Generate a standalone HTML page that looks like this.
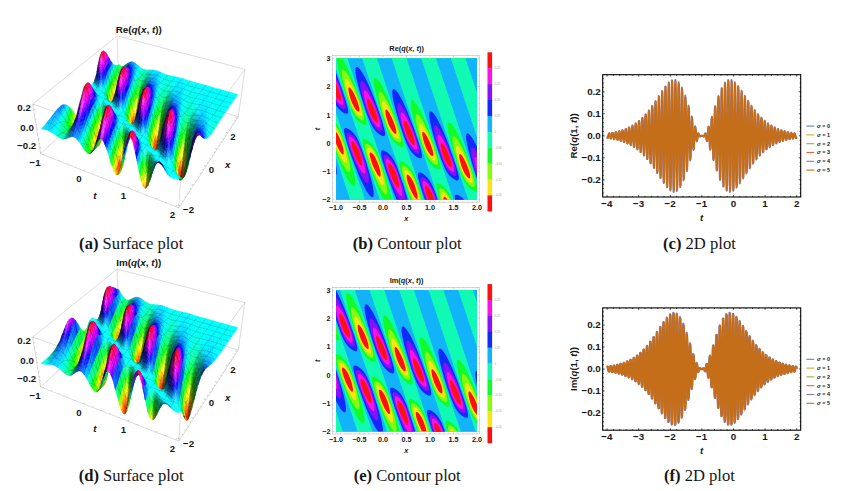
<!DOCTYPE html>
<html lang="en"><head><meta charset="utf-8"><title>Figure</title>
<style>
html,body{margin:0;padding:0;background:#fff;}
body{width:860px;height:491px;overflow:hidden;position:relative;font-family:"Liberation Sans",sans-serif;}
svg{position:absolute;left:0;top:0;display:block;}
svg text{font-family:"Liberation Sans",sans-serif;fill:#161616;}
.s path{fill:currentColor;stroke:currentColor;stroke-width:.45;stroke-linejoin:round}
</style></head><body>
<svg width="860" height="491" viewBox="0 0 860 491">
<rect width="860" height="491" fill="#fff"/>
<g>
<rect x="336" y="58.3" width="141" height="141.4" fill="#fa1111"/>
<path fill="#fae311" fill-rule="evenodd" d="M336.4 199.7L443.5 199.7L443.5 198.5L443.6 197.4L444 196.9L444.4 196.8L445.2 197.1L446 197.7L447.7 199.7L477 199.7L477 58.3L336 58.3L336 131.8L337.6 134L338.7 136L341.1 141.4L343.1 147.8L343.8 152.4L343.5 154L343.1 154.5L342.3 154.2L341.5 153.5L340.3 151.9L338.7 149.3L336 143.5L336 199.7ZM416 198.5L414.2 196.4L411.8 192.2L409.4 187L407.5 181.4L406.6 177.6L406.7 175.3L407.1 174.7L407.5 174.6L408.3 174.9L409.1 175.5L411 177.8L413 181.2L414.6 184.8L416.1 189.4L417.3 194.2L417.6 196.9L417.3 198.6L416.9 198.9L416.1 198.7ZM468.5 178L466.8 176.5L464.8 173.7L462.9 169.7L461.3 165.7L459.8 160.3L459.2 156.8L459.3 154.5L459.7 154L460.5 154.2L462.1 155.8L464 158.9L466.4 163.8L468.4 168.8L469.5 172.5L470.2 176.1L470.2 177.2L469.9 177.9L469.5 178.3L468.8 178.2ZM379.2 176.5L377.6 174.7L375.3 170.8L372.9 165.7L371 160.4L369.9 156.4L369.6 154L369.8 153L370.2 152.5L370.6 152.4L371.3 152.7L372.9 154L374.9 156.8L376.8 160.7L378.4 164.7L380 170.1L380.6 173.7L380.5 176.1L380 176.7L379.6 176.6ZM431.9 156L430.3 154.7L428.3 152.1L426.3 148.4L424.8 144.5L423.2 139.5L422.4 135.5L422.3 132.7L422.7 132L423.2 131.8L424 132.3L424.8 133.1L426.7 136L429.1 140.7L431 145.5L432.6 150.1L433.2 153.2L433.3 154.8L433.1 155.6L432.6 156.1L432.2 156.1ZM394.5 133.5L392.6 131.6L390.6 128.5L388.6 124.4L387.1 120L385.8 115.4L385.3 111.5L385.5 110.2L385.9 109.6L386.3 109.6L387.1 110L389 112.5L391 116L393.3 121.2L395 125.7L396.1 129.7L396.4 132.3L396.1 133.5L395.7 133.8L395.3 133.9L394.5 133.5ZM357.9 111.5L356 109.9L354.1 107L352.1 103.1L350.5 99L349 93.7L348.5 90.2L348.4 88.6L348.6 87.8L349 87.4L349.7 87.5L351.3 89.2L353.3 92.3L355.6 97.1L357.6 102.1L358.8 106L359.5 109.5L359.4 110.7L359.2 111.3L358.8 111.6L358 111.5Z"/>
<path fill="#86fa11" fill-rule="evenodd" d="M336.4 199.7L413.8 199.7L411.4 194.9L409.1 189.4L406.7 183.1L405.1 178.1L404.3 174.5L404.1 171.7L404.4 170.6L404.7 170.1L405.5 170L406.3 170.2L407.5 170.9L409.4 172.8L411.4 175.5L413.4 179L415.3 183.4L417.3 188.8L418.9 194.2L420.2 199.7L441.9 199.7L441.1 196.2L441 193.8L441.4 192.6L442 192.2L442.4 192.2L444 192.8L446 194.6L447.9 197.1L449.5 199.7L477 199.7L477 58.3L336 58.3L336 128.8L338 131.7L339.5 134.6L341.5 139L343.1 143.2L344.6 148.1L345.9 152.8L346.6 156.8L347 160.3L346.6 162.3L346.2 162.7L345.8 162.8L344.6 162.1L343.5 160.9L341.9 158.7L339.9 155.3L336 146.9L336 199.7ZM382.1 184.7L380.8 183.6L379.6 182.1L376.5 176.7L372.9 169.1L369.7 160.7L367.8 154.3L367.2 150.1L367.4 148.5L367.8 147.9L368.6 147.7L369.8 148.1L372.1 150.1L374.9 153.9L377.6 159.3L380 165.4L382.3 173.2L383.7 180L383.9 182.4L383.7 183.9L383.1 184.9L382.3 184.9ZM470.5 182.8L469.1 181.9L468 180.9L465.2 177.2L462.5 172L460.1 166.1L457.7 158.3L456.2 151.2L456 148.5L456.1 146.9L456.6 145.9L457.4 145.8L458.5 146.6L459.7 147.9L462.9 153L466.4 160.4L469.5 168.4L471.7 175.3L472.6 180L472.6 181.6L472.3 182.5L471.5 183L470.7 182.9ZM434.1 160.7L433 160.3L431.4 159L428.7 155.6L425.9 150.6L423.6 144.9L420.8 136.3L419.3 128.9L419.1 126.4L419.2 124.5L419.7 123.7L420.4 123.6L421.6 124.4L422.8 125.7L425.5 130.1L429.1 137.3L432.2 145.1L434.6 152.2L435.7 157.2L435.7 158.7L435.5 159.9L435 160.6L434.2 160.7ZM396.5 138.3L395.3 137.5L393.7 136L391 132.2L388.2 126.7L385.9 120.5L383.5 112.5L382.3 106L382.1 103.6L382.3 102.1L382.7 101.5L383.1 101.3L383.9 101.5L385.1 102.6L386.3 104L389.4 109.3L392.9 116.9L396.1 125L398.1 131.4L398.8 135.9L398.7 137.5L398.3 138.3L397.7 138.5L396.5 138.3ZM359.9 116.2L358.8 115.6L357.2 114.2L354.5 110.6L351.7 105.3L349.4 99.4L347 91.8L345.4 84.4L345.2 81.9L345.4 80L345.8 79.3L346.6 79.1L347.8 79.9L349 81.3L352.1 86.3L355.6 93.7L358.8 101.7L361.1 109.1L361.9 113.4L361.8 115L361.5 115.9L360.7 116.3L360 116.2Z"/>
<path fill="#11fa29" fill-rule="evenodd" d="M336.4 199.7L412.1 199.7L409.4 193.4L406.7 186.2L404.3 179.3L402.7 173.7L402 170.2L401.9 167.8L402 167L402.4 166.3L402.8 166L403.6 165.8L404.7 166.2L405.9 166.8L408.3 168.8L410.6 171.7L413 175.5L415.1 180L417.3 185.7L419.7 192.7L421.7 199.7L440.7 199.7L439.3 194.4L438.8 190.6L438.9 189.5L439.2 188.7L439.7 188.2L440.5 188.1L441.7 188.4L442.8 189L444.4 190.3L446 191.9L448.5 195.4L450.9 199.7L477 199.7L477 58.3L336 58.3L336 126.2L338.4 129.7L340.3 133.5L342.3 138.1L344.6 144.6L347 152.2L348.9 159.5L350 165L350.4 169L350.1 171.2L349.7 171.9L349.4 172.1L348.6 172L347.8 171.5L345.8 169.4L343.5 165.8L341.1 161.4L338.7 156.4L336 150L336 199.7ZM385.4 194.2L383.9 193L382 190.5L380 187.3L377.6 182.8L372.9 172.2L368.2 159.4L365.7 150.9L365.1 147.7L364.9 145.7L365.2 144.6L365.8 143.8L367 143.7L368.6 144.4L370.2 145.5L372.1 147.4L373.7 149.4L375.3 151.9L378.4 158.4L381.6 166.8L385.1 178.7L386.3 183.7L387 187.9L387.3 191L387.1 193.4L386.7 194.1L386.3 194.3L385.5 194.2ZM471.9 186.7L470.3 185.7L468.4 184L466.4 181.6L464.8 179.3L461.7 173L458.5 164.7L455 153L453.8 148.1L452.8 143L452.5 139.8L452.7 137.5L453 136.8L453.4 136.4L453.8 136.3L454.6 136.6L456.2 138L457.8 140L459.7 143.2L462.1 147.6L466.8 158.2L471.1 169.7L473.9 178.6L474.6 182L474.9 184.3L474.7 185.9L474.3 186.8L473.5 187.1L471.9 186.7ZM435.3 164.6L433.8 163.8L431.8 162.2L430.3 160.4L428.7 158.3L427.1 155.7L425.5 152.5L422.4 144.7L418.5 132.3L416.9 126.1L416.1 122.1L415.7 118.6L415.7 115.8L416.1 114.6L416.5 114.2L417.3 114.2L418.9 115.3L420.4 117.3L422.4 120.3L424.4 123.9L428.7 133.2L433.4 145.3L436.5 154.9L437.4 158.3L437.9 161.1L437.9 163.1L437.6 164.3L437.2 164.6L436.5 164.9L435.4 164.7ZM399 142.6L397.3 141.8L395.7 140.7L393.7 138.7L392.2 136.7L390.6 134.2L389 131.1L385.9 123.6L382 111.4L380.4 105.5L379.2 100.1L378.7 96.1L378.8 93.5L379.4 92.2L380 91.9L380.4 92L381.6 92.8L383.1 94.5L385.1 97.4L387.1 100.9L391 109.1L395.3 119.8L398.8 130.1L400.8 137.6L401.1 139.8L400.9 141.4L400.4 142.3L400 142.6L399.2 142.6ZM361.3 120.1L359.6 119.1L358 117.7L356 115.5L354.5 113.3L351.6 107.9L348.6 100.2L344.6 87.8L343.1 81.6L342.3 77.6L341.8 74.1L341.9 71.3L342.3 70.1L342.7 69.8L343.5 69.8L345 70.9L346.6 72.8L348.6 75.9L350.5 79.4L354.9 88.7L359.6 100.8L362.7 110.5L363.7 114.2L364.1 117L364.1 119L363.5 120.1L362.7 120.4L361.5 120.2Z"/>
<path fill="#11fab4" fill-rule="evenodd" d="M336.4 199.7L383.6 199.7L379.6 191.7L374.9 180.5L370.2 168L365.5 154.1L363.4 146.9L362.5 142.2L362.5 140.6L362.8 139.8L363.5 139.2L364.3 139.1L365.8 139.6L367.4 140.4L369.4 141.8L371.3 143.6L372.9 145.4L374.5 147.6L377.2 152.8L381.2 162.8L385.9 177.2L389.4 189.6L391.7 199.7L410.6 199.7L404.3 182.3L400.3 169.4L399.6 165.8L399.4 163.5L399.8 161.9L400.2 161.5L400.8 161.3L402 161.5L403.6 162.1L406.7 164.3L409.7 167.4L412.2 171.1L414.3 175.3L416.7 181.2L419.7 189.6L422.9 199.7L439.7 199.7L437.3 191.8L436.3 187.1L436.3 185.5L436.5 184.3L436.9 183.8L437.7 183.5L439.3 183.8L441.7 185.1L444 186.9L446 188.9L447.5 190.9L449.1 193.3L452.2 199.7L477 199.7L477 191L476.6 191.4L475.8 191.6L473.9 191.1L471.1 189.4L468.4 187L466.4 184.7L464.4 181.6L462.6 178L460.9 173.9L455.8 159.3L451.1 143.6L448.4 132.3L447.9 128.8L447.6 125.7L447.9 123.4L448.5 122.5L449.5 122.4L451.1 123.5L452.6 125.3L454.6 128.2L458.9 136.3L463.6 147L469.1 161.3L474.3 176.5L475.9 181.6L477 186.1L477 58.3L341.6 58.3L343.5 60.9L345.4 64.3L349.7 73L354.5 84.2L359.6 97.9L363.9 110.8L366.2 119.4L366.6 122.1L366.5 123.7L366.2 124.4L365.8 124.7L365.1 125L363.5 124.6L361.5 123.6L359.6 122.2L357.4 120.1L355.6 118L354.2 115.8L351.4 110.3L347.4 99.7L342.3 83.8L339.6 74.1L338 67.4L337.1 62.2L336.9 58.3L336 58.3L336 123.2L338.5 126.8L340.9 132L343.7 139L347 148.8L350.6 160.3L353.3 170.5L354.8 178L355.3 182.8L355.2 184.3L354.9 185.4L354.5 186L353.7 186.1L352.9 185.8L351.7 184.9L349 181.3L346.2 176.6L343.1 170.3L339.5 162.2L336 153.2L336 199.7ZM438.8 169.4L436.9 168.9L434.6 167.5L432.2 165.6L430.3 163.4L428.5 161.1L426.9 158.3L423.6 150.7L420.4 141.9L416.9 130.9L414.2 121.4L412.2 113.6L411.1 107.5L410.7 103.6L411 101.2L411.4 100.4L412.2 100.1L413 100.4L413.8 100.9L415.3 102.6L417.3 105.4L419.3 108.7L424 118.3L429.1 130.7L435.4 148.1L438.1 156.4L439.6 161.9L440.3 165L440.5 167.4L440.1 168.8L439.7 169.2L438.9 169.4ZM400.7 146.9L398.4 145.8L396.1 144.1L394.1 142.1L392.2 139.7L390.6 137.2L389 134.1L385.5 125.3L382.3 116.1L379.2 106L376.5 96.2L374.9 89.5L374 84.3L373.9 80.4L374.1 79L374.5 78.2L374.9 78L375.7 78L377.2 79.1L379.2 81.4L381.6 85.1L383.9 89.4L389 100.6L394.9 115.8L400.4 131.8L402 137.1L403.2 141.8L403.6 145L403.2 146.5L402.4 147.1L400.8 147Z"/>
<path fill="#11b4fa" fill-rule="evenodd" d="M336.4 199.7L350.1 199.7L336 157.2L336 199.7ZM365.1 199.7L379.7 199.7L356.9 131.2L355.6 126.8L355 126L354.5 124.1L336 68.4L336 112.8L336.5 115L337.1 115.8L364.9 199.7ZM394.5 199.7L409.2 199.7L392.6 149.7L392.6 148.9L391.9 148.1L362.2 58.3L347.4 58.3L373.5 137.1L374.1 137.9L374.5 139.8L394.4 199.7ZM424 199.7L438.7 199.7L429.4 171.3L428.8 170.6L428.7 169.8L427.8 167L391.7 58.3L376.9 58.3L409.8 157.2L410.4 159.1L410.2 159.5L410.9 159.9L423.9 199.7ZM453.4 199.6L453.5 199.7L468.3 199.7L466.4 194.2L466.4 193.4L465.8 192.6L421.2 58.3L406.5 58.3L446.4 178.4L447.3 181.6L447.9 182.4L453.3 199.3ZM477 181.6L477 137.2L450.8 58.3L436 58.3L477 181.6ZM477 92.8L477 58.3L465.5 58.3L476.9 92.6Z"/>
<path fill="#1129fa" fill-rule="evenodd" d="M396.9 199.7L407.6 199.7L406.3 195L403.2 184.6L399.6 173.9L396.7 166.2L394.3 161.1L391.8 157L389 153.9L387.5 152.6L385.5 151.3L383.9 150.5L382.7 150.2L382 150.3L381.3 150.9L380.9 152.4L381.2 155.2L382.3 159.9L385.1 168.8L389 180.2L392.9 190.6L396.7 199.7ZM425.2 199.7L437.8 199.7L435.4 192.9L433.2 187.5L431.4 183.7L429.5 180.3L427.1 177.3L424.4 174.8L421.6 173.1L420.4 172.6L419.3 172.4L418.5 172.7L417.9 173.7L417.8 175.3L418.2 178L420.4 186.1L425 199.7ZM455 199.5L455 199.7L464.2 199.7L462.1 197.6L460.1 196.2L458.1 195.1L456.6 194.7L455.4 194.9L454.9 195.8L454.7 197.3L455 199.3ZM371.3 196.9L372.5 197.2L373 196.9L373.4 196.2L373.7 193.4L373.3 189.5L372.5 185L371 178.4L366.2 162.3L361.5 148.4L358 140L356.2 136.7L354.5 134.3L352.5 132.1L350.1 130.1L348.2 128.8L346.2 128.1L345 128.1L344.5 128.4L344.1 129.2L344 130.8L344.4 133.5L347 143L350.1 152.4L354.1 163.3L357.6 172.3L360.7 179.7L363.9 186.2L366.6 191.2L369.4 195.1L371.3 196.9ZM457 180.5L458.1 180.3L458.7 179.6L458.9 178.8L458.8 176.9L458.2 173.3L456.6 167.8L454.2 160.4L448.3 143.8L442.8 130.3L438.1 120.5L435.8 116.5L433.8 113.7L432.2 112L431.4 111.5L430.7 111.2L429.9 111.6L429.5 112.3L429.2 114.6L429.5 118.6L430.7 124.7L432.6 132.5L435.4 142L438.5 151.8L441.7 160.8L445 168.6L446.5 171.3L448.1 173.7L449.9 175.9L452.3 178L454.6 179.6L456.6 180.4ZM477 178.6L477 146.6L474.6 142L472.7 138.7L470.7 135.9L469.1 134.2L468 133.5L467.2 133.5L466.8 133.8L466.3 134.7L466.1 136.7L466.3 139.4L466.8 143L468.8 151.8L472.3 164.3L476.9 178.4ZM336.3 174.5L336.7 172.9L336.8 170.9L336 164.7L336 174.9ZM419.3 158.1L420.8 158.2L421.7 157.6L422 156L421.7 153.2L420.8 149.3L418.9 143L413.4 126.9L407.5 111.7L402.4 100.6L400 96.2L397.7 92.5L395.7 90.2L394.1 89.1L393.3 89.1L392.9 89.4L392.5 90.2L392.3 91.8L392.5 95.7L393.3 100.6L394.9 107.3L397.3 115.8L400.8 127.2L403.9 136.4L407.5 145.2L409.1 148.3L410.6 150.8L412.6 153.3L414.6 155.2L416.9 156.9L418.9 157.9ZM382.7 136L383.5 136.1L384.2 135.9L384.9 135.1L385.1 133.1L384.7 130.4L383.5 125.9L381.6 119.5L375.7 102.5L370.2 88.6L365.1 77.6L362.7 73.3L360.7 70.3L358.8 68L357.2 66.9L356.4 66.9L356 67.1L355.6 67.9L355.4 69.3L355.6 73.3L356.4 78.4L358 85.1L360.7 94.9L364.3 106.2L367.3 115L370.7 123.3L372.4 126.4L373.9 128.8L375.7 131L378 133.3L380.4 134.9L382.5 135.9ZM346.6 113.8L347.4 113.6L347.8 113.3L348.2 111.9L348 109.5L347.1 105.6L345.4 99.7L342.7 91.4L336 73.1L336 105.2L338.4 108.4L341.1 111.1L343.9 113L345.4 113.6L346.4 113.8Z"/>
<path fill="#8611fa" fill-rule="evenodd" d="M399.2 199.7L405.6 199.7L405 196.2L404 191.4L401.2 181.6L397.3 170.4L395.3 166L393.3 162.3L391.4 159.5L389 156.9L387.1 155.5L385.1 154.7L384.3 154.9L383.7 155.6L383.4 156.4L383.4 157.9L384.2 162.3L385.9 168.2L389 177.2L392.6 186.1L396.1 193.9L399.2 199.7ZM425.9 199.4L426 199.7L436.8 199.7L435.4 195.7L432.1 187.9L430.4 184.7L428.7 182.2L426.7 179.9L424.4 177.9L422.4 177L421.2 177.1L420.7 177.6L420.3 178.8L420.4 180.8L420.8 183.2L422.8 190.4L425.9 199.3ZM457.8 199.7L460.6 199.7L458.9 199.2L458.1 199.3L457.7 199.7ZM367.4 183.3L367.8 183.2L368.4 182.8L368.8 181.2L368.8 178.4L368.2 174.5L365.8 164.6L361.9 152.3L358.8 144.6L357.2 141.5L355.6 138.9L354.1 136.8L352.1 134.7L350.5 133.5L349 132.7L347.8 132.5L346.9 133.1L346.5 134.3L346.6 136.3L347 139L348.2 143.4L351.3 152.8L356 164.8L360.4 174L362.3 177.5L364.3 180.5L365.8 182.3L367.1 183.2ZM453.8 175.8L455 176L455.8 175.7L456.3 174.5L456.4 172.5L455.9 169.8L455.1 166.2L451.9 156.4L447.2 144.3L442.8 135L440.9 131.4L438.9 128.4L437.3 126.5L435.8 125.3L435 125.3L434.6 125.7L434.2 126.8L434.1 129.6L434.6 133.1L435.4 137.2L436.9 143.4L440.9 155.8L443.9 163.5L446.8 168.8L448.3 171.1L450.3 173.3L451.9 174.6L453.6 175.7ZM477 175.8L477 152.3L474.6 149.1L473.5 148L472.7 147.5L471.9 147.5L471.5 147.9L471.1 148.9L471 150.5L471.5 155.2L472.7 161.1L474.6 168.4L477 175.7ZM417.3 153.7L418.5 153.7L419.3 152.9L419.5 151.6L419.4 149.7L418.9 146.8L417.7 142.6L414.6 133.1L409.8 121.1L405.5 112L403.6 108.5L401.6 105.6L400 103.9L398.8 103.1L397.9 103.2L397.6 103.6L397.3 104.6L397.2 107.1L397.7 111L398.5 115L400 121.1L403.9 133.6L407.1 141.4L408.7 144.6L410.2 147.2L411.8 149.3L413.8 151.4L415.7 153L417.1 153.6ZM379.6 131.2L381.2 131.5L382 131.2L382.5 130.4L382.6 128.8L382.3 126.4L381.6 123L378.8 114.2L374.5 102.7L369.8 92.1L367.4 87.6L365.5 84.5L363.9 82.4L362.3 81.1L361.5 80.8L361.1 80.9L360.7 81.3L360.5 81.9L360.3 84.3L360.5 87.4L361.5 92.6L362.7 97.5L366.2 109.1L369.4 117.4L372.5 123.7L374.1 126.1L376.1 128.5L378 130.2L379.6 131.2ZM343.1 109.1L343.9 109.3L344.6 109.3L345 109L345.5 108.3L345.7 106.4L345.1 102.8L343.9 98L341.5 90.8L338.7 83.4L336 76.7L336 102.1L337.6 104.4L339.5 106.6L341.5 108.3L343 109.1Z"/>
<path fill="#fa11e3" fill-rule="evenodd" d="M427.1 199.5L427.2 199.7L435.7 199.7L434.2 195.5L431.4 189.3L428.7 184.9L427.1 183L425.5 181.7L424.4 181.1L423.6 181.1L423.2 181.3L422.7 182L422.5 183.2L423 186.7L424.4 191.8L427 199.3ZM400.4 195.8L401.2 196.1L401.6 196L402 195.6L402.3 194.2L402.3 192.6L401.5 187.5L399.6 180.2L397.3 173.3L394.5 167.1L392.2 163.2L390.6 161.2L389.4 160.1L388.2 159.3L387.1 158.8L386.3 159L385.8 159.9L385.6 161.5L385.9 163.5L387.4 169.4L390.6 178.3L394.1 186.3L397.7 192.6L399.2 194.7L400.4 195.8ZM363.9 173.8L364.7 173.8L365.2 172.9L365.4 171.3L365.3 169L363.9 162.1L361.5 154.3L359.2 148.2L356.4 142.8L353.7 139L351.3 137L350.1 136.6L349.4 136.8L348.9 137.5L348.7 139L349.4 143.2L351.3 149.8L354.5 158L358 165.6L361.1 171L362.7 172.9L363.8 173.7ZM477 172.4L477 157.7L475.8 156.9L475 157L474.6 157.9L474.4 159.5L475 164.6L476.9 172.1ZM452.3 171.7L453 171.9L453.8 171.4L454.1 170.6L454.2 169L453.4 164.6L451.1 157.2L447.9 149.3L444.4 141.9L441.3 136.8L440.1 135.5L438.9 134.7L438.1 134.8L437.6 135.9L437.5 137.5L437.7 140L439.3 147.3L441.7 155L444 160.9L446.8 166.1L449.5 169.8L451.1 171.1L452.2 171.7ZM414.9 149.4L416.1 149.6L416.8 149.3L417.2 148.5L417.3 147.3L417.1 145.3L416.5 142.6L414.6 136.1L411.4 128L407.9 120.4L404.7 115.1L403.6 113.7L402.4 112.6L401.6 112.4L401.2 112.6L400.8 113.2L400.6 114.6L400.7 117L402 123.6L404.3 131.6L406.7 137.8L409.4 143.3L412.2 147.1L413.4 148.3L414.8 149.3ZM378.4 127.3L379.2 127.4L380 127L380.3 126L380.4 124.5L379.5 120.1L377.2 112.8L374.1 104.8L370.6 97.4L367.4 92.4L366.2 91L365.1 90.2L364.3 90.4L363.8 91.4L363.7 93L363.9 95.5L365.4 102.8L367.8 110.5L370.2 116.4L372.9 121.7L375.7 125.3L376.8 126.4L378.2 127.2ZM341.9 105.2L342.7 105.1L343.1 104.8L343.4 103.6L343.4 101.6L342.9 98.9L340.3 90.6L338.4 85.4L336 80L336 99.5L337.6 101.7L339.1 103.5L340.7 104.7L341.8 105.2Z"/>
<path fill="#fa1111" fill-rule="evenodd" d="M428.7 199.7L434.3 199.7L432.6 194.9L430.3 190.2L427.9 186.9L426.7 186L425.9 185.7L425.4 185.9L425.1 186.7L425.2 189.5L426.3 193.8L428.6 199.7ZM397.7 187.5L398.4 187.8L398.8 187.5L399.1 185.9L398.8 183.1L397.7 178.2L396.1 173.7L394.5 170.1L392.6 166.7L390.6 164.3L389.8 163.8L389 163.5L388.6 163.6L388.2 164.3L388.2 166.6L389 170.3L391 175.9L393.3 181.1L395.7 185.3L397.6 187.5ZM450.3 167.1L451.1 167.2L451.5 166.8L451.7 165L451.1 161.5L449.9 157.7L447.9 152.7L445.6 147.8L443.6 144.7L442 143.1L441.3 142.9L440.9 143.4L440.7 145.7L441.3 149.3L442.8 154.5L444.4 158.6L446.4 162.6L448.3 165.4L450.2 167ZM361.1 165.5L361.5 165.6L362 165L362.2 162.7L361.5 158.9L360 153.6L358.4 149.6L356.4 145.7L354.5 142.9L352.9 141.5L352.1 141.3L351.7 141.4L351.3 141.9L351.2 143L351.7 146.5L352.9 150.5L354.9 155.5L357.2 160.4L359.2 163.6L360.4 165L360.9 165.4ZM413.8 145L414.2 145L414.6 144.6L414.8 143.8L414.8 142.2L414.1 139L412.6 134.3L410.6 129.6L408.3 124.9L406.3 122L405.5 121.2L404.7 120.7L404.3 120.7L403.9 121.3L403.8 122.5L403.9 124.5L404.7 128.4L406.3 133.4L407.9 137.3L409.8 141L411.8 143.6L413 144.7L413.7 145ZM376.5 122.6L377.2 122.7L377.6 122.4L377.9 120.9L377.4 117.8L376.1 113.2L374.1 108.2L371.7 103.4L369.8 100.3L368.2 98.7L367.4 98.5L367 99.1L366.9 101.2L367.5 104.8L369 110.1L370.6 114.2L372.5 118.1L374.5 121L376.2 122.5ZM339.9 100.6L340.3 100.5L340.7 100.2L340.9 99.7L341 98.1L340.7 96.1L338.7 89.9L336 83.5L336 96.6L338 99.2L339.6 100.4Z"/>
<rect x="332.7" y="55.5" width="146.7" height="146.7" fill="none" stroke="#b0b0b0" stroke-width="0.5"/>
<path d="M336.0 202.2v-1.6M336.0 55.5v1.6M340.7 202.2v-0.9M340.7 55.5v0.9M345.4 202.2v-0.9M345.4 55.5v0.9M350.1 202.2v-0.9M350.1 55.5v0.9M354.8 202.2v-0.9M354.8 55.5v0.9M359.5 202.2v-1.6M359.5 55.5v1.6M364.2 202.2v-0.9M364.2 55.5v0.9M368.9 202.2v-0.9M368.9 55.5v0.9M373.6 202.2v-0.9M373.6 55.5v0.9M378.3 202.2v-0.9M378.3 55.5v0.9M383.0 202.2v-1.6M383.0 55.5v1.6M387.7 202.2v-0.9M387.7 55.5v0.9M392.4 202.2v-0.9M392.4 55.5v0.9M397.1 202.2v-0.9M397.1 55.5v0.9M401.8 202.2v-0.9M401.8 55.5v0.9M406.5 202.2v-1.6M406.5 55.5v1.6M411.2 202.2v-0.9M411.2 55.5v0.9M415.9 202.2v-0.9M415.9 55.5v0.9M420.6 202.2v-0.9M420.6 55.5v0.9M425.3 202.2v-0.9M425.3 55.5v0.9M430.0 202.2v-1.6M430.0 55.5v1.6M434.7 202.2v-0.9M434.7 55.5v0.9M439.4 202.2v-0.9M439.4 55.5v0.9M444.1 202.2v-0.9M444.1 55.5v0.9M448.8 202.2v-0.9M448.8 55.5v0.9M453.5 202.2v-1.6M453.5 55.5v1.6M458.2 202.2v-0.9M458.2 55.5v0.9M462.9 202.2v-0.9M462.9 55.5v0.9M467.6 202.2v-0.9M467.6 55.5v0.9M472.3 202.2v-0.9M472.3 55.5v0.9M477.0 202.2v-1.6M477.0 55.5v1.6M332.7 199.7h1.6M479.4 199.7h-1.6M332.7 194.0h0.9M479.4 194.0h-0.9M332.7 188.4h0.9M479.4 188.4h-0.9M332.7 182.7h0.9M479.4 182.7h-0.9M332.7 177.1h0.9M479.4 177.1h-0.9M332.7 171.4h1.6M479.4 171.4h-1.6M332.7 165.8h0.9M479.4 165.8h-0.9M332.7 160.1h0.9M479.4 160.1h-0.9M332.7 154.5h0.9M479.4 154.5h-0.9M332.7 148.8h0.9M479.4 148.8h-0.9M332.7 143.1h1.6M479.4 143.1h-1.6M332.7 137.5h0.9M479.4 137.5h-0.9M332.7 131.8h0.9M479.4 131.8h-0.9M332.7 126.2h0.9M479.4 126.2h-0.9M332.7 120.5h0.9M479.4 120.5h-0.9M332.7 114.9h1.6M479.4 114.9h-1.6M332.7 109.2h0.9M479.4 109.2h-0.9M332.7 103.5h0.9M479.4 103.5h-0.9M332.7 97.9h0.9M479.4 97.9h-0.9M332.7 92.2h0.9M479.4 92.2h-0.9M332.7 86.6h1.6M479.4 86.6h-1.6M332.7 80.9h0.9M479.4 80.9h-0.9M332.7 75.3h0.9M479.4 75.3h-0.9M332.7 69.6h0.9M479.4 69.6h-0.9M332.7 64.0h0.9M479.4 64.0h-0.9M332.7 58.3h1.6M479.4 58.3h-1.6" stroke="#8c8c8c" stroke-width="0.4" fill="none"/>
<text x="336" y="210.2" font-size="7.2" text-anchor="middle" font-weight="bold" >−1.0</text>
<text x="359.5" y="210.2" font-size="7.2" text-anchor="middle" font-weight="bold" >−0.5</text>
<text x="383" y="210.2" font-size="7.2" text-anchor="middle" font-weight="bold" >0.0</text>
<text x="406.5" y="210.2" font-size="7.2" text-anchor="middle" font-weight="bold" >0.5</text>
<text x="430" y="210.2" font-size="7.2" text-anchor="middle" font-weight="bold" >1.0</text>
<text x="453.5" y="210.2" font-size="7.2" text-anchor="middle" font-weight="bold" >1.5</text>
<text x="477" y="210.2" font-size="7.2" text-anchor="middle" font-weight="bold" >2.0</text>
<text x="330.4" y="202.3" font-size="7.2" text-anchor="end" font-weight="bold" >−2</text>
<text x="330.4" y="174" font-size="7.2" text-anchor="end" font-weight="bold" >−1</text>
<text x="330.4" y="145.7" font-size="7.2" text-anchor="end" font-weight="bold" >0</text>
<text x="330.4" y="117.5" font-size="7.2" text-anchor="end" font-weight="bold" >1</text>
<text x="330.4" y="89.2" font-size="7.2" text-anchor="end" font-weight="bold" >2</text>
<text x="330.4" y="60.9" font-size="7.2" text-anchor="end" font-weight="bold" >3</text>
<text x="406.3" y="221.2" font-size="7.2" text-anchor="middle" font-weight="bold" font-style="italic">x</text>
<text transform="translate(320.3,129) rotate(-90)" font-size="7.2" text-anchor="middle" font-weight="bold" font-style="italic">t</text>
<text x="406.6" y="51" font-size="7.4" text-anchor="middle" font-weight="bold" >Re(<tspan font-style="italic">q</tspan>(<tspan font-style="italic">x</tspan>, <tspan font-style="italic">t</tspan>))</text>
<rect x="487.5" y="52.30" width="4.6" height="16.10" fill="#fa1111"/>
<rect x="487.5" y="68.20" width="4.6" height="16.10" fill="#fa11e3"/>
<rect x="487.5" y="84.10" width="4.6" height="16.10" fill="#8611fa"/>
<rect x="487.5" y="100.00" width="4.6" height="16.10" fill="#1129fa"/>
<rect x="487.5" y="115.90" width="4.6" height="16.10" fill="#11b4fa"/>
<rect x="487.5" y="131.80" width="4.6" height="16.10" fill="#11fab4"/>
<rect x="487.5" y="147.70" width="4.6" height="16.10" fill="#11fa29"/>
<rect x="487.5" y="163.60" width="4.6" height="16.10" fill="#86fa11"/>
<rect x="487.5" y="179.50" width="4.6" height="16.10" fill="#fae311"/>
<rect x="487.5" y="195.40" width="4.6" height="16.10" fill="#fa1111"/>
<path d="M492.1 68.2h1.4" stroke="#999" stroke-width="0.3"/>
<text x="494.6" y="69.2" font-size="2.8" text-anchor="start" font-weight="normal" style="fill:#999">0.20</text>
<path d="M492.1 84.1h1.4" stroke="#999" stroke-width="0.3"/>
<text x="494.6" y="85.1" font-size="2.8" text-anchor="start" font-weight="normal" style="fill:#999">0.15</text>
<path d="M492.1 100.0h1.4" stroke="#999" stroke-width="0.3"/>
<text x="494.6" y="101" font-size="2.8" text-anchor="start" font-weight="normal" style="fill:#999">0.10</text>
<path d="M492.1 115.9h1.4" stroke="#999" stroke-width="0.3"/>
<text x="494.6" y="116.9" font-size="2.8" text-anchor="start" font-weight="normal" style="fill:#999">0.05</text>
<path d="M492.1 131.8h1.4" stroke="#999" stroke-width="0.3"/>
<text x="494.6" y="132.8" font-size="2.8" text-anchor="start" font-weight="normal" style="fill:#999">0</text>
<path d="M492.1 147.7h1.4" stroke="#999" stroke-width="0.3"/>
<text x="494.6" y="148.7" font-size="2.8" text-anchor="start" font-weight="normal" style="fill:#999">−0.05</text>
<path d="M492.1 163.6h1.4" stroke="#999" stroke-width="0.3"/>
<text x="494.6" y="164.6" font-size="2.8" text-anchor="start" font-weight="normal" style="fill:#999">−0.10</text>
<path d="M492.1 179.5h1.4" stroke="#999" stroke-width="0.3"/>
<text x="494.6" y="180.5" font-size="2.8" text-anchor="start" font-weight="normal" style="fill:#999">−0.15</text>
<path d="M492.1 195.4h1.4" stroke="#999" stroke-width="0.3"/>
<text x="494.6" y="196.4" font-size="2.8" text-anchor="start" font-weight="normal" style="fill:#999">−0.20</text>
</g>
<g>
<rect x="336" y="290.1" width="141" height="141.4" fill="#fa1111"/>
<path fill="#fae311" fill-rule="evenodd" d="M336.4 431.5L422 431.5L418.9 424.8L416.5 418.1L416 415.7L415.8 413.8L415.9 412.6L416.1 412.2L416.5 412L417.7 412.3L418.9 413.4L420.4 415.5L422 418.2L423.6 421.7L424.8 424.9L425.9 428.7L426.5 431.5L477 431.5L477 414.9L475.8 413.6L474.3 411.4L472.7 408.4L471.5 405.7L470.3 402.4L469.2 398.4L468.6 395.7L468.4 393.3L468.7 391.7L469.1 391.3L469.9 391.7L471.1 392.9L473.9 397.4L477 404.5L477 290.1L336 290.1L336 431.5ZM388.4 413.8L386.7 411.8L384.7 408.5L382.3 403.5L380.4 398.4L379.2 394.2L378.8 391.3L379.1 390.1L379.6 389.8L380.8 390.1L382.3 391.6L384.3 394.5L386.3 398.5L387.8 402.6L389.2 407.5L389.9 411.4L389.8 413.4L389.4 414L388.6 413.9ZM441 393.3L439.3 391.9L437.3 389.1L435.4 385.3L433.8 381.4L432.2 376.1L431.5 372L431.5 370.4L431.7 369.7L431.9 369.3L432.6 369.2L434.2 370.7L436.2 373.7L438.5 378.5L440.5 383.3L441.8 387.4L442.5 390.9L442.3 392.9L442 393.3L441.3 393.4ZM351.8 391.7L350.1 390.1L348.2 387L345.8 382.2L343.9 377.3L342.6 373.2L341.9 369.7L342 368.5L342.3 367.8L342.7 367.6L343.5 367.7L345 369L347 371.6L349 375.4L350.5 379.3L352.1 384.4L352.9 388.4L352.9 391.1L352.5 391.8L352.1 391.8ZM404.7 371.2L403.9 371L403.2 370.5L401.2 368.1L399.2 364.8L397.7 361.2L396.1 356.7L394.8 351.5L394.6 348.4L394.9 347.2L395.3 346.9L396.1 347.2L396.9 348L398.8 350.8L401.2 355.4L403.2 360.1L404.7 364.7L405.5 368.1L405.5 370.4L405.1 371.1L404.7 371.2ZM367 348.8L365.1 347L363.1 344L361.1 340L359.6 335.7L358.3 331.5L357.7 327.1L357.7 325.9L358 324.9L358.4 324.7L359.2 325L360.7 326.8L363.1 330.7L365.1 334.9L367.1 340.1L368.2 344.1L368.7 347.2L368.6 348.2L368.2 348.9L367.8 349L367 348.8Z"/>
<path fill="#86fa11" fill-rule="evenodd" d="M336.4 431.5L420.3 431.5L416.5 422.1L413.9 413.8L413.4 411L413.3 409L413.8 407.7L414.6 407.3L416.1 407.8L418.1 409.5L420.1 412L421.6 414.5L423.6 418.4L425.2 422.3L428.1 431.5L450.2 431.5L450.7 429.9L451.5 429.5L453 430L454.8 431.5L477 431.5L477 418L475 415.5L473.1 412.2L471.1 408L469.5 404L467.9 399.2L466.4 393.5L465.5 389.4L465.2 385.8L465.4 383.8L466 383.1L466.4 383.1L467.2 383.4L468.8 385L470.7 387.9L472.7 391.5L475 396.4L477 401.1L477 290.1L336 290.1L336 431.5ZM391.3 422L390.2 421.2L388.6 419.1L385.1 412.9L381.6 405L378.4 396.5L376.8 390.5L376.4 388.2L376.4 386.6L376.8 385.5L377.6 385.1L378.4 385.2L379.6 385.9L380.8 386.9L382.3 388.7L384.7 392.3L387.5 398.1L389.8 404.5L391.8 411.4L393 418.1L393.1 420.1L392.8 421.7L392.6 422.1L392.2 422.3L391.4 422.1ZM354.6 400L353.7 399.3L352.5 398L349.4 393L345.8 385.6L342.7 377.7L340.5 370.8L339.5 366.1L339.5 364.5L339.9 363.4L340.7 362.9L341.5 363L342.7 363.7L343.9 364.7L346.6 368.1L349.4 373.1L351.7 378.9L354.5 387.6L355.9 394.5L356.2 396.8L356.1 398.8L355.6 399.9L354.9 400.1ZM443.1 398L442 397.5L440.5 396.2L437.7 392.7L435 387.6L432.6 381.8L429.9 372.9L428.5 366.1L428.3 363.4L428.5 361.8L428.7 361.3L429.1 360.9L429.9 361L431 361.9L432.2 363.3L435.4 368.5L438.5 375.1L441.7 382.9L444 390.1L444.9 394.9L444.8 397.2L444.1 398L443.2 398.1ZM405.6 375.6L404.3 374.7L403.2 373.6L400.4 369.8L397.7 364.5L395.3 358.4L392.9 350.6L392.1 346.8L391.5 343.3L391.4 340.9L391.6 339.3L392.2 338.7L392.9 338.8L394.1 339.7L395.3 341.1L398.4 346.3L402 353.8L405.1 361.8L407.1 368.1L407.8 371.2L408.1 373.2L407.9 374.8L407.5 375.6L406.7 375.9L405.9 375.7ZM369 353.5L367.8 352.8L366.2 351.4L363.5 347.6L360.7 342.3L358.4 336.2L356 328.3L354.6 321.2L354.4 318.9L354.7 317.3L355.2 316.5L356 316.6L357.2 317.5L358.4 318.9L361.5 324.1L364.7 330.6L367.8 338.5L370.1 345.6L371.1 350.4L371.1 351.9L370.8 353.1L370.2 353.6L369.4 353.6Z"/>
<path fill="#11fa29" fill-rule="evenodd" d="M336.4 431.5L394.5 431.5L393.3 430.6L391.8 428.7L388.2 422.9L384.3 414.7L380 404L376.5 393.8L374.5 386.4L374.2 383.8L374.3 382.3L374.9 381.2L375.7 381L377.2 381.4L378.8 382.4L380.8 384.1L382.3 386L383.9 388.3L385.4 390.9L388.2 397.2L392.2 408.5L395.3 420.1L396.1 424.4L396.5 428L396.4 430.3L395.8 431.5L419 431.5L414.6 419.6L412.9 414.6L411.7 409.8L411.1 406.7L411.2 404.7L411.7 403.5L412.6 403.2L413.4 403.3L414.6 403.8L416.9 405.6L419.3 408.2L421.2 411.1L423.2 414.9L425.2 419.4L427.1 424.7L429.3 431.5L448.5 431.5L448 428.7L448.1 426.8L448.3 426.1L448.7 425.6L449.5 425.4L451.1 425.8L453 427.1L455 429L457 431.5L477 431.5L477 420.7L474.6 417.6L472.5 413.8L470.3 408.9L468 402.6L465.2 393.9L463.3 386.6L462.1 380.7L461.8 376.8L462.1 374.4L462.5 373.9L463.3 373.7L464 374.1L464.8 374.7L466.8 377.1L469.1 380.9L471.5 385.4L474.3 391.4L477 398L477 290.1L336 290.1L336 329.5L336.5 333L336.4 334.2L336 335.1L336 431.5ZM358 409.4L356.4 408.4L354.9 406.5L352.9 403.4L350.9 399.9L346.2 389.7L341.5 377.4L338.4 367.7L337.6 364.1L337.3 361.8L337.3 360.2L337.6 359.5L338 359L339.1 358.8L340.3 359.2L341.9 360.2L343.9 361.9L345.4 363.8L347 366L348.6 368.8L350.1 372.1L353.3 380.2L356.8 391.7L358.3 397.6L359.2 402L359.6 405.5L359.5 407.9L359.1 409L358.8 409.4L358 409.5ZM444.5 402L442.8 401L441.3 399.7L439.3 397.6L437.7 395.4L436.2 392.7L434.6 389.5L431.4 381.5L427.5 368.9L426 362.6L425.2 358.6L424.9 355.1L425 352.7L425.5 351.7L425.9 351.5L426.7 351.6L428.3 352.9L429.9 354.9L431.8 358L433.8 361.6L438.1 371L442.4 382.1L445.6 391.7L446.6 395.7L447.1 398.4L447.2 400.4L446.8 401.7L446 402.2L444.8 402.1ZM408 379.9L406.3 379.1L404.7 377.9L402.8 375.8L401.2 373.7L398.2 368.5L395.3 361.4L391.4 349.5L389.8 343.7L388.6 338.2L388 334.2L388 331.5L388.3 329.9L388.6 329.5L389.4 329.3L390.6 329.9L392.2 331.6L394.1 334.5L396.1 337.9L400.4 346.9L404.7 357.7L408.3 368.1L409.5 372.4L410.1 375.6L410.3 377.5L410 379.1L409.4 379.8L408.3 380ZM370.5 357.5L369 356.6L367 354.9L365.5 353.1L363.8 350.8L360.7 345L357.6 337L353.7 324.4L352.1 318.1L351.4 314.1L351 310.6L351.2 308.2L351.7 307.3L352.1 307.1L352.9 307.2L354.5 308.5L356 310.5L358 313.6L360 317.2L364.3 326.5L369 338.7L372.1 348.4L372.9 351.7L373.3 354.3L373.3 356.3L372.9 357.3L372.1 357.8L370.6 357.5Z"/>
<path fill="#11fab4" fill-rule="evenodd" d="M336.4 431.5L390 431.5L386.3 423.2L382.3 413.3L378 401.4L374 389.4L372.4 383.4L371.7 379.5L371.7 377.9L372 377.1L372.5 376.6L373.3 376.5L374.9 376.8L376.5 377.6L378.4 379L380.4 380.7L383.3 384.2L385.9 388.9L389 396.4L392.9 407.7L396.9 420.5L399.8 431.5L417.8 431.5L412.2 415.5L409.2 405.1L408.6 402L408.7 400.1L409.1 399.2L409.4 398.8L410.2 398.7L411.4 398.9L412.6 399.4L415.7 401.5L418.5 404.2L421.1 407.9L423 411.4L425.2 416.6L430.4 431.5L447.2 431.5L446 426.8L445.5 423.2L445.6 422L446 421.4L446.4 421.1L447.2 420.9L448.3 421.1L449.9 421.8L451.9 423.1L453.4 424.4L456.3 427.6L458.8 431.5L477 431.5L477 423.7L474.3 420L471.9 415.5L469.3 409L466 399.7L462.1 387.2L459.3 377.1L457.4 368.5L456.9 363L457 361.4L457.4 360.3L458.1 359.7L458.9 359.8L459.7 360.3L460.9 361.5L463.6 365.3L466.8 370.9L469.9 377.4L473.5 385.8L477 394.9L477 290.1L336 290.1L336 325.3L338.3 333.4L338.8 335.8L339 337.8L338.8 338.9L338.4 339.7L337.6 340.1L336 339.8L336 354.3L337.6 354.5L339.5 355.4L341.9 357.1L343.9 358.9L345.4 360.8L347 363L350 368.9L352.2 374.4L354.9 382L360.4 399.6L363.5 412.2L364.3 416.9L364.5 420.1L364.3 422.2L363.8 423.2L363.1 423.5L362.7 423.5L361.5 422.8L360 421.1L358 418.4L354.1 411.3L349.7 401.9L345 390.1L339.5 374.6L336 363.2L336 431.5ZM447.6 406.7L445.6 406L443.2 404.4L440.9 402.3L438.9 400.1L437.3 397.7L435.8 394.9L432.4 387L429.5 378.6L425.9 367.6L423.2 358L421.2 350L420.2 344.5L420 340.5L420.1 339.3L420.4 338.1L420.8 337.6L421.6 337.5L423.2 338.5L424.8 340.2L426.7 343L429.1 347.1L433.8 357L438.9 369.6L445.2 387.2L447.5 394.5L448.9 399.6L449.6 402.7L449.6 405.1L449.1 406.4L448.7 406.6L447.9 406.7ZM409.8 384.2L407.5 383L405.1 381.2L403.2 379.3L401.2 376.7L399.6 374.2L398.1 371L394.5 362.1L391 351.6L387.8 341.4L385.5 332.8L383.9 325.9L383.2 320.8L383.1 317.3L383.4 316.1L383.9 315.4L384.3 315.3L385.1 315.4L386.7 316.6L389 319.6L391.4 323.5L393.7 328L398.8 339.4L404.7 354.8L410.2 370.8L411.8 376.4L412.6 379.9L412.8 382.3L412.4 383.8L412.1 384.2L411.4 384.5L409.8 384.3ZM373.4 362.2L371.3 361.3L369 359.7L367 357.9L365 355.5L363.4 353.1L361.7 350L358.4 342L355.2 333L351.7 321.8L349 312.2L347.4 305.6L346.4 299.9L346.1 296L346.2 294.8L346.6 293.7L347 293.2L347.8 293.1L349.4 294L351.3 296.3L353.3 299.2L355.6 303.4L360.4 313.4L365.8 327.2L371.7 343.9L374 351.2L375.3 355.9L375.8 359L375.8 361L375.4 361.8L374.9 362.2L373.7 362.3Z"/>
<path fill="#11b4fa" fill-rule="evenodd" d="M342.7 431.3L342.7 431.5L357.5 431.5L336.2 367.3L336 366.8L336 411.2L342.6 431.1ZM372.5 431.5L387 431.5L364.9 364.5L364.4 363.8L340 290.1L336 290.1L336 322.4L372.3 431.5ZM402 431.5L416.6 431.5L401.7 386.6L401.2 385.8L400.1 381.9L369.6 290.1L354.8 290.1L381.9 371.6L382.8 374.4L382.7 374.8L383.3 375.6L401.8 431.5ZM431.4 431.5L446.1 431.5L399.1 290.1L384.3 290.1L431.3 431.5ZM460.9 431.5L475.7 431.5L475.4 430.7L475 430.3L475.1 429.9L473.9 426.4L428.6 290.1L413.9 290.1L456.7 419.3L457.1 420.1L460.9 431.5ZM477 391.2L476.9 346.4L458.2 290.1L443.4 290.1L476.9 390.9ZM477 302.4L477 290.1L472.9 290.1L477 302.3Z"/>
<path fill="#1129fa" fill-rule="evenodd" d="M377.6 431.2L377.9 431.5L382.9 431.5L382.7 427.6L381.6 421.5L380 415L377.6 406.7L372.1 389.6L368.2 379.4L366.5 376L364.7 372.9L362.3 370L360 367.9L357.2 366.1L355.2 365.4L354.1 365.5L353.7 365.9L353.4 366.5L353.2 368.5L353.7 371.2L355.3 377.1L358.4 386.9L362.2 397.6L365.8 407.3L369 414.8L372.1 421.6L374.9 426.9L377.6 431.1ZM403.6 431.4L415.3 431.5L410.6 416.5L406.3 404.5L404.3 400L402.4 396.4L400.4 393.6L398.1 391.1L395.3 389L392.6 387.7L391.8 387.6L390.9 387.8L390.3 388.6L390.2 389.4L390.2 391.3L390.7 394.1L393.3 403.1L398.4 418.1L403.4 431.1ZM432.2 431.3L432.3 431.5L445.1 431.5L441.4 422.4L439.7 419.2L437.9 416.5L435.8 414.1L433.4 412L430.7 410.3L428.7 409.8L427.9 410L427.6 410.2L427.2 411L427 412.2L427.2 414.2L428.7 420.2L432.2 431.1ZM466 417.8L467.2 417.7L467.7 417.3L468 416.5L468.1 414.6L467.6 411.4L466.4 407L464 399.5L458.1 382.8L452.6 369L447.9 359L445.6 354.8L443.6 351.8L441.7 349.6L440.1 348.6L439.3 348.7L438.9 349.2L438.5 350.4L438.4 351.5L438.7 355.5L439.7 361.2L441.3 367.7L444 377.4L447.5 388.6L450.7 397.6L454 405.5L455.7 408.7L457.3 411L459.3 413.4L461.3 415.2L463.6 416.8L465.7 417.7ZM344.2 412.4L345 412.3L345.4 412L345.8 411.1L346 409.8L345.8 405.9L345 401.2L343.5 394.5L341.5 387.2L336 369.7L336 401L338.4 405.3L340.3 408.4L342.3 410.9L343.9 412.2ZM428.3 395.4L429.9 395.6L430.7 395.3L430.9 394.9L431.2 393.3L431 390.9L430.2 387.4L428.7 382.2L423.2 365.9L417.3 350.5L412.2 339.1L409.8 334.6L407.5 330.7L405.1 327.7L403.6 326.5L402.8 326.4L402.4 326.5L401.9 327.1L401.6 328.3L401.6 331.9L402.4 337L403.9 343.9L406.3 352.5L409.4 362.7L412.8 372.8L416.4 381.9L418.1 385.3L419.7 387.9L421.6 390.4L423.6 392.4L425.9 394.2L428 395.3ZM477 385.2L477 370.8L476.2 370.9L475.8 371.4L475.4 372.6L475.3 374.4L475.8 379.1L477 385ZM391.8 373.3L392.6 373.4L393.3 373.3L393.7 373.1L394.1 372.4L394.3 370.8L394 368.1L392.9 363.8L391 357.5L385.1 340.4L379.2 325.5L374.1 314.5L371.7 310.3L369.8 307.4L367.8 305.1L366.2 304.2L365.5 304.3L365.1 304.8L364.7 305.9L364.6 307L364.8 311L365.8 316.7L367.8 324.7L370.2 332.9L373.3 342.9L376.5 352.3L380 360.8L381.6 363.8L383.1 366.2L385.1 368.6L387.1 370.5L389.4 372.2L391.6 373.2ZM355.2 351.2L356.2 351.2L356.9 350.8L357.3 350L357.4 348.4L356.6 344.1L354.5 336.5L349.7 322.5L344.6 309L339.9 297.9L336 290.1L336 319.5L341.1 334L343.1 338.5L345 342.2L347.2 345.2L349.7 347.9L352.9 350.2L355.2 351.2Z"/>
<path fill="#8611fa" fill-rule="evenodd" d="M405.5 431.5L413.8 431.5L411.4 422.2L409.4 415.9L407.1 409.3L405.1 404.6L403.2 400.7L400.8 397.1L398.4 394.5L396.1 392.7L394.9 392.2L394.1 392.1L393.3 392.3L392.9 392.8L392.6 394.5L393 397.6L394.1 402.3L396.5 409.6L399.2 417.2L402.4 424.9L405.4 431.5ZM433.4 431.5L444 431.5L440.9 424.4L439.3 421.6L437.7 419.3L436.2 417.5L434.2 415.7L432.6 414.7L431 414.3L430.3 414.5L429.7 415.4L429.5 416.5L429.7 418.5L430.9 424L433.3 431.5ZM376.5 420.6L377.3 420.5L377.6 420.1L378 418.9L378 416.5L377.6 413L376.8 409L375.3 402.7L371.7 391.3L368.6 383.2L367 379.9L365.5 377.2L363.9 374.9L362.3 373L360.4 371.3L358.8 370.3L357.6 369.9L356.4 370.1L355.8 371.2L355.7 372.8L356 375.2L356.8 378.6L359.6 387.4L364.3 399.9L369 410.2L371 413.9L372.9 417L374.9 419.5L376.2 420.5ZM462.9 413L464.4 413.3L465.2 412.8L465.6 411.7L465.6 409.8L465.2 407.3L464.4 403.9L461.3 394.3L456.6 382.1L452.3 372.7L450.3 369.1L448.3 366L446.8 364L445.2 362.7L444.4 362.6L444 362.8L443.5 363.8L443.3 366.1L443.7 369.7L444.4 373.6L446 380L449.9 392.5L453 400.6L456.1 406.3L457.8 408.7L459.3 410.4L461.3 412.1L462.8 413ZM339.1 398.2L339.9 398.4L340.3 398.3L340.7 397.9L341 397.2L341.2 395.3L341 392.5L340.3 388.6L339.1 383.5L336 372.6L336 394.8L337.6 396.8L338.9 398ZM426.3 391L427.5 391.1L428.3 390.5L428.7 389.4L428.7 387.4L428.2 384.6L427.2 380.7L424 371L419.7 359.9L415.3 350.5L413.4 346.9L411.4 343.8L409.8 341.8L408.3 340.5L407.5 340.4L407.1 340.6L406.6 341.7L406.4 344.1L406.8 347.6L407.5 351.5L409.1 357.8L413 370.4L416.1 378.3L417.7 381.6L419.3 384.2L420.8 386.4L422.8 388.6L424.8 390.2L426.2 390.9ZM390.2 368.9L391 368.7L391.4 368.4L391.7 367.7L391.8 365.7L391.5 363.4L389.4 355.7L385.5 344.5L381.2 334L377.2 326.1L375.3 322.7L373.7 320.5L372.1 318.8L371 318.2L370.2 318.4L369.8 318.9L369.5 320.4L369.6 323.2L370.2 327.1L371.3 332.5L372.9 338.3L376.8 350.3L380 357.8L381.6 360.7L383.1 363.2L384.7 365.2L386.7 367.1L388.6 368.4L390 368.9ZM352.5 346.5L353.7 346.7L354.5 346.2L354.8 345.2L354.9 343.7L354.1 338.9L351.7 331L347.8 320.3L343.5 310.1L339.5 302.4L337.6 299.3L336 297.4L336 316.1L338 322.5L341.5 332.1L344.6 338.5L346.2 341L348.2 343.4L350.1 345.2L352.2 346.4Z"/>
<path fill="#fa11e3" fill-rule="evenodd" d="M407.9 431.3L408 431.5L411.5 431.5L411.4 428.6L410.6 424.2L408.7 416.9L406.3 410.1L403.9 404.9L401.2 400.3L399.6 398.4L398.1 397L396.9 396.3L395.7 396.3L395.2 396.8L394.9 398L394.9 399.6L395.3 401.9L397.3 408.8L400.8 418L404.3 425.6L406.3 429L407.7 431.1ZM434.6 431.5L442.9 431.5L440.5 426.3L437.7 422L436.2 420.2L435 419.2L433.8 418.5L433 418.4L432.2 418.8L432 419.3L431.8 420.1L431.8 421.7L432.6 425.8L434.4 431.5ZM372.9 411L373.7 411.2L374.3 410.6L374.6 409.4L374.6 407.1L374.1 403.9L373.3 400.4L371.3 393.4L369 386.9L366.2 381.2L363.9 377.5L362.3 375.8L361.1 374.8L360 374.1L358.8 374.1L358.4 374.4L358 375.6L358 377.1L358.3 379.5L360 385.4L363.1 393.9L367 402.6L370.2 408L371.7 410L372.9 411ZM461.7 409.2L462.5 409.2L463.1 408.7L463.4 407.5L463.4 405.9L462.4 401.2L460.1 394.1L457 386.2L453.8 379.6L450.7 374.4L449.5 373L448.3 372.1L447.5 372L447 372.8L446.7 374.4L446.9 376.8L448.3 383.8L450.7 391.8L453 397.8L455.8 403.2L458.5 406.9L460.1 408.3L461.4 409ZM336.4 389L337.2 388.8L337.5 388.2L337.7 385.8L337.2 381.6L336 376.5L336 388.8L336.4 389ZM425.2 387L425.9 386.7L426.3 386.1L426.5 384.6L426.3 382.7L424.8 376.8L422.4 369.7L419.3 362.2L416.1 355.9L413.4 351.7L412.2 350.4L411 349.8L410.6 349.8L410.2 350.2L409.8 351.5L409.9 353.5L410.2 356.3L411.8 363.2L414.6 371.7L416.9 377.3L419.7 382.2L422.4 385.5L424 386.6L425.1 387ZM387.5 364.6L388.2 364.8L389 364.5L389.5 363.4L389.6 361.8L388.7 357.1L386.7 350.7L383.5 342.6L380 335.2L376.8 330L375.7 328.6L374.5 327.7L373.7 327.6L373.2 328.3L372.9 329.9L373 332.2L374.4 339.3L376.8 347.3L379.2 353.4L382 358.7L384.7 362.5L386.3 363.9L387.3 364.5ZM350.9 342.5L351.8 342.5L352.5 341.7L352.6 339.3L351.7 334.6L349.4 327.4L346.2 319.5L343.1 312.9L339.9 307.8L338.7 306.4L337.6 305.5L336.8 305.4L336.4 305.7L336.2 306.2L336 308.6L336.2 310.6L337.6 317.3L340.3 326.2L342.7 332L345.4 337.1L348.2 340.7L349.7 342L350.8 342.5Z"/>
<path fill="#fa1111" fill-rule="evenodd" d="M435.8 431.5L441.5 431.5L439.7 427.9L438.1 425.4L436.5 423.7L435.8 423.2L435 423.1L434.6 423.3L434.3 424L434.3 425.6L434.7 428L435.7 431.5ZM407.1 425L407.5 425.2L407.9 425.1L408.1 424.8L408.3 424L408.3 422.4L407.7 418.5L406.3 413.7L404.7 409.6L402.8 405.6L400.8 402.7L399.2 401.2L398.1 400.9L397.6 401.2L397.3 402L397.5 404.7L398.4 408.3L400.4 413.7L402.8 418.9L405.1 422.9L406.8 424.8ZM459.3 404.3L460.1 404.5L460.5 404.4L460.9 403.7L461 402.7L460.5 399.6L459.4 395.7L457.4 390.5L455.4 386.3L453.4 382.9L451.5 380.6L450.7 380.2L450.3 380.4L450 381.5L449.9 382.7L450.6 387L451.9 391.3L453.4 395.5L455.4 399.6L457.4 402.5L459.3 404.3ZM370.2 402.8L370.6 402.9L371.1 402.7L371.3 402.1L371.4 400.8L371 397.2L369.8 392.7L368.2 388.3L366.2 384.1L364.3 381L362.7 379.3L361.9 378.8L361.1 378.7L360.6 379.1L360.4 379.9L360.7 382.7L361.5 386L363.5 391.5L365.8 396.7L368.2 400.7L369.4 402.2L370.1 402.7ZM422.8 382.3L423.4 382.3L423.8 381.9L424 381.1L424 379.9L423.4 376.8L422 372.2L420.1 367.4L417.7 362.6L415.7 359.6L414.2 358.1L413.8 358L413.4 358.2L413.2 358.6L413.1 361L413.8 365L415.3 370.2L416.9 374.2L418.9 378L420.8 380.8L422 381.9L422.7 382.3ZM385.5 359.9L386.3 360.1L386.7 360L387.1 359.3L387.1 358.2L386.7 355.1L385.5 351.2L383.5 346L381.6 341.9L379.6 338.5L377.6 336.1L376.8 335.8L376.5 336L376.1 337L376.1 338.2L376.7 342.1L378 346.9L379.6 351.1L381.6 355.1L383.5 358.1L385.3 359.8ZM349 337.9L349.7 337.8L350 337.4L350.2 335.4L349.6 332.2L348.2 327.8L346.2 322.9L343.9 318.2L341.9 315.1L340.3 313.7L339.9 313.6L339.4 314.1L339.2 314.9L339.2 316.5L339.9 320.5L341.5 325.8L343.1 329.8L345 333.6L347 336.3L348.7 337.8Z"/>
<rect x="332.7" y="287.3" width="146.7" height="146.7" fill="none" stroke="#b0b0b0" stroke-width="0.5"/>
<path d="M336.0 434.0v-1.6M336.0 287.3v1.6M340.7 434.0v-0.9M340.7 287.3v0.9M345.4 434.0v-0.9M345.4 287.3v0.9M350.1 434.0v-0.9M350.1 287.3v0.9M354.8 434.0v-0.9M354.8 287.3v0.9M359.5 434.0v-1.6M359.5 287.3v1.6M364.2 434.0v-0.9M364.2 287.3v0.9M368.9 434.0v-0.9M368.9 287.3v0.9M373.6 434.0v-0.9M373.6 287.3v0.9M378.3 434.0v-0.9M378.3 287.3v0.9M383.0 434.0v-1.6M383.0 287.3v1.6M387.7 434.0v-0.9M387.7 287.3v0.9M392.4 434.0v-0.9M392.4 287.3v0.9M397.1 434.0v-0.9M397.1 287.3v0.9M401.8 434.0v-0.9M401.8 287.3v0.9M406.5 434.0v-1.6M406.5 287.3v1.6M411.2 434.0v-0.9M411.2 287.3v0.9M415.9 434.0v-0.9M415.9 287.3v0.9M420.6 434.0v-0.9M420.6 287.3v0.9M425.3 434.0v-0.9M425.3 287.3v0.9M430.0 434.0v-1.6M430.0 287.3v1.6M434.7 434.0v-0.9M434.7 287.3v0.9M439.4 434.0v-0.9M439.4 287.3v0.9M444.1 434.0v-0.9M444.1 287.3v0.9M448.8 434.0v-0.9M448.8 287.3v0.9M453.5 434.0v-1.6M453.5 287.3v1.6M458.2 434.0v-0.9M458.2 287.3v0.9M462.9 434.0v-0.9M462.9 287.3v0.9M467.6 434.0v-0.9M467.6 287.3v0.9M472.3 434.0v-0.9M472.3 287.3v0.9M477.0 434.0v-1.6M477.0 287.3v1.6M332.7 431.5h1.6M479.4 431.5h-1.6M332.7 425.8h0.9M479.4 425.8h-0.9M332.7 420.2h0.9M479.4 420.2h-0.9M332.7 414.5h0.9M479.4 414.5h-0.9M332.7 408.9h0.9M479.4 408.9h-0.9M332.7 403.2h1.6M479.4 403.2h-1.6M332.7 397.6h0.9M479.4 397.6h-0.9M332.7 391.9h0.9M479.4 391.9h-0.9M332.7 386.3h0.9M479.4 386.3h-0.9M332.7 380.6h0.9M479.4 380.6h-0.9M332.7 374.9h1.6M479.4 374.9h-1.6M332.7 369.3h0.9M479.4 369.3h-0.9M332.7 363.6h0.9M479.4 363.6h-0.9M332.7 358.0h0.9M479.4 358.0h-0.9M332.7 352.3h0.9M479.4 352.3h-0.9M332.7 346.7h1.6M479.4 346.7h-1.6M332.7 341.0h0.9M479.4 341.0h-0.9M332.7 335.3h0.9M479.4 335.3h-0.9M332.7 329.7h0.9M479.4 329.7h-0.9M332.7 324.0h0.9M479.4 324.0h-0.9M332.7 318.4h1.6M479.4 318.4h-1.6M332.7 312.7h0.9M479.4 312.7h-0.9M332.7 307.1h0.9M479.4 307.1h-0.9M332.7 301.4h0.9M479.4 301.4h-0.9M332.7 295.8h0.9M479.4 295.8h-0.9M332.7 290.1h1.6M479.4 290.1h-1.6" stroke="#8c8c8c" stroke-width="0.4" fill="none"/>
<text x="336" y="442" font-size="7.2" text-anchor="middle" font-weight="bold" >−1.0</text>
<text x="359.5" y="442" font-size="7.2" text-anchor="middle" font-weight="bold" >−0.5</text>
<text x="383" y="442" font-size="7.2" text-anchor="middle" font-weight="bold" >0.0</text>
<text x="406.5" y="442" font-size="7.2" text-anchor="middle" font-weight="bold" >0.5</text>
<text x="430" y="442" font-size="7.2" text-anchor="middle" font-weight="bold" >1.0</text>
<text x="453.5" y="442" font-size="7.2" text-anchor="middle" font-weight="bold" >1.5</text>
<text x="477" y="442" font-size="7.2" text-anchor="middle" font-weight="bold" >2.0</text>
<text x="330.4" y="434.1" font-size="7.2" text-anchor="end" font-weight="bold" >−2</text>
<text x="330.4" y="405.8" font-size="7.2" text-anchor="end" font-weight="bold" >−1</text>
<text x="330.4" y="377.5" font-size="7.2" text-anchor="end" font-weight="bold" >0</text>
<text x="330.4" y="349.3" font-size="7.2" text-anchor="end" font-weight="bold" >1</text>
<text x="330.4" y="321" font-size="7.2" text-anchor="end" font-weight="bold" >2</text>
<text x="330.4" y="292.7" font-size="7.2" text-anchor="end" font-weight="bold" >3</text>
<text x="406.3" y="453" font-size="7.2" text-anchor="middle" font-weight="bold" font-style="italic">x</text>
<text transform="translate(320.3,360.8) rotate(-90)" font-size="7.2" text-anchor="middle" font-weight="bold" font-style="italic">t</text>
<text x="406.6" y="282.8" font-size="7.4" text-anchor="middle" font-weight="bold" >Im(<tspan font-style="italic">q</tspan>(<tspan font-style="italic">x</tspan>, <tspan font-style="italic">t</tspan>))</text>
<rect x="487.5" y="284.10" width="4.6" height="16.10" fill="#fa1111"/>
<rect x="487.5" y="300.00" width="4.6" height="16.10" fill="#fa11e3"/>
<rect x="487.5" y="315.90" width="4.6" height="16.10" fill="#8611fa"/>
<rect x="487.5" y="331.80" width="4.6" height="16.10" fill="#1129fa"/>
<rect x="487.5" y="347.70" width="4.6" height="16.10" fill="#11b4fa"/>
<rect x="487.5" y="363.60" width="4.6" height="16.10" fill="#11fab4"/>
<rect x="487.5" y="379.50" width="4.6" height="16.10" fill="#11fa29"/>
<rect x="487.5" y="395.40" width="4.6" height="16.10" fill="#86fa11"/>
<rect x="487.5" y="411.30" width="4.6" height="16.10" fill="#fae311"/>
<rect x="487.5" y="427.20" width="4.6" height="16.10" fill="#fa1111"/>
<path d="M492.1 300.0h1.4" stroke="#999" stroke-width="0.3"/>
<text x="494.6" y="301" font-size="2.8" text-anchor="start" font-weight="normal" style="fill:#999">0.20</text>
<path d="M492.1 315.9h1.4" stroke="#999" stroke-width="0.3"/>
<text x="494.6" y="316.9" font-size="2.8" text-anchor="start" font-weight="normal" style="fill:#999">0.15</text>
<path d="M492.1 331.8h1.4" stroke="#999" stroke-width="0.3"/>
<text x="494.6" y="332.8" font-size="2.8" text-anchor="start" font-weight="normal" style="fill:#999">0.10</text>
<path d="M492.1 347.7h1.4" stroke="#999" stroke-width="0.3"/>
<text x="494.6" y="348.7" font-size="2.8" text-anchor="start" font-weight="normal" style="fill:#999">0.05</text>
<path d="M492.1 363.6h1.4" stroke="#999" stroke-width="0.3"/>
<text x="494.6" y="364.6" font-size="2.8" text-anchor="start" font-weight="normal" style="fill:#999">0</text>
<path d="M492.1 379.5h1.4" stroke="#999" stroke-width="0.3"/>
<text x="494.6" y="380.5" font-size="2.8" text-anchor="start" font-weight="normal" style="fill:#999">−0.05</text>
<path d="M492.1 395.4h1.4" stroke="#999" stroke-width="0.3"/>
<text x="494.6" y="396.4" font-size="2.8" text-anchor="start" font-weight="normal" style="fill:#999">−0.10</text>
<path d="M492.1 411.3h1.4" stroke="#999" stroke-width="0.3"/>
<text x="494.6" y="412.3" font-size="2.8" text-anchor="start" font-weight="normal" style="fill:#999">−0.15</text>
<path d="M492.1 427.2h1.4" stroke="#999" stroke-width="0.3"/>
<text x="494.6" y="428.2" font-size="2.8" text-anchor="start" font-weight="normal" style="fill:#999">−0.20</text>
</g>
<g fill="none" stroke-linejoin="round">
<polyline points="607.1,137.6 607.2,137.7 607.4,138 607.7,137.8 608,137 608.3,135.8 608.5,134.6 608.8,133.7 609.1,133.3 609.4,133.6 609.6,134.5 609.9,135.8 610.2,137.1 610.5,138.1 610.7,138.6 611,138.2 611.3,137.2 611.6,135.8 611.8,134.3 612.1,133.2 612.4,132.8 612.7,133.1 613,134.2 613.2,135.8 613.5,137.4 613.8,138.7 614.1,139.2 614.3,138.8 614.6,137.5 614.9,135.8 615.2,134 615.4,132.6 615.7,132.1 616,132.5 616.3,133.9 616.5,135.8 616.8,137.8 617.1,139.3 617.4,139.9 617.6,139.4 617.9,137.9 618.2,135.8 618.5,133.6 618.7,131.9 619,131.2 619.3,131.8 619.6,133.4 619.8,135.8 620.1,138.3 620.4,140.1 620.7,140.9 620.9,140.3 621.2,138.4 621.5,135.8 621.8,133.1 622.1,131 622.3,130.2 622.6,130.9 622.9,132.9 623.2,135.8 623.4,138.8 623.7,141.1 624,142 624.3,141.3 624.5,139 624.8,135.8 625.1,132.5 625.4,130 625.6,128.9 625.9,129.8 626.2,132.3 626.5,135.8 626.7,139.5 627,142.2 627.3,143.4 627.6,142.5 627.8,139.7 628.1,135.8 628.4,131.8 628.7,128.7 628.9,127.4 629.2,128.4 629.5,131.5 629.8,135.8 630,140.3 630.3,143.7 630.6,145 630.9,143.9 631.2,140.6 631.4,135.8 631.7,130.9 632,127.1 632.3,125.6 632.5,126.9 632.8,130.6 633.1,135.8 633.4,141.2 633.6,145.3 633.9,147 634.2,145.7 634.5,141.6 634.7,135.8 635,129.8 635.3,125.3 635.6,123.5 635.8,125 636.1,129.4 636.4,135.8 636.7,142.4 636.9,147.3 637.2,149.3 637.5,147.7 637.8,142.8 638,135.8 638.3,128.6 638.6,123.1 638.9,120.9 639.1,122.7 639.4,128.1 639.7,135.8 640,143.7 640.3,149.7 640.5,152.1 640.8,150.2 641.1,144.2 641.4,135.8 641.6,127.1 641.9,120.5 642.2,117.9 642.5,120.1 642.7,126.6 643,135.8 643.3,145.3 643.6,152.5 643.8,155.4 644.1,153 644.4,145.9 644.7,135.8 644.9,125.4 645.2,117.6 645.5,114.4 645.8,117 646,124.8 646.3,135.8 646.6,147.1 646.9,155.7 647.1,159.1 647.4,156.3 647.7,147.8 648,135.8 648.2,123.5 648.5,114.2 648.8,110.5 649.1,113.6 649.4,122.8 649.6,135.8 649.9,149.2 650.2,159.3 650.5,163.3 650.7,159.9 651,149.9 651.3,135.8 651.6,121.3 651.8,110.4 652.1,106 652.4,109.7 652.7,120.5 652.9,135.8 653.2,151.5 653.5,163.3 653.8,167.9 654,164 654.3,152.3 654.6,135.8 654.9,118.9 655.1,106.2 655.4,101.2 655.7,105.5 656,118.1 656.2,135.8 656.5,153.9 656.8,167.6 657.1,172.9 657.3,168.3 657.6,154.8 657.9,135.8 658.2,116.4 658.5,101.8 658.7,96.1 659,101.1 659.3,115.5 659.6,135.8 659.8,156.5 660.1,172 660.4,178 660.7,172.7 660.9,157.3 661.2,135.8 661.5,113.8 661.8,97.4 662,91.1 662.3,96.7 662.6,113 662.9,135.8 663.1,159 663.4,176.3 663.7,183 664,177 664.2,159.8 664.5,135.8 664.8,111.5 665.1,93.3 665.3,86.4 665.6,92.7 665.9,110.7 666.2,135.8 666.4,161.2 666.7,180.1 667,187.3 667.3,180.7 667.6,161.9 667.8,135.8 668.1,109.4 668.4,89.9 668.7,82.5 668.9,89.4 669.2,108.9 669.5,135.8 669.8,162.9 670,183 670.3,190.5 670.6,183.3 670.9,163.3 671.1,135.8 671.4,108.1 671.7,87.7 672,80.2 672.2,87.5 672.5,107.9 672.8,135.8 673.1,163.8 673.3,184.3 673.6,191.9 673.9,184.4 674.2,163.8 674.4,135.8 674.7,107.8 675,87.3 675.3,79.9 675.5,87.4 675.8,107.9 676.1,135.8 676.4,163.5 676.7,183.7 676.9,190.9 677.2,183.4 677.5,163.1 677.8,135.8 678,108.7 678.3,89.1 678.6,82.2 678.9,89.7 679.1,109.3 679.4,135.8 679.7,161.9 680,180.6 680.2,187.1 680.5,179.9 680.8,161 681.1,135.8 681.3,111.1 681.6,93.5 681.9,87.5 682.2,94.4 682.4,112.2 682.7,135.8 683,158.8 683.3,175 683.5,180.4 683.8,173.8 684.1,157.4 684.4,135.8 684.6,114.9 684.9,100.3 685.2,95.5 685.5,101.6 685.8,116.4 686,135.8 686.3,154.3 686.6,167.2 686.9,171.2 687.1,165.7 687.4,152.6 687.7,135.8 688,119.8 688.2,108.9 688.5,105.6 688.8,110.5 689.1,121.6 689.3,135.8 689.6,149.1 689.9,158 690.2,160.5 690.4,156.4 690.7,147.3 691,135.8 691.3,125.2 691.5,118.3 691.8,116.5 692.1,119.8 692.4,127 692.6,135.8 692.9,143.7 693.2,148.8 693.5,150 693.8,147.4 694,142.1 694.3,135.8 694.6,130.3 694.9,126.9 695.1,126.2 695.4,128.1 695.7,131.7 696,135.8 696.2,139.2 696.5,141.2 696.8,141.4 697.1,140.2 697.3,138.1 697.6,135.8 697.9,134 698.2,133.1 698.4,133.2 698.7,133.9 699,134.9 699.3,135.8 699.5,136.4 699.8,136.6 700.1,136.5 700.4,136.3 700.6,136 700.9,135.8 701.2,135.7 701.5,135.8 701.7,135.8 702,135.8 702.3,135.8 702.6,135.8 702.9,135.9 703.1,136.1 703.4,136.3 703.7,136.4 704,136.3 704.2,135.8 704.5,135 704.8,134.2 705.1,133.6 705.3,133.6 705.6,134.3 705.9,135.8 706.2,137.8 706.4,139.7 706.7,140.8 707,140.6 707.3,138.9 707.5,135.8 707.8,132.1 708.1,128.8 708.4,127 708.6,127.6 708.9,130.7 709.2,135.8 709.5,141.7 709.7,146.6 710,149.1 710.3,148 710.6,143.3 710.8,135.8 711.1,127.5 711.4,120.7 711.7,117.4 712,119.1 712.2,125.7 712.5,135.8 712.8,146.8 713.1,155.6 713.3,159.5 713.6,157.1 713.9,148.6 714.2,135.8 714.4,122.1 714.7,111.3 715,106.6 715.3,109.8 715.5,120.3 715.8,135.8 716.1,152.2 716.4,164.9 716.6,170.3 716.9,166.4 717.2,153.9 717.5,135.8 717.7,116.9 718,102.4 718.3,96.4 718.6,101 718.8,115.3 719.1,135.8 719.4,157 719.7,173.2 719.9,179.7 720.2,174.4 720.5,158.4 720.8,135.8 721.1,112.6 721.3,95 721.6,88.1 721.9,94 722.2,111.4 722.4,135.8 722.7,160.7 723,179.4 723.3,186.6 723.5,180.2 723.8,161.7 724.1,135.8 724.4,109.5 724.6,90 724.9,82.6 725.2,89.4 725.5,108.9 725.7,135.8 726,163 726.3,183.1 726.6,190.7 726.8,183.5 727.1,163.4 727.4,135.8 727.7,108 727.9,87.5 728.2,80 728.5,87.4 728.8,107.8 729,135.8 729.3,163.8 729.6,184.4 729.9,191.9 730.2,184.4 730.4,163.8 730.7,135.8 731,107.8 731.3,87.4 731.5,80 731.8,87.6 732.1,108 732.4,135.8 732.6,163.4 732.9,183.5 733.2,190.7 733.5,183.2 733.7,163 734,135.8 734.3,108.8 734.6,89.2 734.8,82.2 735.1,89.6 735.4,109.3 735.7,135.8 735.9,162 736.2,181 736.5,187.6 736.8,180.4 737,161.4 737.3,135.8 737.6,110.5 737.9,92.3 738.1,86 738.4,93 738.7,111.2 739,135.8 739.3,160 739.5,177.4 739.8,183.4 740.1,176.7 740.4,159.2 740.6,135.8 740.9,112.8 741.2,96.3 741.5,90.6 741.7,97 742,113.6 742.3,135.8 742.6,157.6 742.8,173.1 743.1,178.5 743.4,172.4 743.7,156.7 743.9,135.8 744.2,115.3 744.5,100.7 744.8,95.7 745,101.4 745.3,116.2 745.6,135.8 745.9,155 746.1,168.7 746.4,173.4 746.7,168 747,154.2 747.2,135.8 747.5,117.9 747.8,105.1 748.1,100.7 748.4,105.8 748.6,118.7 748.9,135.8 749.2,152.5 749.5,164.4 749.7,168.4 750,163.7 750.3,151.7 750.6,135.8 750.8,120.3 751.1,109.3 751.4,105.6 751.7,110 751.9,121.1 752.2,135.8 752.5,150.1 752.8,160.3 753,163.7 753.3,159.6 753.6,149.4 753.9,135.8 754.1,122.6 754.4,113.2 754.7,110.1 755,113.8 755.2,123.3 755.5,135.8 755.8,148 756.1,156.6 756.3,159.5 756.6,156 756.9,147.3 757.2,135.8 757.5,124.6 757.7,116.7 758,114.1 758.3,117.3 758.6,125.3 758.8,135.8 759.1,146 759.4,153.3 759.7,155.7 759.9,152.8 760.2,145.5 760.5,135.8 760.8,126.4 761,119.8 761.3,117.6 761.6,120.3 761.9,127 762.1,135.8 762.4,144.4 762.7,150.4 763,152.4 763.2,150 763.5,143.8 763.8,135.8 764.1,128 764.3,122.5 764.6,120.7 764.9,122.9 765.2,128.5 765.4,135.8 765.7,142.9 766,147.9 766.3,149.6 766.6,147.6 766.8,142.5 767.1,135.8 767.4,129.3 767.7,124.8 767.9,123.3 768.2,125.1 768.5,129.7 768.8,135.8 769,141.7 769.3,145.8 769.6,147.2 769.9,145.5 770.1,141.3 770.4,135.8 770.7,130.5 771,126.7 771.2,125.5 771.5,127 771.8,130.8 772.1,135.8 772.3,140.6 772.6,144.1 772.9,145.2 773.2,143.8 773.4,140.3 773.7,135.8 774,131.4 774.3,128.3 774.5,127.3 774.8,128.5 775.1,131.7 775.4,135.8 775.7,139.8 775.9,142.6 776.2,143.5 776.5,142.4 776.8,139.5 777,135.8 777.3,132.2 777.6,129.7 777.9,128.8 778.1,129.9 778.4,132.4 778.7,135.8 779,139.1 779.2,141.4 779.5,142.1 779.8,141.2 780.1,138.9 780.3,135.8 780.6,132.8 780.9,130.8 781.2,130.1 781.4,130.9 781.7,133 782,135.8 782.3,138.5 782.5,140.4 782.8,141 783.1,140.2 783.4,138.3 783.6,135.8 783.9,133.4 784.2,131.7 784.5,131.1 784.8,131.8 785,133.5 785.3,135.8 785.6,138 785.9,139.5 786.1,140 786.4,139.4 786.7,137.8 787,135.8 787.2,133.8 787.5,132.4 787.8,132 788.1,132.6 788.3,134 788.6,135.8 788.9,137.6 789.2,138.8 789.4,139.2 789.7,138.7 790,137.5 790.3,135.8 790.5,134.2 790.8,133.1 791.1,132.7 791.4,133.2 791.6,134.3 791.9,135.8 792.2,137.3 792.5,138.3 792.7,138.6 793,138.2 793.3,137.2 793.6,135.8 793.9,134.5 794.1,133.6 794.4,133.3 794.7,133.6 795,134.6 795.2,135.8 795.5,137 795.8,137.8 796.1,138.1 796.3,137.7 796.6,136.9 796.7,136.6" stroke="#8778b3" stroke-width="1.95"/>
<polyline points="607.1,136.5 607.2,136.9 607.5,137.7 607.8,138 608,137.8 608.3,137 608.6,135.8 608.9,134.6 609.1,133.7 609.4,133.3 609.7,133.6 610,134.5 610.2,135.8 610.5,137.1 610.8,138.1 611.1,138.5 611.3,138.2 611.6,137.2 611.9,135.8 612.2,134.3 612.4,133.2 612.7,132.8 613,133.1 613.3,134.2 613.5,135.8 613.8,137.4 614.1,138.7 614.4,139.2 614.6,138.8 614.9,137.5 615.2,135.8 615.5,134 615.7,132.6 616,132.1 616.3,132.5 616.6,133.9 616.9,135.8 617.1,137.8 617.4,139.3 617.7,139.9 618,139.4 618.2,137.9 618.5,135.8 618.8,133.6 619.1,131.9 619.3,131.2 619.6,131.8 619.9,133.4 620.2,135.8 620.4,138.3 620.7,140.1 621,140.9 621.3,140.3 621.5,138.4 621.8,135.8 622.1,133.1 622.4,131 622.6,130.2 622.9,130.9 623.2,132.9 623.5,135.8 623.7,138.8 624,141.1 624.3,142 624.6,141.3 624.8,139 625.1,135.8 625.4,132.5 625.7,130 626,129 626.2,129.8 626.5,132.3 626.8,135.8 627.1,139.5 627.3,142.2 627.6,143.4 627.9,142.5 628.2,139.7 628.4,135.8 628.7,131.8 629,128.7 629.3,127.5 629.5,128.4 629.8,131.5 630.1,135.8 630.4,140.3 630.6,143.6 630.9,145 631.2,143.9 631.5,140.6 631.7,135.8 632,130.9 632.3,127.1 632.6,125.6 632.8,126.9 633.1,130.6 633.4,135.8 633.7,141.2 633.9,145.3 634.2,147 634.5,145.6 634.8,141.6 635.1,135.8 635.3,129.8 635.6,125.3 635.9,123.5 636.2,125 636.4,129.5 636.7,135.8 637,142.4 637.3,147.3 637.5,149.3 637.8,147.7 638.1,142.8 638.4,135.8 638.6,128.6 638.9,123.1 639.2,121 639.5,122.7 639.7,128.1 640,135.8 640.3,143.7 640.6,149.7 640.8,152.1 641.1,150.1 641.4,144.2 641.7,135.8 641.9,127.1 642.2,120.6 642.5,118 642.8,120.1 643.1,126.6 643.3,135.8 643.6,145.3 643.9,152.4 644.2,155.3 644.4,152.9 644.7,145.8 645,135.8 645.3,125.5 645.5,117.6 645.8,114.5 646.1,117.1 646.4,124.8 646.6,135.8 646.9,147.1 647.2,155.6 647.5,159 647.7,156.2 648,147.7 648.3,135.8 648.6,123.5 648.8,114.3 649.1,110.6 649.4,113.7 649.7,122.8 649.9,135.8 650.2,149.1 650.5,159.2 650.8,163.2 651,159.8 651.3,149.9 651.6,135.8 651.9,121.4 652.2,110.5 652.4,106.2 652.7,109.8 653,120.6 653.3,135.8 653.5,151.4 653.8,163.1 654.1,167.8 654.4,163.8 654.6,152.2 654.9,135.8 655.2,119 655.5,106.4 655.7,101.4 656,105.7 656.3,118.2 656.6,135.8 656.8,153.8 657.1,167.4 657.4,172.7 657.7,168.1 657.9,154.7 658.2,135.8 658.5,116.5 658.8,102.1 659,96.4 659.3,101.3 659.6,115.7 659.9,135.8 660.1,156.3 660.4,171.7 660.7,177.7 661,172.4 661.3,157.1 661.5,135.8 661.8,114 662.1,97.8 662.4,91.5 662.6,97.1 662.9,113.2 663.2,135.8 663.5,158.8 663.7,175.9 664,182.5 664.3,176.5 664.6,159.5 664.8,135.8 665.1,111.7 665.4,93.8 665.7,86.9 665.9,93.2 666.2,111 666.5,135.8 666.8,160.9 667,179.6 667.3,186.6 667.6,180.1 667.9,161.5 668.1,135.8 668.4,109.8 668.7,90.5 669,83.3 669.2,90.1 669.5,109.3 669.8,135.8 670.1,162.5 670.4,182.2 670.6,189.6 670.9,182.6 671.2,162.9 671.5,135.8 671.7,108.6 672,88.5 672.3,81.1 672.6,88.4 672.8,108.4 673.1,135.8 673.4,163.3 673.7,183.4 673.9,190.8 674.2,183.4 674.5,163.3 674.8,135.8 675,108.4 675.3,88.3 675.6,81.1 675.9,88.5 676.1,108.6 676.4,135.8 676.7,162.9 677,182.6 677.2,189.6 677.5,182.2 677.8,162.5 678.1,135.8 678.3,109.4 678.6,90.3 678.9,83.6 679.2,90.9 679.5,110.1 679.7,135.8 680,161.1 680.3,179.3 680.6,185.6 680.8,178.5 681.1,160.2 681.4,135.8 681.7,111.9 681.9,94.8 682.2,89.1 682.5,95.8 682.8,113 683,135.8 683.3,157.9 683.6,173.6 683.9,178.8 684.1,172.4 684.4,156.6 684.7,135.8 685,115.7 685.2,101.7 685.5,97.2 685.8,103 686.1,117.3 686.3,135.8 686.6,153.5 686.9,165.8 687.2,169.6 687.4,164.3 687.7,151.8 688,135.8 688.3,120.6 688.6,110.3 688.8,107.2 689.1,111.8 689.4,122.4 689.7,135.8 689.9,148.3 690.2,156.7 690.5,159 690.8,155.1 691,146.5 691.3,135.8 691.6,126 691.9,119.5 692.1,117.8 692.4,121 692.7,127.7 693,135.8 693.2,143.1 693.5,147.7 693.8,148.8 694.1,146.4 694.3,141.5 694.6,135.8 694.9,130.8 695.2,127.8 695.4,127.2 695.7,129 696,132.2 696.3,135.8 696.5,138.8 696.8,140.5 697.1,140.7 697.4,139.6 697.7,137.7 697.9,135.8 698.2,134.3 698.5,133.6 698.8,133.7 699,134.2 699.3,135.1 699.6,135.8 699.9,136.3 700.1,136.4 700.4,136.3 700.7,136.1 701,135.9 701.2,135.8 701.5,135.8 701.8,135.8 702.1,135.8 702.3,135.8 702.6,135.7 702.9,135.8 703.2,136 703.4,136.3 703.7,136.5 704,136.6 704.3,136.4 704.5,135.8 704.8,134.9 705.1,133.9 705.4,133.2 705.6,133.2 705.9,134.1 706.2,135.8 706.5,138 706.8,140.1 707,141.3 707.3,141.1 707.6,139.2 707.9,135.8 708.1,131.8 708.4,128.3 708.7,126.4 709,127 709.2,130.4 709.5,135.8 709.8,142 710.1,147.2 710.3,149.7 710.6,148.6 710.9,143.6 711.2,135.8 711.4,127.2 711.7,120.1 712,116.8 712.3,118.6 712.5,125.4 712.8,135.8 713.1,147.1 713.4,156.1 713.6,160.1 713.9,157.6 714.2,148.8 714.5,135.8 714.7,121.9 715,110.9 715.3,106.2 715.6,109.4 715.9,120.1 716.1,135.8 716.4,152.3 716.7,165.2 717,170.5 717.2,166.6 717.5,154 717.8,135.8 718.1,116.8 718.3,102.2 718.6,96.3 718.9,100.9 719.2,115.3 719.4,135.8 719.7,157 720,173.1 720.3,179.6 720.5,174.3 720.8,158.3 721.1,135.8 721.4,112.7 721.6,95.2 721.9,88.4 722.2,94.3 722.5,111.6 722.7,135.8 723,160.5 723.3,179 723.6,186.1 723.8,179.8 724.1,161.4 724.4,135.8 724.7,109.9 725,90.6 725.2,83.3 725.5,90 725.8,109.2 726.1,135.8 726.3,162.6 726.6,182.4 726.9,189.8 727.2,182.8 727.4,163 727.7,135.8 728,108.5 728.3,88.4 728.5,81 728.8,88.3 729.1,108.3 729.4,135.8 729.6,163.3 729.9,183.4 730.2,190.8 730.5,183.4 730.7,163.2 731,135.8 731.3,108.4 731.6,88.5 731.8,81.3 732.1,88.7 732.4,108.7 732.7,135.8 732.9,162.8 733.2,182.4 733.5,189.4 733.8,182 734.1,162.4 734.3,135.8 734.6,109.4 734.9,90.4 735.2,83.6 735.4,90.8 735.7,110 736,135.8 736.3,161.3 736.5,179.8 736.8,186.3 737.1,179.2 737.4,160.7 737.6,135.8 737.9,111.2 738.2,93.5 738.5,87.3 738.7,94.2 739,111.9 739.3,135.8 739.6,159.3 739.8,176.2 740.1,182 740.4,175.5 740.7,158.5 740.9,135.8 741.2,113.5 741.5,97.5 741.8,92 742,98.2 742.3,114.3 742.6,135.8 742.9,156.9 743.2,172 743.4,177.2 743.7,171.3 744,156.1 744.3,135.8 744.5,115.9 744.8,101.8 745.1,96.9 745.4,102.5 745.6,116.8 745.9,135.8 746.2,154.4 746.5,167.7 746.7,172.2 747,166.9 747.3,153.6 747.6,135.8 747.8,118.4 748.1,106.1 748.4,101.9 748.7,106.8 748.9,119.3 749.2,135.8 749.5,151.9 749.8,163.4 750,167.3 750.3,162.7 750.6,151.2 750.9,135.8 751.1,120.8 751.4,110.2 751.7,106.6 752,110.9 752.3,121.6 752.5,135.8 752.8,149.6 753.1,159.4 753.4,162.7 753.6,158.8 753.9,148.9 754.2,135.8 754.5,123 754.7,114 755,111 755.3,114.6 755.6,123.7 755.8,135.8 756.1,147.5 756.4,155.8 756.7,158.6 756.9,155.3 757.2,146.9 757.5,135.8 757.8,125 758,117.4 758.3,114.9 758.6,117.9 758.9,125.6 759.1,135.8 759.4,145.7 759.7,152.6 760,155 760.2,152.2 760.5,145.1 760.8,135.8 761.1,126.8 761.4,120.4 761.6,118.3 761.9,120.9 762.2,127.3 762.5,135.8 762.7,144 763,149.9 763.3,151.8 763.6,149.4 763.8,143.6 764.1,135.8 764.4,128.3 764.7,123 764.9,121.2 765.2,123.4 765.5,128.7 765.8,135.8 766,142.6 766.3,147.5 766.6,149.1 766.9,147.1 767.1,142.2 767.4,135.8 767.7,129.6 768,125.2 768.2,123.7 768.5,125.5 768.8,130 769.1,135.8 769.3,141.5 769.6,145.5 769.9,146.8 770.2,145.1 770.5,141.1 770.7,135.8 771,130.7 771.3,127 771.6,125.8 771.8,127.3 772.1,131 772.4,135.8 772.7,140.5 772.9,143.8 773.2,144.8 773.5,143.5 773.8,140.2 774,135.8 774.3,131.6 774.6,128.6 774.9,127.6 775.1,128.8 775.4,131.8 775.7,135.8 776,139.6 776.2,142.3 776.5,143.2 776.8,142.1 777.1,139.4 777.3,135.8 777.6,132.3 777.9,129.9 778.2,129.1 778.4,130.1 778.7,132.6 779,135.8 779.3,138.9 779.6,141.2 779.8,141.9 780.1,141 780.4,138.7 780.7,135.8 780.9,133 781.2,131 781.5,130.3 781.8,131.1 782,133.1 782.3,135.8 782.6,138.4 782.9,140.2 783.1,140.8 783.4,140 783.7,138.2 784,135.8 784.2,133.5 784.5,131.8 784.8,131.3 785.1,132 785.3,133.6 785.6,135.8 785.9,137.9 786.2,139.4 786.4,139.9 786.7,139.3 787,137.8 787.3,135.8 787.5,133.9 787.8,132.6 788.1,132.1 788.4,132.7 788.7,134 788.9,135.8 789.2,137.5 789.5,138.7 789.8,139.1 790,138.6 790.3,137.4 790.6,135.8 790.9,134.3 791.1,133.2 791.4,132.8 791.7,133.3 792,134.4 792.2,135.8 792.5,137.2 792.8,138.2 793.1,138.5 793.3,138.1 793.6,137.1 793.9,135.8 794.2,134.5 794.4,133.7 794.7,133.4 795,133.7 795.3,134.6 795.5,135.8 795.8,136.9 796.1,137.7 796.4,138 796.6,137.7 796.7,137.5" stroke="#c56e1a" stroke-width="1.95"/>
</g>
<rect x="602.7" y="74.7" width="198" height="122.3" fill="none" stroke="#000" stroke-width="1.1"/>
<path d="M607.1 197.0v-1.9M607.1 74.7v1.9M613.4 197.0v-1.1M613.4 74.7v1.1M619.7 197.0v-1.1M619.7 74.7v1.1M626.1 197.0v-1.1M626.1 74.7v1.1M632.4 197.0v-1.1M632.4 74.7v1.1M638.7 197.0v-1.9M638.7 74.7v1.9M645.0 197.0v-1.1M645.0 74.7v1.1M651.3 197.0v-1.1M651.3 74.7v1.1M657.7 197.0v-1.1M657.7 74.7v1.1M664.0 197.0v-1.1M664.0 74.7v1.1M670.3 197.0v-1.9M670.3 74.7v1.9M676.6 197.0v-1.1M676.6 74.7v1.1M682.9 197.0v-1.1M682.9 74.7v1.1M689.3 197.0v-1.1M689.3 74.7v1.1M695.6 197.0v-1.1M695.6 74.7v1.1M701.9 197.0v-1.9M701.9 74.7v1.9M708.2 197.0v-1.1M708.2 74.7v1.1M714.5 197.0v-1.1M714.5 74.7v1.1M720.9 197.0v-1.1M720.9 74.7v1.1M727.2 197.0v-1.1M727.2 74.7v1.1M733.5 197.0v-1.9M733.5 74.7v1.9M739.8 197.0v-1.1M739.8 74.7v1.1M746.1 197.0v-1.1M746.1 74.7v1.1M752.5 197.0v-1.1M752.5 74.7v1.1M758.8 197.0v-1.1M758.8 74.7v1.1M765.1 197.0v-1.9M765.1 74.7v1.9M771.4 197.0v-1.1M771.4 74.7v1.1M777.7 197.0v-1.1M777.7 74.7v1.1M784.1 197.0v-1.1M784.1 74.7v1.1M790.4 197.0v-1.1M790.4 74.7v1.1M796.7 197.0v-1.9M796.7 74.7v1.9M602.7 193.0h1.1M800.7 193.0h-1.1M602.7 188.6h1.1M800.7 188.6h-1.1M602.7 184.2h1.1M800.7 184.2h-1.1M602.7 179.8h1.9M800.7 179.8h-1.9M602.7 175.4h1.1M800.7 175.4h-1.1M602.7 171.0h1.1M800.7 171.0h-1.1M602.7 166.6h1.1M800.7 166.6h-1.1M602.7 162.2h1.1M800.7 162.2h-1.1M602.7 157.8h1.9M800.7 157.8h-1.9M602.7 153.4h1.1M800.7 153.4h-1.1M602.7 149.0h1.1M800.7 149.0h-1.1M602.7 144.6h1.1M800.7 144.6h-1.1M602.7 140.2h1.1M800.7 140.2h-1.1M602.7 135.8h1.9M800.7 135.8h-1.9M602.7 131.4h1.1M800.7 131.4h-1.1M602.7 127.0h1.1M800.7 127.0h-1.1M602.7 122.6h1.1M800.7 122.6h-1.1M602.7 118.2h1.1M800.7 118.2h-1.1M602.7 113.8h1.9M800.7 113.8h-1.9M602.7 109.4h1.1M800.7 109.4h-1.1M602.7 105.0h1.1M800.7 105.0h-1.1M602.7 100.6h1.1M800.7 100.6h-1.1M602.7 96.2h1.1M800.7 96.2h-1.1M602.7 91.8h1.9M800.7 91.8h-1.9M602.7 87.4h1.1M800.7 87.4h-1.1M602.7 83.0h1.1M800.7 83.0h-1.1M602.7 78.6h1.1M800.7 78.6h-1.1" stroke="#000" stroke-width="0.7" fill="none"/>
<text x="606.9" y="206.9" font-size="9.8" text-anchor="middle" font-weight="bold" >−4</text>
<text x="638.5" y="206.9" font-size="9.8" text-anchor="middle" font-weight="bold" >−3</text>
<text x="670.1" y="206.9" font-size="9.8" text-anchor="middle" font-weight="bold" >−2</text>
<text x="701.7" y="206.9" font-size="9.8" text-anchor="middle" font-weight="bold" >−1</text>
<text x="733.5" y="206.9" font-size="9.8" text-anchor="middle" font-weight="bold" >0</text>
<text x="765.1" y="206.9" font-size="9.8" text-anchor="middle" font-weight="bold" >1</text>
<text x="796.7" y="206.9" font-size="9.8" text-anchor="middle" font-weight="bold" >2</text>
<text x="600.8" y="95.2" font-size="9.8" text-anchor="end" font-weight="bold" >0.2</text>
<text x="600.8" y="117.2" font-size="9.8" text-anchor="end" font-weight="bold" >0.1</text>
<text x="600.8" y="139.2" font-size="9.8" text-anchor="end" font-weight="bold" >0.0</text>
<text x="600.8" y="161.2" font-size="9.8" text-anchor="end" font-weight="bold" >−0.1</text>
<text x="600.8" y="183.2" font-size="9.8" text-anchor="end" font-weight="bold" >−0.2</text>
<text x="701.5" y="220.5" font-size="9.7" text-anchor="middle" font-weight="bold" font-style="italic">t</text>
<text transform="translate(577.4,135.8) rotate(-90)" font-size="9.7" text-anchor="middle" font-weight="bold">Re(<tspan font-style="italic">q</tspan>(1, <tspan font-style="italic">t</tspan>))</text>
<path d="M806.4 126.1H814.2" stroke="#5e81b5" stroke-width="1.1"/>
<text x="817.1" y="128" font-size="5.5" text-anchor="start" font-weight="bold" ><tspan font-style="italic">σ</tspan> = 0</text>
<path d="M806.4 134.9H814.2" stroke="#e19c24" stroke-width="1.1"/>
<text x="817.1" y="136.8" font-size="5.5" text-anchor="start" font-weight="bold" ><tspan font-style="italic">σ</tspan> = 1</text>
<path d="M806.4 143.7H814.2" stroke="#8fb032" stroke-width="1.1"/>
<text x="817.1" y="145.6" font-size="5.5" text-anchor="start" font-weight="bold" ><tspan font-style="italic">σ</tspan> = 2</text>
<path d="M806.4 152.5H814.2" stroke="#eb6235" stroke-width="1.1"/>
<text x="817.1" y="154.4" font-size="5.5" text-anchor="start" font-weight="bold" ><tspan font-style="italic">σ</tspan> = 3</text>
<path d="M806.4 161.3H814.2" stroke="#8778b3" stroke-width="1.1"/>
<text x="817.1" y="163.2" font-size="5.5" text-anchor="start" font-weight="bold" ><tspan font-style="italic">σ</tspan> = 4</text>
<path d="M806.4 170.1H814.2" stroke="#c56e1a" stroke-width="1.1"/>
<text x="817.1" y="172" font-size="5.5" text-anchor="start" font-weight="bold" ><tspan font-style="italic">σ</tspan> = 5</text>
<g fill="none" stroke-linejoin="round">
<polyline points="607.1,366.9 607.2,366.8 607.5,367.1 607.8,367.9 608,369 608.3,370.2 608.6,371.1 608.9,371.4 609.1,371.2 609.4,370.3 609.7,369 610,367.7 610.2,366.7 610.5,366.3 610.8,366.6 611.1,367.6 611.3,369 611.6,370.5 611.9,371.6 612.2,372 612.4,371.6 612.7,370.6 613,369 613.3,367.4 613.6,366.2 613.8,365.7 614.1,366.1 614.4,367.3 614.7,369 614.9,370.8 615.2,372.1 615.5,372.7 615.8,372.2 616,370.9 616.3,369 616.6,367 616.9,365.5 617.1,364.9 617.4,365.4 617.7,366.9 618,369 618.2,371.2 618.5,372.8 618.8,373.5 619.1,373 619.3,371.3 619.6,369 619.9,366.6 620.2,364.7 620.4,364 620.7,364.6 621,366.4 621.3,369 621.6,371.7 621.8,373.7 622.1,374.5 622.4,373.9 622.7,371.9 622.9,369 623.2,366 623.5,363.8 623.8,362.9 624,363.6 624.3,365.8 624.6,369 624.9,372.3 625.1,374.8 625.4,375.8 625.7,375 626,372.5 626.2,369 626.5,365.4 626.8,362.6 627.1,361.5 627.3,362.4 627.6,365.1 627.9,369 628.2,373 628.4,376 628.7,377.2 629,376.3 629.3,373.3 629.5,369 629.8,364.6 630.1,361.2 630.4,359.9 630.7,361 630.9,364.3 631.2,369 631.5,373.9 631.8,377.5 632,379 632.3,377.8 632.6,374.2 632.9,369 633.1,363.7 633.4,359.6 633.7,358 634,359.3 634.2,363.3 634.5,369 634.8,374.9 635.1,379.4 635.3,381.2 635.6,379.7 635.9,375.3 636.2,369 636.4,362.5 636.7,357.6 637,355.6 637.3,357.2 637.5,362.1 637.8,369 638.1,376.1 638.4,381.5 638.6,383.7 638.9,381.9 639.2,376.6 639.5,369 639.8,361.2 640,355.3 640.3,352.9 640.6,354.8 640.9,360.7 641.1,369 641.4,377.6 641.7,384.1 642,386.7 642.2,384.5 642.5,378.1 642.8,369 643.1,359.6 643.3,352.5 643.6,349.7 643.9,352 644.2,359 644.4,369 644.7,379.2 645,387 645.3,390.1 645.5,387.5 645.8,379.9 646.1,369 646.4,357.8 646.6,349.4 646.9,346 647.2,348.8 647.5,357.2 647.7,369 648,381.2 648.3,390.4 648.6,394 648.9,391 649.1,381.9 649.4,369 649.7,355.8 650,345.8 650.2,341.8 650.5,345.1 650.8,355 651.1,369 651.3,383.3 651.6,394.2 651.9,398.4 652.2,394.8 652.4,384.1 652.7,369 653,353.5 653.3,341.8 653.5,337.2 653.8,341.1 654.1,352.7 654.4,369 654.6,385.7 654.9,398.3 655.2,403.3 655.5,399 655.7,386.5 656,369 656.3,351 656.6,337.5 656.8,332.2 657.1,336.8 657.4,350.2 657.7,369 658,388.2 658.2,402.7 658.5,408.3 658.8,403.4 659.1,389.1 659.3,369 659.6,348.5 659.9,333.1 660.2,327.1 660.4,332.4 660.7,347.6 661,369 661.3,390.8 661.5,407.1 661.8,413.4 662.1,407.8 662.4,391.6 662.6,369 662.9,346 663.2,328.8 663.5,322.2 663.7,328.1 664,345.2 664.3,369 664.6,393.2 664.8,411.2 665.1,418.1 665.4,411.9 665.7,393.9 665.9,369 666.2,343.7 666.5,324.9 666.8,317.8 667.1,324.4 667.3,343.1 667.6,369 667.9,395.2 668.2,414.7 668.4,422 668.7,415.2 669,395.8 669.3,369 669.5,342 669.8,322 670.1,314.5 670.4,321.6 670.6,341.6 670.9,369 671.2,396.6 671.5,417 671.7,424.5 672,417.2 672.3,396.9 672.6,369 672.8,341 673.1,320.5 673.4,312.9 673.7,320.4 673.9,341 674.2,369 674.5,397 674.8,417.5 675,425 675.3,417.4 675.6,396.9 675.9,369 676.2,341.2 676.4,321 676.7,313.7 677,321.3 677.3,341.6 677.5,369 677.8,396.2 678.1,415.9 678.4,422.8 678.6,415.4 678.9,395.6 679.2,369 679.5,342.8 679.7,323.9 680,317.3 680.3,324.6 680.6,343.6 680.8,369 681.1,393.9 681.4,411.7 681.7,417.8 681.9,410.8 682.2,392.8 682.5,369 682.8,345.8 683,329.3 683.3,323.8 683.6,330.5 683.9,347.1 684.1,369 684.4,390.2 684.7,405.1 685,409.9 685.3,403.8 685.5,388.7 685.8,369 686.1,350.1 686.4,337 686.6,332.9 686.9,338.5 687.2,351.8 687.5,369 687.7,385.3 688,396.5 688.3,399.9 688.6,395 688.8,383.6 689.1,369 689.4,355.4 689.7,346.1 689.9,343.5 690.2,347.7 690.5,357.2 690.8,369 691,379.9 691.3,387.1 691.6,389.1 691.9,385.6 692.1,378.1 692.4,369 692.7,360.7 693,355.4 693.2,354.1 693.5,356.8 693.8,362.4 694.1,369 694.4,374.8 694.6,378.4 694.9,379.1 695.2,377.2 695.5,373.4 695.7,369 696,365.3 696.3,363.2 696.6,362.9 696.8,364.2 697.1,366.5 697.4,369 697.7,371 697.9,372 698.2,372 698.5,371.2 698.8,370.1 699,369 699.3,368.3 699.6,368 699.9,368.1 700.1,368.4 700.4,368.8 700.7,369 701,369.1 701.2,369.1 701.5,369 701.8,369 702.1,369 702.3,369 702.6,368.9 702.9,368.8 703.2,368.6 703.5,368.5 703.7,368.6 704,369 704.3,369.6 704.6,370.4 704.8,370.9 705.1,371 705.4,370.3 705.7,369 705.9,367.2 706.2,365.5 706.5,364.4 706.8,364.6 707,366.2 707.3,369 707.6,372.4 707.9,375.5 708.1,377.2 708.4,376.7 708.7,373.8 709,369 709.2,363.5 709.5,358.7 709.8,356.4 710.1,357.4 710.3,361.9 710.6,369 710.9,377 711.2,383.5 711.4,386.6 711.7,385 712,378.7 712.3,369 712.6,358.4 712.8,349.9 713.1,346 713.4,348.3 713.7,356.6 713.9,369 714.2,382.3 714.5,392.8 714.8,397.4 715,394.4 715.3,384.1 715.6,369 715.9,353 716.1,340.5 716.4,335.2 716.7,339 717,351.3 717.2,369 717.5,387.6 717.8,401.9 718.1,407.8 718.3,403.3 718.6,389.2 718.9,369 719.2,348.1 719.4,332.1 719.7,325.7 720,330.9 720.3,346.7 720.5,369 720.8,392 721.1,409.4 721.4,416.2 721.7,410.4 721.9,393.2 722.2,369 722.5,344.3 722.8,325.7 723,318.6 723.3,324.9 723.6,343.3 723.9,369 724.1,395.1 724.4,414.5 724.7,421.9 725,415.1 725.2,395.8 725.5,369 725.8,341.9 726.1,321.8 726.3,314.3 726.6,321.4 726.9,341.4 727.2,369 727.4,396.7 727.7,417.2 728,424.7 728.3,417.4 728.5,397 728.8,369 729.1,341 729.4,320.4 729.6,312.9 729.9,320.4 730.2,341 730.5,369 730.8,397 731,417.4 731.3,424.8 731.6,417.3 731.9,396.8 732.1,369 732.4,341.3 732.7,321.2 733,314 733.2,321.5 733.5,341.7 733.8,369 734.1,396.1 734.3,415.8 734.6,422.8 734.9,415.3 735.2,395.6 735.4,369 735.7,342.7 736,323.6 736.3,316.9 736.5,324.2 736.8,343.3 737.1,369 737.4,394.4 737.6,412.7 737.9,419.1 738.2,412.1 738.5,393.7 738.7,369 739,344.7 739.3,327.2 739.6,321.1 739.9,327.8 740.1,345.4 740.4,369 740.7,392.2 741,408.8 741.2,414.5 741.5,408.1 741.8,391.4 742.1,369 742.3,347.1 742.6,331.4 742.9,326 743.2,332.1 743.4,347.9 743.7,369 744,389.7 744.3,404.4 744.5,409.5 744.8,403.7 745.1,388.8 745.4,369 745.6,349.6 745.9,335.8 746.2,331.1 746.5,336.5 746.7,350.5 747,369 747.3,387.1 747.6,400 747.8,404.4 748.1,399.3 748.4,386.3 748.7,369 749,352.1 749.2,340.1 749.5,336.1 749.8,340.8 750.1,352.9 750.3,369 750.6,384.7 750.9,395.8 751.2,399.5 751.4,395.1 751.7,383.9 752,369 752.3,354.5 752.5,344.2 752.8,340.8 753.1,344.9 753.4,355.3 753.6,369 753.9,382.4 754.2,391.8 754.5,395 754.7,391.2 755,381.7 755.3,369 755.6,356.7 755.8,348 756.1,345.1 756.4,348.6 756.7,357.4 756.9,369 757.2,380.3 757.5,388.3 757.8,391 758.1,387.7 758.3,379.7 758.6,369 758.9,358.6 759.2,351.3 759.4,348.9 759.7,351.8 760,359.2 760.3,369 760.5,378.5 760.8,385.2 761.1,387.4 761.4,384.7 761.6,377.9 761.9,369 762.2,360.3 762.5,354.2 762.7,352.2 763,354.7 763.3,360.8 763.6,369 763.8,376.9 764.1,382.5 764.4,384.3 764.7,382.1 764.9,376.4 765.2,369 765.5,361.8 765.8,356.7 766,355 766.3,357.1 766.6,362.2 766.9,369 767.2,375.6 767.4,380.2 767.7,381.7 768,379.8 768.3,375.2 768.5,369 768.8,363 769.1,358.8 769.4,357.5 769.6,359.2 769.9,363.4 770.2,369 770.5,374.4 770.7,378.2 771,379.5 771.3,377.9 771.6,374.1 771.8,369 772.1,364.1 772.4,360.6 772.7,359.5 772.9,360.9 773.2,364.4 773.5,369 773.8,373.5 774,376.6 774.3,377.6 774.6,376.3 774.9,373.2 775.1,369 775.4,365 775.7,362.1 776,361.2 776.3,362.3 776.5,365.2 776.8,369 777.1,372.7 777.4,375.2 777.6,376.1 777.9,375 778.2,372.4 778.5,369 778.7,365.7 779,363.4 779.3,362.6 779.6,363.5 779.8,365.9 780.1,369 780.4,372 780.7,374.1 780.9,374.8 781.2,373.9 781.5,371.8 781.8,369 782,366.3 782.3,364.4 782.6,363.8 782.9,364.5 783.1,366.5 783.4,369 783.7,371.4 784,373.2 784.2,373.7 784.5,373 784.8,371.3 785.1,369 785.4,366.8 785.6,365.2 785.9,364.7 786.2,365.4 786.5,366.9 786.7,369 787,371 787.3,372.4 787.6,372.9 787.8,372.3 788.1,370.9 788.4,369 788.7,367.2 788.9,365.9 789.2,365.5 789.5,366 789.8,367.3 790,369 790.3,370.6 790.6,371.8 790.9,372.1 791.1,371.7 791.4,370.5 791.7,369 792,367.5 792.2,366.5 792.5,366.2 792.8,366.6 793.1,367.6 793.3,369 793.6,370.3 793.9,371.3 794.2,371.6 794.5,371.2 794.7,370.2 795,369 795.3,367.8 795.6,367 795.8,366.7 796.1,367 796.4,367.9 796.7,369 796.7,369.2" stroke="#8778b3" stroke-width="2.35"/>
<polyline points="607.1,367.5 607.3,367.1 607.5,366.8 607.8,367.1 608.1,367.9 608.4,369 608.6,370.2 608.9,371.1 609.2,371.4 609.5,371.2 609.7,370.3 610,369 610.3,367.7 610.6,366.7 610.8,366.3 611.1,366.6 611.4,367.6 611.7,369 611.9,370.5 612.2,371.6 612.5,372 612.8,371.6 613,370.6 613.3,369 613.6,367.4 613.9,366.2 614.1,365.7 614.4,366.1 614.7,367.3 615,369 615.2,370.8 615.5,372.1 615.8,372.7 616.1,372.2 616.4,370.9 616.6,369 616.9,367 617.2,365.5 617.5,364.9 617.7,365.4 618,366.9 618.3,369 618.6,371.2 618.8,372.8 619.1,373.5 619.4,373 619.7,371.3 619.9,369 620.2,366.6 620.5,364.7 620.8,364 621,364.6 621.3,366.4 621.6,369 621.9,371.7 622.1,373.7 622.4,374.5 622.7,373.9 623,371.9 623.2,369 623.5,366 623.8,363.8 624.1,362.9 624.3,363.6 624.6,365.8 624.9,369 625.2,372.3 625.5,374.8 625.7,375.8 626,374.9 626.3,372.5 626.6,369 626.8,365.4 627.1,362.6 627.4,361.5 627.7,362.4 627.9,365.1 628.2,369 628.5,373 628.8,376 629,377.2 629.3,376.3 629.6,373.3 629.9,369 630.1,364.6 630.4,361.3 630.7,359.9 631,361 631.2,364.3 631.5,369 631.8,373.8 632.1,377.5 632.3,379 632.6,377.8 632.9,374.2 633.2,369 633.4,363.7 633.7,359.6 634,358 634.3,359.3 634.6,363.3 634.8,369 635.1,374.9 635.4,379.4 635.7,381.1 635.9,379.7 636.2,375.3 636.5,369 636.8,362.5 637,357.6 637.3,355.7 637.6,357.3 637.9,362.1 638.1,369 638.4,376.1 638.7,381.5 639,383.7 639.2,381.9 639.5,376.6 639.8,369 640.1,361.2 640.3,355.3 640.6,352.9 640.9,354.9 641.2,360.7 641.4,369 641.7,377.5 642,384 642.3,386.6 642.5,384.5 642.8,378.1 643.1,369 643.4,359.6 643.7,352.6 643.9,349.7 644.2,352.1 644.5,359.1 644.8,369 645,379.2 645.3,387 645.6,390 645.9,387.5 646.1,379.8 646.4,369 646.7,357.9 647,349.4 647.2,346.1 647.5,348.9 647.8,357.2 648.1,369 648.3,381.1 648.6,390.3 648.9,393.9 649.2,390.9 649.4,381.8 649.7,369 650,355.8 650.3,345.9 650.5,341.9 650.8,345.2 651.1,355.1 651.4,369 651.6,383.3 651.9,394.1 652.2,398.3 652.5,394.7 652.8,384 653,369 653.3,353.6 653.6,341.9 653.9,337.4 654.1,341.3 654.4,352.8 654.7,369 655,385.6 655.2,398.1 655.5,403.1 655.8,398.8 656.1,386.4 656.3,369 656.6,351.2 656.9,337.7 657.2,332.5 657.4,337 657.7,350.3 658,369 658.3,388.1 658.5,402.4 658.8,408 659.1,403.2 659.4,388.9 659.6,369 659.9,348.6 660.2,333.4 660.5,327.5 660.7,332.7 661,347.8 661.3,369 661.6,390.6 661.9,406.7 662.1,413 662.4,407.4 662.7,391.4 663,369 663.2,346.2 663.5,329.2 663.8,322.6 664.1,328.5 664.3,345.4 664.6,369 664.9,392.9 665.2,410.8 665.4,417.6 665.7,411.4 666,393.6 666.3,369 666.5,344 666.8,325.5 667.1,318.4 667.4,324.9 667.6,343.4 667.9,369 668.2,394.9 668.5,414.1 668.7,421.3 669,414.5 669.3,395.4 669.6,369 669.8,342.4 670.1,322.7 670.4,315.3 670.7,322.4 671,342 671.2,369 671.5,396.2 671.8,416.2 672.1,423.6 672.3,416.4 672.6,396.4 672.9,369 673.2,341.5 673.4,321.4 673.7,314 674,321.4 674.3,341.5 674.5,369 674.8,396.5 675.1,416.5 675.4,423.8 675.6,416.4 675.9,396.3 676.2,369 676.5,341.8 676.7,322.1 677,315 677.3,322.4 677.6,342.2 677.8,369 678.1,395.5 678.4,414.7 678.7,421.4 678.9,414.1 679.2,394.9 679.5,369 679.8,343.5 680.1,325.2 680.3,318.8 680.6,325.9 680.9,344.4 681.2,369 681.4,393.1 681.7,410.3 682,416.2 682.3,409.4 682.5,392 682.8,369 683.1,346.6 683.4,330.7 683.6,325.5 683.9,331.9 684.2,347.9 684.5,369 684.7,389.4 685,403.6 685.3,408.2 685.6,402.3 685.8,387.8 686.1,369 686.4,351 686.7,338.5 686.9,334.6 687.2,339.9 687.5,352.6 687.8,369 688,384.5 688.3,395.1 688.6,398.3 688.9,393.6 689.2,382.8 689.4,369 689.7,356.1 690,347.5 690.3,345 690.5,349 690.8,357.9 691.1,369 691.4,379.2 691.6,385.9 691.9,387.7 692.2,384.4 692.5,377.5 692.7,369 693,361.4 693.3,356.5 693.6,355.3 693.8,357.9 694.1,363 694.4,369 694.7,374.3 694.9,377.5 695.2,378.1 695.5,376.3 695.8,372.9 696,369 696.3,365.7 696.6,363.9 696.9,363.7 697.1,364.9 697.4,366.9 697.7,369 698,370.7 698.3,371.5 698.5,371.5 698.8,370.8 699.1,369.9 699.4,369 699.6,368.4 699.9,368.2 700.2,368.4 700.5,368.6 700.7,368.9 701,369 701.3,369 701.6,369 701.8,369 702.1,369 702.4,369 702.7,369 702.9,368.9 703.2,368.7 703.5,368.4 703.8,368.3 704,368.5 704.3,369 704.6,369.8 704.9,370.7 705.1,371.3 705.4,371.3 705.7,370.6 706,369 706.2,367 706.5,365.1 706.8,363.9 707.1,364.1 707.4,365.9 707.6,369 707.9,372.7 708.2,376 708.5,377.8 708.7,377.2 709,374.1 709.3,369 709.6,363.1 709.8,358.2 710.1,355.7 710.4,356.8 710.7,361.5 710.9,369 711.2,377.3 711.5,384.1 711.8,387.3 712,385.6 712.3,379 712.6,369 712.9,358.1 713.1,349.4 713.4,345.4 713.7,347.8 714,356.3 714.2,369 714.5,382.6 714.8,393.3 715.1,397.9 715.3,394.8 715.6,384.3 715.9,369 716.2,352.8 716.5,340.2 716.7,334.9 717,338.8 717.3,351.1 717.6,369 717.8,387.7 718.1,402 718.4,407.9 718.7,403.3 718.9,389.2 719.2,369 719.5,348.1 719.8,332.2 720,325.8 720.3,331 720.6,346.7 720.9,369 721.1,391.9 721.4,409.2 721.7,415.9 722,410.1 722.2,393 722.5,369 722.8,344.5 723.1,326.1 723.3,319 723.6,325.3 723.9,343.6 724.2,369 724.4,394.8 724.7,414 725,421.3 725.3,414.6 725.6,395.4 725.8,369 726.1,342.3 726.4,322.5 726.7,315.1 726.9,322.2 727.2,341.9 727.5,369 727.8,396.3 728,416.3 728.3,423.8 728.6,416.5 728.9,396.5 729.1,369 729.4,341.5 729.7,321.4 730,314 730.2,321.4 730.5,341.5 730.8,369 731.1,396.4 731.3,416.4 731.6,423.6 731.9,416.2 732.2,396.2 732.4,369 732.7,342 733,322.3 733.3,315.3 733.5,322.6 733.8,342.3 734.1,369 734.4,395.5 734.7,414.6 734.9,421.4 735.2,414.2 735.5,394.9 735.8,369 736,343.3 736.3,324.8 736.6,318.3 736.9,325.3 737.1,344 737.4,369 737.7,393.7 738,411.5 738.2,417.7 738.5,410.9 738.8,393 739.1,369 739.3,345.4 739.6,328.4 739.9,322.5 740.2,329 740.4,346.1 740.7,369 741,391.5 741.3,407.6 741.5,413.2 741.8,406.9 742.1,390.7 742.4,369 742.6,347.7 742.9,332.5 743.2,327.3 743.5,333.2 743.8,348.6 744,369 744.3,389 744.6,403.3 744.9,408.2 745.1,402.6 745.4,388.2 745.7,369 746,350.2 746.2,336.8 746.5,332.3 746.8,337.6 747.1,351.1 747.3,369 747.6,386.5 747.9,399 748.2,403.2 748.4,398.3 748.7,385.7 749,369 749.3,352.7 749.5,341.1 749.8,337.2 750.1,341.8 750.4,353.5 750.6,369 750.9,384.1 751.2,394.9 751.5,398.5 751.8,394.2 752,383.4 752.3,369 752.6,355 752.9,345.1 753.1,341.8 753.4,345.7 753.7,355.7 754,369 754.2,381.9 754.5,391 754.8,394.1 755.1,390.4 755.3,381.2 755.6,369 755.9,357.1 756.2,348.7 756.4,345.9 756.7,349.3 757,357.8 757.3,369 757.5,379.9 757.8,387.6 758.1,390.2 758.4,387.1 758.6,379.3 758.9,369 759.2,359 759.5,352 759.7,349.6 760,352.4 760.3,359.6 760.6,369 760.9,378.1 761.1,384.6 761.4,386.7 761.7,384.1 762,377.6 762.2,369 762.5,360.7 762.8,354.8 763.1,352.8 763.3,355.2 763.6,361.1 763.9,369 764.2,376.6 764.4,382 764.7,383.8 765,381.6 765.3,376.2 765.5,369 765.8,362.1 766.1,357.2 766.4,355.6 766.6,357.5 766.9,362.5 767.2,369 767.5,375.3 767.7,379.8 768,381.2 768.3,379.4 768.6,374.9 768.8,369 769.1,363.3 769.4,359.2 769.7,357.9 770,359.5 770.2,363.6 770.5,369 770.8,374.2 771.1,377.9 771.3,379.1 771.6,377.6 771.9,373.9 772.2,369 772.4,364.3 772.7,360.9 773,359.8 773.3,361.2 773.5,364.6 773.8,369 774.1,373.3 774.4,376.3 774.6,377.3 774.9,376.1 775.2,373 775.5,369 775.7,365.1 776,362.4 776.3,361.5 776.6,362.6 776.8,365.4 777.1,369 777.4,372.5 777.7,375 777.9,375.8 778.2,374.8 778.5,372.3 778.8,369 779.1,365.8 779.3,363.6 779.6,362.8 779.9,363.8 780.2,366 780.4,369 780.7,371.9 781,373.9 781.3,374.6 781.5,373.7 781.8,371.7 782.1,369 782.4,366.4 782.6,364.6 782.9,364 783.2,364.7 783.5,366.6 783.7,369 784,371.4 784.3,373 784.6,373.6 784.8,372.9 785.1,371.2 785.4,369 785.7,366.9 785.9,365.4 786.2,364.9 786.5,365.5 786.8,367 787,369 787.3,370.9 787.6,372.3 787.9,372.7 788.2,372.2 788.4,370.8 788.7,369 789,367.3 789.3,366 789.5,365.6 789.8,366.1 790.1,367.4 790.4,369 790.6,370.6 790.9,371.7 791.2,372 791.5,371.6 791.7,370.5 792,369 792.3,367.6 792.6,366.6 792.8,366.3 793.1,366.7 793.4,367.7 793.7,369 793.9,370.3 794.2,371.2 794.5,371.5 794.8,371.1 795,370.2 795.3,369 795.6,367.8 795.9,367 796.1,366.8 796.4,367.1 796.7,367.9 796.7,367.9" stroke="#c56e1a" stroke-width="2.35"/>
</g>
<rect x="602.7" y="307.9" width="198" height="122.3" fill="none" stroke="#000" stroke-width="1.1"/>
<path d="M607.1 430.2v-1.9M607.1 307.9v1.9M613.4 430.2v-1.1M613.4 307.9v1.1M619.7 430.2v-1.1M619.7 307.9v1.1M626.1 430.2v-1.1M626.1 307.9v1.1M632.4 430.2v-1.1M632.4 307.9v1.1M638.7 430.2v-1.9M638.7 307.9v1.9M645.0 430.2v-1.1M645.0 307.9v1.1M651.3 430.2v-1.1M651.3 307.9v1.1M657.7 430.2v-1.1M657.7 307.9v1.1M664.0 430.2v-1.1M664.0 307.9v1.1M670.3 430.2v-1.9M670.3 307.9v1.9M676.6 430.2v-1.1M676.6 307.9v1.1M682.9 430.2v-1.1M682.9 307.9v1.1M689.3 430.2v-1.1M689.3 307.9v1.1M695.6 430.2v-1.1M695.6 307.9v1.1M701.9 430.2v-1.9M701.9 307.9v1.9M708.2 430.2v-1.1M708.2 307.9v1.1M714.5 430.2v-1.1M714.5 307.9v1.1M720.9 430.2v-1.1M720.9 307.9v1.1M727.2 430.2v-1.1M727.2 307.9v1.1M733.5 430.2v-1.9M733.5 307.9v1.9M739.8 430.2v-1.1M739.8 307.9v1.1M746.1 430.2v-1.1M746.1 307.9v1.1M752.5 430.2v-1.1M752.5 307.9v1.1M758.8 430.2v-1.1M758.8 307.9v1.1M765.1 430.2v-1.9M765.1 307.9v1.9M771.4 430.2v-1.1M771.4 307.9v1.1M777.7 430.2v-1.1M777.7 307.9v1.1M784.1 430.2v-1.1M784.1 307.9v1.1M790.4 430.2v-1.1M790.4 307.9v1.1M796.7 430.2v-1.9M796.7 307.9v1.9M602.7 426.2h1.1M800.7 426.2h-1.1M602.7 421.8h1.1M800.7 421.8h-1.1M602.7 417.4h1.1M800.7 417.4h-1.1M602.7 413.0h1.9M800.7 413.0h-1.9M602.7 408.6h1.1M800.7 408.6h-1.1M602.7 404.2h1.1M800.7 404.2h-1.1M602.7 399.8h1.1M800.7 399.8h-1.1M602.7 395.4h1.1M800.7 395.4h-1.1M602.7 391.0h1.9M800.7 391.0h-1.9M602.7 386.6h1.1M800.7 386.6h-1.1M602.7 382.2h1.1M800.7 382.2h-1.1M602.7 377.8h1.1M800.7 377.8h-1.1M602.7 373.4h1.1M800.7 373.4h-1.1M602.7 369.0h1.9M800.7 369.0h-1.9M602.7 364.6h1.1M800.7 364.6h-1.1M602.7 360.2h1.1M800.7 360.2h-1.1M602.7 355.8h1.1M800.7 355.8h-1.1M602.7 351.4h1.1M800.7 351.4h-1.1M602.7 347.0h1.9M800.7 347.0h-1.9M602.7 342.6h1.1M800.7 342.6h-1.1M602.7 338.2h1.1M800.7 338.2h-1.1M602.7 333.8h1.1M800.7 333.8h-1.1M602.7 329.4h1.1M800.7 329.4h-1.1M602.7 325.0h1.9M800.7 325.0h-1.9M602.7 320.6h1.1M800.7 320.6h-1.1M602.7 316.2h1.1M800.7 316.2h-1.1M602.7 311.8h1.1M800.7 311.8h-1.1" stroke="#000" stroke-width="0.7" fill="none"/>
<text x="606.9" y="440.1" font-size="9.8" text-anchor="middle" font-weight="bold" >−4</text>
<text x="638.5" y="440.1" font-size="9.8" text-anchor="middle" font-weight="bold" >−3</text>
<text x="670.1" y="440.1" font-size="9.8" text-anchor="middle" font-weight="bold" >−2</text>
<text x="701.7" y="440.1" font-size="9.8" text-anchor="middle" font-weight="bold" >−1</text>
<text x="733.5" y="440.1" font-size="9.8" text-anchor="middle" font-weight="bold" >0</text>
<text x="765.1" y="440.1" font-size="9.8" text-anchor="middle" font-weight="bold" >1</text>
<text x="796.7" y="440.1" font-size="9.8" text-anchor="middle" font-weight="bold" >2</text>
<text x="600.8" y="328.4" font-size="9.8" text-anchor="end" font-weight="bold" >0.2</text>
<text x="600.8" y="350.4" font-size="9.8" text-anchor="end" font-weight="bold" >0.1</text>
<text x="600.8" y="372.4" font-size="9.8" text-anchor="end" font-weight="bold" >0.0</text>
<text x="600.8" y="394.4" font-size="9.8" text-anchor="end" font-weight="bold" >−0.1</text>
<text x="600.8" y="416.4" font-size="9.8" text-anchor="end" font-weight="bold" >−0.2</text>
<text x="701.5" y="453.7" font-size="9.7" text-anchor="middle" font-weight="bold" font-style="italic">t</text>
<text transform="translate(577.4,369) rotate(-90)" font-size="9.7" text-anchor="middle" font-weight="bold">Im(<tspan font-style="italic">q</tspan>(1, <tspan font-style="italic">t</tspan>))</text>
<path d="M806.4 359.3H814.2" stroke="#5e81b5" stroke-width="1.1"/>
<text x="817.1" y="361.2" font-size="5.5" text-anchor="start" font-weight="bold" ><tspan font-style="italic">σ</tspan> = 0</text>
<path d="M806.4 368.1H814.2" stroke="#e19c24" stroke-width="1.1"/>
<text x="817.1" y="370" font-size="5.5" text-anchor="start" font-weight="bold" ><tspan font-style="italic">σ</tspan> = 1</text>
<path d="M806.4 376.9H814.2" stroke="#8fb032" stroke-width="1.1"/>
<text x="817.1" y="378.8" font-size="5.5" text-anchor="start" font-weight="bold" ><tspan font-style="italic">σ</tspan> = 2</text>
<path d="M806.4 385.7H814.2" stroke="#eb6235" stroke-width="1.1"/>
<text x="817.1" y="387.6" font-size="5.5" text-anchor="start" font-weight="bold" ><tspan font-style="italic">σ</tspan> = 3</text>
<path d="M806.4 394.5H814.2" stroke="#8778b3" stroke-width="1.1"/>
<text x="817.1" y="396.4" font-size="5.5" text-anchor="start" font-weight="bold" ><tspan font-style="italic">σ</tspan> = 4</text>
<path d="M806.4 403.3H814.2" stroke="#c56e1a" stroke-width="1.1"/>
<text x="817.1" y="405.2" font-size="5.5" text-anchor="start" font-weight="bold" ><tspan font-style="italic">σ</tspan> = 5</text>
<path d="M40.6 153.8L32.7 104.0M32.7 104.0L117.1 35.9M117.1 35.9L244.8 69.3M244.8 69.3L238.3 116.8M40.6 153.8L178.8 207.9M178.8 207.9L238.3 116.8M178.8 207.9L181.8 155.8M32.7 104.0L181.8 155.8M181.8 155.8L244.8 69.3M40.6 153.8L118.7 80.9M118.7 80.9L238.3 116.8M118.7 80.9L117.1 35.9" stroke="#b0b0b0" stroke-width="0.45" fill="none"/>
<path d="M42.9 154.7L44.2 153.5M50.9 157.8L51.6 157.1M58.9 160.9L59.6 160.2M67.1 164.1L67.8 163.4M75.4 167.4L76.1 166.7M83.8 170.7L85.0 169.4M92.4 174.0L93.0 173.3M101.1 177.4L101.7 176.7M109.9 180.9L110.5 180.1M118.9 184.4L119.5 183.6M128.0 188.0L129.1 186.6M137.2 191.6L137.8 190.8M146.6 195.3L147.2 194.5M156.2 199.0L156.8 198.2M165.9 202.8L166.5 202.0M175.8 206.7L176.8 205.2M180.2 205.7L177.9 204.8M183.0 201.4L181.7 201.0M185.7 197.3L184.5 196.8M188.4 193.1L187.2 192.7M191.0 189.1L189.8 188.7M193.6 185.1L191.4 184.3M196.2 181.2L195.0 180.8M198.7 177.4L197.5 177.0M201.1 173.6L199.9 173.2M203.5 169.9L202.4 169.5M205.9 166.3L203.8 165.6M208.3 162.7L207.1 162.3M210.6 159.2L209.4 158.8M212.8 155.8L211.7 155.4M215.1 152.3L213.9 152.0M217.2 149.0L215.2 148.3M219.4 145.7L218.3 145.3M221.5 142.5L220.4 142.1M223.6 139.3L222.5 138.9M225.7 136.1L224.6 135.8M227.7 133.0L225.7 132.4M229.7 130.0L228.6 129.6M231.6 127.0L230.6 126.7M233.6 124.0L232.5 123.7M235.5 121.1L234.4 120.8M237.3 118.3L235.4 117.7M40.4 152.9L41.2 152.2M39.7 148.4L41.0 147.2M39.0 143.8L39.8 143.2M38.3 139.2L39.6 138.1M37.5 134.6L38.3 133.9M36.8 129.8L38.1 128.7M36.0 125.0L36.8 124.3M35.3 120.1L36.6 119.0M34.5 115.2L35.3 114.5M33.7 110.2L35.1 109.0M32.9 105.1L33.7 104.4" stroke="#777" stroke-width="0.4" fill="none"/>
<text x="35" y="166" font-size="9.7" font-weight="bold" text-anchor="middle">−1</text>
<text x="78.9" y="182.4" font-size="9.7" font-weight="bold" text-anchor="middle">0</text>
<text x="123.4" y="199.3" font-size="9.7" font-weight="bold" text-anchor="middle">1</text>
<text x="172.4" y="218.3" font-size="9.7" font-weight="bold" text-anchor="middle">2</text>
<text x="94.9" y="198.8" font-size="9.7" font-weight="bold" text-anchor="middle" font-style="italic">t</text>
<text x="188.6" y="213.4" font-size="9.7" font-weight="bold" text-anchor="middle">−2</text>
<text x="211.5" y="172.6" font-size="9.7" font-weight="bold" text-anchor="middle">0</text>
<text x="233" y="139.5" font-size="9.7" font-weight="bold" text-anchor="middle">2</text>
<text x="227.8" y="167.8" font-size="9.7" font-weight="bold" text-anchor="middle" font-style="italic">x</text>
<text x="24.1" y="111" font-size="9.7" font-weight="bold" text-anchor="middle">0.2</text>
<text x="27.1" y="130.7" font-size="9.7" font-weight="bold" text-anchor="middle">0.0</text>
<text x="26.7" y="149.2" font-size="9.7" font-weight="bold" text-anchor="middle">−0.2</text>
<filter id="b0" x="-5%" y="-5%" width="110%" height="110%"><feGaussianBlur stdDeviation="0.7"/></filter>
<g filter="url(#b0)"><g class="s">
<path color="#01ffff" d="M229 95.5l5.3 4.1 3.4-4.9 0-.3-8.4-2.4z"/>
<path color="#01ffff" d="M224 91.6l5 3.9.3-3.5-5.2-1.4z"/>
<path color="#01ffff" d="M221.9 90l2.1 1.6.1-1z"/>
<path color="#00feff" d="M206.6 85.6l3.9 3.1.2-1.9z"/>
<path color="#01ffff" d="M210.5 88.7l4.8 3.9.5-4.3-5.1-1.5z"/>
<path color="#01ffff" d="M228.5 103.1l2.1 1.7 3.7-5.2-5.3-4.1z"/>
<path color="#01ffff" d="M223.3 99l5.2 4.1.5-7.6-5-3.9z"/>
<path color="#01fffe" d="M215.3 92.6l8 6.4.7-7.4-2.1-1.6-6.1-1.7z"/>
<path color="#00fffc" d="M191.8 81.6l5.4 4.4.5-2.8z"/>
<path color="#0ff" d="M197.2 86l4.7 3.6.8-5.1-5-1.3z"/>
<path color="#00fdff" d="M201.9 89.6l7.7 6.2.9-7.1-3.9-3.1-3.9-1.1z"/>
<path color="#01ffff" d="M209.6 95.8l4.9 4.2.8-7.4-4.8-3.9z"/>
<path color="#01feff" d="M230.6 104.8l-2.1-1.7-.4 5.4z"/>
<path color="#01ffff" d="M222.6 106.7l4.4 3.4 1.1-1.6.4-5.4-5.2-4.1z"/>
<path color="#01fffd" d="M214.5 100l8.1 6.7.7-7.7-8-6.4z"/>
<path color="#00f7ff" d="M178.2 77.6l3 2.4.4-1.7-3.3-.9z"/>
<path color="#00f8ff" d="M181.2 80l3 2.6.7-3.2-3.3-1.1z"/>
<path color="#00fcff" d="M184.2 82.6l1.9 1.7.9-4.3-2.1-.6z"/>
<path color="#01ffff" d="M186.1 84.3l1.7 1.6 1-5.3-1.8-.6z"/>
<path color="#01fffc" d="M187.8 85.9l1.9 1.7 1.2-6.3-2.1-.7z"/>
<path color="#01fffa" d="M189.7 87.6l3.2 2.7 1.2-6.9-2.3-1.8-.9-.3z"/>
<path color="#01fffa" d="M192.9 90.3l3.2 2.6 1.1-6.9-3.1-2.6z"/>
<path color="#00fffc" d="M196.1 92.9l2 1.5 1.1-6.9-2-1.5z"/>
<path color="#0ff" d="M198.1 94.4l1.8 1.4 1.1-6.9-1.8-1.4z"/>
<path color="#00fcff" d="M199.9 95.8l2 1.5 1-6.9-1.9-1.5z"/>
<path color="#00f9ff" d="M201.9 97.3l3.4 2.7.9-6.9-3.3-2.7z"/>
<path color="#01faff" d="M205.3 100l3.4 3 .9-7.2-3.4-2.7z"/>
<path color="#01fdff" d="M208.7 103l2 1.9.9-7.3-2-1.8z"/>
<path color="#01ffff" d="M210.7 104.9l1.9 1.7.9-7.4-1.9-1.6z"/>
<path color="#01fffd" d="M212.6 106.6l2.2 1.9.8-7.5-2.1-1.8z"/>
<path color="#01fffa" d="M214.8 108.5l3.5 3.1.8-7.8-3.5-2.8z"/>
<path color="#01ffff" d="M226.8 110.3l0-.3-2-1.6-.4 5.5z"/>
<path color="#01fffd" d="M221.9 114.5l1.4 1 1.1-1.6.4-5.5-2.2-1.7z"/>
<path color="#01fffa" d="M218.3 111.6l3.6 2.9.7-7.8-3.5-2.9z"/>
<path color="#01fff1" d="M165.8 74.9l2.8 2.6.5-2-3.2-1z"/>
<path color="#00fff2" d="M168.6 77.5l2.9 2.3.9-3.6-3.3-.7z"/>
<path color="#00fff8" d="M171.5 79.8l1.8 1.3 1.1-4.5-2-.4z"/>
<path color="#0ff" d="M173.3 81.1l1.7 1.2 1.2-5.3-1.8-.4z"/>
<path color="#00f9ff" d="M175 82.3l1.8 1.3 1.4-6-.3-.3-1.7-.3z"/>
<path color="#00f3ff" d="M176.8 83.6l3.1 2.4 1.3-6-3-2.4z"/>
<path color="#00f4ff" d="M179.9 86l3 2.8 1.3-6.2-3-2.6z"/>
<path color="#01f9ff" d="M182.9 88.8l1.9 1.8 1.3-6.3-1.9-1.7z"/>
<path color="#01ffff" d="M184.8 90.6l1.7 1.8 1.3-6.5-1.7-1.6z"/>
<path color="#01fffa" d="M186.5 92.4l2 1.9 1.2-6.7-1.9-1.7z"/>
<path color="#01fff4" d="M188.5 94.3l3.2 2.9 1.2-6.9-3.2-2.7z"/>
<path color="#01fff4" d="M191.7 97.2l3.2 2.6 1.2-6.9-3.2-2.6z"/>
<path color="#00fff9" d="M194.9 99.8l2.1 1.5 1.1-6.9-2-1.5z"/>
<path color="#0ff" d="M197 101.3l1.8 1.3 1.1-6.8-1.8-1.4z"/>
<path color="#00f9ff" d="M198.8 102.6l2.1 1.5 1-6.8-2-1.5z"/>
<path color="#00f4ff" d="M200.9 104.1l3.4 2.7 1-6.8-3.4-2.7z"/>
<path color="#01f4ff" d="M204.3 106.8l3.5 3.1.9-6.9-3.4-3z"/>
<path color="#01faff" d="M207.8 109.9l2.1 2.1.8-7.1-2-1.9z"/>
<path color="#01ffff" d="M209.9 112l1.9 1.9.8-7.3-1.9-1.7z"/>
<path color="#01fffa" d="M211.8 113.9l2.1 2.1.9-7.5-2.2-1.9z"/>
<path color="#02fff5" d="M213.9 116l3.6 3.3.8-7.7-3.5-3.1z"/>
<path color="#01fffa" d="M223.3 115.5l-1.4-1-.3 3.5z"/>
<path color="#01fff4" d="M217.5 119.3l2.1 1.7 2-3 .3-3.5-3.6-2.9z"/>
<path color="#00e4ff" d="M153.7 70.2l2.8 2.1.5-1.5-3.2-.8z"/>
<path color="#00e6ff" d="M156.5 72.3l2.8 2.7.9-3-3.2-1.2z"/>
<path color="#00f3ff" d="M159.3 75l1.7 1.9 1.1-4-1.9-.9z"/>
<path color="#01ffff" d="M161 76.9l1.5 1.9 1.4-5.1-1.8-.8z"/>
<path color="#01fff5" d="M162.5 78.8l1.8 1.9 1.5-5.8-.9-.8-1-.4z"/>
<path color="#01ffea" d="M164.3 80.7l2.9 2.9 1.4-6.1-2.8-2.6z"/>
<path color="#00ffea" d="M167.2 83.6l2.9 2.2 1.4-6-2.9-2.3z"/>
<path color="#00fff4" d="M170.1 85.8l1.9 1.2 1.3-5.9-1.8-1.3z"/>
<path color="#0ff" d="M172 87l1.6 1 1.4-5.7-1.7-1.2z"/>
<path color="#00f4ff" d="M173.6 88l1.9 1.1 1.3-5.5-1.8-1.3z"/>
<path color="#00e9ff" d="M175.5 89.1l3.1 2.4 1.3-5.5-3.1-2.4z"/>
<path color="#00eaff" d="M178.6 91.5l3.1 3 1.2-5.7-3-2.8z"/>
<path color="#01f4ff" d="M181.7 94.5l1.9 2.1 1.2-6-1.9-1.8z"/>
<path color="#01ffff" d="M183.6 96.6l1.8 2 1.1-6.2-1.7-1.8z"/>
<path color="#02fff5" d="M185.4 98.6l1.9 2.2 1.2-6.5-2-1.9z"/>
<path color="#02ffeb" d="M187.3 100.8l3.2 3.2 1.2-6.8-3.2-2.9z"/>
<path color="#01ffea" d="M190.5 104l3.3 2.5 1.1-6.7-3.2-2.6z"/>
<path color="#00fff4" d="M193.8 106.5l2.1 1.3 1.1-6.5-2.1-1.5z"/>
<path color="#0ff" d="M195.9 107.8l1.9 1.2 1-6.4-1.8-1.3z"/>
<path color="#00f4ff" d="M197.8 109l2.1 1.3 1-6.2-2.1-1.5z"/>
<path color="#00eaff" d="M199.9 110.3l3.5 2.7.9-6.2-3.4-2.7z"/>
<path color="#01eaff" d="M203.4 113l3.5 3.4.9-6.5-3.5-3.1z"/>
<path color="#01f5ff" d="M206.9 116.4l2.1 2.3.9-6.7-2.1-2.1z"/>
<path color="#02ffff" d="M209 118.7l2 2.2.8-7-1.9-1.9z"/>
<path color="#02fff6" d="M211 120.9l2.1 2.4.8-7.3-2.1-2.1z"/>
<path color="#03ffea" d="M213.1 123.3l3.1 3.1.7-1.1.6-6-3.6-3.3z"/>
<path color="#02ffec" d="M219.6 121l-2.1-1.7-.6 6z"/>
<path color="#02ffcd" d="M143.3 69.2l1.5 1.4.2-.9z"/>
<path color="#01ffcf" d="M144.8 70.6l1.6 1.3.5-2-1.9-.2z"/>
<path color="#00f8d3" d="M146.4 71.9l1 .5.8-2.5-1.3 0z"/>
<path color="#00ead1" d="M147.4 72.4l.9.4.9-2.9-1 0z"/>
<path color="#00e4d6" d="M148.3 72.8l.8.4 1-3.3-.9 0z"/>
<path color="#00e4e0" d="M149.1 73.2l.7.3 1.2-3.6-.9 0z"/>
<path color="#00e4e9" d="M149.8 73.5l.8.3 1.2-3.9-.8 0z"/>
<path color="#00e4f2" d="M150.6 73.8l.8.3 1.4-4.2-1 0z"/>
<path color="#00e8ff" d="M151.4 74.1l.9.4 1.4-4.3-.3-.2-.6-.1z"/>
<path color="#00deff" d="M152.3 74.5l1 .6 1.5-4.2-1.1-.7z"/>
<path color="#00d6ff" d="M153.3 75.1l1.8 1.3 1.4-4.1-1.7-1.4z"/>
<path color="#00d6ff" d="M155.1 76.4l1.7 1.8 1.4-4.3-1.7-1.6z"/>
<path color="#00deff" d="M156.8 78.2l1.1 1.2 1.4-4.4-1.1-1.1z"/>
<path color="#00e7ff" d="M157.9 79.4l.9 1.2 1.4-4.6-.9-1z"/>
<path color="#01f1ff" d="M158.8 80.6l.8 1.1 1.4-4.8-.8-.9z"/>
<path color="#01fbff" d="M159.6 81.7l.8 1.1 1.4-4.9-.8-1z"/>
<path color="#01fffb" d="M160.4 82.8l.8 1.1 1.3-5.1-.7-.9z"/>
<path color="#02fff2" d="M161.2 83.9l.8 1.1 1.4-5.3-.9-.9z"/>
<path color="#02ffe9" d="M162 85l.9 1.2 1.4-5.5-.9-1z"/>
<path color="#02ffe0" d="M162.9 86.2l1.1 1.3 1.4-5.6-1.1-1.2z"/>
<path color="#02ffd8" d="M164 87.5l1.8 1.9 1.4-5.8-1.8-1.7z"/>
<path color="#01ffd7" d="M165.8 89.4l1.9 1.4 1.3-5.8-1.8-1.4z"/>
<path color="#00ffde" d="M167.7 90.8l1.1.7 1.3-5.7-1.1-.8z"/>
<path color="#00f4dd" d="M168.8 91.5l1 .5 1.3-5.6-1-.6z"/>
<path color="#00eddf" d="M169.8 92l.9.3 1.3-5.3-.9-.6z"/>
<path color="#00ebe6" d="M170.7 92.3l.9.4 1.2-5.2-.8-.5z"/>
<path color="#00e9ed" d="M171.6 92.7l.8.4 1.2-5.1-.8-.5z"/>
<path color="#00e6f4" d="M172.4 93.1l.9.4 1.2-5-.9-.5z"/>
<path color="#00e7ff" d="M173.3 93.5l1 .5 1.2-4.9-1-.6z"/>
<path color="#00deff" d="M174.3 94l1.2.7 1.2-4.8-1.2-.8z"/>
<path color="#00d6ff" d="M175.5 94.7l2 1.4 1.1-4.6-1.9-1.6z"/>
<path color="#00d6ff" d="M177.5 96.1l1.9 2 1.1-4.8-1.9-1.8z"/>
<path color="#00deff" d="M179.4 98.1l1.2 1.4 1.1-5-1.2-1.2z"/>
<path color="#01e7ff" d="M180.6 99.5l1 1.3 1.1-5.2-1-1.1z"/>
<path color="#01f1ff" d="M181.6 100.8l.9 1.2 1.1-5.4-.9-1z"/>
<path color="#01fbff" d="M182.5 102l.9 1.2 1.1-5.6-.9-1z"/>
<path color="#02fffc" d="M183.4 103.2l.9 1.2 1.1-5.8-.9-1z"/>
<path color="#02fff3" d="M184.3 104.4l.9 1.2 1.1-5.9-.9-1.1z"/>
<path color="#03ffea" d="M185.2 105.6l1 1.3 1.1-6.1-1-1.1z"/>
<path color="#03ffe1" d="M186.2 106.9l1.2 1.4 1.1-6.2-1.2-1.3z"/>
<path color="#03ffd9" d="M187.4 108.3l2.1 2.1 1-6.4-2-1.9z"/>
<path color="#01ffd7" d="M189.5 110.4l2 1.6 1.1-6.4-2.1-1.6z"/>
<path color="#01ffde" d="M191.5 112l1.3.8 1-6.3-1.2-.9z"/>
<path color="#00f4dd" d="M192.8 112.8l1.1.6 1-6.2-1.1-.7z"/>
<path color="#00eddf" d="M193.9 113.4l1.1.4.9-6-1-.6z"/>
<path color="#00ebe6" d="M195 113.8l.9.5 1-5.9-1-.6z"/>
<path color="#00e9ed" d="M195.9 114.3l1 .4.9-5.7-.9-.6z"/>
<path color="#00e6f4" d="M196.9 114.7l1 .5.9-5.6-1-.6z"/>
<path color="#00e7ff" d="M197.9 115.2l1.2.6.8-5.5-1.1-.7z"/>
<path color="#00deff" d="M199.1 115.8l1.3.8.9-5.4-1.4-.9z"/>
<path color="#00d6ff" d="M200.4 116.6l2.2 1.7.8-5.3-2.1-1.8z"/>
<path color="#00d6ff" d="M202.6 118.3l2.2 2.2.8-5.5-2.2-2z"/>
<path color="#01deff" d="M204.8 120.5l1.4 1.6.7-5.7-1.3-1.4z"/>
<path color="#01e7ff" d="M206.2 122.1l1.1 1.4.7-5.9-1.1-1.2z"/>
<path color="#01f1ff" d="M207.3 123.5l1 1.3.7-6.1-1-1.1z"/>
<path color="#02fcff" d="M208.3 124.8l1 1.3.7-6.3-1-1.1z"/>
<path color="#02fffc" d="M209.3 126.1l.9 1.3.8-6.5-1-1.1z"/>
<path color="#03fff3" d="M210.2 127.4l1.1 1.3.7-6.6-1-1.2z"/>
<path color="#04ffea" d="M211.3 128.7l1.1 1.5.7-6.9-1.1-1.2z"/>
<path color="#05ffe1" d="M212.4 130.2l.8.9.8-1.2.5-5.2-1.4-1.4z"/>
<path color="#04ffe1" d="M216.2 126.4l-1.7-1.7-.5 5.2z"/>
<path color="#00beff" d="M135.1 63.4l1 1.4.3-.6-1.2-.9z"/>
<path color="#00d1ff" d="M136.1 64.8l.8 1.3.5-1.1-1-.8z"/>
<path color="#00e4ff" d="M136.9 66.1l.8 1.2.6-1.5-.9-.8z"/>
<path color="#01f7ff" d="M137.7 67.3l.7 1.2.7-2-.8-.7z"/>
<path color="#01fff8" d="M138.4 68.5l.8 1.3.8-2.6-.9-.7z"/>
<path color="#02ffe8" d="M139.2 69.8l.7 1.2 1-3.1-.9-.7z"/>
<path color="#03ffd9" d="M139.9 71l.9 1.3 1.1-3.8-1-.6z"/>
<path color="#04ffcd" d="M140.8 72.3l1 1.4 1.3-4.6-1.2-.6z"/>
<path color="#03ffc4" d="M141.8 73.7l1.6 1.9 1.4-5-1.5-1.4-.2-.1z"/>
<path color="#01ffbe" d="M143.4 75.6l1.7 1.1 1.3-4.8-1.6-1.3z"/>
<path color="#00dcae" d="M145.1 76.7l1 .5 1.3-4.8-1-.5z"/>
<path color="#00ceae" d="M146.1 77.2l.9.2 1.3-4.6-.9-.4z"/>
<path color="#00c9b6" d="M147 77.4l.8.1 1.3-4.3-.8-.4z"/>
<path color="#00c8c2" d="M147.8 77.5l.7.1 1.3-4.1-.7-.3z"/>
<path color="#00c5cb" d="M148.5 77.6l.8.1 1.3-3.9-.8-.3z"/>
<path color="#00bed2" d="M149.3 77.7l.8.1 1.3-3.7-.8-.3z"/>
<path color="#0bd" d="M150.1 77.8l.9.3 1.3-3.6-.9-.4z"/>
<path color="#00c2f6" d="M151 78.1l1.1.4 1.2-3.4-1-.6z"/>
<path color="#00bdff" d="M152.1 78.5l1.7 1.2 1.3-3.3-1.8-1.3z"/>
<path color="#00bdff" d="M153.8 79.7l1.8 1.9 1.2-3.4-1.7-1.8z"/>
<path color="#00c9ff" d="M155.6 81.6l1.1 1.5 1.2-3.7-1.1-1.2z"/>
<path color="#00d8ff" d="M156.7 83.1l.9 1.4 1.2-3.9-.9-1.2z"/>
<path color="#00e8ff" d="M157.6 84.5l.8 1.4 1.2-4.2-.8-1.1z"/>
<path color="#01f8ff" d="M158.4 85.9l.8 1.3 1.2-4.4-.8-1.1z"/>
<path color="#01fff8" d="M159.2 87.2l.8 1.3 1.2-4.6-.8-1.1z"/>
<path color="#02ffea" d="M160 88.5l.8 1.4 1.2-4.9-.8-1.1z"/>
<path color="#04ffdc" d="M160.8 89.9l.9 1.4 1.2-5.1-.9-1.2z"/>
<path color="#05ffce" d="M161.7 91.3l1.1 1.5 1.2-5.3-1.1-1.3z"/>
<path color="#04ffc2" d="M162.8 92.8l1.9 2 1.1-5.4-1.8-1.9z"/>
<path color="#01ffbe" d="M164.7 94.8l1.8 1.4 1.2-5.4-1.9-1.4z"/>
<path color="#00ddae" d="M166.5 96.2l1.2.5 1.1-5.2-1.1-.7z"/>
<path color="#00ceae" d="M167.7 96.7l1 .3 1.1-5-1-.5z"/>
<path color="#00c9b6" d="M168.7 97l.9.2 1.1-4.9-.9-.3z"/>
<path color="#00c8c2" d="M169.6 97.2l.9.1 1.1-4.6-.9-.4z"/>
<path color="#00c5cb" d="M170.5 97.3l.8.2 1.1-4.4-.8-.4z"/>
<path color="#00bed2" d="M171.3 97.5l1 .2 1-4.2-.9-.4z"/>
<path color="#0bd" d="M172.3 97.7l1 .3 1-4-1-.5z"/>
<path color="#00c2f6" d="M173.3 98l1.2.6 1-3.9-1.2-.7z"/>
<path color="#00bdff" d="M174.5 98.6l2 1.4 1-3.9-2-1.4z"/>
<path color="#00bdff" d="M176.5 100l1.9 2.1 1-4-1.9-2z"/>
<path color="#00c9ff" d="M178.4 102.1l1.2 1.6 1-4.2-1.2-1.4z"/>
<path color="#00d8ff" d="M179.6 103.7l1 1.5 1-4.4-1-1.3z"/>
<path color="#00e8ff" d="M180.6 105.2l.9 1.5 1-4.7-.9-1.2z"/>
<path color="#01f8ff" d="M181.5 106.7l.9 1.4 1-4.9-.9-1.2z"/>
<path color="#01fff9" d="M182.4 108.1l.9 1.4 1-5.1-.9-1.2z"/>
<path color="#03ffea" d="M183.3 109.5l.9 1.5 1-5.4-.9-1.2z"/>
<path color="#04ffdc" d="M184.2 111l1 1.5 1-5.6-1-1.3z"/>
<path color="#06ffd0" d="M185.2 112.5l1.2 1.7 1-5.9-1.2-1.4z"/>
<path color="#06ffc3" d="M186.4 114.2l2.1 2.2 1-6-2.1-2.1z"/>
<path color="#02ffbf" d="M188.5 116.4l2.1 1.6.9-6-2-1.6z"/>
<path color="#00ddae" d="M190.6 118l1.3.6.9-5.8-1.3-.8z"/>
<path color="#00ceae" d="M191.9 118.6l1.2.4.8-5.6-1.1-.6z"/>
<path color="#00c9b6" d="M193.1 119l1 .3.9-5.5-1.1-.4z"/>
<path color="#00c8c2" d="M194.1 119.3l1 .2.8-5.2-.9-.5z"/>
<path color="#00c5cb" d="M195.1 119.5l1 .3.8-5.1-1-.4z"/>
<path color="#00bed2" d="M196.1 119.8l1.1.2.7-4.8-1-.5z"/>
<path color="#0bd" d="M197.2 120l1.1.4.8-4.6-1.2-.6z"/>
<path color="#00c2f6" d="M198.3 120.4l1.4.7.7-4.5-1.3-.8z"/>
<path color="#00bdff" d="M199.7 121.1l2.3 1.6.6-4.4-2.2-1.7z"/>
<path color="#00bdff" d="M202 122.7l2.2 2.4.6-4.6-2.2-2.2z"/>
<path color="#00caff" d="M204.2 125.1l1.3 1.8.7-4.8-1.4-1.6z"/>
<path color="#00d8ff" d="M205.5 126.9l1.1 1.6.7-5-1.1-1.4z"/>
<path color="#01e8ff" d="M206.6 128.5l1 1.6.7-5.3-1-1.3z"/>
<path color="#01f8ff" d="M207.6 130.1l1 1.6.7-5.6-1-1.3z"/>
<path color="#02fff9" d="M208.6 131.7l1 1.5.6-5.8-.9-1.3z"/>
<path color="#03ffe8" d="M209.6 133.2l.9 1.5.1 0 .7-6-1.1-1.3z"/>
<path color="#05ffe0" d="M212.1 132.6l.3-2.4-1.1-1.5-.7 6z"/>
<path color="#06ffdb" d="M213.2 131.1l-.8-.9-.3 2.4z"/>
<path color="#0089b8" d="M129 62.8l.8-.1.4-.8-1 .3z"/>
<path color="#008cd5" d="M129.8 62.7l.9.2.7-1.2-1.2.2z"/>
<path color="#0097ff" d="M130.7 62.9l1.6.9 1-1.7-1.9-.4z"/>
<path color="#00a0ff" d="M132.3 63.8l1.6 1.9 1.2-2.3-.3-.4-1.5-.9z"/>
<path color="#00afff" d="M133.9 65.7l1 1.7 1.2-2.6-1-1.4z"/>
<path color="#00c5ff" d="M134.9 67.4l.8 1.5 1.2-2.8-.8-1.3z"/>
<path color="#00dcff" d="M135.7 68.9l.8 1.5 1.2-3.1-.8-1.2z"/>
<path color="#00f3ff" d="M136.5 70.4l.7 1.6 1.2-3.5-.7-1.2z"/>
<path color="#01fff4" d="M137.2 72l.8 1.5 1.2-3.7-.8-1.3z"/>
<path color="#02ffdd" d="M138 73.5l.7 1.5 1.2-4-.7-1.2z"/>
<path color="#04ffc9" d="M138.7 75l.9 1.6 1.2-4.3-.9-1.3z"/>
<path color="#08ffb7" d="M139.6 76.6l1 1.6 1.2-4.5-1-1.4z"/>
<path color="#07ffa4" d="M140.6 78.2l1.6 2 1.2-4.6-1.6-1.9z"/>
<path color="#01f094" d="M142.2 80.2l1.7 1.1 1.2-4.6-1.7-1.1z"/>
<path color="#00bd82" d="M143.9 81.3l1 .2 1.2-4.3-1-.5z"/>
<path color="#00ae86" d="M144.9 81.5l.9 0 1.2-4.1-.9-.2z"/>
<path color="#00a790" d="M145.8 81.5l.8-.1 1.2-3.9-.8-.1z"/>
<path color="#00a69e" d="M146.6 81.4l.8-.2 1.1-3.6-.7-.1z"/>
<path color="#00a2aa" d="M147.4 81.2l.8-.1 1.1-3.4-.8-.1z"/>
<path color="#009ab3" d="M148.2 81.1l.8-.1 1.1-3.2-.8-.1z"/>
<path color="#0096c3" d="M149 81l.9-.1 1.1-2.8-.9-.3z"/>
<path color="#0096db" d="M149.9 80.9l1.1.3 1.1-2.7-1.1-.4z"/>
<path color="#009dff" d="M151 81.2l1.7 1.1 1.1-2.6-1.7-1.2z"/>
<path color="#009dff" d="M152.7 82.3l1.8 2.1 1.1-2.8-1.8-1.9z"/>
<path color="#00afff" d="M154.5 84.4l1.1 1.7 1.1-3-1.1-1.5z"/>
<path color="#00c5ff" d="M155.6 86.1l.9 1.7 1.1-3.3-.9-1.4z"/>
<path color="#00dcff" d="M156.5 87.8l.8 1.6 1.1-3.5-.8-1.4z"/>
<path color="#00f3ff" d="M157.3 89.4l.8 1.6 1.1-3.8-.8-1.3z"/>
<path color="#01fff4" d="M158.1 91l.8 1.6 1.1-4.1-.8-1.3z"/>
<path color="#02ffdd" d="M158.9 92.6l.9 1.7 1-4.4-.8-1.4z"/>
<path color="#04ffc9" d="M159.8 94.3l.9 1.7 1-4.7-.9-1.4z"/>
<path color="#09ffb8" d="M160.7 96l1.1 1.7 1-4.9-1.1-1.5z"/>
<path color="#09ffa6" d="M161.8 97.7l1.8 2.2 1.1-5.1-1.9-2z"/>
<path color="#01f094" d="M163.6 99.9l1.9 1.3 1-5-1.8-1.4z"/>
<path color="#00bd82" d="M165.5 101.2l1.2.3 1-4.8-1.2-.5z"/>
<path color="#00ae86" d="M166.7 101.5l1 0 1-4.5-1-.3z"/>
<path color="#00a790" d="M167.7 101.5l.9 0 1-4.3-.9-.2z"/>
<path color="#00a69e" d="M168.6 101.5l.9-.1 1-4.1-.9-.1z"/>
<path color="#00a2aa" d="M169.5 101.4l.9-.1.9-3.8-.8-.2z"/>
<path color="#009ab3" d="M170.4 101.3l.9-.1 1-3.5-1-.2z"/>
<path color="#0096c3" d="M171.3 101.2l1.1.1.9-3.3-1-.3z"/>
<path color="#0096db" d="M172.4 101.3l1.2.3.9-3-1.2-.6z"/>
<path color="#009dff" d="M173.6 101.6l2 1.3.9-2.9-2-1.4z"/>
<path color="#009dff" d="M175.6 102.9l2 2.3.8-3.1-1.9-2.1z"/>
<path color="#00afff" d="M177.6 105.2l1.2 1.9.8-3.4-1.2-1.6z"/>
<path color="#00c5ff" d="M178.8 107.1l1 1.8.8-3.7-1-1.5z"/>
<path color="#00dcff" d="M179.8 108.9l.9 1.8.8-4-.9-1.5z"/>
<path color="#00f3ff" d="M180.7 110.7l.9 1.7.8-4.3-.9-1.4z"/>
<path color="#01fff4" d="M181.6 112.4l.8 1.7.9-4.6-.9-1.4z"/>
<path color="#02ffdd" d="M182.4 114.1l.9 1.8.9-4.9-.9-1.5z"/>
<path color="#05ffc9" d="M183.3 115.9l1 1.8.9-5.2-1-1.5z"/>
<path color="#0affb9" d="M184.3 117.7l1.3 1.9.8-5.4-1.2-1.7z"/>
<path color="#0bffa8" d="M185.6 119.6l2 2.5.9-5.7-2.1-2.2z"/>
<path color="#02f195" d="M187.6 122.1l2.2 1.4.8-5.5-2.1-1.6z"/>
<path color="#00bd82" d="M189.8 123.5l1.3.4.8-5.3-1.3-.6z"/>
<path color="#00ae86" d="M191.1 123.9l1.2.2.8-5.1-1.2-.4z"/>
<path color="#00a790" d="M192.3 124.1l1 0 .8-4.8-1-.3z"/>
<path color="#00a69e" d="M193.3 124.1l1.1 0 .7-4.6-1-.2z"/>
<path color="#00a2aa" d="M194.4 124.1l1 0 .7-4.3-1-.3z"/>
<path color="#009ab3" d="M195.4 124.1l1.1 0 .7-4.1-1.1-.2z"/>
<path color="#0096c3" d="M196.5 124.1l1.2.1.6-3.8-1.1-.4z"/>
<path color="#0096db" d="M197.7 124.2l1.5.5.5-3.6-1.4-.7z"/>
<path color="#009dff" d="M199.2 124.7l2.2 1.5.6-3.5-2.3-1.6z"/>
<path color="#009dff" d="M201.4 126.2l2.2 2.6.6-3.7-2.2-2.4z"/>
<path color="#00afff" d="M203.6 128.8l1.4 2 .5-3.9-1.3-1.8z"/>
<path color="#00c5ff" d="M205 130.8l1.1 2 .5-4.3-1.1-1.6z"/>
<path color="#00dcff" d="M206.1 132.8l1 1.9.5-4.6-1-1.6z"/>
<path color="#00f3ff" d="M207.1 134.7l.9 1.8.6-4.8-1-1.6z"/>
<path color="#00fff5" d="M208 136.5l.3.6.9-.8.4-3.1-1-1.5z"/>
<path color="#02ffe5" d="M210.5 134.7l-.9-1.5-.4 3.1z"/>
<path color="#00c44d" d="M122 66.6l1.4.8.4-1.4-1.8.5z"/>
<path color="#00974f" d="M123.4 67.4l1-.1.5-2-1.1.7z"/>
<path color="#00885a" d="M124.4 67.3l.7-.3.8-2.4-1 .7z"/>
<path color="#008368" d="M125.1 67l.7-.5.9-2.6-.8.7z"/>
<path color="#00837a" d="M125.8 66.5l.7-.5 1.1-2.7-.9.6z"/>
<path color="#00838b" d="M126.5 66l.6-.5 1.2-2.5-.6.1-.1.2z"/>
<path color="#007693" d="M127.1 65.5l.7-.4 1.2-2.3-.7.2z"/>
<path color="#0070a5" d="M127.8 65.1l.8-.4 1.2-2-.8.1z"/>
<path color="#006fc5" d="M128.6 64.7l1-.1 1.1-1.7-.9-.2z"/>
<path color="#0076ff" d="M129.6 64.6l1.6.8 1.1-1.6-1.6-.9z"/>
<path color="#0076ff" d="M131.2 65.4l1.6 2.1 1.1-1.8-1.6-1.9z"/>
<path color="#008fff" d="M132.8 67.5l1 1.9 1.1-2-1-1.7z"/>
<path color="#00adff" d="M133.8 69.4l.8 1.9 1.1-2.4-.8-1.5z"/>
<path color="#00cdff" d="M134.6 71.3l.8 1.8 1.1-2.7-.8-1.5z"/>
<path color="#0ef" d="M135.4 73.1l.8 1.8 1-2.9-.7-1.6z"/>
<path color="#00ffef" d="M136.2 74.9l.7 1.9 1.1-3.3-.8-1.5z"/>
<path color="#01ffce" d="M136.9 76.8l.8 1.8 1-3.6-.7-1.5z"/>
<path color="#04ffb1" d="M137.7 78.6l.8 1.9 1.1-3.9-.9-1.6z"/>
<path color="#0bff9a" d="M138.5 80.5l1.1 1.9 1-4.2-1-1.6z"/>
<path color="#0eff84" d="M139.6 82.4l1.6 2.3 1-4.5-1.6-2z"/>
<path color="#00d161" d="M141.2 84.7l1.7.9 1-4.3-1.7-1.1z"/>
<path color="#009f59" d="M142.9 85.6l1-.1 1-4-1-.2z"/>
<path color="#008e60" d="M143.9 85.5l.9-.2 1-3.8-.9 0z"/>
<path color="#00866c" d="M144.8 85.3l.8-.4 1-3.5-.8.1z"/>
<path color="#00857c" d="M145.6 84.9l.8-.5 1-3.2-.8.2z"/>
<path color="#008089" d="M146.4 84.4l.8-.5 1-2.8-.8.1z"/>
<path color="#007693" d="M147.2 83.9l.8-.4 1-2.5-.8.1z"/>
<path color="#0070a5" d="M148 83.5l.9-.3 1-2.3-.9.1z"/>
<path color="#006fc5" d="M148.9 83.2l1.1 0 1-2-1.1-.3z"/>
<path color="#0076ff" d="M150 83.2l1.8.9.9-1.8-1.7-1.1z"/>
<path color="#0076ff" d="M151.8 84.1l1.8 2.3.9-2-1.8-2.1z"/>
<path color="#008fff" d="M153.6 86.4l1.1 2.1.9-2.4-1.1-1.7z"/>
<path color="#00adff" d="M154.7 88.5l.9 2 .9-2.7-.9-1.7z"/>
<path color="#00cdff" d="M155.6 90.5l.8 1.9.9-3-.8-1.6z"/>
<path color="#0ef" d="M156.4 92.4l.8 2 .9-3.4-.8-1.6z"/>
<path color="#00ffef" d="M157.2 94.4l.8 1.9.9-3.7-.8-1.6z"/>
<path color="#01ffce" d="M158 96.3l.8 2 1-4-.9-1.7z"/>
<path color="#03ffb1" d="M158.8 98.3l1 2 .9-4.3-.9-1.7z"/>
<path color="#0cff9b" d="M159.8 100.3l1.1 2.1.9-4.7-1.1-1.7z"/>
<path color="#10ff86" d="M160.9 102.4l1.8 2.4.9-4.9-1.8-2.2z"/>
<path color="#00d161" d="M162.7 104.8l1.9 1.1.9-4.7-1.9-1.3z"/>
<path color="#009f59" d="M164.6 105.9l1.2 0 .9-4.4-1.2-.3z"/>
<path color="#008e60" d="M165.8 105.9l1-.2.9-4.2-1 0z"/>
<path color="#00866c" d="M166.8 105.7l1-.3.8-3.9-.9 0z"/>
<path color="#00857c" d="M167.8 105.4l.9-.5.8-3.5-.9.1z"/>
<path color="#008089" d="M168.7 104.9l.9-.4.8-3.2-.9.1z"/>
<path color="#007693" d="M169.6 104.5l.9-.3.8-3-.9.1z"/>
<path color="#0070a5" d="M170.5 104.2l1.1-.2.8-2.7-1.1-.1z"/>
<path color="#006fc5" d="M171.6 104l1.3 0 .7-2.4-1.2-.3z"/>
<path color="#0076ff" d="M172.9 104l2 1.1.7-2.2-2-1.3z"/>
<path color="#0076ff" d="M174.9 105.1l2 2.6.7-2.5-2-2.3z"/>
<path color="#008fff" d="M176.9 107.7l1.2 2.2.7-2.8-1.2-1.9z"/>
<path color="#00adff" d="M178.1 109.9l1 2.1.7-3.1-1-1.8z"/>
<path color="#00cdff" d="M179.1 112l.9 2.1.7-3.4-.9-1.8z"/>
<path color="#0ef" d="M180 114.1l.8 2.1.8-3.8-.9-1.7z"/>
<path color="#00ffef" d="M180.8 116.2l.9 2 .7-4.1-.8-1.7z"/>
<path color="#01ffce" d="M181.7 118.2l.9 2.1.7-4.4-.9-1.8z"/>
<path color="#03ffb0" d="M182.6 120.3l1 2.2.7-4.8-1-1.8z"/>
<path color="#0cff9b" d="M183.6 122.5l1.2 2.2.8-5.1-1.3-1.9z"/>
<path color="#14ff8a" d="M184.8 124.7l2.1 2.7.7-5.3-2-2.5z"/>
<path color="#01d161" d="M186.9 127.4l2.1 1.3.8-5.2-2.2-1.4z"/>
<path color="#009f59" d="M189 128.7l1.4.1.7-4.9-1.3-.4z"/>
<path color="#008e60" d="M190.4 128.8l1.2-.1.7-4.6-1.2-.2z"/>
<path color="#00866c" d="M191.6 128.7l1.1-.3.6-4.3-1 0z"/>
<path color="#00857c" d="M192.7 128.4l1-.3.7-4-1.1 0z"/>
<path color="#008089" d="M193.7 128.1l1.1-.3.6-3.7-1 0z"/>
<path color="#007693" d="M194.8 127.8l1.1-.3.6-3.4-1.1 0z"/>
<path color="#0070a5" d="M195.9 127.5l1.3-.2.5-3.1-1.2-.1z"/>
<path color="#006fc5" d="M197.2 127.3l1.5.2.5-2.8-1.5-.5z"/>
<path color="#0076ff" d="M198.7 127.5l2.3 1.3.4-2.6-2.2-1.5z"/>
<path color="#0076ff" d="M201 128.8l2.2 2.8.4-2.8-2.2-2.6z"/>
<path color="#008fff" d="M203.2 131.6l1.3 2.4.5-3.2-1.4-2z"/>
<path color="#00adff" d="M204.5 134l1.1 2.3.5-3.5-1.1-2z"/>
<path color="#00cfff" d="M205.6 136.3l.9 2 .1-.1.5-3.5-1-1.9z"/>
<path color="#00efff" d="M207.9 137.5l.1-1-.9-1.8-.5 3.5z"/>
<path color="#00fffc" d="M208.3 137.1l-.3-.6-.1 1z"/>
<path color="#04ff80" d="M118.1 65l.4 1.2.5-1.6-.1-.1z"/>
<path color="#0cff6f" d="M118.5 66.2l1 2.1.6-2.6-1.1-1.1z"/>
<path color="#11ff5a" d="M119.5 68.3l1.5 2.2 1-3.9-.2-.1-1.7-.8z"/>
<path color="#00b835" d="M121 70.5l1.5.7.9-3.8-1.4-.8z"/>
<path color="#007254" d="M124.1 70.1l.7-.7 1-2.9-.7.5z"/>
<path color="#007167" d="M124.8 69.4l.7-.9 1-2.5-.7.5z"/>
<path color="#006771" d="M125.5 68.5l.6-.8 1-2.2-.6.5z"/>
<path color="#005876" d="M126.1 67.7l.7-.8 1-1.8-.7.4z"/>
<path color="#004f89" d="M126.8 66.9l.8-.7 1-1.5-.8.4z"/>
<path color="#0048ad" d="M127.6 66.2l1-.4 1-1.2-1 .1z"/>
<path color="#0047f8" d="M128.6 65.8l1.6.6 1-1-1.6-.8z"/>
<path color="#0049ff" d="M130.2 66.4l1.6 2.4 1-1.3-1.6-2.1z"/>
<path color="#006bff" d="M131.8 68.8l1 2.2 1-1.6-1-1.9z"/>
<path color="#0093ff" d="M132.8 71l.9 2.2.9-1.9-.8-1.9z"/>
<path color="#00bdff" d="M133.7 73.2l.8 2.2.9-2.3-.8-1.8z"/>
<path color="#00e9ff" d="M134.5 75.4l.7 2.2 1-2.7-.8-1.8z"/>
<path color="#00ffe9" d="M135.2 77.6l.8 2.2.9-3-.7-1.9z"/>
<path color="#00ffbe" d="M136 79.8l.8 2.2.9-3.4-.8-1.8z"/>
<path color="#02ff95" d="M136.8 82l.8 2.2.9-3.7-.8-1.9z"/>
<path color="#0cff77" d="M137.6 84.2l1.1 2.3.9-4.1-1.1-1.9z"/>
<path color="#17ff60" d="M138.7 86.5l1.6 2.4.9-4.2-1.6-2.3z"/>
<path color="#00b835" d="M140.3 88.9l1.7.7.9-4-1.7-.9z"/>
<path color="#008538" d="M142 89.6l1-.3.9-3.8-1 .1z"/>
<path color="#007443" d="M143 89.3l.9-.6.9-3.4-.9.2z"/>
<path color="#007254" d="M143.9 88.7l.8-.7.9-3.1-.8.4z"/>
<path color="#007167" d="M144.7 88l.8-.8.9-2.8-.8.5z"/>
<path color="#006771" d="M145.5 87.2l.8-.8.9-2.5-.8.5z"/>
<path color="#005876" d="M146.3 86.4l.8-.8.9-2.1-.8.4z"/>
<path color="#004f89" d="M147.1 85.6l.9-.6.9-1.8-.9.3z"/>
<path color="#0048ad" d="M148 85l1.1-.3.9-1.5-1.1 0z"/>
<path color="#0047f8" d="M149.1 84.7l1.8.7.9-1.3-1.8-.9z"/>
<path color="#0049ff" d="M150.9 85.4l1.8 2.6.9-1.6-1.8-2.3z"/>
<path color="#006bff" d="M152.7 88l1.1 2.4.9-1.9-1.1-2.1z"/>
<path color="#0093ff" d="M153.8 90.4l1 2.3.8-2.2-.9-2z"/>
<path color="#00bdff" d="M154.8 92.7l.8 2.3.8-2.6-.8-1.9z"/>
<path color="#00e9ff" d="M155.6 95l.8 2.3.8-2.9-.8-2z"/>
<path color="#00ffe9" d="M156.4 97.3l.8 2.4.8-3.4-.8-1.9z"/>
<path color="#00ffbe" d="M157.2 99.7l.8 2.3.8-3.7-.8-2z"/>
<path color="#02ff94" d="M158 102l.9 2.3.9-4-1-2z"/>
<path color="#0cff77" d="M158.9 104.3l1.2 2.4.8-4.3-1.1-2.1z"/>
<path color="#1aff64" d="M160.1 106.7l1.8 2.7.8-4.6-1.8-2.4z"/>
<path color="#00b835" d="M161.9 109.4l1.9.9.8-4.4-1.9-1.1z"/>
<path color="#008538" d="M163.8 110.3l1.2-.2.8-4.2-1.2 0z"/>
<path color="#007443" d="M165 110.1l1-.6.8-3.8-1 .2z"/>
<path color="#007254" d="M166 109.5l1-.6.8-3.5-1 .3z"/>
<path color="#007167" d="M167 108.9l.9-.8.8-3.2-.9.5z"/>
<path color="#006771" d="M167.9 108.1l.9-.8.8-2.8-.9.4z"/>
<path color="#005876" d="M168.8 107.3l1-.7.7-2.4-.9.3z"/>
<path color="#004f89" d="M169.8 106.6l1.1-.5.7-2.1-1.1.2z"/>
<path color="#0048ad" d="M170.9 106.1l1.3-.3.7-1.8-1.3 0z"/>
<path color="#0047f8" d="M172.2 105.8l2.1 1 .6-1.7-2-1.1z"/>
<path color="#0049ff" d="M174.3 106.8l1.9 2.7.7-1.8-2-2.6z"/>
<path color="#006bff" d="M176.2 109.5l1.2 2.6.7-2.2-1.2-2.2z"/>
<path color="#0093ff" d="M177.4 112.1l1 2.5.7-2.6-1-2.1z"/>
<path color="#00bdff" d="M178.4 114.6l.9 2.5.7-3-.9-2.1z"/>
<path color="#00e9ff" d="M179.3 117.1l.9 2.4.6-3.3-.8-2.1z"/>
<path color="#00ffe9" d="M180.2 119.5l.8 2.5.7-3.8-.9-2z"/>
<path color="#00ffbe" d="M181 122l.9 2.4.7-4.1-.9-2.1z"/>
<path color="#01ff94" d="M181.9 124.4l1 2.5.7-4.4-1-2.2z"/>
<path color="#0bff76" d="M182.9 126.9l1.2 2.6.7-4.8-1.2-2.2z"/>
<path color="#1eff67" d="M184.1 129.5l2 2.9.8-5-2.1-2.7z"/>
<path color="#00b835" d="M186.1 132.4l2.2 1.1.7-4.8-2.1-1.3z"/>
<path color="#008538" d="M188.3 133.5l1.4-.1.7-4.6-1.4-.1z"/>
<path color="#007443" d="M189.7 133.4l1.3-.4.6-4.3-1.2.1z"/>
<path color="#007254" d="M191 133l1.1-.7.6-3.9-1.1.3z"/>
<path color="#007167" d="M192.1 132.3l1.1-.6.5-3.6-1 .3z"/>
<path color="#006771" d="M193.2 131.7l1.1-.7.5-3.2-1.1.3z"/>
<path color="#005876" d="M194.3 131l1.2-.7.4-2.8-1.1.3z"/>
<path color="#004f89" d="M195.5 130.3l1.2-.5.5-2.5-1.3.2z"/>
<path color="#0048ad" d="M196.7 129.8l1.5-.1.5-2.2-1.5-.2z"/>
<path color="#0047f8" d="M198.2 129.7l2.4 1.2.4-2.1-2.3-1.3z"/>
<path color="#0049ff" d="M200.6 130.9l2.2 3 .4-2.3-2.2-2.8z"/>
<path color="#006bff" d="M202.8 133.9l1.4 2.8.3-2.7-1.3-2.4z"/>
<path color="#0093ff" d="M204.2 136.7l.7 1.8.4.1.3-2.3-1.1-2.3z"/>
<path color="#00b9ff" d="M206.5 138.3l-.9-2-.3 2.3z"/>
<path color="#00ff95" d="M116.3 65.5l.5 1.5.5-1.7z"/>
<path color="#01ff78" d="M116.8 67l.8 2.4.9-3.2-.4-1.2-.8.3z"/>
<path color="#0bff4d" d="M117.6 69.4l1 2.5.9-3.6-1-2.1z"/>
<path color="#1eff36" d="M118.6 71.9l1.6 2.5.8-3.9-1.5-2.2z"/>
<path color="#002795" d="M126.7 67.4l1-.7.9-.9-1 .4z"/>
<path color="#0016e5" d="M127.7 66.7l1.5.4 1-.7-1.6-.6z"/>
<path color="#0018ff" d="M129.2 67.1l1.7 2.6.9-.9-1.6-2.4z"/>
<path color="#0042ff" d="M130.9 69.7l1 2.6.9-1.3-1-2.2z"/>
<path color="#0075ff" d="M131.9 72.3l.9 2.5.9-1.6-.9-2.2z"/>
<path color="#00acff" d="M132.8 74.8l.8 2.6.9-2-.8-2.2z"/>
<path color="#00e3ff" d="M133.6 77.4l.8 2.6.8-2.4-.7-2.2z"/>
<path color="#00ffe3" d="M134.4 80l.7 2.6.9-2.8-.8-2.2z"/>
<path color="#00ffac" d="M135.1 82.6l.8 2.6.9-3.2-.8-2.2z"/>
<path color="#01ff76" d="M135.9 85.2l.9 2.5.8-3.5-.8-2.2z"/>
<path color="#0aff4d" d="M136.8 87.7l1 2.6.9-3.8-1.1-2.3z"/>
<path color="#22ff39" d="M137.8 90.3l1.7 2.7.8-4.1-1.6-2.4z"/>
<path color="#00a40f" d="M139.5 93l1.7.6.8-4-1.7-.7z"/>
<path color="#00741e" d="M141.2 93.6l1-.6.8-3.7-1 .3z"/>
<path color="#006e33" d="M142.2 93l.9-1 .8-3.3-.9.6z"/>
<path color="#006a5f" d="M143.9 90.9l.8-1.2.8-2.5-.8.8z"/>
<path color="#005f6b" d="M144.7 89.7l.8-1.1.8-2.2-.8.8z"/>
<path color="#00496c" d="M145.5 88.6l.8-1.2.8-1.8-.8.8z"/>
<path color="#003470" d="M146.3 87.4l.9-1 .8-1.4-.9.6z"/>
<path color="#002795" d="M147.2 86.4l1.2-.6.7-1.1-1.1.3z"/>
<path color="#0016e5" d="M148.4 85.8l1.8.5.7-.9-1.8-.7z"/>
<path color="#0018ff" d="M150.2 86.3l1.8 2.8.7-1.1-1.8-2.6z"/>
<path color="#0042ff" d="M152 89.1l1.1 2.7.7-1.4-1.1-2.4z"/>
<path color="#0075ff" d="M153.1 91.8l.9 2.8.8-1.9-1-2.3z"/>
<path color="#00acff" d="M154 94.6l.8 2.7.8-2.3-.8-2.3z"/>
<path color="#00e3ff" d="M154.8 97.3l.8 2.7.8-2.7-.8-2.3z"/>
<path color="#00ffe3" d="M155.6 100l.8 2.7.8-3-.8-2.4z"/>
<path color="#00ffac" d="M156.4 102.7l.9 2.8.7-3.5-.8-2.3z"/>
<path color="#00ff76" d="M157.3 105.5l.9 2.7.7-3.9-.9-2.3z"/>
<path color="#09ff4c" d="M158.2 108.2l1.1 2.8.8-4.3-1.2-2.4z"/>
<path color="#25ff3d" d="M159.3 111l1.9 2.8.7-4.4-1.8-2.7z"/>
<path color="#00a40f" d="M161.2 113.8l1.9.8.7-4.3-1.9-.9z"/>
<path color="#00741e" d="M163.1 114.6l1.2-.6.7-3.9-1.2.2z"/>
<path color="#006e33" d="M164.3 114l1-.9.7-3.6-1 .6z"/>
<path color="#006b48" d="M165.3 113.1l1-1 .7-3.2-1 .6z"/>
<path color="#006a5f" d="M166.3 112.1l.9-1.1.7-2.9-.9.8z"/>
<path color="#005f6b" d="M167.2 111l1-1.2.6-2.5-.9.8z"/>
<path color="#00496c" d="M168.2 109.8l1-1.1.6-2.1-1 .7z"/>
<path color="#003470" d="M169.2 108.7l1.1-.9.6-1.7-1.1.5z"/>
<path color="#002795" d="M170.3 107.8l1.3-.6.6-1.4-1.3.3z"/>
<path color="#0016e5" d="M171.6 107.2l2.1.7.6-1.1-2.1-1z"/>
<path color="#0018ff" d="M173.7 107.9l2 3 .5-1.4-1.9-2.7z"/>
<path color="#0042ff" d="M175.7 110.9l1.2 3 .5-1.8-1.2-2.6z"/>
<path color="#0075ff" d="M176.9 113.9l1 2.9.5-2.2-1-2.5z"/>
<path color="#00acff" d="M177.9 116.8l.8 2.9.6-2.6-.9-2.5z"/>
<path color="#00e3ff" d="M178.7 119.7l.9 2.8.6-3-.9-2.4z"/>
<path color="#00ffe3" d="M179.6 122.5l.8 2.9.6-3.4-.8-2.5z"/>
<path color="#00ffac" d="M180.4 125.4l.9 2.9.6-3.9-.9-2.4z"/>
<path color="#00ff76" d="M181.3 128.3l.9 2.9.7-4.3-1-2.5z"/>
<path color="#08ff4b" d="M182.2 131.2l1.2 2.9.7-4.6-1.2-2.6z"/>
<path color="#29ff41" d="M183.4 134.1l2.1 3.2.6-4.9-2-2.9z"/>
<path color="#00a40f" d="M185.5 137.3l2.2.9.6-4.7-2.2-1.1z"/>
<path color="#00741e" d="M187.7 138.2l1.4-.4.6-4.4-1.4.1z"/>
<path color="#006e33" d="M189.1 137.8l1.3-.8.6-4-1.3.4z"/>
<path color="#006b48" d="M190.4 137l1.1-1 .6-3.7-1.1.7z"/>
<path color="#006a5f" d="M191.5 136l1.2-1.1.5-3.2-1.1.6z"/>
<path color="#005f6b" d="M192.7 134.9l1.1-1.1.5-2.8-1.1.7z"/>
<path color="#00496c" d="M193.8 133.8l1.2-1 .5-2.5-1.2.7z"/>
<path color="#003470" d="M195 132.8l1.3-.9.4-2.1-1.2.5z"/>
<path color="#002795" d="M196.3 131.9l1.6-.5.3-1.7-1.5.1z"/>
<path color="#0016e5" d="M197.9 131.4l2.4 1 .3-1.5-2.4-1.2z"/>
<path color="#0018ff" d="M200.3 132.4l2.2 3.3.3-1.8-2.2-3z"/>
<path color="#0043ff" d="M202.5 135.7l1 2.4.4.2.3-1.6-1.4-2.8z"/>
<path color="#0070ff" d="M204.9 138.5l-.7-1.8-.3 1.6z"/>
<path color="#00ffc6" d="M114.7 65.2l.5 1.7.5-1.4z"/>
<path color="#00ff9b" d="M115.2 66.9l.8 2.9.8-2.8-.5-1.5-.6 0z"/>
<path color="#00ff56" d="M116 69.8l.8 2.8.8-3.2-.8-2.4z"/>
<path color="#08ff1f" d="M116.8 72.6l1 2.8.8-3.5-1-2.5z"/>
<path color="#46ff29" d="M117.8 75.4l1.6 2.7.8-3.7-1.6-2.5z"/>
<path color="#1900d9" d="M126.8 67.2l1.6.2.8-.3-1.5-.4z"/>
<path color="#1d00ff" d="M128.4 67.4l1.7 2.9.8-.6-1.7-2.6z"/>
<path color="#0017ff" d="M130.1 70.3l1 2.9.8-.9-1-2.6z"/>
<path color="#0056ff" d="M131.1 73.2l.9 3 .8-1.4-.9-2.5z"/>
<path color="#0098ff" d="M132 76.2l.8 3 .8-1.8-.8-2.6z"/>
<path color="#00dcff" d="M132.8 79.2l.8 3 .8-2.2-.8-2.6z"/>
<path color="#0fd" d="M133.6 82.2l.8 3 .7-2.6-.7-2.6z"/>
<path color="#0f9" d="M134.4 85.2l.8 3 .7-3-.8-2.6z"/>
<path color="#00ff56" d="M135.2 88.2l.8 3 .8-3.5-.9-2.5z"/>
<path color="#07ff1e" d="M136 91.2l1.1 2.9.7-3.8-1-2.6z"/>
<path color="#49ff2c" d="M137.1 94.1l1.7 2.9.7-4-1.7-2.7z"/>
<path color="#119300" d="M138.8 97l1.7.4.7-3.8-1.7-.6z"/>
<path color="#006e0a" d="M140.5 97.4l1-.9.7-3.5-1 .6z"/>
<path color="#000b7e" d="M146.5 87.6l1.1-1.1.8-.7-1.2.6z"/>
<path color="#1900d9" d="M147.6 86.5l1.9.3.7-.5-1.8-.5z"/>
<path color="#1d00ff" d="M149.5 86.8l1.8 3.1.7-.8-1.8-2.8z"/>
<path color="#0017ff" d="M151.3 89.9l1.1 3.1.7-1.2-1.1-2.7z"/>
<path color="#0056ff" d="M152.4 93l.9 3.2.7-1.6-.9-2.8z"/>
<path color="#0098ff" d="M153.3 96.2l.9 3.2.6-2.1-.8-2.7z"/>
<path color="#00dcff" d="M154.2 99.4l.8 3.1.6-2.5-.8-2.7z"/>
<path color="#0fd" d="M155 102.5l.8 3.2.6-3-.8-2.7z"/>
<path color="#0f9" d="M155.8 105.7l.8 3.1.7-3.3-.9-2.8z"/>
<path color="#00ff56" d="M156.6 108.8l.9 3.1.7-3.7-.9-2.7z"/>
<path color="#06ff1d" d="M157.5 111.9l1.1 3.2.7-4.1-1.1-2.8z"/>
<path color="#4cff2f" d="M158.6 115.1l1.9 3.1.7-4.4-1.9-2.8z"/>
<path color="#119300" d="M160.5 118.2l1.9.5.7-4.1-1.9-.8z"/>
<path color="#006e0a" d="M162.4 118.7l1.2-.8.7-3.9-1.2.6z"/>
<path color="#006923" d="M163.6 117.9l1.1-1.3.6-3.5-1 .9z"/>
<path color="#00663d" d="M164.7 116.6l1-1.5.6-3-1 1z"/>
<path color="#006558" d="M165.7 115.1l.9-1.5.6-2.6-.9 1.1z"/>
<path color="#005865" d="M166.6 113.6l1-1.6.6-2.2-1 1.2z"/>
<path color="#003e67" d="M167.6 112l1-1.5.6-1.8-1 1.1z"/>
<path color="#00246a" d="M168.6 110.5l1.1-1.3.6-1.4-1.1.9z"/>
<path color="#000b7e" d="M169.7 109.2l1.4-1 .5-1-1.3.6z"/>
<path color="#1900d9" d="M171.1 108.2l2.1.5.5-.8-2.1-.7z"/>
<path color="#1d00ff" d="M173.2 108.7l2 3.3.5-1.1-2-3z"/>
<path color="#0017ff" d="M175.2 112l1.2 3.4.5-1.5-1.2-3z"/>
<path color="#0056ff" d="M176.4 115.4l.9 3.3.6-1.9-1-2.9z"/>
<path color="#0098ff" d="M177.3 118.7l.9 3.3.5-2.3-.8-2.9z"/>
<path color="#00dcff" d="M178.2 122l.8 3.3.6-2.8-.9-2.8z"/>
<path color="#0fd" d="M179 125.3l.8 3.4.6-3.3-.8-2.9z"/>
<path color="#0f9" d="M179.8 128.7l.9 3.3.6-3.7-.9-2.9z"/>
<path color="#00ff56" d="M180.7 132l.9 3.3.6-4.1-.9-2.9z"/>
<path color="#05ff1c" d="M181.6 135.3l1.2 3.3.6-4.5-1.2-2.9z"/>
<path color="#50ff33" d="M182.8 138.6l2.1 3.4.6-4.7-2.1-3.2z"/>
<path color="#119300" d="M184.9 142l2.2.8.6-4.6-2.2-.9z"/>
<path color="#006e0a" d="M187.1 142.8l1.5-.8.5-4.2-1.4.4z"/>
<path color="#006923" d="M188.6 142l1.2-1.2.6-3.8-1.3.8z"/>
<path color="#00663d" d="M189.8 140.8l1.2-1.4.5-3.4-1.1 1z"/>
<path color="#006558" d="M191 139.4l1.2-1.5.5-3-1.2 1.1z"/>
<path color="#005865" d="M192.2 137.9l1.2-1.5.4-2.6-1.1 1.1z"/>
<path color="#003e67" d="M193.4 136.4l1.2-1.5.4-2.1-1.2 1z"/>
<path color="#00246a" d="M194.6 134.9l1.4-1.3.3-1.7-1.3.9z"/>
<path color="#000b7e" d="M196 133.6l1.6-.9.3-1.3-1.6.5z"/>
<path color="#1900d9" d="M197.6 132.7l2.4.8.3-1.1-2.4-1z"/>
<path color="#1d00ff" d="M200 133.5l2.3 3.6.2-1.4-2.2-3.3z"/>
<path color="#0005ff" d="M202.3 137.1l0 .1 1.2.9-1-2.4z"/>
<path color="#0ef" d="M113.2 64.1l.4 1.9.5-1.2z"/>
<path color="#00ffd8" d="M113.6 66l.8 3.2.8-2.3-.5-1.7-.6-.4z"/>
<path color="#00ff84" d="M114.4 69.2l.8 3.3.8-2.7-.8-2.9z"/>
<path color="#00ff35" d="M115.2 72.5l.9 3.2.7-3.1-.8-2.8z"/>
<path color="#1bff04" d="M116.1 75.7l1 3.2.7-3.5-1-2.8z"/>
<path color="#87ff32" d="M117.1 78.9l1.6 2.9.7-3.7-1.6-2.7z"/>
<path color="#4500ce" d="M126 67.6l1.6-.1.8-.1-1.6-.2z"/>
<path color="#5600ff" d="M127.6 67.5l1.7 3.1.8-.3-1.7-2.9z"/>
<path color="#1700ff" d="M129.3 70.6l1 3.4.8-.8-1-2.9z"/>
<path color="#0034ff" d="M130.3 74l.9 3.4.8-1.2-.9-3z"/>
<path color="#0084ff" d="M131.2 77.4l.8 3.5.8-1.7-.8-3z"/>
<path color="#00d6ff" d="M132 80.9l.8 3.4.8-2.1-.8-3z"/>
<path color="#00ffd6" d="M132.8 84.3l.8 3.5.8-2.6-.8-3z"/>
<path color="#00ff84" d="M133.6 87.8l.8 3.4.8-3-.8-3z"/>
<path color="#00ff34" d="M134.4 91.2l.9 3.4.7-3.4-.8-3z"/>
<path color="#1aff04" d="M135.3 94.6l1.1 3.3.7-3.8-1.1-2.9z"/>
<path color="#8aff34" d="M136.4 97.9l1.7 3.2.7-4.1-1.7-2.9z"/>
<path color="#2c8400" d="M138.1 101.1l1.7.1.7-3.8-1.7-.4z"/>
<path color="#0a6a00" d="M139.8 101.2l1-1.3.7-3.4-1 .9z"/>
<path color="#4500ce" d="M146.9 87.1l1.9 0 .7-.3-1.9-.3z"/>
<path color="#5600ff" d="M148.8 87.1l1.8 3.4.7-.6-1.8-3.1z"/>
<path color="#1700ff" d="M150.6 90.5l1.2 3.5.6-1-1.1-3.1z"/>
<path color="#0034ff" d="M151.8 94l.9 3.6.6-1.4-.9-3.2z"/>
<path color="#0084ff" d="M152.7 97.6l.8 3.7.7-1.9-.9-3.2z"/>
<path color="#00d6ff" d="M153.5 101.3l.8 3.6.7-2.4-.8-3.1z"/>
<path color="#00ffd6" d="M154.3 104.9l.8 3.6.7-2.8-.8-3.2z"/>
<path color="#00ff84" d="M155.1 108.5l.8 3.6.7-3.3-.8-3.1z"/>
<path color="#00ff34" d="M155.9 112.1l.9 3.5.7-3.7-.9-3.1z"/>
<path color="#1aff03" d="M156.8 115.6l1.2 3.5.6-4-1.1-3.2z"/>
<path color="#8dff37" d="M158 119.1l1.8 3.4.7-4.3-1.9-3.1z"/>
<path color="#2c8400" d="M159.8 122.5l1.9.4.7-4.2-1.9-.5z"/>
<path color="#0a6a00" d="M161.7 122.9l1.3-1.3.6-3.7-1.2.8z"/>
<path color="#006515" d="M163 121.6l1.1-1.6.6-3.4-1.1 1.3z"/>
<path color="#006233" d="M164.1 120l1-1.9.6-3-1 1.5z"/>
<path color="#006151" d="M165.1 118.1l.9-2 .6-2.5-.9 1.5z"/>
<path color="#005261" d="M166 116.1l1-2 .6-2.1-1 1.6z"/>
<path color="#003362" d="M167 114.1l1-2 .6-1.6-1 1.5z"/>
<path color="#001565" d="M168 112.1l1.2-1.8.5-1.1-1.1 1.3z"/>
<path color="#0a006c" d="M169.2 110.3l1.3-1.3.6-.8-1.4 1z"/>
<path color="#4500ce" d="M170.5 109l2.2.2.5-.5-2.1-.5z"/>
<path color="#5600ff" d="M172.7 109.2l2 3.6.5-.8-2-3.3z"/>
<path color="#1700ff" d="M174.7 112.8l1.2 3.8.5-1.2-1.2-3.4z"/>
<path color="#0034ff" d="M175.9 116.6l.9 3.8.5-1.7-.9-3.3z"/>
<path color="#0084ff" d="M176.8 120.4l.9 3.8.5-2.2-.9-3.3z"/>
<path color="#00d6ff" d="M177.7 124.2l.8 3.8.5-2.7-.8-3.3z"/>
<path color="#00ffd6" d="M178.5 128l.8 3.8.5-3.1-.8-3.4z"/>
<path color="#00ff84" d="M179.3 131.8l.8 3.8.6-3.6-.9-3.3z"/>
<path color="#00ff34" d="M180.1 135.6l1 3.7.5-4-.9-3.3z"/>
<path color="#19ff02" d="M181.1 139.3l1.1 3.7.6-4.4-1.2-3.3z"/>
<path color="#90ff3a" d="M182.2 143l2.1 3.7.6-4.7-2.1-3.4z"/>
<path color="#2c8400" d="M184.3 146.7l2.2.5.6-4.4-2.2-.8z"/>
<path color="#0a6a00" d="M186.5 147.2l1.5-1.1.6-4.1-1.5.8z"/>
<path color="#006515" d="M188 146.1l1.3-1.6.5-3.7-1.2 1.2z"/>
<path color="#006233" d="M189.3 144.5l1.2-1.8.5-3.3-1.2 1.4z"/>
<path color="#006151" d="M190.5 142.7l1.3-2 .4-2.8-1.2 1.5z"/>
<path color="#005261" d="M191.8 140.7l1.2-2 .4-2.3-1.2 1.5z"/>
<path color="#003362" d="M193 138.7l1.3-1.9.3-1.9-1.2 1.5z"/>
<path color="#001565" d="M194.3 136.8l1.4-1.7.3-1.5-1.4 1.3z"/>
<path color="#0a006c" d="M195.7 135.1l1.6-1.3.3-1.1-1.6.9z"/>
<path color="#4500ce" d="M197.3 133.8l2.5.5.2-.8-2.4-.8z"/>
<path color="#5100ff" d="M199.8 134.3l1.4 1.9 1.1.9 0 0-2.3-3.6z"/>
<path color="#0089ff" d="M111.7 62.2l.3 1.8.5-.7z"/>
<path color="#00cdff" d="M112 64l.9 3.8.7-1.8-.4-1.9-.7-.8z"/>
<path color="#00ffcf" d="M112.9 67.8l.8 3.7.7-2.3-.8-3.2z"/>
<path color="#00ff6f" d="M113.7 71.5l.8 3.7.7-2.7-.8-3.3z"/>
<path color="#0f1" d="M114.5 75.2l.9 3.7.7-3.2-.9-3.2z"/>
<path color="#4aff02" d="M115.4 78.9l1 3.5.7-3.5-1-3.2z"/>
<path color="#caff39" d="M116.4 82.4l1.6 3.2.7-3.8-1.6-2.9z"/>
<path color="#9100ff" d="M126.8 67.4l1.7 3.4.8-.2-1.7-3.1z"/>
<path color="#4800ff" d="M128.5 70.8l1.1 3.8.7-.6-1-3.4z"/>
<path color="#01f" d="M129.6 74.6l.9 3.9.7-1.1-.9-3.4z"/>
<path color="#006eff" d="M130.5 78.5l.8 3.9.7-1.5-.8-3.5z"/>
<path color="#00ceff" d="M131.3 82.4l.8 4 .7-2.1-.8-3.4z"/>
<path color="#00ffcf" d="M132.1 86.4l.8 3.9.7-2.5-.8-3.5z"/>
<path color="#00ff6f" d="M132.9 90.3l.8 3.8.7-2.9-.8-3.4z"/>
<path color="#0f1" d="M133.7 94.1l.9 3.9.7-3.4-.9-3.4z"/>
<path color="#49ff01" d="M134.6 98l1.1 3.7.7-3.8-1.1-3.3z"/>
<path color="#ccff3b" d="M135.7 101.7l1.7 3.4.7-4-1.7-3.2z"/>
<path color="#447800" d="M137.4 105.1l1.7 0 .7-3.9-1.7-.1z"/>
<path color="#9100ff" d="M148.1 87.2l1.9 3.7.6-.4-1.8-3.4z"/>
<path color="#4800ff" d="M150 90.9l1.1 4 .7-.9-1.2-3.5z"/>
<path color="#01f" d="M151.1 94.9l.9 4.1.7-1.4-.9-3.6z"/>
<path color="#006eff" d="M152 99l.9 4.1.6-1.8-.8-3.7z"/>
<path color="#00ceff" d="M152.9 103.1l.8 4.1.6-2.3-.8-3.6z"/>
<path color="#00ffcf" d="M153.7 107.2l.8 4.1.6-2.8-.8-3.6z"/>
<path color="#00ff6f" d="M154.5 111.3l.8 4 .6-3.2-.8-3.6z"/>
<path color="#0f1" d="M155.3 115.3l.9 4 .6-3.7-.9-3.5z"/>
<path color="#49ff01" d="M156.2 119.3l1.1 3.9.7-4.1-1.2-3.5z"/>
<path color="#ceff3d" d="M157.3 123.2l1.9 3.7.6-4.4-1.8-3.4z"/>
<path color="#447800" d="M159.2 126.9l1.9.1.6-4.1-1.9-.4z"/>
<path color="#1d6700" d="M161.1 127l1.3-1.6.6-3.8-1.3 1.3z"/>
<path color="#006206" d="M162.4 125.4l1.1-2.1.6-3.3-1.1 1.6z"/>
<path color="#005f29" d="M163.5 123.3l1-2.3.6-2.9-1 1.9z"/>
<path color="#005e4c" d="M164.5 121l1-2.5.5-2.4-.9 2z"/>
<path color="#004c5e" d="M165.5 118.5l1-2.4.5-2-1 2z"/>
<path color="#00295f" d="M166.5 116.1l1-2.5.5-1.5-1 2z"/>
<path color="#1d0068" d="M168.7 111.4l1.4-1.8.4-.6-1.3 1.3z"/>
<path color="#6f00c2" d="M170.1 109.6l2.1-.1.5-.3-2.2-.2z"/>
<path color="#9100ff" d="M172.2 109.5l2 4 .5-.7-2-3.6z"/>
<path color="#4800ff" d="M174.2 113.5l1.2 4.2.5-1.1-1.2-3.8z"/>
<path color="#01f" d="M175.4 117.7l1 4.3.4-1.6-.9-3.8z"/>
<path color="#006eff" d="M176.4 122l.8 4.3.5-2.1-.9-3.8z"/>
<path color="#00ceff" d="M177.2 126.3l.8 4.3.5-2.6-.8-3.8z"/>
<path color="#00ffcf" d="M178 130.6l.8 4.3.5-3.1-.8-3.8z"/>
<path color="#00ff6f" d="M178.8 134.9l.8 4.2.5-3.5-.8-3.8z"/>
<path color="#0f1" d="M179.6 139.1l.9 4.2.6-4-1-3.7z"/>
<path color="#48ff01" d="M180.5 143.3l1.1 4.2.6-4.5-1.1-3.7z"/>
<path color="#d0ff3f" d="M181.6 147.5l2.1 3.9.6-4.7-2.1-3.7z"/>
<path color="#447800" d="M183.7 151.4l2.2.4.6-4.6-2.2-.5z"/>
<path color="#1d6700" d="M185.9 151.8l1.6-1.6.5-4.1-1.5 1.1z"/>
<path color="#006206" d="M187.5 150.2l1.3-2 .5-3.7-1.3 1.6z"/>
<path color="#005f29" d="M188.8 148.2l1.3-2.3.4-3.2-1.2 1.8z"/>
<path color="#005e4c" d="M190.1 145.9l1.2-2.4.5-2.8-1.3 2z"/>
<path color="#004c5e" d="M191.3 143.5l1.3-2.5.4-2.3-1.2 2z"/>
<path color="#00295f" d="M192.6 141l1.3-2.4.4-1.8-1.3 1.9z"/>
<path color="#000661" d="M193.9 138.6l1.5-2.2.3-1.3-1.4 1.7z"/>
<path color="#1d0068" d="M195.4 136.4l1.6-1.7.3-.9-1.6 1.3z"/>
<path color="#6f00c2" d="M197 134.7l2.6.2.2-.6-2.5-.5z"/>
<path color="#a200ff" d="M199.6 134.9l.4.4 1.2.9-1.4-1.9z"/>
<path color="#0057ff" d="M110.4 61.2l.8 4.2.8-1.4-.3-1.8-1-1.4z"/>
<path color="#00c7ff" d="M111.2 65.4l.8 4.2.9-1.8-.9-3.8z"/>
<path color="#00ffc7" d="M112 69.6l.9 4.3.8-2.4-.8-3.7z"/>
<path color="#00ff58" d="M112.9 73.9l.8 4.1.8-2.8-.8-3.7z"/>
<path color="#14ff00" d="M113.7 78l.9 4.1.8-3.2-.9-3.7z"/>
<path color="#7cff01" d="M114.6 82.1l1.1 3.9.7-3.6-1-3.5z"/>
<path color="#ffff3d" d="M115.7 86l1.6 3.5.7-3.9-1.6-3.2z"/>
<path color="#d000ff" d="M126 67.3l1.7 3.7.8-.2-1.7-3.4z"/>
<path color="#7b00ff" d="M127.7 71l1.1 4.2.8-.6-1.1-3.8z"/>
<path color="#1500ff" d="M128.8 75.2l.9 4.4.8-1.1-.9-3.9z"/>
<path color="#0058ff" d="M129.7 79.6l.9 4.4.7-1.6-.8-3.9z"/>
<path color="#00c7ff" d="M130.6 84l.8 4.4.7-2-.8-4z"/>
<path color="#00ffc7" d="M131.4 88.4l.8 4.4.7-2.5-.8-3.9z"/>
<path color="#00ff58" d="M132.2 92.8l.8 4.4.7-3.1-.8-3.8z"/>
<path color="#14ff00" d="M133 97.2l.9 4.2.7-3.4-.9-3.9z"/>
<path color="#7bff00" d="M133.9 101.4l1.1 4.2.7-3.9-1.1-3.7z"/>
<path color="#ffff3e" d="M135 105.6l1.7 3.7.7-4.2-1.7-3.4z"/>
<path color="#5e7400" d="M136.7 109.3l1.7-.3.7-3.9-1.7 0z"/>
<path color="#d000ff" d="M147.5 87.2l1.8 4 .7-.3-1.9-3.7z"/>
<path color="#7b00ff" d="M149.3 91.2l1.2 4.5.6-.8-1.1-4z"/>
<path color="#1500ff" d="M150.5 95.7l.9 4.6.6-1.3-.9-4.1z"/>
<path color="#0058ff" d="M151.4 100.3l.8 4.6.7-1.8-.9-4.1z"/>
<path color="#00c7ff" d="M152.2 104.9l.8 4.6.7-2.3-.8-4.1z"/>
<path color="#00ffc7" d="M153 109.5l.8 4.6.7-2.8-.8-4.1z"/>
<path color="#00ff58" d="M153.8 114.1l.9 4.5.6-3.3-.8-4z"/>
<path color="#14ff00" d="M154.7 118.6l.9 4.5.6-3.8-.9-4z"/>
<path color="#7bff00" d="M155.6 123.1l1.1 4.3.6-4.2-1.1-3.9z"/>
<path color="#ffff3f" d="M156.7 127.4l1.8 4 .7-4.5-1.9-3.7z"/>
<path color="#5e7400" d="M158.5 131.4l2-.1.6-4.3-1.9-.1z"/>
<path color="#306400" d="M160.5 131.3l1.2-2 .7-3.9-1.3 1.6z"/>
<path color="#085f00" d="M161.7 129.3l1.1-2.5.7-3.5-1.1 2.1z"/>
<path color="#005d20" d="M162.8 126.8l1.1-2.8.6-3-1 2.3z"/>
<path color="#005c47" d="M163.9 124l1-3 .6-2.5-1 2.5z"/>
<path color="#00475b" d="M164.9 121l1-3 .6-1.9-1 2.4z"/>
<path color="#9500b6" d="M169.6 110.1l2.2-.4.4-.2-2.1.1z"/>
<path color="#d000ff" d="M171.8 109.7l2 4.3.4-.5-2-4z"/>
<path color="#7b00ff" d="M173.8 114l1.2 4.7.4-1-1.2-4.2z"/>
<path color="#1500ff" d="M175 118.7l.9 4.9.5-1.6-1-4.3z"/>
<path color="#0058ff" d="M175.9 123.6l.8 4.8.5-2.1-.8-4.3z"/>
<path color="#00c7ff" d="M176.7 128.4l.8 4.8.5-2.6-.8-4.3z"/>
<path color="#00ffc7" d="M177.5 133.2l.7 4.8.6-3.1-.8-4.3z"/>
<path color="#00ff58" d="M178.2 138l.8 4.8.6-3.7-.8-4.2z"/>
<path color="#14ff00" d="M179 142.8l.9 4.7.6-4.2-.9-4.2z"/>
<path color="#7bff00" d="M179.9 147.5l1.1 4.5.6-4.5-1.1-4.2z"/>
<path color="#ffff40" d="M181 152l2.1 4.3.6-4.9-2.1-3.9z"/>
<path color="#5e7400" d="M183.1 156.3l2.2.1.6-4.6-2.2-.4z"/>
<path color="#306400" d="M185.3 156.4l1.6-1.9.6-4.3-1.6 1.6z"/>
<path color="#085f00" d="M186.9 154.5l1.4-2.5.5-3.8-1.3 2z"/>
<path color="#005d20" d="M188.3 152l1.3-2.8.5-3.3-1.3 2.3z"/>
<path color="#005c47" d="M189.6 149.2l1.3-2.9.4-2.8-1.2 2.4z"/>
<path color="#00475b" d="M190.9 146.3l1.3-3 .4-2.3-1.3 2.5z"/>
<path color="#00205c" d="M192.2 143.3l1.4-2.9.3-1.8-1.3 2.4z"/>
<path color="#08005e" d="M193.6 140.4l1.4-2.7.4-1.3-1.5 2.2z"/>
<path color="#300064" d="M195 137.7l1.8-2.2.2-.8-1.6 1.7z"/>
<path color="#9f00c0" d="M196.8 135.5l2-.5.7.1.1-.2-2.6-.2z"/>
<path color="#d000ff" d="M200 135.3l-.4-.4-.1.2z"/>
<path color="#3a00ff" d="M108.5 57.4l1 4.7.9-.9-.3-1.4-1.4-2.5z"/>
<path color="#0040ff" d="M109.5 62.1l.9 4.7.8-1.4-.8-4.2z"/>
<path color="#00bfff" d="M110.4 66.8l.8 4.7.8-1.9-.8-4.2z"/>
<path color="#00ffc0" d="M111.2 71.5l.9 4.7.8-2.3-.9-4.3z"/>
<path color="#00ff41" d="M112.1 76.2l.9 4.6.7-2.8-.8-4.1z"/>
<path color="#3bff00" d="M113 80.8l.9 4.5.7-3.2-.9-4.1z"/>
<path color="#afff00" d="M113.9 85.3l1.1 4.4.7-3.7-1.1-3.9z"/>
<path color="#ffff3b" d="M115 89.7l1.6 3.7.7-3.9-1.6-3.5z"/>
<path color="#f0e" d="M125.1 67.1l1.8 4 .8-.1-1.7-3.7z"/>
<path color="#b000ff" d="M126.9 71.1l1.1 4.7.8-.6-1.1-4.2z"/>
<path color="#3b00ff" d="M128 75.8l.9 4.9.8-1.1-.9-4.4z"/>
<path color="#0040ff" d="M128.9 80.7l.9 4.9.8-1.6-.9-4.4z"/>
<path color="#00bfff" d="M129.8 85.6l.8 4.9.8-2.1-.8-4.4z"/>
<path color="#00ffc0" d="M130.6 90.5l.9 4.9.7-2.6-.8-4.4z"/>
<path color="#00ff41" d="M131.5 95.4l.8 4.8.7-3-.8-4.4z"/>
<path color="#3bff00" d="M132.3 100.2l1 4.7.6-3.5-.9-4.2z"/>
<path color="#afff00" d="M133.3 104.9l1 4.6.7-3.9-1.1-4.2z"/>
<path color="#ffff3c" d="M134.3 109.5l1.8 4 .6-4.2-1.7-3.7z"/>
<path color="#716a00" d="M136.1 113.5l1.6-.5.7-4-1.7.3z"/>
<path color="#f0e" d="M146.8 87.2l1.9 4.3.6-.3-1.8-4z"/>
<path color="#b000ff" d="M148.7 91.5l1.1 5 .7-.8-1.2-4.5z"/>
<path color="#3b00ff" d="M149.8 96.5l.9 5.1.7-1.3-.9-4.6z"/>
<path color="#0040ff" d="M150.7 101.6l.9 5.1.6-1.8-.8-4.6z"/>
<path color="#00bfff" d="M151.6 106.7l.8 5.1.6-2.3-.8-4.6z"/>
<path color="#00ffc0" d="M152.4 111.8l.8 5.1.6-2.8-.8-4.6z"/>
<path color="#00ff41" d="M153.2 116.9l.8 5.1.7-3.4-.9-4.5z"/>
<path color="#3bff00" d="M154 122l.9 4.9.7-3.8-.9-4.5z"/>
<path color="#afff00" d="M154.9 126.9l1.1 4.7.7-4.2-1.1-4.3z"/>
<path color="#ffff3c" d="M156 131.6l1.9 4.3.6-4.5-1.8-4z"/>
<path color="#716a00" d="M157.9 135.9l1.9-.4.7-4.2-2 .1z"/>
<path color="#436100" d="M159.8 135.5l1.3-2.3.6-3.9-1.2 2z"/>
<path color="#155d00" d="M161.1 133.2l1.1-3 .6-3.4-1.1 2.5z"/>
<path color="#005b17" d="M162.2 130.2l1.1-3.3.6-2.9-1.1 2.8z"/>
<path color="#005943" d="M163.3 126.9l1-3.4.6-2.5-1 3z"/>
<path color="#aa009e" d="M169.1 110.6l2.2-.6.5-.3-2.2.4z"/>
<path color="#f0e" d="M171.3 110l2 4.6.5-.6-2-4.3z"/>
<path color="#b000ff" d="M173.3 114.6l1.2 5.2.5-1.1-1.2-4.7z"/>
<path color="#3b00ff" d="M174.5 119.8l.9 5.3.5-1.5-.9-4.9z"/>
<path color="#0040ff" d="M175.4 125.1l.8 5.4.5-2.1-.8-4.8z"/>
<path color="#00bfff" d="M176.2 130.5l.7 5.4.6-2.7-.8-4.8z"/>
<path color="#00ffc0" d="M176.9 135.9l.8 5.3.5-3.2-.7-4.8z"/>
<path color="#00ff41" d="M177.7 141.2l.8 5.3.5-3.7-.8-4.8z"/>
<path color="#3bff00" d="M178.5 146.5l.8 5.1.6-4.1-.9-4.7z"/>
<path color="#afff00" d="M179.3 151.6l1.1 5 .6-4.6-1.1-4.5z"/>
<path color="#ffff3c" d="M180.4 156.6l2.1 4.6.6-4.9-2.1-4.3z"/>
<path color="#716a00" d="M182.5 161.2l2.3-.2.5-4.6-2.2-.1z"/>
<path color="#436100" d="M184.8 161l1.5-2.3.6-4.2-1.6 1.9z"/>
<path color="#155d00" d="M186.3 158.7l1.5-2.9.5-3.8-1.4 2.5z"/>
<path color="#005b17" d="M187.8 155.8l1.3-3.3.5-3.3-1.3 2.8z"/>
<path color="#005943" d="M189.1 152.5l1.3-3.4.5-2.8-1.3 2.9z"/>
<path color="#004359" d="M190.4 149.1l1.4-3.5.4-2.3-1.3 3z"/>
<path color="#00175a" d="M191.8 145.6l1.4-3.4.4-1.8-1.4 2.9z"/>
<path color="#15005c" d="M193.2 142.2l1.5-3.2.3-1.3-1.4 2.7z"/>
<path color="#430061" d="M194.7 139l1.8-2.7.3-.8-1.8 2.2z"/>
<path color="#7e007d" d="M196.5 136.3l1-.7 1.3-.6-2 .5z"/>
<path color="#be00ff" d="M106.8 54.1l.9 3.8.8-.5-.1-.5z"/>
<path color="#5f00ff" d="M107.7 57.9l.9 5.1.9-.9-1-4.7z"/>
<path color="#002aff" d="M108.6 63l1 5.2.8-1.4-.9-4.7z"/>
<path color="#00b8ff" d="M109.6 68.2l.8 5.2.8-1.9-.8-4.7z"/>
<path color="#00ffb8" d="M110.4 73.4l.9 5.1.8-2.3-.9-4.7z"/>
<path color="#00ff2b" d="M111.3 78.5l.9 5 .8-2.7-.9-4.6z"/>
<path color="#5fff00" d="M112.2 83.5l1 4.9.7-3.1-.9-4.5z"/>
<path color="#e1ff00" d="M113.2 88.4l1.1 4.7.7-3.4-1.1-4.4z"/>
<path color="#ffdf2e" d="M114.3 93.1l1.6 4 .7-3.7-1.6-3.7z"/>
<path color="#ff00b0" d="M124.3 67.1l1.8 4.3.8-.3-1.8-4z"/>
<path color="#e100ff" d="M126.1 71.4l1.1 5.1.8-.7-1.1-4.7z"/>
<path color="#5f00ff" d="M127.2 76.5l1 5.3.7-1.1-.9-4.9z"/>
<path color="#002aff" d="M128.2 81.8l.9 5.4.7-1.6-.9-4.9z"/>
<path color="#00b8ff" d="M129.1 87.2l.8 5.4.7-2.1-.8-4.9z"/>
<path color="#00ffb8" d="M129.9 92.6l.9 5.3.7-2.5-.9-4.9z"/>
<path color="#00ff2b" d="M130.8 97.9l.8 5.3.7-3-.8-4.8z"/>
<path color="#5fff00" d="M131.6 103.2l1 5.1.7-3.4-1-4.7z"/>
<path color="#e1ff00" d="M132.6 108.3l1.1 4.9.6-3.7-1-4.6z"/>
<path color="#ffde2e" d="M133.7 113.2l1.7 4.2.7-3.9-1.8-4z"/>
<path color="#704d00" d="M135.4 117.4l1.7-.7.6-3.7-1.6.5z"/>
<path color="#ff00b0" d="M146.1 87.4l1.9 4.6.7-.5-1.9-4.3z"/>
<path color="#e100ff" d="M148 92l1.2 5.4.6-.9-1.1-5z"/>
<path color="#5f00ff" d="M149.2 97.4l.9 5.5.6-1.3-.9-5.1z"/>
<path color="#002aff" d="M150.1 102.9l.8 5.7.7-1.9-.9-5.1z"/>
<path color="#00b8ff" d="M150.9 108.6l.9 5.6.6-2.4-.8-5.1z"/>
<path color="#00ffb8" d="M151.8 114.2l.7 5.5.7-2.8-.8-5.1z"/>
<path color="#00ff2b" d="M152.5 119.7l.9 5.5.6-3.2-.8-5.1z"/>
<path color="#5fff00" d="M153.4 125.2l.9 5.3.6-3.6-.9-4.9z"/>
<path color="#e1ff00" d="M154.3 130.5l1.1 5.2.6-4.1-1.1-4.7z"/>
<path color="#ffdd2d" d="M155.4 135.7l1.8 4.5.7-4.3-1.9-4.3z"/>
<path color="#704d00" d="M157.2 140.2l2-.6.6-4.1-1.9.4z"/>
<path color="#546000" d="M159.2 139.6l1.3-2.7.6-3.7-1.3 2.3z"/>
<path color="#225b00" d="M160.5 136.9l1.1-3.4.6-3.3-1.1 3z"/>
<path color="#00590f" d="M161.6 133.5l1.1-3.7.6-2.9-1.1 3.3z"/>
<path color="#9c006c" d="M168.5 111.3l2.3-.9.5-.4-2.2.6z"/>
<path color="#ff00b0" d="M170.8 110.4l2 4.9.5-.7-2-4.6z"/>
<path color="#e100ff" d="M172.8 115.3l1.2 5.7.5-1.2-1.2-5.2z"/>
<path color="#5f00ff" d="M174 121l.9 5.8.5-1.7-.9-5.3z"/>
<path color="#002aff" d="M174.9 126.8l.8 5.9.5-2.2-.8-5.4z"/>
<path color="#00b8ff" d="M175.7 132.7l.7 5.8.5-2.6-.7-5.4z"/>
<path color="#00ffb8" d="M176.4 138.5l.7 5.8.6-3.1-.8-5.3z"/>
<path color="#00ff2b" d="M177.1 144.3l.8 5.7.6-3.5-.8-5.3z"/>
<path color="#5fff00" d="M177.9 150l.9 5.6.5-4-.8-5.1z"/>
<path color="#e1ff00" d="M178.8 155.6l1.1 5.4.5-4.4-1.1-5z"/>
<path color="#ffdc2b" d="M179.9 161l2 4.8.6-4.6-2.1-4.6z"/>
<path color="#704d00" d="M181.9 165.8l2.3-.3.6-4.5-2.3.2z"/>
<path color="#546000" d="M184.2 165.5l1.6-2.7.5-4.1-1.5 2.3z"/>
<path color="#225b00" d="M185.8 162.8l1.4-3.3.6-3.7-1.5 2.9z"/>
<path color="#00590f" d="M187.2 159.5l1.4-3.7.5-3.3-1.3 3.3z"/>
<path color="#00583f" d="M188.6 155.8l1.4-3.9.4-2.8-1.3 3.4z"/>
<path color="#003f58" d="M190 151.9l1.4-3.9.4-2.4-1.4 3.5z"/>
<path color="#000f58" d="M191.4 148l1.4-3.9.4-1.9-1.4 3.4z"/>
<path color="#21005a" d="M192.8 144.1l1.6-3.7.3-1.4-1.5 3.2z"/>
<path color="#59005f" d="M194.4 140.4l1.7-3 .2-.2.2-.9-1.8 2.7z"/>
<path color="#67005a" d="M197.5 135.6l-1 .7-.2.9z"/>
<path color="#ff0097" d="M105.1 51.8l.5 1.7.6-.4z"/>
<path color="#ff00eb" d="M105.6 53.5l1.1 5.2 1-.8-.9-3.8-.6-1z"/>
<path color="#7f00ff" d="M106.7 58.7l1.1 5.5.8-1.2-.9-5.1z"/>
<path color="#0017ff" d="M107.8 64.2l.9 5.5.9-1.5-1-5.2z"/>
<path color="#00b1ff" d="M108.7 69.7l.9 5.6.8-1.9-.8-5.2z"/>
<path color="#00ffb2" d="M109.6 75.3l.9 5.5.8-2.3-.9-5.1z"/>
<path color="#00ff18" d="M110.5 80.8l.9 5.4.8-2.7-.9-5z"/>
<path color="#7fff00" d="M111.4 86.2l1 5.2.8-3-1-4.9z"/>
<path color="#fff100" d="M112.4 91.4l1.1 5 .8-3.3-1.1-4.7z"/>
<path color="#ff9116" d="M113.5 96.4l1.6 4.2.8-3.5-1.6-4z"/>
<path color="#ff007b" d="M123.4 67.4l1.8 4.6.9-.6-1.8-4.3z"/>
<path color="#ff00f1" d="M125.2 72l1.2 5.5.8-1-1.1-5.1z"/>
<path color="#7f00ff" d="M126.4 77.5l1 5.7.8-1.4-1-5.3z"/>
<path color="#0017ff" d="M127.4 83.2l.9 5.8.8-1.8-.9-5.4z"/>
<path color="#00b1ff" d="M128.3 89l.9 5.7.7-2.1-.8-5.4z"/>
<path color="#00ffb2" d="M129.2 94.7l.8 5.7.8-2.5-.9-5.3z"/>
<path color="#00ff18" d="M130 100.4l.9 5.7.7-2.9-.8-5.3z"/>
<path color="#7fff00" d="M130.9 106.1l.9 5.4.8-3.2-1-5.1z"/>
<path color="#fff100" d="M131.8 111.5l1.2 5.2.7-3.5-1.1-4.9z"/>
<path color="#ff9015" d="M133 116.7l1.7 4.5.7-3.8-1.7-4.2z"/>
<path color="#6f3600" d="M134.7 121.2l1.7-.9.7-3.6-1.7.7z"/>
<path color="#8c0044" d="M143.5 89.2l1.9-1.3.7-.5-1.9 1z"/>
<path color="#ff007b" d="M145.4 87.9l1.9 4.9.7-.8-1.9-4.6z"/>
<path color="#ff00f1" d="M147.3 92.8l1.2 5.8.7-1.2-1.2-5.4z"/>
<path color="#7f00ff" d="M148.5 98.6l.9 5.9.7-1.6-.9-5.5z"/>
<path color="#0017ff" d="M149.4 104.5l.9 6.1.6-2-.8-5.7z"/>
<path color="#00b1ff" d="M150.3 110.6l.8 6 .7-2.4-.9-5.6z"/>
<path color="#00ffb2" d="M151.1 116.6l.8 5.9.6-2.8-.7-5.5z"/>
<path color="#00ff18" d="M151.9 122.5l.8 5.9.7-3.2-.9-5.5z"/>
<path color="#7fff00" d="M152.7 128.4l.9 5.7.7-3.6-.9-5.3z"/>
<path color="#fff100" d="M153.6 134.1l1.1 5.4.7-3.8-1.1-5.2z"/>
<path color="#ff8e13" d="M154.7 139.5l1.9 4.8.6-4.1-1.8-4.5z"/>
<path color="#6f3600" d="M156.6 144.3l2-.8.6-3.9-2 .6z"/>
<path color="#5e5900" d="M158.6 143.5l1.3-3 .6-3.6-1.3 2.7z"/>
<path color="#2d5a00" d="M159.9 140.5l1.1-3.7.6-3.3-1.1 3.4z"/>
<path color="#005808" d="M161 136.8l1-4 .7-3-1.1 3.7z"/>
<path color="#8c0044" d="M168 112.3l2.3-1.1.5-.8-2.3.9z"/>
<path color="#ff007b" d="M170.3 111.2l2 5.2.5-1.1-2-4.9z"/>
<path color="#ff00f1" d="M172.3 116.4l1.2 6.1.5-1.5-1.2-5.7z"/>
<path color="#7f00ff" d="M173.5 122.5l.9 6.2.5-1.9-.9-5.8z"/>
<path color="#0017ff" d="M174.4 128.7l.7 6.3.6-2.3-.8-5.9z"/>
<path color="#00b1ff" d="M175.1 135l.8 6.3.5-2.8-.7-5.8z"/>
<path color="#00ffb2" d="M175.9 141.3l.7 6.1.5-3.1-.7-5.8z"/>
<path color="#00ff18" d="M176.6 147.4l.7 6.1.6-3.5-.8-5.7z"/>
<path color="#7fff00" d="M177.3 153.5l.9 6 .6-3.9-.9-5.6z"/>
<path color="#fff100" d="M178.2 159.5l1.1 5.7.6-4.2-1.1-5.4z"/>
<path color="#ff8d11" d="M179.3 165.2l2 5.1.6-4.5-2-4.8z"/>
<path color="#6f3600" d="M181.3 170.3l2.3-.6.6-4.2-2.3.3z"/>
<path color="#5e5900" d="M183.6 169.7l1.7-2.9.5-4-1.6 2.7z"/>
<path color="#2d5a00" d="M185.3 166.8l1.4-3.6.5-3.7-1.4 3.3z"/>
<path color="#005808" d="M186.7 163.2l1.4-4.1.5-3.3-1.4 3.7z"/>
<path color="#00573c" d="M188.1 159.1l1.4-4.2.5-3-1.4 3.9z"/>
<path color="#003c56" d="M189.5 154.9l1.4-4.4.5-2.5-1.4 3.9z"/>
<path color="#000857" d="M190.9 150.5l1.5-4.3.4-2.1-1.4 3.9z"/>
<path color="#2c0059" d="M192.4 146.2l1.7-4.1.3-1.7-1.6 3.7z"/>
<path color="#57005c" d="M194.1 142.1l.5-1.1 1.5-3.6-1.7 3z"/>
<path color="#ff0069" d="M103.3 50.8l1.3 3.8 1-1.1-.5-1.7z"/>
<path color="#ff00d0" d="M104.6 54.6l1.1 5.5 1-1.4-1.1-5.2z"/>
<path color="#9700ff" d="M105.7 60.1l1.1 5.7 1-1.6-1.1-5.5z"/>
<path color="#0008ff" d="M106.8 65.8l.9 5.8 1-1.9-.9-5.5z"/>
<path color="#00acff" d="M107.7 71.6l1 5.8.9-2.1-.9-5.6z"/>
<path color="#00ffad" d="M108.7 77.4l.9 5.8.9-2.4-.9-5.5z"/>
<path color="#00ff09" d="M109.6 83.2l.9 5.6.9-2.6-.9-5.4z"/>
<path color="#97ff00" d="M110.5 88.8l1 5.5.9-2.9-1-5.2z"/>
<path color="#ffd000" d="M111.5 94.3l1.2 5.2.8-3.1-1.1-5z"/>
<path color="#ff5603" d="M112.7 99.5l1.6 4.4.8-3.3-1.6-4.2z"/>
<path color="#7b0028" d="M120.9 70.1l1.6-1.5.9-1.2-1.6 1.4z"/>
<path color="#ff0052" d="M122.5 68.6l1.8 4.8.9-1.4-1.8-4.6z"/>
<path color="#ff00d0" d="M124.3 73.4l1.2 5.7.9-1.6-1.2-5.5z"/>
<path color="#9700ff" d="M125.5 79.1l1 6 .9-1.9-1-5.7z"/>
<path color="#0008ff" d="M126.5 85.1l.9 6 .9-2.1-.9-5.8z"/>
<path color="#00acff" d="M127.4 91.1l.9 6.1.9-2.5-.9-5.7z"/>
<path color="#00ffad" d="M128.3 97.2l.9 5.9.8-2.7-.8-5.7z"/>
<path color="#00ff09" d="M129.2 103.1l.9 5.9.8-2.9-.9-5.7z"/>
<path color="#97ff00" d="M130.1 109l.9 5.7.8-3.2-.9-5.4z"/>
<path color="#ffd000" d="M131 114.7l1.2 5.4.8-3.4-1.2-5.2z"/>
<path color="#ff5503" d="M132.2 120.1l1.7 4.6.8-3.5-1.7-4.5z"/>
<path color="#7b0028" d="M142.7 90.8l1.9-1.4.8-1.5-1.9 1.3z"/>
<path color="#ff0052" d="M144.6 89.4l1.9 5 .8-1.6-1.9-4.9z"/>
<path color="#ff00d0" d="M146.5 94.4l1.2 6.1.8-1.9-1.2-5.8z"/>
<path color="#9700ff" d="M147.7 100.5l1 6.2.7-2.2-.9-5.9z"/>
<path color="#0008ff" d="M148.7 106.7l.8 6.3.8-2.4-.9-6.1z"/>
<path color="#00acff" d="M149.5 113l.8 6.3.8-2.7-.8-6z"/>
<path color="#00ffad" d="M150.3 119.3l.8 6.2.8-3-.8-5.9z"/>
<path color="#00ff09" d="M151.1 125.5l.9 6.1.7-3.2-.8-5.9z"/>
<path color="#97ff00" d="M152 131.6l.9 6 .7-3.5-.9-5.7z"/>
<path color="#ffd000" d="M152.9 137.6l1.1 5.6.7-3.7-1.1-5.4z"/>
<path color="#ff5402" d="M154 143.2l1.9 4.9.7-3.8-1.9-4.8z"/>
<path color="#702400" d="M155.9 148.1l1.9-.8.8-3.8-2 .8z"/>
<path color="#5d4c00" d="M157.8 147.3l1.3-3.2.8-3.6-1.3 3z"/>
<path color="#355900" d="M159.1 144.1l1.2-3.9.7-3.4-1.1 3.7z"/>
<path color="#005703" d="M160.3 140.2l1-4.3.7-3.1-1 4z"/>
<path color="#5c004b" d="M165.9 118l1.5-3.8.6-1.9-1.5 3.5z"/>
<path color="#7b0028" d="M167.4 114.2l2.2-1.2.7-1.8-2.3 1.1z"/>
<path color="#ff0052" d="M169.6 113l2.1 5.4.6-2-2-5.2z"/>
<path color="#ff00d0" d="M171.7 118.4l1.2 6.3.6-2.2-1.2-6.1z"/>
<path color="#9700ff" d="M172.9 124.7l.9 6.5.6-2.5-.9-6.2z"/>
<path color="#0008ff" d="M173.8 131.2l.7 6.6.6-2.8-.7-6.3z"/>
<path color="#00acff" d="M174.5 137.8l.8 6.6.6-3.1-.8-6.3z"/>
<path color="#00ffad" d="M175.3 144.4l.7 6.4.6-3.4-.7-6.1z"/>
<path color="#00ff09" d="M176 150.8l.7 6.4.6-3.7-.7-6.1z"/>
<path color="#97ff00" d="M176.7 157.2l.9 6.2.6-3.9-.9-6z"/>
<path color="#ffd000" d="M177.6 163.4l1.1 5.9.6-4.1-1.1-5.7z"/>
<path color="#ff5401" d="M178.7 169.3l2 5.3.6-4.3-2-5.1z"/>
<path color="#702400" d="M180.7 174.6l2.3-.7.6-4.2-2.3.6z"/>
<path color="#5d4c00" d="M183 173.9l1.7-3.1.6-4-1.7 2.9z"/>
<path color="#355900" d="M184.7 170.8l1.5-3.9.5-3.7-1.4 3.6z"/>
<path color="#005703" d="M186.2 166.9l1.4-4.2.5-3.6-1.4 4.1z"/>
<path color="#00563a" d="M187.6 162.7l1.4-4.5.5-3.3-1.4 4.2z"/>
<path color="#003a56" d="M189 158.2l1.4-4.6.5-3.1-1.4 4.4z"/>
<path color="#000356" d="M190.4 153.6l1.6-4.6.4-2.8-1.5 4.3z"/>
<path color="#330058" d="M192 149l.7-1.9 1.2-4.2.2-.8-1.7 4.1z"/>
<path color="#52005a" d="M194.6 141l-.5 1.1-.2.8z"/>
<path color="#ed0022" d="M101.5 52.4l.3.2.5-1.3z"/>
<path color="#ff003e" d="M101.8 52.6l1.7 4.5 1.1-2.5-1.3-3.8-1 .5z"/>
<path color="#ff00c5" d="M103.5 57.1l1.2 5.4 1-2.4-1.1-5.5z"/>
<path color="#a000ff" d="M104.7 62.5l1 5.8 1.1-2.5-1.1-5.7z"/>
<path color="#0003ff" d="M105.7 68.3l1 5.7 1-2.4-.9-5.8z"/>
<path color="#0af" d="M106.7 74l.9 5.8 1.1-2.4-1-5.8z"/>
<path color="#00ffab" d="M107.6 79.8l1 5.8 1-2.4-.9-5.8z"/>
<path color="#00ff04" d="M108.6 85.6l.9 5.6 1-2.4-.9-5.6z"/>
<path color="#9fff00" d="M109.5 91.2l1 5.5 1-2.4-1-5.5z"/>
<path color="#ffc500" d="M110.5 96.7l1.2 5.1 1-2.3-1.2-5.2z"/>
<path color="#ff4500" d="M111.7 101.8l1.6 4.4 1-2.3-1.6-4.4z"/>
<path color="#71001e" d="M119.9 72.8l1.6-1.5 1-2.7-1.6 1.5z"/>
<path color="#ff0045" d="M121.5 71.3l1.8 4.8 1-2.7-1.8-4.8z"/>
<path color="#ff00c5" d="M123.3 76.1l1.2 5.7 1-2.7-1.2-5.7z"/>
<path color="#a000ff" d="M124.5 81.8l1 6 1-2.7-1-6z"/>
<path color="#0003ff" d="M125.5 87.8l1 6 .9-2.7-.9-6z"/>
<path color="#0af" d="M126.5 93.8l.9 6 .9-2.6-.9-6.1z"/>
<path color="#00ffab" d="M127.4 99.8l.8 6 1-2.7-.9-5.9z"/>
<path color="#00ff04" d="M128.2 105.8l.9 5.8 1-2.6-.9-5.9z"/>
<path color="#9fff00" d="M129.1 111.6l1 5.7.9-2.6-.9-5.7z"/>
<path color="#ffc500" d="M130.1 117.3l1.2 5.5.9-2.7-1.2-5.4z"/>
<path color="#ff4500" d="M131.3 122.8l1.7 4.6.9-2.7-1.7-4.6z"/>
<path color="#71001e" d="M141.8 93.8l1.9-1.4.9-3-1.9 1.4z"/>
<path color="#ff0045" d="M143.7 92.4l1.9 5.1.9-3.1-1.9-5z"/>
<path color="#ff00c5" d="M145.6 97.5l1.2 6 .9-3-1.2-6.1z"/>
<path color="#a000ff" d="M146.8 103.5l1 6.3.9-3.1-1-6.2z"/>
<path color="#0003ff" d="M147.8 109.8l.9 6.3.8-3.1-.8-6.3z"/>
<path color="#0af" d="M148.7 116.1l.8 6.2.8-3-.8-6.3z"/>
<path color="#00ffab" d="M149.5 122.3l.8 6.2.8-3-.8-6.2z"/>
<path color="#00ff04" d="M150.3 128.5l.9 6.1.8-3-.9-6.1z"/>
<path color="#9fff00" d="M151.2 134.6l.9 5.9.8-2.9-.9-6z"/>
<path color="#ffc500" d="M152.1 140.5l1.1 5.7.8-3-1.1-5.6z"/>
<path color="#ff4500" d="M153.2 146.2l1.9 4.9.8-3-1.9-4.9z"/>
<path color="#711e00" d="M155.1 151.1l2-.8.7-3-1.9.8z"/>
<path color="#000156" d="M162.7 130.1l1.2-4.5.7-3.3-1.1 4.6z"/>
<path color="#370058" d="M163.9 125.6l1.2-4.3.8-3.3-1.3 4.3z"/>
<path color="#5c0047" d="M165.1 121.3l1.5-3.7.8-3.4-1.5 3.8z"/>
<path color="#71001e" d="M166.6 117.6l2.3-1.2.7-3.4-2.2 1.2z"/>
<path color="#ff0045" d="M168.9 116.4l2.1 5.4.7-3.4-2.1-5.4z"/>
<path color="#ff00c5" d="M171 121.8l1.2 6.4.7-3.5-1.2-6.3z"/>
<path color="#a000ff" d="M172.2 128.2l.9 6.5.7-3.5-.9-6.5z"/>
<path color="#0003ff" d="M173.1 134.7l.8 6.6.6-3.5-.7-6.6z"/>
<path color="#0af" d="M173.9 141.3l.7 6.5.7-3.4-.8-6.6z"/>
<path color="#00ffab" d="M174.6 147.8l.7 6.4.7-3.4-.7-6.4z"/>
<path color="#00ff04" d="M175.3 154.2l.8 6.4.6-3.4-.7-6.4z"/>
<path color="#9fff00" d="M176.1 160.6l.8 6.2.7-3.4-.9-6.2z"/>
<path color="#ffc500" d="M176.9 166.8l1.1 5.9.7-3.4-1.1-5.9z"/>
<path color="#ff4500" d="M178 172.7l2 5.3.7-3.4-2-5.3z"/>
<path color="#711e00" d="M180 178l2.4-.6.6-3.5-2.3.7z"/>
<path color="#5c4700" d="M182.4 177.4l1.7-3.1.6-3.5-1.7 3.1z"/>
<path color="#375800" d="M184.1 174.3l1.5-3.8.6-3.6-1.5 3.9z"/>
<path color="#005601" d="M185.6 170.5l1.4-4.2.6-3.6-1.4 4.2z"/>
<path color="#005639" d="M187 166.3l1.4-4.5.6-3.6-1.4 4.5z"/>
<path color="#003956" d="M188.4 161.8l1.5-4.5.5-3.7-1.4 4.6z"/>
<path color="#000256" d="M189.9 157.3l.6-1.8 1.2-4.9.3-1.6-1.6 4.6z"/>
<path color="#230057" d="M192.7 147.1l-.7 1.9-.3 1.6z"/>
<path color="#9d0025" d="M100.3 55.3l.8 0 .7-2.7-.3-.2z"/>
<path color="#ff0a64" d="M101.1 55.3l1.7 4.3.7-2.5-1.7-4.5z"/>
<path color="#ff00d6" d="M102.8 59.6l1.2 5.3.7-2.4-1.2-5.4z"/>
<path color="#9300ff" d="M104 64.9l1 5.5.7-2.1-1-5.8z"/>
<path color="#000bff" d="M105 70.4l1 5.5.7-1.9-1-5.7z"/>
<path color="#00adff" d="M106 75.9l.9 5.6.7-1.7-.9-5.8z"/>
<path color="#00ffae" d="M106.9 81.5l1 5.5.7-1.4-1-5.8z"/>
<path color="#00ff0c" d="M107.9 87l.9 5.4.7-1.2-.9-5.6z"/>
<path color="#92ff00" d="M108.8 92.4l1 5.3.7-1-1-5.5z"/>
<path color="#ffd600" d="M109.8 97.7l1.1 5 .8-.9-1.2-5.1z"/>
<path color="#6f0027" d="M119.2 75.5l1.6-1.3.7-2.9-1.6 1.5z"/>
<path color="#ff0963" d="M120.8 74.2l1.9 4.6.6-2.7-1.8-4.8z"/>
<path color="#ff00d6" d="M122.7 78.8l1.1 5.6.7-2.6-1.2-5.7z"/>
<path color="#9300ff" d="M123.8 84.4l1.1 5.7.6-2.3-1-6z"/>
<path color="#000bff" d="M124.9 90.1l.9 5.8.7-2.1-1-6z"/>
<path color="#00adff" d="M125.8 95.9l.9 5.8.7-1.9-.9-6z"/>
<path color="#00ffae" d="M126.7 101.7l.9 5.7.6-1.6-.8-6z"/>
<path color="#00ff0c" d="M127.6 107.4l.9 5.6.6-1.4-.9-5.8z"/>
<path color="#92ff00" d="M128.5 113l1 5.5.6-1.2-1-5.7z"/>
<path color="#ffd600" d="M129.5 118.5l1.1 5.3.7-1-1.2-5.5z"/>
<path color="#ff5a00" d="M130.6 123.8l1.8 4.5.6-.9-1.7-4.6z"/>
<path color="#7a00d5" d="M139.1 104.3l.9-4.1.6-2.7-.9 4.3z"/>
<path color="#5d004e" d="M140 100.2l1.2-3.4.6-3-1.2 3.7z"/>
<path color="#6f0027" d="M141.2 96.8l1.9-1.2.6-3.2-1.9 1.4z"/>
<path color="#ff0862" d="M143.1 95.6l1.9 4.9.6-3-1.9-5.1z"/>
<path color="#ff00d6" d="M145 100.5l1.2 5.8.6-2.8-1.2-6z"/>
<path color="#9300ff" d="M146.2 106.3l1 6 .6-2.5-1-6.3z"/>
<path color="#000bff" d="M147.2 112.3l.9 6.1.6-2.3-.9-6.3z"/>
<path color="#00adff" d="M148.1 118.4l.8 6 .6-2.1-.8-6.2z"/>
<path color="#00ffae" d="M148.9 124.4l.9 6 .5-1.9-.8-6.2z"/>
<path color="#00ff0c" d="M149.8 130.4l.8 5.8.6-1.6-.9-6.1z"/>
<path color="#92ff00" d="M150.6 136.2l1 5.7.5-1.4-.9-5.9z"/>
<path color="#ffd600" d="M151.6 141.9l1.1 5.5.5-1.2-1.1-5.7z"/>
<path color="#ff5a00" d="M152.7 147.4l1.9 4.9.5-1.2-1.9-4.9z"/>
<path color="#000457" d="M162.2 132.6l1.1-4.2.6-2.8-1.2 4.5z"/>
<path color="#330059" d="M163.3 128.4l1.3-4.1.5-3-1.2 4.3z"/>
<path color="#5d004e" d="M164.6 124.3l1.4-3.4.6-3.3-1.5 3.7z"/>
<path color="#6f0027" d="M166 120.9l2.3-1 .6-3.5-2.3 1.2z"/>
<path color="#ff0760" d="M168.3 119.9l2.1 5.3.6-3.4-2.1-5.4z"/>
<path color="#ff00d6" d="M170.4 125.2l1.2 6.1.6-3.1-1.2-6.4z"/>
<path color="#9300ff" d="M171.6 131.3l1 6.2.5-2.8-.9-6.5z"/>
<path color="#000bff" d="M172.6 137.5l.8 6.4.5-2.6-.8-6.6z"/>
<path color="#00adff" d="M173.4 143.9l.7 6.2.5-2.3-.7-6.5z"/>
<path color="#00ffae" d="M174.1 150.1l.8 6.3.4-2.2-.7-6.4z"/>
<path color="#00ff0c" d="M174.9 156.4l.7 6.1.5-1.9-.8-6.4z"/>
<path color="#92ff00" d="M175.6 162.5l.9 6 .4-1.7-.8-6.2z"/>
<path color="#ffd600" d="M176.5 168.5l1.2 5.7.3-1.5-1.1-5.9z"/>
<path color="#ff5a00" d="M177.7 174.2l2 5.2.3-1.4-2-5.3z"/>
<path color="#822e00" d="M179.7 179.4l2.4-.5.3-1.5-2.4.6z"/>
<path color="#5c4d00" d="M182.1 178.9l1.6-2.8.4-1.8-1.7 3.1z"/>
<path color="#335800" d="M183.7 176.1l1.5-3.6.4-2-1.5 3.8z"/>
<path color="#005604" d="M185.2 172.5l1.4-4 .4-2.2-1.4 4.2z"/>
<path color="#00563a" d="M186.6 168.5l1.4-4.1.4-2.6-1.4 4.5z"/>
<path color="#003956" d="M188 164.4l.9-2.8.7-2.8.3-1.5-1.5 4.5z"/>
<path color="#001756" d="M190.5 155.5l-.6 1.8-.3 1.5z"/>
<path color="#740033" d="M99.4 58.6l1.2-.6.5-2.7-.8 0z"/>
<path color="#ff35b6" d="M100.6 58l1.7 4.2.5-2.6-1.7-4.3z"/>
<path color="#ff00f6" d="M102.3 62.2l1.2 5 .5-2.3-1.2-5.3z"/>
<path color="#7b00ff" d="M103.5 67.2l1 5.1.5-1.9-1-5.5z"/>
<path color="#0019ff" d="M104.5 72.3l.9 5.3.6-1.7-1-5.5z"/>
<path color="#00b2ff" d="M105.4 77.6l1 5.2.5-1.3-.9-5.6z"/>
<path color="#00ffb3" d="M106.4 82.8l.9 5.2.6-1-1-5.5z"/>
<path color="#00ff1a" d="M107.3 88l.9 5.1.6-.7-.9-5.4z"/>
<path color="#7bff00" d="M108.2 93.1l1 5 .6-.4-1-5.3z"/>
<path color="#fff700" d="M109.2 98.1l1.1 4.7.6-.1-1.1-5z"/>
<path color="#5e005b" d="M117.8 81.4l.9-3.1.5-2.8-.8 3.5z"/>
<path color="#6e0038" d="M118.7 78.3l1.6-1.1.5-3-1.6 1.3z"/>
<path color="#ff34b6" d="M120.3 77.2l1.8 4.4.6-2.8-1.9-4.6z"/>
<path color="#ff00f6" d="M122.1 81.6l1.2 5.2.5-2.4-1.1-5.6z"/>
<path color="#7b00ff" d="M123.3 86.8l1.1 5.4.5-2.1-1.1-5.7z"/>
<path color="#0019ff" d="M124.4 92.2l.9 5.5.5-1.8-.9-5.8z"/>
<path color="#00b2ff" d="M125.3 97.7l.9 5.5.5-1.5-.9-5.8z"/>
<path color="#00ffb3" d="M126.2 103.2l.9 5.4.5-1.2-.9-5.7z"/>
<path color="#00ff1a" d="M127.1 108.6l.9 5.3.5-.9-.9-5.6z"/>
<path color="#7bff00" d="M128 113.9l.9 5.2.6-.6-1-5.5z"/>
<path color="#fff700" d="M128.9 119.1l1.2 5 .5-.3-1.1-5.3z"/>
<path color="#2b005a" d="M138.6 106.5l.9-3.6.5-2.7-.9 4.1z"/>
<path color="#5e005b" d="M139.5 102.9l1.2-3.1.5-3-1.2 3.4z"/>
<path color="#6e0038" d="M140.7 99.8l1.9-1 .5-3.2-1.9 1.2z"/>
<path color="#ff33b5" d="M142.6 98.8l1.9 4.7.5-3-1.9-4.9z"/>
<path color="#ff00f6" d="M144.5 103.5l1.2 5.5.5-2.7-1.2-5.8z"/>
<path color="#7b00ff" d="M145.7 109l1 5.7.5-2.4-1-6z"/>
<path color="#0019ff" d="M146.7 114.7l.9 5.7.5-2-.9-6.1z"/>
<path color="#00b2ff" d="M147.6 120.4l.9 5.7.4-1.7-.8-6z"/>
<path color="#00ffb3" d="M148.5 126.1l.8 5.6.5-1.3-.9-6z"/>
<path color="#00ff1a" d="M149.3 131.7l.9 5.6.4-1.1-.8-5.8z"/>
<path color="#7bff00" d="M150.2 137.3l.9 5.4.5-.8-1-5.7z"/>
<path color="#fff700" d="M151.1 142.7l1.2 5.2.4-.5-1.1-5.5z"/>
<path color="#ff8200" d="M152.3 147.9l1.9 4.7.4-.3-1.9-4.9z"/>
<path color="#003d57" d="M160.7 138.7l1.1-3.9.4-2.2-1.1 4.3z"/>
<path color="#000958" d="M161.8 134.8l1.1-3.9.4-2.5-1.1 4.2z"/>
<path color="#2b005a" d="M162.9 130.9l1.2-3.7.5-2.9-1.3 4.1z"/>
<path color="#5e005b" d="M164.1 127.2l1.5-3.1.4-3.2-1.4 3.4z"/>
<path color="#6e0038" d="M165.6 124.1l2.3-.8.4-3.4-2.3 1z"/>
<path color="#ff31b3" d="M167.9 123.3l2.1 5.1.4-3.2-2.1-5.3z"/>
<path color="#ff00f6" d="M170 128.4l1.2 5.8.4-2.9-1.2-6.1z"/>
<path color="#7b00ff" d="M171.2 134.2l.9 5.9.5-2.6-1-6.2z"/>
<path color="#0019ff" d="M172.1 140.1l.9 6 .4-2.2-.8-6.4z"/>
<path color="#00b2ff" d="M173 146.1l.7 5.9.4-1.9-.7-6.2z"/>
<path color="#00ffb3" d="M173.7 152l.8 5.9.4-1.5-.8-6.3z"/>
<path color="#00ff1a" d="M174.5 157.9l.8 5.8.3-1.2-.7-6.1z"/>
<path color="#7bff00" d="M175.3 163.7l.9 5.7.3-.9-.9-6z"/>
<path color="#fff700" d="M176.2 169.4l1.2 5.5.3-.7-1.2-5.7z"/>
<path color="#ff8200" d="M177.4 174.9l2 5 .3-.5-2-5.2z"/>
<path color="#5d5a00" d="M181.8 179.7l1.6-2.6.3-1-1.6 2.8z"/>
<path color="#2b5800" d="M183.4 177.1l1.5-3.3.3-1.3-1.5 3.6z"/>
<path color="#005709" d="M184.9 173.8l1.4-3.6.3-1.7-1.4 4z"/>
<path color="#00573c" d="M186.3 170.2l1.4-3.8.3-2-1.4 4.1z"/>
<path color="#004d57" d="M187.7 166.4l.1-.2 1.1-4.6-.9 2.8z"/>
<path color="#6b004e" d="M98.8 61.8l1.4-.9.4-2.9-1.2.6-.5 2.5z"/>
<path color="#ff3ef1" d="M100.2 60.9l1.6 3.9.5-2.6-1.7-4.2z"/>
<path color="#e001ff" d="M101.8 64.8l1.2 4.7.5-2.3-1.2-5z"/>
<path color="#5e00ff" d="M103 69.5l1 4.8.5-2-1-5.1z"/>
<path color="#002bff" d="M104 74.3l1 4.8.4-1.5-.9-5.3z"/>
<path color="#00b8ff" d="M105 79.1l.9 4.9.5-1.2-1-5.2z"/>
<path color="#00ffb9" d="M105.9 84l.9 4.8.5-.8-.9-5.2z"/>
<path color="#00ff2c" d="M106.8 88.8l.9 4.7.5-.4-.9-5.1z"/>
<path color="#5dff00" d="M107.7 93.5l1 4.7.5-.1-1-5z"/>
<path color="#dfff00" d="M108.7 98.2l1.1 4.4.5.2-1.1-4.7z"/>
<path color="#53005f" d="M117.4 83.8l.9-2.7.4-2.8-.9 3.1z"/>
<path color="#6d004d" d="M118.3 81.1l1.6-.8.4-3.1-1.6 1.1z"/>
<path color="#ff3ff1" d="M119.9 80.3l1.8 4.2.4-2.9-1.8-4.4z"/>
<path color="#e000ff" d="M121.7 84.5l1.2 4.8.4-2.5-1.2-5.2z"/>
<path color="#5e00ff" d="M122.9 89.3l1 5 .5-2.1-1.1-5.4z"/>
<path color="#002bff" d="M123.9 94.3l.9 5.1.5-1.7-.9-5.5z"/>
<path color="#00b8ff" d="M124.8 99.4l.9 5.1.5-1.3-.9-5.5z"/>
<path color="#00ffb9" d="M125.7 104.5l.9 5 .5-.9-.9-5.4z"/>
<path color="#00ff2c" d="M126.6 109.5l.9 4.9.5-.5-.9-5.3z"/>
<path color="#5dff00" d="M127.5 114.4l1 4.9.4-.2-.9-5.2z"/>
<path color="#dfff00" d="M128.5 119.3l1.1 4.7.5.1-1.2-5z"/>
<path color="#21005b" d="M138.2 108.8l.9-3.3.4-2.6-.9 3.6z"/>
<path color="#53005f" d="M139.1 105.5l1.1-2.7.5-3-1.2 3.1z"/>
<path color="#6d004d" d="M140.2 102.8l2-.7.4-3.3-1.9 1z"/>
<path color="#ff3ff2" d="M142.2 102.1l1.9 4.5.4-3.1-1.9-4.7z"/>
<path color="#e000ff" d="M144.1 106.6l1.2 5.1.4-2.7-1.2-5.5z"/>
<path color="#5e00ff" d="M145.3 111.7l1 5.3.4-2.3-1-5.7z"/>
<path color="#002bff" d="M146.3 117l.9 5.3.4-1.9-.9-5.7z"/>
<path color="#00b8ff" d="M147.2 122.3l.9 5.3.4-1.5-.9-5.7z"/>
<path color="#00ffb9" d="M148.1 127.6l.8 5.2.4-1.1-.8-5.6z"/>
<path color="#00ff2c" d="M148.9 132.8l.9 5.2.4-.7-.9-5.6z"/>
<path color="#5dff00" d="M149.8 138l.9 5 .4-.3-.9-5.4z"/>
<path color="#dfff00" d="M150.7 143l1.2 5 .4-.1-1.2-5.2z"/>
<path color="#00583f" d="M159.3 143.7l1-3.5.4-1.5-1 3.8z"/>
<path color="#004058" d="M160.3 140.2l1.1-3.4.4-2-1.1 3.9z"/>
<path color="#21005b" d="M162.5 133.3l1.2-3.2.4-2.9-1.2 3.7z"/>
<path color="#53005f" d="M163.7 130.1l1.5-2.7.4-3.3-1.5 3.1z"/>
<path color="#6d004d" d="M165.2 127.4l2.3-.5.4-3.6-2.3.8z"/>
<path color="#ff3ff2" d="M167.5 126.9l2.1 4.8.4-3.3-2.1-5.1z"/>
<path color="#e000ff" d="M169.6 131.7l1.2 5.4.4-2.9-1.2-5.8z"/>
<path color="#5e00ff" d="M170.8 137.1l1 5.6.3-2.6-.9-5.9z"/>
<path color="#002bff" d="M171.8 142.7l.8 5.5.4-2.1-.9-6z"/>
<path color="#00b8ff" d="M172.6 148.2l.8 5.5.3-1.7-.7-5.9z"/>
<path color="#00ffb9" d="M173.4 153.7l.8 5.5.3-1.3-.8-5.9z"/>
<path color="#00ff2c" d="M174.2 159.2l.8 5.4.3-.9-.8-5.8z"/>
<path color="#5dff00" d="M175 164.6l1 5.3.2-.5-.9-5.7z"/>
<path color="#dfff00" d="M176 169.9l1.1 5.2.3-.2-1.2-5.5z"/>
<path color="#215900" d="M183.2 177.7l1.5-2.9.2-1-1.5 3.3z"/>
<path color="#00580f" d="M184.7 174.8l1.3-3.2.3-1.4-1.4 3.6z"/>
<path color="#00573f" d="M186 171.6l.7-1.7 1-3.3 0-.2-1.4 3.8z"/>
<path color="#540063" d="M98.1 65.5l.3-.9.4-2.8-.1.3z"/>
<path color="#6d0064" d="M98.4 64.6l1.4-.7.4-3-1.4.9z"/>
<path color="#ff23ff" d="M99.8 63.9l1.6 3.7.4-2.8-1.6-3.9z"/>
<path color="#b806ff" d="M101.4 67.6l1.2 4.2.4-2.3-1.2-4.7z"/>
<path color="#3d00ff" d="M102.6 71.8l1 4.4.4-1.9-1-4.8z"/>
<path color="#003fff" d="M103.6 76.2l.9 4.4.5-1.5-1-4.8z"/>
<path color="#00bfff" d="M104.5 80.6l.9 4.5.5-1.1-.9-4.9z"/>
<path color="#00ffbf" d="M105.4 85.1l.9 4.4.5-.7-.9-4.8z"/>
<path color="#00ff40" d="M106.3 89.5l.9 4.3.5-.3-.9-4.7z"/>
<path color="#3cff00" d="M107.2 93.8l.9 4.3.6.1-1-4.7z"/>
<path color="#b1ff00" d="M108.1 98.1l1.2 4.1.5.4-1.1-4.4z"/>
<path color="#16005d" d="M116.3 89.1l.7-2.8.4-2.5-.7 3.3z"/>
<path color="#430061" d="M117 86.3l.9-2.3.4-2.9-.9 2.7z"/>
<path color="#6d0064" d="M117.9 84l1.6-.5.4-3.2-1.6.8z"/>
<path color="#ff23ff" d="M119.5 83.5l1.8 3.9.4-2.9-1.8-4.2z"/>
<path color="#b605ff" d="M121.3 87.4l1.2 4.5.4-2.6-1.2-4.8z"/>
<path color="#3d00ff" d="M122.5 91.9l1 4.6.4-2.2-1-5z"/>
<path color="#003fff" d="M123.5 96.5l.9 4.6.4-1.7-.9-5.1z"/>
<path color="#00bfff" d="M124.4 101.1l.9 4.6.4-1.2-.9-5.1z"/>
<path color="#00ffbf" d="M125.3 105.7l.9 4.6.4-.8-.9-5z"/>
<path color="#00ff40" d="M126.2 110.3l.9 4.5.4-.4-.9-4.9z"/>
<path color="#3cff00" d="M127.1 114.8l.9 4.5.5 0-1-4.9z"/>
<path color="#b1ff00" d="M128 119.3l1.2 4.3.4.4-1.1-4.7z"/>
<path color="#00175b" d="M136.9 114l.9-3 .4-2.2-.9 3.4z"/>
<path color="#16005d" d="M137.8 111l.9-2.8.4-2.7-.9 3.3z"/>
<path color="#430061" d="M138.7 108.2l1.1-2.3.4-3.1-1.1 2.7z"/>
<path color="#6d0064" d="M139.8 105.9l2-.4.4-3.4-2 .7z"/>
<path color="#ff23ff" d="M141.8 105.5l1.9 4.2.4-3.1-1.9-4.5z"/>
<path color="#b503ff" d="M143.7 109.7l1.2 4.8.4-2.8-1.2-5.1z"/>
<path color="#3d00ff" d="M144.9 114.5l1 4.8.4-2.3-1-5.3z"/>
<path color="#003fff" d="M145.9 119.3l.9 4.8.4-1.8-.9-5.3z"/>
<path color="#00bfff" d="M146.8 124.1l.9 4.8.4-1.3-.9-5.3z"/>
<path color="#00ffbf" d="M147.7 128.9l.8 4.8.4-.9-.8-5.2z"/>
<path color="#00ff40" d="M148.5 133.7l.9 4.8.4-.5-.9-5.2z"/>
<path color="#3cff00" d="M149.4 138.5l1 4.7.3-.2-.9-5z"/>
<path color="#b1ff00" d="M150.4 143.2l1.2 4.5.3.3-1.2-5z"/>
<path color="#004359" d="M160 141.7l1-3 .4-1.9-1.1 3.4z"/>
<path color="#00175b" d="M161 138.7l1.1-3 .4-2.4-1.1 3.5z"/>
<path color="#16005d" d="M162.1 135.7l1.2-2.7.4-2.9-1.2 3.2z"/>
<path color="#430061" d="M163.3 133l1.5-2.3.4-3.3-1.5 2.7z"/>
<path color="#6d0064" d="M164.8 130.7l2.2-.1.5-3.7-2.3.5z"/>
<path color="#ff23ff" d="M167 130.6l2.2 4.5.4-3.4-2.1-4.8z"/>
<path color="#b402ff" d="M169.2 135.1l1.2 5 .4-3-1.2-5.4z"/>
<path color="#3d00ff" d="M170.4 140.1l1 5.1.4-2.5-1-5.6z"/>
<path color="#003fff" d="M171.4 145.2l.9 5.1.3-2.1-.8-5.5z"/>
<path color="#00bfff" d="M172.3 150.3l.8 5 .3-1.6-.8-5.5z"/>
<path color="#00ffbf" d="M173.1 155.3l.8 5 .3-1.1-.8-5.5z"/>
<path color="#00ff40" d="M173.9 160.3l.9 5 .2-.7-.8-5.4z"/>
<path color="#3cff00" d="M174.8 165.3l.9 4.9.3-.3-1-5.3z"/>
<path color="#b1ff00" d="M175.7 170.2l1.2 4.8.2.1-1.1-5.2z"/>
<path color="#625a00" d="M179 179.6l2.4.3.2 0-2.4 0z"/>
<path color="#165b00" d="M183 178l1.5-2.4.2-.8-1.5 2.9z"/>
<path color="#005916" d="M184.5 175.6l1.3-2.8.2-1.2-1.3 3.2z"/>
<path color="#005932" d="M185.8 172.8l0-.1.9-2.8-.7 1.7z"/>
<path color="#390064" d="M97.4 68.9l.6-1.5.4-2.8-.3.9z"/>
<path color="#5b006d" d="M98 67.4l1.4-.3.4-3.2-1.4.7z"/>
<path color="#e510ff" d="M99.4 67.1l1.7 3.4.3-2.9-1.6-3.7z"/>
<path color="#9718ff" d="M101.1 70.5l1.1 3.8.4-2.5-1.2-4.2z"/>
<path color="#1800ff" d="M102.2 74.3l1 3.9.4-2-1-4.4z"/>
<path color="#0056ff" d="M103.2 78.2l.9 4 .4-1.6-.9-4.4z"/>
<path color="#00c6ff" d="M104.1 82.2l.8 3.9.5-1-.9-4.5z"/>
<path color="#00ffc7" d="M104.9 86.1l.9 4 .5-.6-.9-4.4z"/>
<path color="#00ff56" d="M105.8 90.1l.9 3.9.5-.2-.9-4.3z"/>
<path color="#17ff00" d="M106.7 94l.9 3.8.5.3-.9-4.3z"/>
<path color="#7fff00" d="M107.6 97.8l1.1 3.7.6.7-1.2-4.1z"/>
<path color="#09005f" d="M115.8 91.2l.8-2.3.4-2.6-.7 2.8z"/>
<path color="#310062" d="M116.6 88.9l.9-1.9.4-3-.9 2.3z"/>
<path color="#5b006d" d="M117.5 87l1.6-.2.4-3.3-1.6.5z"/>
<path color="#e510ff" d="M119.1 86.8l1.8 3.7.4-3.1-1.8-3.9z"/>
<path color="#9415ff" d="M120.9 90.5l1.2 4 .4-2.6-1.2-4.5z"/>
<path color="#1800ff" d="M122.1 94.5l1 4.1.4-2.1-1-4.6z"/>
<path color="#0056ff" d="M123.1 98.6l.9 4.2.4-1.7-.9-4.6z"/>
<path color="#00c6ff" d="M124 102.8l.9 4.1.4-1.2-.9-4.6z"/>
<path color="#00ffc7" d="M124.9 106.9l.8 4.1.5-.7-.9-4.6z"/>
<path color="#00ff56" d="M125.7 111l.9 4.1.5-.3-.9-4.5z"/>
<path color="#17ff00" d="M126.6 115.1l1 4 .4.2-.9-4.5z"/>
<path color="#7fff00" d="M127.6 119.1l1.1 4 .5.5-1.2-4.3z"/>
<path color="#00475b" d="M135.7 118.3l.8-2.6.4-1.7-.8 3z"/>
<path color="#001f5d" d="M136.5 115.7l.9-2.4.4-2.3-.9 3z"/>
<path color="#09005f" d="M137.4 113.3l.9-2.3.4-2.8-.9 2.8z"/>
<path color="#310062" d="M138.3 111l1.2-1.9.3-3.2-1.1 2.3z"/>
<path color="#5b006d" d="M139.5 109.1l1.9 0 .4-3.6-2 .4z"/>
<path color="#e510ff" d="M141.4 109.1l1.9 3.9.4-3.3-1.9-4.2z"/>
<path color="#9112ff" d="M143.3 113l1.2 4.3.4-2.8-1.2-4.8z"/>
<path color="#1800ff" d="M144.5 117.3l1 4.3.4-2.3-1-4.8z"/>
<path color="#0056ff" d="M145.5 121.6l.9 4.4.4-1.9-.9-4.8z"/>
<path color="#00c6ff" d="M146.4 126l.9 4.3.4-1.4-.9-4.8z"/>
<path color="#00ffc7" d="M147.3 130.3l.9 4.3.3-.9-.8-4.8z"/>
<path color="#00ff56" d="M148.2 134.6l.9 4.3.3-.4-.9-4.8z"/>
<path color="#17ff00" d="M149.1 138.9l.9 4.2.4.1-1-4.7z"/>
<path color="#7fff00" d="M150 143.1l1.2 4.2.4.4-1.2-4.5z"/>
<path color="#005b47" d="M158.6 145.6l1-2.4.4-1.5-1 3z"/>
<path color="#00475b" d="M159.6 143.2l1.1-2.5.3-2-1 3z"/>
<path color="#001f5d" d="M160.7 140.7l1-2.5.4-2.5-1.1 3z"/>
<path color="#09005f" d="M161.7 138.2l1.2-2.2.4-3-1.2 2.7z"/>
<path color="#310062" d="M162.9 136l1.5-1.8.4-3.5-1.5 2.3z"/>
<path color="#5b006d" d="M164.4 134.2l2.2.2.4-3.8-2.2.1z"/>
<path color="#e510ff" d="M166.6 134.4l2.2 4.3.4-3.6-2.2-4.5z"/>
<path color="#8e0fff" d="M168.8 138.7l1.2 4.5.4-3.1-1.2-5z"/>
<path color="#1800ff" d="M170 143.2l1 4.5.4-2.5-1-5.1z"/>
<path color="#0056ff" d="M171 147.7l.9 4.6.4-2-.9-5.1z"/>
<path color="#00c6ff" d="M171.9 152.3l.9 4.6.3-1.6-.8-5z"/>
<path color="#00ffc7" d="M172.8 156.9l.8 4.5.3-1.1-.8-5z"/>
<path color="#00ff56" d="M173.6 161.4l.9 4.5.3-.6-.9-5z"/>
<path color="#17ff00" d="M174.5 165.9l1 4.4.2-.1-.9-4.9z"/>
<path color="#455200" d="M178.9 179.1l2.4.5.1.3-2.4-.3z"/>
<path color="#58b000" d="M181.3 179.6l1.6-1.4.1-.2-1.6 1.9z"/>
<path color="#005b1f" d="M184.3 176.2l.7-1.2.8-2.1 0-.1-1.3 2.8z"/>
<path color="#1a0064" d="M96.9 71.9l.8-1.4.3-3.1-.6 1.5-.3 1.8z"/>
<path color="#3f006e" d="M97.7 70.5l1.4-.1.3-3.3-1.4.3z"/>
<path color="#9506ff" d="M99.1 70.4l1.6 3.2.4-3.1-1.7-3.4z"/>
<path color="#7e36ff" d="M100.7 73.6l1.1 3.3.4-2.6-1.1-3.8z"/>
<path color="#0313ff" d="M101.8 76.9l.9 3.4.5-2.1-1-3.9z"/>
<path color="#006eff" d="M102.7 80.3l.9 3.5.5-1.6-.9-4z"/>
<path color="#00ceff" d="M103.6 83.8l.9 3.4.4-1.1-.8-3.9z"/>
<path color="#00ffcf" d="M104.5 87.2l.8 3.4.5-.5-.9-4z"/>
<path color="#00ff6f" d="M105.3 90.6l.9 3.4.5 0-.9-3.9z"/>
<path color="#0f1" d="M106.2 94l.9 3.4.5.4-.9-3.8z"/>
<path color="#47fd00" d="M107.1 97.4l1.1 3.3.5.8-1.1-3.7z"/>
<path color="#00295f" d="M114.8 95.4l.6-1.9.4-2.3-.6 2.5z"/>
<path color="#000661" d="M115.4 93.5l.8-1.8.4-2.8-.8 2.3z"/>
<path color="#1c0065" d="M116.2 91.7l.9-1.4.4-3.3-.9 1.9z"/>
<path color="#3f006e" d="M117.1 90.3l1.7.1.3-3.6-1.6.2z"/>
<path color="#9506ff" d="M118.8 90.4l1.8 3.4.3-3.3-1.8-3.7z"/>
<path color="#7b33ff" d="M120.6 93.8l1.1 3.5.4-2.8-1.2-4z"/>
<path color="#0213ff" d="M121.7 97.3l1 3.6.4-2.3-1-4.1z"/>
<path color="#006eff" d="M122.7 100.9l.9 3.6.4-1.7-.9-4.2z"/>
<path color="#00ceff" d="M123.6 104.5l.8 3.6.5-1.2-.9-4.1z"/>
<path color="#00ffcf" d="M124.4 108.1l.9 3.6.4-.7-.8-4.1z"/>
<path color="#00ff6f" d="M125.3 111.7l.9 3.6.4-.2-.9-4.1z"/>
<path color="#0f1" d="M126.2 115.3l.9 3.5.5.3-1-4z"/>
<path color="#47fd00" d="M127.1 118.8l1.2 3.5.4.8-1.1-4z"/>
<path color="#00cba4" d="M134.5 121.5l.8-2 .4-1.2-.7 2.4z"/>
<path color="#004c5e" d="M135.3 119.5l.8-1.9.4-1.9-.8 2.6z"/>
<path color="#00295f" d="M136.1 117.6l.9-1.9.4-2.4-.9 2.4z"/>
<path color="#000661" d="M137 115.7l.9-1.8.4-2.9-.9 2.3z"/>
<path color="#1c0065" d="M137.9 113.9l1.2-1.3.4-3.5-1.2 1.9z"/>
<path color="#3f006e" d="M139.1 112.6l1.9.3.4-3.8-1.9 0z"/>
<path color="#9507ff" d="M141 112.9l1.9 3.6.4-3.5-1.9-3.9z"/>
<path color="#7830ff" d="M142.9 116.5l1.2 3.8.4-3-1.2-4.3z"/>
<path color="#0112ff" d="M144.1 120.3l1 3.8.4-2.5-1-4.3z"/>
<path color="#006eff" d="M145.1 124.1l1 3.8.3-1.9-.9-4.4z"/>
<path color="#00ceff" d="M146.1 127.9l.8 3.8.4-1.4-.9-4.3z"/>
<path color="#00ffcf" d="M146.9 131.7l.9 3.8.4-.9-.9-4.3z"/>
<path color="#00ff6f" d="M147.8 135.5l.9 3.7.4-.3-.9-4.3z"/>
<path color="#0f1" d="M148.7 139.2l1 3.8.3.1-.9-4.2z"/>
<path color="#47fd00" d="M149.7 143l1.2 3.7.3.6-1.2-4.2z"/>
<path color="#005e4c" d="M158.3 146.5l1-1.9.3-1.4-1 2.4z"/>
<path color="#004c5e" d="M159.3 144.6l1-1.9.4-2-1.1 2.5z"/>
<path color="#00295f" d="M160.3 142.7l1.1-1.9.3-2.6-1 2.5z"/>
<path color="#000661" d="M161.4 140.8l1.1-1.6.4-3.2-1.2 2.2z"/>
<path color="#1c0065" d="M162.5 139.2l1.5-1.3.4-3.7-1.5 1.8z"/>
<path color="#3f006e" d="M164 137.9l2.2.5.4-4-2.2-.2z"/>
<path color="#9607ff" d="M166.2 138.4l2.2 4 .4-3.7-2.2-4.3z"/>
<path color="#742cff" d="M168.4 142.4l1.2 4 .4-3.2-1.2-4.5z"/>
<path color="#0111ff" d="M169.6 146.4l1.1 4 .3-2.7-1-4.5z"/>
<path color="#006eff" d="M170.7 150.4l.9 4 .3-2.1-.9-4.6z"/>
<path color="#00ceff" d="M171.6 154.4l.9 4 .3-1.5-.9-4.6z"/>
<path color="#00ffcf" d="M172.5 158.4l.9 4 .2-1-.8-4.5z"/>
<path color="#00ff6f" d="M173.4 162.4l.9 4 .2-.5-.9-4.5z"/>
<path color="#0f1" d="M174.3 166.4l1 3.9.2 0-1-4.4z"/>
<path color="#47fd00" d="M175.3 170.3l1.3 4 .1.4-1.2-4.4z"/>
<path color="#284500" d="M178.7 178.3l2.4.9.2.4-2.4-.5z"/>
<path color="#2c9b00" d="M181.1 179.2l1.6-1 .2 0-1.6 1.4z"/>
<path color="#006006" d="M182.7 178.2l1.4-1.4.2-.6-1.4 2z"/>
<path color="#005f1d" d="M184.1 176.8l.1-.2.8-1.6-.7 1.2z"/>
<path color="#050067" d="M96.5 74.7l.8-1 .4-3.2-.8 1.4z"/>
<path color="#1f006f" d="M97.3 73.7l1.4.4.4-3.7-1.4.1z"/>
<path color="#4102df" d="M98.7 74.1l1.6 2.8.4-3.3-1.6-3.2z"/>
<path color="#4b3fff" d="M100.3 76.9l1.1 2.8.4-2.8-1.1-3.3z"/>
<path color="#0f4cff" d="M101.4 79.7l.9 2.9.4-2.3-.9-3.4z"/>
<path color="#0089ff" d="M102.3 82.6l.8 2.9.5-1.7-.9-3.5z"/>
<path color="#00d7ff" d="M103.1 85.5l.9 2.9.5-1.2-.9-3.4z"/>
<path color="#00ffd8" d="M104 88.4l.8 2.8.5-.6-.8-3.4z"/>
<path color="#00ff89" d="M104.8 91.2l.8 2.9.6-.1-.9-3.4z"/>
<path color="#00ff3c" d="M105.6 94.1l.9 2.9.6.4-.9-3.4z"/>
<path color="#0cfa00" d="M106.5 97l1.1 2.8.6.9-1.1-3.3z"/>
<path color="#005362" d="M113.7 98.6l.6-1.4.5-1.8-.6 2z"/>
<path color="#003563" d="M114.3 97.2l.7-1.4.4-2.3-.6 1.9z"/>
<path color="#001864" d="M115 95.8l.8-1.2.4-2.9-.8 1.8z"/>
<path color="#050067" d="M115.8 94.6l.9-.9.4-3.4-.9 1.4z"/>
<path color="#1f006f" d="M116.7 93.7l1.7.5.4-3.8-1.7-.1z"/>
<path color="#4102df" d="M118.4 94.2l1.8 3 .4-3.4-1.8-3.4z"/>
<path color="#4b3fff" d="M120.2 97.2l1.1 3.1.4-3-1.1-3.5z"/>
<path color="#0d49ff" d="M121.3 100.3l.9 3 .5-2.4-1-3.6z"/>
<path color="#0089ff" d="M122.2 103.3l.9 3.1.5-1.9-.9-3.6z"/>
<path color="#00d7ff" d="M123.1 106.4l.9 3 .4-1.3-.8-3.6z"/>
<path color="#00ffd8" d="M124 109.4l.8 3 .5-.7-.9-3.6z"/>
<path color="#00ff89" d="M124.8 112.4l.9 3.1.5-.2-.9-3.6z"/>
<path color="#00ff3c" d="M125.7 115.5l.9 3 .5.3-.9-3.5z"/>
<path color="#0cfa00" d="M126.6 118.5l1.2 3 .5.8-1.2-3.5z"/>
<path color="#005362" d="M134.9 120.9l.8-1.4.4-1.9-.8 1.9z"/>
<path color="#003563" d="M135.7 119.5l.8-1.3.5-2.5-.9 1.9z"/>
<path color="#001864" d="M136.5 118.2l1-1.1.4-3.2-.9 1.8z"/>
<path color="#050067" d="M137.5 117.1l1.2-.8.4-3.7-1.2 1.3z"/>
<path color="#1f006f" d="M138.7 116.3l1.9.6.4-4-1.9-.3z"/>
<path color="#4103df" d="M140.6 116.9l1.9 3.4.4-3.8-1.9-3.6z"/>
<path color="#4a3eff" d="M142.5 120.3l1.2 3.2.4-3.2-1.2-3.8z"/>
<path color="#0b47ff" d="M143.7 123.5l1 3.2.4-2.6-1-3.8z"/>
<path color="#0089ff" d="M144.7 126.7l.9 3.2.5-2-1-3.8z"/>
<path color="#00d7ff" d="M145.6 129.9l.9 3.2.4-1.4-.8-3.8z"/>
<path color="#00ffd8" d="M146.5 133.1l.9 3.2.4-.8-.9-3.8z"/>
<path color="#00ff89" d="M147.4 136.3l.9 3.2.4-.3-.9-3.7z"/>
<path color="#00ff3c" d="M148.3 139.5l1 3.2.4.3-1-3.8z"/>
<path color="#0cfa00" d="M149.3 142.7l1.2 3.3.4.7-1.2-3.7z"/>
<path color="#005362" d="M158.9 146.2l1-1.3.4-2.2-1 1.9z"/>
<path color="#003563" d="M159.9 144.9l1.1-1.3.4-2.8-1.1 1.9z"/>
<path color="#001864" d="M161 143.6l1.1-1.1.4-3.3-1.1 1.6z"/>
<path color="#050067" d="M162.1 142.5l1.4-.6.5-4-1.5 1.3z"/>
<path color="#1f006f" d="M163.5 141.9l2.3.9.4-4.4-2.2-.5z"/>
<path color="#4103e0" d="M165.8 142.8l2.1 3.6.5-4-2.2-4z"/>
<path color="#493dff" d="M167.9 146.4l1.3 3.5.4-3.5-1.2-4z"/>
<path color="#0845ff" d="M169.2 149.9l1.1 3.4.4-2.9-1.1-4z"/>
<path color="#0089ff" d="M170.3 153.3l.9 3.4.4-2.3-.9-4z"/>
<path color="#00d7ff" d="M171.2 156.7l1 3.4.3-1.7-.9-4z"/>
<path color="#00ffd8" d="M172.2 160.1l.9 3.4.3-1.1-.9-4z"/>
<path color="#00ff89" d="M173.1 163.5l.9 3.4.3-.5-.9-4z"/>
<path color="#00ff3c" d="M174 166.9l1.1 3.4.2 0-1-3.9z"/>
<path color="#0cfa00" d="M175.1 170.3l1.3 3.4.2.6-1.3-4z"/>
<path color="#113d00" d="M178.6 177.5l2.3 1.2.2.5-2.4-.9z"/>
<path color="#078900" d="M180.9 178.7l1.6-.5.2 0-1.6 1z"/>
<path color="#002d69" d="M95.4 78l.7-.7.4-2.6-.4.7-.6 2.3z"/>
<path color="#00146b" d="M96.1 77.3l.8-.5.4-3.1-.8 1z"/>
<path color="#000171" d="M96.9 76.8l1.5.7.3-3.4-1.4-.4z"/>
<path color="#0102ca" d="M98.4 77.5l1.6 2.5.3-3.1-1.6-2.8z"/>
<path color="#2e5eff" d="M100 80l1 2.4.4-2.7-1.1-2.8z"/>
<path color="#2c94ff" d="M101 82.4l.9 2.4.4-2.2-.9-2.9z"/>
<path color="#03a7ff" d="M101.9 84.8l.8 2.3.4-1.6-.8-2.9z"/>
<path color="#00e0ff" d="M102.7 87.1l.8 2.4.5-1.1-.9-2.9z"/>
<path color="#00ffe1" d="M103.5 89.5l.8 2.3.5-.6-.8-2.8z"/>
<path color="#00ffa4" d="M104.3 91.8l.8 2.4.5-.1-.8-2.9z"/>
<path color="#00ff69" d="M105.1 94.2l.9 2.4.5.4-.9-2.9z"/>
<path color="#00fa2f" d="M106 96.6l1 2.4.6.8-1.1-2.8z"/>
<path color="#005b68" d="M113.2 99.8l.7-.9.4-1.7-.6 1.4z"/>
<path color="#004368" d="M113.9 98.9l.7-.8.4-2.3-.7 1.4z"/>
<path color="#002b69" d="M114.6 98.1l.8-.7.4-2.8-.8 1.2z"/>
<path color="#00146b" d="M115.4 97.4l1-.4.3-3.3-.9.9z"/>
<path color="#000171" d="M116.4 97l1.6.8.4-3.6-1.7-.5z"/>
<path color="#0102cb" d="M118 97.8l1.8 2.8.4-3.4-1.8-3z"/>
<path color="#2e5eff" d="M119.8 100.6l1.1 2.5.4-2.8-1.1-3.1z"/>
<path color="#2992ff" d="M120.9 103.1l.9 2.6.4-2.4-.9-3z"/>
<path color="#03a6ff" d="M121.8 105.7l.9 2.5.4-1.8-.9-3.1z"/>
<path color="#00e0ff" d="M122.7 108.2l.8 2.5.5-1.3-.9-3z"/>
<path color="#00ffe1" d="M123.5 110.7l.9 2.4.4-.7-.8-3z"/>
<path color="#00ffa4" d="M124.4 113.1l.8 2.5.5-.1-.9-3.1z"/>
<path color="#00ff69" d="M125.2 115.6l1 2.6.4.3-.9-3z"/>
<path color="#00fa2f" d="M126.2 118.2l1.1 2.6.5.7-1.2-3z"/>
<path color="#005b68" d="M134.5 122.2l.8-.8.4-1.9-.8 1.4z"/>
<path color="#004368" d="M135.3 121.4l.8-.7.4-2.5-.8 1.3z"/>
<path color="#002b69" d="M136.1 120.7l1-.6.4-3-1 1.1z"/>
<path color="#00146b" d="M137.1 120.1l1.2-.3.4-3.5-1.2.8z"/>
<path color="#000171" d="M138.3 119.8l1.9 1 .4-3.9-1.9-.6z"/>
<path color="#0103cb" d="M140.2 120.8l1.9 3 .4-3.5-1.9-3.4z"/>
<path color="#2e5eff" d="M142.1 123.8l1.2 2.8.4-3.1-1.2-3.2z"/>
<path color="#278fff" d="M143.3 126.6l1 2.6.4-2.5-1-3.2z"/>
<path color="#02a5ff" d="M144.3 129.2l1 2.7.3-2-.9-3.2z"/>
<path color="#00e0ff" d="M145.3 131.9l.8 2.6.4-1.4-.9-3.2z"/>
<path color="#00ffe1" d="M146.1 134.5l.9 2.7.4-.9-.9-3.2z"/>
<path color="#00ffa4" d="M147 137.2l.9 2.6.4-.3-.9-3.2z"/>
<path color="#00ff69" d="M147.9 139.8l1 2.7.4.2-1-3.2z"/>
<path color="#00fa2f" d="M148.9 142.5l1.3 2.8.3.7-1.2-3.3z"/>
<path color="#006944" d="M156.6 149.1l1-.7.3-.9-1 1.2z"/>
<path color="#00685c" d="M157.6 148.4l1-.7.3-1.5-1 1.3z"/>
<path color="#005b68" d="M158.6 147.7l.9-.8.4-2-1 1.3z"/>
<path color="#004368" d="M159.5 146.9l1.1-.6.4-2.7-1.1 1.3z"/>
<path color="#002b69" d="M160.6 146.3l1.1-.5.4-3.3-1.1 1.1z"/>
<path color="#00146b" d="M161.7 145.8l1.4-.2.4-3.7-1.4.6z"/>
<path color="#000171" d="M163.1 145.6l2.2 1.3.5-4.1-2.3-.9z"/>
<path color="#0103cb" d="M165.3 146.9l2.2 3.3.4-3.8-2.1-3.6z"/>
<path color="#2e5eff" d="M167.5 150.2l1.3 3 .4-3.3-1.3-3.5z"/>
<path color="#238cff" d="M168.8 153.2l1.1 2.8.4-2.7-1.1-3.4z"/>
<path color="#01a5ff" d="M169.9 156l1 2.9.3-2.2-.9-3.4z"/>
<path color="#00e0ff" d="M170.9 158.9l.9 2.8.4-1.6-1-3.4z"/>
<path color="#00ffe1" d="M171.8 161.7l1 2.8.3-1-.9-3.4z"/>
<path color="#00ffa4" d="M172.8 164.5l1 2.9.2-.5-.9-3.4z"/>
<path color="#00ff69" d="M173.8 167.4l1 2.9.3 0-1.1-3.4z"/>
<path color="#00fa2f" d="M174.8 170.3l1.4 3 .2.4-1.3-3.4z"/>
<path color="#004b6e" d="M94.7 80.2l.3-.2.4-2 0 .1z"/>
<path color="#003f6e" d="M95 80l.7-.3.4-2.4-.7.7z"/>
<path color="#002e70" d="M95.7 79.7l.9 0 .3-2.9-.8.5z"/>
<path color="#002074" d="M96.6 79.7l1.4.9.4-3.1-1.5-.7z"/>
<path color="#0135c1" d="M98 80.6l1.6 2.3.4-2.9-1.6-2.5z"/>
<path color="#1f87ff" d="M99.6 82.9l1 2 .4-2.5-1-2.4z"/>
<path color="#40d1ff" d="M100.6 84.9l.9 1.9.4-2-.9-2.4z"/>
<path color="#0fcbff" d="M101.5 86.8l.8 1.9.4-1.6-.8-2.3z"/>
<path color="#00e9ff" d="M102.3 88.7l.7 1.8.5-1-.8-2.4z"/>
<path color="#00ffe9" d="M103 90.5l.8 1.9.5-.6-.8-2.3z"/>
<path color="#00ffbc" d="M103.8 92.4l.8 1.9.5-.1-.8-2.4z"/>
<path color="#00ff91" d="M104.6 94.3l.8 2 .6.3-.9-2.4z"/>
<path color="#00fc67" d="M105.4 96.3l1.1 2 .5.7-1-2.4z"/>
<path color="#003d11" d="M106.5 98.3l1.6 2.3.5 1-1.6-2.6z"/>
<path color="#007167" d="M112.1 101.3l.7-.4.4-1.1-.6.8z"/>
<path color="#00666f" d="M112.8 100.9l.7-.4.4-1.6-.7.9z"/>
<path color="#00526e" d="M113.5 100.5l.7-.3.4-2.1-.7.8z"/>
<path color="#003f6e" d="M114.2 100.2l.8-.2.4-2.6-.8.7z"/>
<path color="#002e70" d="M115 100l1 .1.4-3.1-1 .4z"/>
<path color="#002074" d="M116 100.1l1.7 1.1.3-3.4-1.6-.8z"/>
<path color="#0135c1" d="M117.7 101.2l1.7 2.4.4-3-1.8-2.8z"/>
<path color="#2088ff" d="M119.4 103.6l1.1 2.2.4-2.7-1.1-2.5z"/>
<path color="#40d1ff" d="M120.5 105.8l.9 2 .4-2.1-.9-2.6z"/>
<path color="#0ecaff" d="M121.4 107.8l.9 2.1.4-1.7-.9-2.5z"/>
<path color="#00e9ff" d="M122.3 109.9l.8 2 .4-1.2-.8-2.5z"/>
<path color="#00ffe9" d="M123.1 111.9l.8 2 .5-.8-.9-2.4z"/>
<path color="#00ffbc" d="M123.9 113.9l.9 2 .4-.3-.8-2.5z"/>
<path color="#00ff91" d="M124.8 115.9l.9 2.1.5.2-1-2.6z"/>
<path color="#00fc67" d="M125.7 118l1.1 2.1.5.7-1.1-2.6z"/>
<path color="#008461" d="M132.4 124.1l.9-.3.4-.8-.9.8z"/>
<path color="#007167" d="M133.3 123.8l.8-.3.4-1.3-.8.8z"/>
<path color="#00666f" d="M134.1 123.5l.8-.3.4-1.8-.8.8z"/>
<path color="#00526e" d="M134.9 123.2l.9-.2.3-2.3-.8.7z"/>
<path color="#003f6e" d="M135.8 123l.9-.2.4-2.7-1 .6z"/>
<path color="#002e70" d="M136.7 122.8l1.2.2.4-3.2-1.2.3z"/>
<path color="#002074" d="M137.9 123l1.9 1.4.4-3.6-1.9-1z"/>
<path color="#0136c1" d="M139.8 124.4l1.9 2.7.4-3.3-1.9-3z"/>
<path color="#2088ff" d="M141.7 127.1l1.2 2.3.4-2.8-1.2-2.8z"/>
<path color="#40d1ff" d="M142.9 129.4l1.1 2.2.3-2.4-1-2.6z"/>
<path color="#0cc8ff" d="M144 131.6l.9 2.2.4-1.9-1-2.7z"/>
<path color="#00e9ff" d="M144.9 133.8l.9 2.1.3-1.4-.8-2.6z"/>
<path color="#00ffe9" d="M145.8 135.9l.8 2.2.4-.9-.9-2.7z"/>
<path color="#00ffbc" d="M146.6 138.1l1 2.1.3-.4-.9-2.6z"/>
<path color="#00ff91" d="M147.6 140.2l1 2.3.3 0-1-2.7z"/>
<path color="#00fc67" d="M148.6 142.5l1.2 2.3.4.5-1.3-2.8z"/>
<path color="#008461" d="M156.2 149.5l1-.1.4-1-1 .7z"/>
<path color="#007167" d="M157.2 149.4l1-.3.4-1.4-1 .7z"/>
<path color="#00666f" d="M158.2 149.1l1-.2.3-2-.9.8z"/>
<path color="#00526e" d="M159.2 148.9l1-.1.4-2.5-1.1.6z"/>
<path color="#003f6e" d="M160.2 148.8l1.2 0 .3-3-1.1.5z"/>
<path color="#002e70" d="M161.4 148.8l1.3.3.4-3.5-1.4.2z"/>
<path color="#002074" d="M162.7 149.1l2.2 1.6.4-3.8-2.2-1.3z"/>
<path color="#0136c1" d="M164.9 150.7l2.2 3 .4-3.5-2.2-3.3z"/>
<path color="#2088ff" d="M167.1 153.7l1.4 2.5.3-3-1.3-3z"/>
<path color="#3fd0ff" d="M168.5 156.2l1.1 2.4.3-2.6-1.1-2.8z"/>
<path color="#0bc7ff" d="M169.6 158.6l1 2.4.3-2.1-1-2.9z"/>
<path color="#00e9ff" d="M170.6 161l.9 2.3.3-1.6-.9-2.8z"/>
<path color="#00ffe9" d="M171.5 163.3l1 2.3.3-1.1-1-2.8z"/>
<path color="#00ffbc" d="M172.5 165.6l1 2.3.3-.5-1-2.9z"/>
<path color="#00ff91" d="M173.5 167.9l1.1 2.4.2 0-1-2.9z"/>
<path color="#00fc67" d="M174.6 170.3l1.4 2.6.2.4-1.4-3z"/>
<path color="#00637b" d="M94 81.8l.6 0 .4-1.8-.3.2z"/>
<path color="#005476" d="M94.6 81.8l.7.2.4-2.3-.7.3z"/>
<path color="#004776" d="M95.3 82l.9.3.4-2.6-.9 0z"/>
<path color="#004282" d="M96.2 82.3l1.5 1.2.3-2.9-1.4-.9z"/>
<path color="#0163c1" d="M97.7 83.5l1.5 2 .4-2.6-1.6-2.3z"/>
<path color="#14adff" d="M99.2 85.5l1 1.7.4-2.3-1-2z"/>
<path color="#38edff" d="M100.2 87.2l.8 1.5.5-1.9-.9-1.9z"/>
<path color="#1ff1ff" d="M101 88.7l.8 1.5.5-1.5-.8-1.9z"/>
<path color="#03f3ff" d="M101.8 90.2l.8 1.4.4-1.1-.7-1.8z"/>
<path color="#00fff0" d="M102.6 91.6l.7 1.5.5-.7-.8-1.9z"/>
<path color="#00ffd2" d="M103.3 93.1l.8 1.5.5-.3-.8-1.9z"/>
<path color="#00ffb5" d="M104.1 94.6l.8 1.5.5.2-.8-2z"/>
<path color="#00ff9a" d="M104.9 96.1l1 1.7.6.5-1.1-2z"/>
<path color="#009a91" d="M111.6 102l.7 0 .5-1.1-.7.4z"/>
<path color="#008088" d="M112.3 102l.7.1.5-1.6-.7.4z"/>
<path color="#00667c" d="M113 102.1l.8.1.4-2-.7.3z"/>
<path color="#005476" d="M113.8 102.2l.8.2.4-2.4-.8.2z"/>
<path color="#004776" d="M114.6 102.4l1 .5.4-2.8-1-.1z"/>
<path color="#004282" d="M115.6 102.9l1.7 1.4.4-3.1-1.7-1.1z"/>
<path color="#0163c1" d="M117.3 104.3l1.7 2.2.4-2.9-1.7-2.4z"/>
<path color="#15afff" d="M119 106.5l1.1 1.8.4-2.5-1.1-2.2z"/>
<path color="#3aefff" d="M120.1 108.3l.9 1.6.4-2.1-.9-2z"/>
<path color="#1ff1ff" d="M121 109.9l.9 1.6.4-1.6-.9-2.1z"/>
<path color="#03f3ff" d="M121.9 111.5l.8 1.6.4-1.2-.8-2z"/>
<path color="#00fff0" d="M122.7 113.1l.8 1.6.4-.8-.8-2z"/>
<path color="#00ffd2" d="M123.5 114.7l.8 1.6.5-.4-.9-2z"/>
<path color="#00ffb5" d="M124.3 116.3l.9 1.6.5.1-.9-2.1z"/>
<path color="#00ff9a" d="M125.2 117.9l1.2 1.9.4.3-1.1-2.1z"/>
<path color="#00ea78" d="M126.4 119.8l1.8 2.3.4.6-1.8-2.6z"/>
<path color="#00c28a" d="M131.1 124.2l.9.3.4-.4-.9.1z"/>
<path color="#00b192" d="M132 124.5l.8.2.5-.9-.9.3z"/>
<path color="#009a91" d="M132.8 124.7l.9.1.4-1.3-.8.3z"/>
<path color="#008088" d="M133.7 124.8l.8.2.4-1.8-.8.3z"/>
<path color="#00667c" d="M134.5 125l.9.1.4-2.1-.9.2z"/>
<path color="#005476" d="M135.4 125.1l.9.4.4-2.7-.9.2z"/>
<path color="#004776" d="M136.3 125.5l1.2.5.4-3-1.2-.2z"/>
<path color="#004282" d="M137.5 126l1.9 1.6.4-3.2-1.9-1.4z"/>
<path color="#0163c1" d="M139.4 127.6l1.9 2.5.4-3-1.9-2.7z"/>
<path color="#17b0ff" d="M141.3 130.1l1.3 2 .3-2.7-1.2-2.3z"/>
<path color="#3df2ff" d="M142.6 132.1l1 1.8.4-2.3-1.1-2.2z"/>
<path color="#1ff1ff" d="M143.6 133.9l.9 1.7.4-1.8-.9-2.2z"/>
<path color="#02f2ff" d="M144.5 135.6l.9 1.7.4-1.4-.9-2.1z"/>
<path color="#00fff0" d="M145.4 137.3l.9 1.7.3-.9-.8-2.2z"/>
<path color="#00ffd2" d="M146.3 139l.9 1.7.4-.5-1-2.1z"/>
<path color="#00ffb5" d="M147.2 140.7l1 1.9.4-.1-1-2.3z"/>
<path color="#00ff9a" d="M148.2 142.6l1.3 2 .3.2-1.2-2.3z"/>
<path color="#00ea78" d="M149.5 144.6l2 2.6.3.5-2-2.9z"/>
<path color="#00c28a" d="M154.8 149.7l1.1.4.3-.6-1 0z"/>
<path color="#00b192" d="M155.9 150.1l1 .3.3-1-1 .1z"/>
<path color="#009a91" d="M156.9 150.4l1 .2.3-1.5-1 .3z"/>
<path color="#008088" d="M157.9 150.6l.9.3.4-2-1 .2z"/>
<path color="#00667c" d="M158.8 150.9l1.1.3.3-2.4-1 .1z"/>
<path color="#005476" d="M159.9 151.2l1.1.4.4-2.8-1.2 0z"/>
<path color="#004776" d="M161 151.6l1.3.7.4-3.2-1.3-.3z"/>
<path color="#004282" d="M162.3 152.3l2.2 1.9.4-3.5-2.2-1.6z"/>
<path color="#0164c1" d="M164.5 154.2l2.2 2.8.4-3.3-2.2-3z"/>
<path color="#18b2ff" d="M166.7 157l1.4 2.1.4-2.9-1.4-2.5z"/>
<path color="#3ff4ff" d="M168.1 159.1l1.1 2 .4-2.5-1.1-2.4z"/>
<path color="#1ff1ff" d="M169.2 161.1l1 1.9.4-2-1-2.4z"/>
<path color="#02f2ff" d="M170.2 163l1 1.8.3-1.5-.9-2.3z"/>
<path color="#00fff0" d="M171.2 164.8l1 1.9.3-1.1-1-2.3z"/>
<path color="#00ffd2" d="M172.2 166.7l1 1.9.3-.7-1-2.3z"/>
<path color="#00ffb5" d="M173.2 168.6l1.2 2 .2-.3-1.1-2.4z"/>
<path color="#00ff9a" d="M174.4 170.6l1.4 2.2.2.1-1.4-2.6z"/>
<path color="#00c473" d="M180.4 177.8l.8.5.7 0-1.3-.4z"/>
<path color="#0093a4" d="M93.5 83.2l.6.4.5-1.8-.6 0-.1.1z"/>
<path color="#00819b" d="M94.1 83.6l.8.5.4-2.1-.7-.2z"/>
<path color="#007395" d="M94.9 84.1l.9.7.4-2.5-.9-.3z"/>
<path color="#006f9b" d="M95.8 84.8l1.5 1.4.4-2.7-1.5-1.2z"/>
<path color="#0193cd" d="M97.3 86.2l1.5 1.8.4-2.5-1.5-2z"/>
<path color="#0cd0ff" d="M98.8 88l1 1.3.4-2.1-1-1.7z"/>
<path color="#20f4ff" d="M99.8 89.3l.8 1.2.4-1.8-.8-1.5z"/>
<path color="#1bffff" d="M100.6 90.5l.7 1.2.5-1.5-.8-1.5z"/>
<path color="#06fcff" d="M101.3 91.7l.8 1.1.5-1.2-.8-1.4z"/>
<path color="#00fff7" d="M102.1 92.8l.7 1.1.5-.8-.7-1.5z"/>
<path color="#00ffe5" d="M102.8 93.9l.7 1.1.6-.4-.8-1.5z"/>
<path color="#00ffd4" d="M103.5 95l.9 1.3.5-.2-.8-1.5z"/>
<path color="#00ffc4" d="M104.4 96.3l1 1.3.5.2-1-1.7z"/>
<path color="#00fab3" d="M105.4 97.6l1.6 1.9.5.4-1.6-2.1z"/>
<path color="#00ecaa" d="M107 99.5l1.6 1.6.5.1-1.6-1.3z"/>
<path color="#00eab4" d="M108.6 101.1l.9.7.6-.1-1-.5z"/>
<path color="#00e4be" d="M109.5 101.8l.9.6.5-.5-.8-.2z"/>
<path color="#00ddc6" d="M110.4 102.4l.7.4.5-.8-.7-.1z"/>
<path color="#00cdc6" d="M111.1 102.8l.7.5.5-1.3-.7 0z"/>
<path color="#00b2b8" d="M111.8 103.3l.8.4.4-1.6-.7-.1z"/>
<path color="#0096a7" d="M112.6 103.7l.7.4.5-1.9-.8-.1z"/>
<path color="#00819b" d="M113.3 104.1l.9.6.4-2.3-.8-.2z"/>
<path color="#007395" d="M114.2 104.7l1 .8.4-2.6-1-.5z"/>
<path color="#006f9b" d="M115.2 105.5l1.7 1.6.4-2.8-1.7-1.4z"/>
<path color="#0193cd" d="M116.9 107.1l1.7 2 .4-2.6-1.7-2.2z"/>
<path color="#0ed2ff" d="M118.6 109.1l1.1 1.5.4-2.3-1.1-1.8z"/>
<path color="#24f8ff" d="M119.7 110.6l.9 1.3.4-2-.9-1.6z"/>
<path color="#1dffff" d="M120.6 111.9l.8 1.2.5-1.6-.9-1.6z"/>
<path color="#07fdff" d="M121.4 113.1l.8 1.3.5-1.3-.8-1.6z"/>
<path color="#00fff7" d="M122.2 114.4l.8 1.2.5-.9-.8-1.6z"/>
<path color="#00ffe5" d="M123 115.6l.8 1.2.5-.5-.8-1.6z"/>
<path color="#00ffd4" d="M123.8 116.8l1 1.4.4-.3-.9-1.6z"/>
<path color="#00ffc4" d="M124.8 118.2l1.1 1.5.5.1-1.2-1.9z"/>
<path color="#00fab3" d="M125.9 119.7l1.8 2.1.5.3-1.8-2.3z"/>
<path color="#00ecaa" d="M127.7 121.8l1.8 1.8.5 0-1.8-1.5z"/>
<path color="#00eab4" d="M129.5 123.6l1.1.9.5-.3-1.1-.6z"/>
<path color="#00e4be" d="M130.6 124.5l1 .6.4-.6-.9-.3z"/>
<path color="#00ddc6" d="M131.6 125.1l.8.6.4-1-.8-.2z"/>
<path color="#00cdc6" d="M132.4 125.7l.8.5.5-1.4-.9-.1z"/>
<path color="#00b2b8" d="M133.2 126.2l.9.5.4-1.7-.8-.2z"/>
<path color="#0096a7" d="M134.1 126.7l.8.6.5-2.2-.9-.1z"/>
<path color="#00819b" d="M134.9 127.3l1 .6.4-2.4-.9-.4z"/>
<path color="#007395" d="M135.9 127.9l1.2 1 .4-2.9-1.2-.5z"/>
<path color="#006f9b" d="M137.1 128.9l1.9 1.8.4-3.1-1.9-1.6z"/>
<path color="#0294cd" d="M139 130.7l1.9 2.3.4-2.9-1.9-2.5z"/>
<path color="#10d4ff" d="M140.9 133l1.3 1.6.4-2.5-1.3-2z"/>
<path color="#28fcff" d="M142.2 134.6l1 1.4.4-2.1-1-1.8z"/>
<path color="#20ffff" d="M143.2 136l.9 1.4.4-1.8-.9-1.7z"/>
<path color="#07feff" d="M144.1 137.4l.9 1.4.4-1.5-.9-1.7z"/>
<path color="#00fff7" d="M145 138.8l.9 1.3.4-1.1-.9-1.7z"/>
<path color="#00ffe5" d="M145.9 140.1l.9 1.4.4-.8-.9-1.7z"/>
<path color="#00ffd4" d="M146.8 141.5l1 1.5.4-.4-1-1.9z"/>
<path color="#00ffc4" d="M147.8 143l1.3 1.6.4 0-1.3-2z"/>
<path color="#00fab3" d="M149.1 144.6l2 2.5.4.1-2-2.6z"/>
<path color="#00ecaa" d="M151.1 147.1l2.1 1.9.3-.1-2-1.7z"/>
<path color="#00eab4" d="M153.2 149l1.3 1.1.3-.4-1.3-.8z"/>
<path color="#00e4be" d="M154.5 150.1l1.1.8.3-.8-1.1-.4z"/>
<path color="#00ddc6" d="M155.6 150.9l.9.6.4-1.1-1-.3z"/>
<path color="#00cdc6" d="M156.5 151.5l1 .7.4-1.6-1-.2z"/>
<path color="#00b2b8" d="M157.5 152.2l1 .6.3-1.9-.9-.3z"/>
<path color="#0096a7" d="M158.5 152.8l1 .7.4-2.3-1.1-.3z"/>
<path color="#00819b" d="M159.5 153.5l1.1.8.4-2.7-1.1-.4z"/>
<path color="#007395" d="M160.6 154.3l1.3 1.1.4-3.1-1.3-.7z"/>
<path color="#006f9b" d="M161.9 155.4l2.2 2.1.4-3.3-2.2-1.9z"/>
<path color="#0294ce" d="M164.1 157.5l2.2 2.6.4-3.1-2.2-2.8z"/>
<path color="#13d7ff" d="M166.3 160.1l1.4 1.8.4-2.8-1.4-2.1z"/>
<path color="#2cffff" d="M167.7 161.9l1.2 1.6.3-2.4-1.1-2z"/>
<path color="#24ffff" d="M168.9 163.5l1 1.5.3-2-1-1.9z"/>
<path color="#08feff" d="M169.9 165l1 1.5.3-1.7-1-1.8z"/>
<path color="#00fff7" d="M170.9 166.5l1 1.5.3-1.3-1-1.9z"/>
<path color="#00ffe5" d="M171.9 168l1 1.5.3-.9-1-1.9z"/>
<path color="#00ffd4" d="M172.9 169.5l1.2 1.7.3-.6-1.2-2z"/>
<path color="#00ffc4" d="M174.1 171.2l1.4 1.9.3-.3-1.4-2.2z"/>
<path color="#00fab3" d="M175.5 173.1l2.3 2.7.3-.1-2.3-2.9z"/>
<path color="#00ecaa" d="M177.8 175.8l2.4 2.3.2-.3-2.3-2.1z"/>
<path color="#00eab0" d="M180.2 178.1l.2.2.8 0-.8-.5z"/>
<path color="#00fbff" d="M92.3 84.1l.6.6.6-1.5-.3-.1-.9 1z"/>
<path color="#00dfe9" d="M92.9 84.7l.7.7.5-1.8-.6-.4z"/>
<path color="#00cada" d="M93.6 85.4l.8.7.5-2-.8-.5z"/>
<path color="#00bcd0" d="M94.4 86.1l.9.9.5-2.2-.9-.7z"/>
<path color="#01b8d1" d="M95.3 87l1.5 1.6.5-2.4-1.5-1.4z"/>
<path color="#02d1ed" d="M96.8 88.6l1.5 1.7.5-2.3-1.5-1.8z"/>
<path color="#07eeff" d="M98.3 90.3l1 1.1.5-2.1-1-1.3z"/>
<path color="#0bf8ff" d="M99.3 91.4l.8.9.5-1.8-.8-1.2z"/>
<path color="#09fdff" d="M100.1 92.3l.7.9.5-1.5-.7-1.2z"/>
<path color="#03ffff" d="M100.8 93.2l.7.9.6-1.3-.8-1.1z"/>
<path color="#00fffc" d="M101.5 94.1l.7.8.6-1-.7-1.1z"/>
<path color="#00fff4" d="M102.2 94.9l.8.9.5-.8-.7-1.1z"/>
<path color="#00ffed" d="M103 95.8l.8 1 .6-.5-.9-1.3z"/>
<path color="#00ffe6" d="M103.8 96.8l1 1.1.6-.3-1-1.3z"/>
<path color="#00ffe1" d="M104.8 97.9l1.6 1.8.6-.2-1.6-1.9z"/>
<path color="#00ffe1" d="M106.4 99.7l1.6 1.7.6-.3-1.6-1.6z"/>
<path color="#00ffe6" d="M108 101.4l1 1 .5-.6-.9-.7z"/>
<path color="#00ffed" d="M109 102.4l.8.8.6-.8-.9-.6z"/>
<path color="#00fff4" d="M109.8 103.2l.8.7.5-1.1-.7-.4z"/>
<path color="#00fffb" d="M110.6 103.9l.7.7.5-1.3-.7-.5z"/>
<path color="#00f7fa" d="M111.3 104.6l.7.7.6-1.6-.8-.4z"/>
<path color="#00dfe9" d="M112 105.3l.8.8.5-2-.7-.4z"/>
<path color="#01cbda" d="M112.8 106.1l.9.8.5-2.2-.9-.6z"/>
<path color="#01bcd0" d="M113.7 106.9l1 1 .5-2.4-1-.8z"/>
<path color="#01b9d1" d="M114.7 107.9l1.7 1.8.5-2.6-1.7-1.6z"/>
<path color="#03d2ee" d="M116.4 109.7l1.7 1.9.5-2.5-1.7-2z"/>
<path color="#09f0ff" d="M118.1 111.6l1.1 1.2.5-2.2-1.1-1.5z"/>
<path color="#0efbff" d="M119.2 112.8l.9 1.1.5-2-.9-1.3z"/>
<path color="#0bffff" d="M120.1 113.9l.8 1 .5-1.8-.8-1.2z"/>
<path color="#04ffff" d="M120.9 114.9l.8.9.5-1.4-.8-1.3z"/>
<path color="#01fffc" d="M121.7 115.8l.8 1 .5-1.2-.8-1.2z"/>
<path color="#00fff4" d="M122.5 116.8l.8 1 .5-1-.8-1.2z"/>
<path color="#00ffed" d="M123.3 117.8l.9 1.1.6-.7-1-1.4z"/>
<path color="#00ffe6" d="M124.2 118.9l1.2 1.2.5-.4-1.1-1.5z"/>
<path color="#00ffe1" d="M125.4 120.1l1.8 2 .5-.3-1.8-2.1z"/>
<path color="#00ffe1" d="M127.2 122.1l1.8 1.9.5-.4-1.8-1.8z"/>
<path color="#00ffe6" d="M129 124l1.1 1.2.5-.7-1.1-.9z"/>
<path color="#00ffed" d="M130.1 125.2l1 .9.5-1-1-.6z"/>
<path color="#00fff4" d="M131.1 126.1l.8.8.5-1.2-.8-.6z"/>
<path color="#00fffb" d="M131.9 126.9l.9.8.4-1.5-.8-.5z"/>
<path color="#00f7fb" d="M132.8 127.7l.8.8.5-1.8-.9-.5z"/>
<path color="#01e0e9" d="M133.6 128.5l.9.9.4-2.1-.8-.6z"/>
<path color="#01cbda" d="M134.5 129.4l.9.9.5-2.4-1-.6z"/>
<path color="#01bcd0" d="M135.4 130.3l1.2 1.2.5-2.6-1.2-1z"/>
<path color="#01b9d2" d="M136.6 131.5l1.9 2 .5-2.8-1.9-1.8z"/>
<path color="#04d3ef" d="M138.5 133.5l2 2.1.4-2.6-1.9-2.3z"/>
<path color="#0cf2ff" d="M140.5 135.6l1.2 1.4.5-2.4-1.3-1.6z"/>
<path color="#11feff" d="M141.7 137l1 1.2.5-2.2-1-1.4z"/>
<path color="#0effff" d="M142.7 138.2l.9 1.1.5-1.9-.9-1.4z"/>
<path color="#06ffff" d="M143.6 139.3l.9 1.1.5-1.6-.9-1.4z"/>
<path color="#01fffc" d="M144.5 140.4l.9 1.1.5-1.4-.9-1.3z"/>
<path color="#00fff4" d="M145.4 141.5l1 1.1.4-1.1-.9-1.4z"/>
<path color="#00ffed" d="M146.4 142.6l1 1.2.4-.8-1-1.5z"/>
<path color="#00ffe6" d="M147.4 143.8l1.3 1.5.4-.7-1.3-1.6z"/>
<path color="#00ffe1" d="M148.7 145.3l2 2.2.4-.4-2-2.5z"/>
<path color="#00ffe1" d="M150.7 147.5l2.1 2.2.4-.7-2.1-1.9z"/>
<path color="#00ffe6" d="M152.8 149.7l1.3 1.3.4-.9-1.3-1.1z"/>
<path color="#00ffed" d="M154.1 151l1 1.1.5-1.2-1.1-.8z"/>
<path color="#00fff4" d="M155.1 152.1l1 .9.4-1.5-.9-.6z"/>
<path color="#00fffb" d="M156.1 153l1 .9.4-1.7-1-.7z"/>
<path color="#01f7fb" d="M157.1 153.9l.9.9.5-2-1-.6z"/>
<path color="#01e0ea" d="M158 154.8l1.1 1 .4-2.3-1-.7z"/>
<path color="#02ccdb" d="M159.1 155.8l1.1 1.1.4-2.6-1.1-.8z"/>
<path color="#02bdd1" d="M160.2 156.9l1.3 1.4.4-2.9-1.3-1.1z"/>
<path color="#02bad3" d="M161.5 158.3l2.2 2.3.4-3.1-2.2-2.1z"/>
<path color="#06d5f0" d="M163.7 160.6l2.2 2.4.4-2.9-2.2-2.6z"/>
<path color="#0ff6ff" d="M165.9 163l1.4 1.6.4-2.7-1.4-1.8z"/>
<path color="#16ffff" d="M167.3 164.6l1.2 1.3.4-2.4-1.2-1.6z"/>
<path color="#12ffff" d="M168.5 165.9l1 1.3.4-2.2-1-1.5z"/>
<path color="#08ffff" d="M169.5 167.2l1 1.2.4-1.9-1-1.5z"/>
<path color="#02fffd" d="M170.5 168.4l1 1.2.4-1.6-1-1.5z"/>
<path color="#00fff4" d="M171.5 169.6l1.1 1.3.3-1.4-1-1.5z"/>
<path color="#00ffed" d="M172.6 170.9l1.2 1.4.3-1.1-1.2-1.7z"/>
<path color="#00ffe6" d="M173.8 172.3l1.4 1.6.3-.8-1.4-1.9z"/>
<path color="#00ffe1" d="M175.2 173.9l2.4 2.6.2-.7-2.3-2.7z"/>
<path color="#00ffe0" d="M177.6 176.5l2 2.1.5-.2.1-.3-2.4-2.3z"/>
<path color="#0ff" d="M91 85.1l1.2 1.3.7-1.7-.7-.6z"/>
<path color="#01feff" d="M92.2 86.4l1.4 1.6.8-1.9-1.5-1.4z"/>
<path color="#02fdff" d="M93.6 88l2.5 2.6.7-2-2.4-2.5z"/>
<path color="#02fdff" d="M96.1 90.6l2.5 2.7.7-1.9-2.5-2.8z"/>
<path color="#01feff" d="M98.6 93.3l1.5 1.7.7-1.8-1.5-1.8z"/>
<path color="#01ffff" d="M100.1 95l1.4 1.5.7-1.6-1.4-1.7z"/>
<path color="#00fffd" d="M101.5 96.5l1.5 1.7.8-1.4-1.6-1.9z"/>
<path color="#00fffb" d="M103 98.2l2.6 2.8.8-1.3-2.6-2.9z"/>
<path color="#00fffb" d="M105.6 101l2.7 2.8.7-1.4-2.6-2.7z"/>
<path color="#00fffd" d="M108.3 103.8l1.6 1.8.7-1.7-1.6-1.5z"/>
<path color="#0ff" d="M109.9 105.6l1.5 1.6.6-1.9-1.4-1.4z"/>
<path color="#02feff" d="M111.4 107.2l1.6 1.8.7-2.1-1.7-1.6z"/>
<path color="#03feff" d="M113 109l2.8 2.9.6-2.2-2.7-2.8z"/>
<path color="#03feff" d="M115.8 111.9l2.7 3.1.7-2.2-2.8-3.1z"/>
<path color="#02ffff" d="M118.5 115l1.8 1.8.6-1.9-1.7-2.1z"/>
<path color="#01ffff" d="M120.3 116.8l1.5 1.7.7-1.7-1.6-1.9z"/>
<path color="#00fffd" d="M121.8 118.5l1.8 1.9.6-1.5-1.7-2.1z"/>
<path color="#00fffb" d="M123.6 120.4l2.9 3.2.7-1.5-3-3.2z"/>
<path color="#00fffb" d="M126.5 123.6l3 3.2.6-1.6-2.9-3.1z"/>
<path color="#00fffd" d="M129.5 126.8l1.8 2 .6-1.9-1.8-1.7z"/>
<path color="#01ffff" d="M131.3 128.8l1.7 1.8.6-2.1-1.7-1.6z"/>
<path color="#02ffff" d="M133 130.6l1.8 2 .6-2.3-1.8-1.8z"/>
<path color="#04ffff" d="M134.8 132.6l3.1 3.4.6-2.5-3.1-3.2z"/>
<path color="#05ffff" d="M137.9 136l3.2 3.4.6-2.4-3.2-3.5z"/>
<path color="#03ffff" d="M141.1 139.4l1.9 2.1.6-2.2-1.9-2.3z"/>
<path color="#01ffff" d="M143 141.5l1.8 2 .6-2-1.8-2.2z"/>
<path color="#00fffd" d="M144.8 143.5l2 2.1.6-1.8-2-2.3z"/>
<path color="#00fffb" d="M146.8 145.6l3.3 3.6.6-1.7-3.3-3.7z"/>
<path color="#00fffb" d="M150.1 149.2l3.4 3.7.6-1.9-3.4-3.5z"/>
<path color="#00fffd" d="M153.5 152.9l2.1 2.3.5-2.2-2-2z"/>
<path color="#01ffff" d="M155.6 155.2l1.9 2 .5-2.4-1.9-1.8z"/>
<path color="#04ffff" d="M157.5 157.2l2.1 2.3.6-2.6-2.2-2.1z"/>
<path color="#06ffff" d="M159.6 159.5l3.6 3.9.5-2.8-3.5-3.7z"/>
<path color="#07ffff" d="M163.2 163.4l3.6 3.9.5-2.7-3.6-4z"/>
<path color="#05ffff" d="M166.8 167.3l2.2 2.4.5-2.5-2.2-2.6z"/>
<path color="#02ffff" d="M169 169.7l2.1 2.2.4-2.3-2-2.4z"/>
<path color="#01fffe" d="M171.1 171.9l2.2 2.5.5-2.1-2.3-2.7z"/>
<path color="#00fffb" d="M173.3 174.4l3.9 4.1.4-2-3.8-4.2z"/>
<path color="#00fffc" d="M177.2 178.5l.8 1 .6.1 1-1-2-2.1z"/>
<path color="#0ff" d="M90.2 86.6l1.3 1.1.7-1.3-1.2-1.3-.4.5z"/>
<path color="#00fbff" d="M91.5 87.7l1.4 1.3.7-1-1.4-1.6z"/>
<path color="#00f7ff" d="M92.9 89l2.5 2.5.7-.9-2.5-2.6z"/>
<path color="#00f7ff" d="M95.4 91.5l2.5 2.9.7-1.1-2.5-2.7z"/>
<path color="#00fbff" d="M97.9 94.4l1.5 2 .7-1.4-1.5-1.7z"/>
<path color="#01ffff" d="M99.4 96.4l1.4 1.8.7-1.7-1.4-1.5z"/>
<path color="#03fffe" d="M100.8 98.2l1.6 2 .6-2-1.5-1.7z"/>
<path color="#04fffb" d="M102.4 100.2l2.6 3.1.6-2.3-2.6-2.8z"/>
<path color="#03fffa" d="M105 103.3l2.6 2.6.7-2.1-2.7-2.8z"/>
<path color="#02fffd" d="M107.6 105.9l1.6 1.5.7-1.8-1.6-1.8z"/>
<path color="#0ff" d="M109.2 107.4l1.5 1.3.7-1.5-1.5-1.6z"/>
<path color="#00fbff" d="M110.7 108.7l1.6 1.5.7-1.2-1.6-1.8z"/>
<path color="#00f7ff" d="M112.3 110.2l2.8 2.7.7-1-2.8-2.9z"/>
<path color="#00f7ff" d="M115.1 112.9l2.8 3.3.6-1.2-2.7-3.1z"/>
<path color="#00fbff" d="M117.9 116.2l1.7 2.2.7-1.6-1.8-1.8z"/>
<path color="#01ffff" d="M119.6 118.4l1.6 2.1.6-2-1.5-1.7z"/>
<path color="#04ffff" d="M121.2 120.5l1.8 2.2.6-2.3-1.8-1.9z"/>
<path color="#06fffd" d="M123 122.7l2.9 3.4.6-2.5-2.9-3.2z"/>
<path color="#05fffc" d="M125.9 126.1l3 3 .6-2.3-3-3.2z"/>
<path color="#03fffe" d="M128.9 129.1l1.8 1.7.6-2-1.8-2z"/>
<path color="#01ffff" d="M130.7 130.8l1.7 1.5.6-1.7-1.7-1.8z"/>
<path color="#00fbff" d="M132.4 132.3l1.8 1.8.6-1.5-1.8-2z"/>
<path color="#00f7ff" d="M134.2 134.1l3.2 3.1.5-1.2-3.1-3.4z"/>
<path color="#00f7ff" d="M137.4 137.2l3.1 3.7.6-1.5-3.2-3.4z"/>
<path color="#00fbff" d="M140.5 140.9l2 2.5.5-1.9-1.9-2.1z"/>
<path color="#02ffff" d="M142.5 143.4l1.8 2.3.5-2.2-1.8-2z"/>
<path color="#06ffff" d="M144.3 145.7l2 2.4.5-2.5-2-2.1z"/>
<path color="#08ffff" d="M146.3 148.1l3.3 3.9.5-2.8-3.3-3.6z"/>
<path color="#07fffe" d="M149.6 152l3.4 3.5.5-2.6-3.4-3.7z"/>
<path color="#04ffff" d="M153 155.5l2.1 1.9.5-2.2-2.1-2.3z"/>
<path color="#01ffff" d="M155.1 157.4l1.9 1.8.5-2-1.9-2z"/>
<path color="#00fbff" d="M157 159.2l2.2 2 .4-1.7-2.1-2.3z"/>
<path color="#00f7ff" d="M159.2 161.2l3.5 3.6.5-1.4-3.6-3.9z"/>
<path color="#00f7ff" d="M162.7 164.8l3.6 4.2.5-1.7-3.6-3.9z"/>
<path color="#00fbff" d="M166.3 169l2.3 2.8.4-2.1-2.2-2.4z"/>
<path color="#03ffff" d="M168.6 171.8l2 2.6.5-2.5-2.1-2.2z"/>
<path color="#08ffff" d="M170.6 174.4l2.3 2.8.4-2.8-2.2-2.5z"/>
<path color="#0bffff" d="M172.9 177.2l1.2 1.4 2.9.6.2-.7-3.9-4.1z"/>
<path color="#06ffff" d="M178 179.5l-.8-1-.2.7z"/>
<path color="#00d8ff" d="M93.2 90l1.5 1.4.7.1-1.6-1.6z"/>
<path color="#00d8ff" d="M94.7 91.4l1.6 2 .6-.2-1.5-1.7z"/>
<path color="#00dfff" d="M96.3 93.4l.9 1.4.7-.4-1-1.2z"/>
<path color="#00e8ff" d="M97.2 94.8l.9 1.3.6-.7-.8-1z"/>
<path color="#00f1ff" d="M98.1 96.1l.7 1.2.6-.9-.7-1z"/>
<path color="#01fbff" d="M98.8 97.3l.8 1.3.5-1.3-.7-.9z"/>
<path color="#05ffff" d="M99.6 98.6l.7 1.2.5-1.6-.7-.9z"/>
<path color="#0dfffe" d="M100.3 99.8l.8 1.2.5-1.8-.8-1z"/>
<path color="#10fff8" d="M101.1 101l.8 1.4.5-2.2-.8-1z"/>
<path color="#09ffe8" d="M101.9 102.4l1 1.4.5-2.4-1-1.2z"/>
<path color="#02e3c0" d="M102.9 103.8l1.6 2.1.5-2.6-1.6-1.9z"/>
<path color="#00c1a4" d="M104.5 105.9l1.6 1.5.5-2.5-1.6-1.6z"/>
<path color="#00bda5" d="M106.1 107.4l1 .7.5-2.2-1-1z"/>
<path color="#00d8ff" d="M112.8 111.4l1.7 1.6.6-.1-1.7-1.7z"/>
<path color="#00d8ff" d="M114.5 113l1.7 2.2.6-.3-1.7-2z"/>
<path color="#00dfff" d="M116.2 115.2l1.1 1.6.6-.6-1.1-1.3z"/>
<path color="#00e8ff" d="M117.3 116.8l1 1.4.5-.8-.9-1.2z"/>
<path color="#00f1ff" d="M118.3 118.2l.8 1.3.5-1.1-.8-1z"/>
<path color="#01fbff" d="M119.1 119.5l.8 1.4.5-1.5-.8-1z"/>
<path color="#06ffff" d="M119.9 120.9l.8 1.3.5-1.7-.8-1.1z"/>
<path color="#10ffff" d="M120.7 122.2l.9 1.4.5-2.1-.9-1z"/>
<path color="#13fffb" d="M121.6 123.6l.9 1.4.5-2.3-.9-1.2z"/>
<path color="#0bffea" d="M122.5 125l1.1 1.7.5-2.7-1.1-1.3z"/>
<path color="#03e3c1" d="M123.6 126.7l1.9 2.2.4-2.8-1.8-2.1z"/>
<path color="#01c1a4" d="M125.5 128.9l1.8 1.8.4-2.7-1.8-1.9z"/>
<path color="#00bda5" d="M127.3 130.7l1.1.8.5-2.4-1.2-1.1z"/>
<path color="#00c5b3" d="M128.4 131.5l1 .6.4-2.1-.9-.9z"/>
<path color="#00d4c8" d="M129.4 132.1l.8.5.5-1.8-.9-.8z"/>
<path color="#00e7e2" d="M130.2 132.6l.9.5.4-1.5-.8-.8z"/>
<path color="#00d8ff" d="M134.9 135.6l2 1.9.5-.3-2-2z"/>
<path color="#00d8ff" d="M136.9 137.5l1.9 2.4.5-.5-1.9-2.2z"/>
<path color="#00dfff" d="M138.8 139.9l1.3 1.7.4-.7-1.2-1.5z"/>
<path color="#00e8ff" d="M140.1 141.6l1 1.6.5-1-1.1-1.3z"/>
<path color="#00f1ff" d="M141.1 143.2l.9 1.5.5-1.3-.9-1.2z"/>
<path color="#01fbff" d="M142 144.7l.9 1.4.5-1.6-.9-1.1z"/>
<path color="#07ffff" d="M142.9 146.1l.9 1.5.5-1.9-.9-1.2z"/>
<path color="#14ffff" d="M143.8 147.6l1 1.5.4-2.3-.9-1.1z"/>
<path color="#18ffff" d="M144.8 149.1l1 1.6.5-2.6-1.1-1.3z"/>
<path color="#0effed" d="M145.8 150.7l1.3 1.8.4-2.8-1.2-1.6z"/>
<path color="#04e4c2" d="M147.1 152.5l2.1 2.6.4-3.1-2.1-2.3z"/>
<path color="#01c2a4" d="M149.2 155.1l2.1 2 .4-2.9-2.1-2.2z"/>
<path color="#01bda5" d="M151.3 157.1l1.3 1 .4-2.6-1.3-1.3z"/>
<path color="#01c5b3" d="M152.6 158.1l1.1.8.4-2.4-1.1-1z"/>
<path color="#01d4c8" d="M153.7 158.9l1 .6.4-2.1-1-.9z"/>
<path color="#00e7e3" d="M154.7 159.5l.9.6.4-1.8-.9-.9z"/>
<path color="#00f5fa" d="M155.6 160.1l1 .5.4-1.4-1-.9z"/>
<path color="#00f1ff" d="M156.6 160.6l1 .7.4-1.2-1-.9z"/>
<path color="#00e8ff" d="M157.6 161.3l1.2.8.4-.9-1.2-1.1z"/>
<path color="#00dfff" d="M158.8 162.1l1.3 1 .4-.6-1.3-1.3z"/>
<path color="#00d8ff" d="M162.4 165.3l2.2 2.7.4-.6-2.3-2.6z"/>
<path color="#00dfff" d="M164.6 168l1.4 2 .3-1-1.3-1.6z"/>
<path color="#00e8ff" d="M166 170l1.2 1.7.3-1.2-1.2-1.5z"/>
<path color="#00f1ff" d="M167.2 171.7l1 1.7.4-1.6-1.1-1.3z"/>
<path color="#01fcff" d="M168.2 173.4l1 1.6.4-1.9-1-1.3z"/>
<path color="#09ffff" d="M169.2 175l1 1.6.4-2.2-1-1.3z"/>
<path color="#1affff" d="M170.2 176.6l.7 1 .5.3.3-2.2-1.1-1.3z"/>
<path color="#19ffff" d="M172.7 178.3l.2-1.1-1.2-1.5-.3 2.2z"/>
<path color="#12fffe" d="M174.1 178.6l-1.2-1.4-.2 1.1z"/>
<path color="#00a5f5" d="M94.1 90.9l1.6 2.2.6.3-1.6-2z"/>
<path color="#0bf" d="M95.7 93.1l1 1.7.5 0-.9-1.4z"/>
<path color="#00cdff" d="M96.7 94.8l.8 1.7.6-.4-.9-1.3z"/>
<path color="#00e1ff" d="M97.5 96.5l.8 1.6.5-.8-.7-1.2z"/>
<path color="#00f5ff" d="M98.3 98.1l.8 1.6.5-1.1-.8-1.3z"/>
<path color="#06fffb" d="M99.1 99.7l.7 1.6.5-1.5-.7-1.2z"/>
<path color="#20ffff" d="M99.8 101.3l.8 1.7.5-2-.8-1.2z"/>
<path color="#28fff5" d="M100.6 103l.9 1.6.4-2.2-.8-1.4z"/>
<path color="#0effc9" d="M101.5 104.6l1 1.9.4-2.7-1-1.4z"/>
<path color="#01c887" d="M102.5 106.5l1.6 2.2.4-2.8-1.6-2.1z"/>
<path color="#009262" d="M104.1 108.7l1.6 1.3.4-2.6-1.6-1.5z"/>
<path color="#00a5f5" d="M114 112.6l1.7 2.4.5.2-1.7-2.2z"/>
<path color="#0bf" d="M115.7 115l1.1 1.9.5-.1-1.1-1.6z"/>
<path color="#00cdff" d="M116.8 116.9l1 1.8.5-.5-1-1.4z"/>
<path color="#00e1ff" d="M117.8 118.7l.8 1.8.5-1-.8-1.3z"/>
<path color="#00f5ff" d="M118.6 120.5l.8 1.7.5-1.3-.8-1.4z"/>
<path color="#07fffc" d="M119.4 122.2l.9 1.7.4-1.7-.8-1.3z"/>
<path color="#2ff" d="M120.3 123.9l.8 1.8.5-2.1-.9-1.4z"/>
<path color="#2bfff9" d="M121.1 125.7l1 1.8.4-2.5-.9-1.4z"/>
<path color="#10ffca" d="M122.1 127.5l1.1 2 .4-2.8-1.1-1.7z"/>
<path color="#01c987" d="M123.2 129.5l1.8 2.5.5-3.1-1.9-2.2z"/>
<path color="#009262" d="M125 132l1.9 1.5.4-2.8-1.8-1.8z"/>
<path color="#008c67" d="M126.9 133.5l1.1.6.4-2.6-1.1-.8z"/>
<path color="#009174" d="M128 134.1l.9.2.5-2.2-1-.6z"/>
<path color="#009b89" d="M128.9 134.3l.9.1.4-1.8-.8-.5z"/>
<path color="#00a5f5" d="M136.4 137.2l2 2.6.4.1-1.9-2.4z"/>
<path color="#0bf" d="M138.4 139.8l1.2 2.1.5-.3-1.3-1.7z"/>
<path color="#00cdff" d="M139.6 141.9l1.1 2 .4-.7-1-1.6z"/>
<path color="#00e1ff" d="M140.7 143.9l.9 1.9.4-1.1-.9-1.5z"/>
<path color="#00f5ff" d="M141.6 145.8l.9 1.8.4-1.5-.9-1.4z"/>
<path color="#07fffc" d="M142.5 147.6l.9 1.9.4-1.9-.9-1.5z"/>
<path color="#25ffff" d="M143.4 149.5l1 1.9.4-2.3-1-1.5z"/>
<path color="#2ffffc" d="M144.4 151.4l1 2 .4-2.7-1-1.6z"/>
<path color="#12ffcc" d="M145.4 153.4l1.3 2.2.4-3.1-1.3-1.8z"/>
<path color="#01c987" d="M146.7 155.6l2.1 2.7.4-3.2-2.1-2.6z"/>
<path color="#009262" d="M148.8 158.3l2 1.9.5-3.1-2.1-2z"/>
<path color="#008c67" d="M150.8 160.2l1.4.7.4-2.8-1.3-1z"/>
<path color="#009174" d="M152.2 160.9l1.1.3.4-2.3-1.1-.8z"/>
<path color="#009b89" d="M153.3 161.2l1 .3.4-2-1-.6z"/>
<path color="#00aba5" d="M154.3 161.5l1 .2.3-1.6-.9-.6z"/>
<path color="#00b9c0" d="M155.3 161.7l.9.2.4-1.3-1-.5z"/>
<path color="#00bad3" d="M156.2 161.9l1.1.2.3-.8-1-.7z"/>
<path color="#00afda" d="M157.3 162.1l1.1.4.4-.4-1.2-.8z"/>
<path color="#00a5f5" d="M162.1 165.2l2.2 2.9.3-.1-2.2-2.7z"/>
<path color="#0bf" d="M164.3 168.1l1.4 2.4.3-.5-1.4-2z"/>
<path color="#00cdff" d="M165.7 170.5l1.1 2.1.4-.9-1.2-1.7z"/>
<path color="#00e1ff" d="M166.8 172.6l1.1 2.1.3-1.3-1-1.7z"/>
<path color="#00f3ff" d="M167.9 174.7l.2.4.9 1 .2-1.1-1-1.6z"/>
<path color="#09ffff" d="M170.1 177.1l.1-.5-1-1.6-.2 1.1z"/>
<path color="#1bffff" d="M170.9 177.6l-.7-1-.1.5z"/>
<path color="#008eff" d="M95 92.5l1.1 2.2.6.1-1-1.7z"/>
<path color="#00adff" d="M96.1 94.7l.9 2 .5-.2-.8-1.7z"/>
<path color="#00cdff" d="M97 96.7l.8 2.1.5-.7-.8-1.6z"/>
<path color="#0ef" d="M97.8 98.8l.8 2.1.5-1.2-.8-1.6z"/>
<path color="#02fff1" d="M98.6 100.9l.8 2 .4-1.6-.7-1.6z"/>
<path color="#1dffea" d="M99.4 102.9l.8 2.1.4-2-.8-1.7z"/>
<path color="#3dffea" d="M100.2 105l.9 2.1.4-2.5-.9-1.6z"/>
<path color="#16ffa4" d="M101.1 107.1l1 2.2.4-2.8-1-1.9z"/>
<path color="#00c058" d="M102.1 109.3l1.7 2.5.3-3.1-1.6-2.2z"/>
<path color="#007d39" d="M103.8 111.8l1.5 1.1.4-2.9-1.6-1.3z"/>
<path color="#008eff" d="M115.2 114.5l1.1 2.3.5.1-1.1-1.9z"/>
<path color="#00adff" d="M116.3 116.8l1 2.3.5-.4-1-1.8z"/>
<path color="#00cdff" d="M117.3 119.1l.8 2.2.5-.8-.8-1.8z"/>
<path color="#0ef" d="M118.1 121.3l.9 2.2.4-1.3-.8-1.7z"/>
<path color="#02fff0" d="M119 123.5l.8 2.2.5-1.8-.9-1.7z"/>
<path color="#1dffea" d="M119.8 125.7l.9 2.2.4-2.2-.8-1.8z"/>
<path color="#3fffec" d="M120.7 127.9l1 2.2.4-2.6-1-1.8z"/>
<path color="#17ffa5" d="M121.7 130.1l1.1 2.4.4-3-1.1-2z"/>
<path color="#01c058" d="M122.8 132.5l1.9 2.8.3-3.3-1.8-2.5z"/>
<path color="#007d39" d="M124.7 135.3l1.8 1.3.4-3.1-1.9-1.5z"/>
<path color="#007441" d="M126.5 136.6l1.1.1.4-2.6-1.1-.6z"/>
<path color="#00744e" d="M127.6 136.7l.9-.1.4-2.3-.9-.2z"/>
<path color="#008eff" d="M138 139.5l1.2 2.5.4-.1-1.2-2.1z"/>
<path color="#00adff" d="M139.2 142l1.1 2.4.4-.5-1.1-2z"/>
<path color="#00cdff" d="M140.3 144.4l.9 2.4.4-1-.9-1.9z"/>
<path color="#0ef" d="M141.2 146.8l.9 2.3.4-1.5-.9-1.8z"/>
<path color="#02fff0" d="M142.1 149.1l.9 2.3.4-1.9-.9-1.9z"/>
<path color="#1cffea" d="M143 151.4l1 2.4.4-2.4-1-1.9z"/>
<path color="#40ffed" d="M144 153.8l1 2.4.4-2.8-1-2z"/>
<path color="#18ffa6" d="M145 156.2l1.3 2.6.4-3.2-1.3-2.2z"/>
<path color="#01c058" d="M146.3 158.8l2.1 3.1.4-3.6-2.1-2.7z"/>
<path color="#007d39" d="M148.4 161.9l2.1 1.6.3-3.3-2-1.9z"/>
<path color="#007441" d="M150.5 163.5l1.3.3.4-2.9-1.4-.7z"/>
<path color="#00744e" d="M151.8 163.8l1.1-.1.4-2.5-1.1-.3z"/>
<path color="#00755e" d="M152.9 163.7l1-.2.4-2-1-.3z"/>
<path color="#007e75" d="M153.9 163.5l1-.3.4-1.5-1-.2z"/>
<path color="#00858e" d="M154.9 163.2l1-.2.3-1.1-.9-.2z"/>
<path color="#0085a5" d="M155.9 163l1-.3.4-.6-1.1-.2z"/>
<path color="#001c3d" d="M159.5 163l2.3 1.7.3.5-2.3-2z"/>
<path color="#008eff" d="M164 167.9l1.4 2.8.3-.2-1.4-2.4z"/>
<path color="#00a9ff" d="M165.4 170.7l0 .1 1.3 2.2.1-.4-1.1-2.1z"/>
<path color="#00d4ff" d="M167.9 174.8l0-.1-1.1-2.1-.1.4z"/>
<path color="#005afb" d="M94.4 91.7l1.1 2.6.6.4-1.1-2.2z"/>
<path color="#0087ff" d="M95.5 94.3l.9 2.6.6-.2-.9-2z"/>
<path color="#00b6ff" d="M96.4 96.9l.8 2.5.6-.6-.8-2.1z"/>
<path color="#00e7ff" d="M97.2 99.4l.9 2.6.5-1.1-.8-2.1z"/>
<path color="#00ffe7" d="M98.1 102l.8 2.6.5-1.7-.8-2z"/>
<path color="#0cffc2" d="M98.9 104.6l.8 2.5.5-2.1-.8-2.1z"/>
<path color="#3fffc6" d="M99.7 107.1l1 2.6.4-2.6-.9-2.1z"/>
<path color="#20ff7c" d="M100.7 109.7l1 2.6.4-3-1-2.2z"/>
<path color="#00c22a" d="M101.7 112.3l1.7 2.8.4-3.3-1.7-2.5z"/>
<path color="#007318" d="M103.4 115.1l1.6.9.3-3.1-1.5-1.1z"/>
<path color="#005afb" d="M114.6 113.8l1.2 2.8.5.2-1.1-2.3z"/>
<path color="#0087ff" d="M115.8 116.6l1 2.7.5-.2-1-2.3z"/>
<path color="#00b6ff" d="M116.8 119.3l.9 2.8.4-.8-.8-2.2z"/>
<path color="#00e7ff" d="M117.7 122.1l.8 2.7.5-1.3-.9-2.2z"/>
<path color="#00ffe7" d="M118.5 124.8l.9 2.7.4-1.8-.8-2.2z"/>
<path color="#0affc1" d="M119.4 127.5l.9 2.7.4-2.3-.9-2.2z"/>
<path color="#3effc6" d="M120.3 130.2l1 2.7.4-2.8-1-2.2z"/>
<path color="#20ff7b" d="M121.3 132.9l1.1 2.9.4-3.3-1.1-2.4z"/>
<path color="#01c22a" d="M122.4 135.8l1.9 3 .4-3.5-1.9-2.8z"/>
<path color="#007318" d="M124.3 138.8l1.8 1.1.4-3.3-1.8-1.3z"/>
<path color="#006e27" d="M126.1 139.9l1.1-.3.4-2.9-1.1-.1z"/>
<path color="#006d3a" d="M127.2 139.6l.9-.6.4-2.4-.9.1z"/>
<path color="#0087ff" d="M138.8 141.9l1 2.9.5-.4-1.1-2.4z"/>
<path color="#00b6ff" d="M139.8 144.8l1 2.9.4-.9-.9-2.4z"/>
<path color="#00e7ff" d="M140.8 147.7l.9 2.9.4-1.5-.9-2.3z"/>
<path color="#00ffe7" d="M141.7 150.6l.9 2.8.4-2-.9-2.3z"/>
<path color="#09ffc0" d="M142.6 153.4l1 2.9.4-2.5-1-2.4z"/>
<path color="#3dffc4" d="M143.6 156.3l1 3 .4-3.1-1-2.4z"/>
<path color="#20ff7b" d="M144.6 159.3l1.3 3 .4-3.5-1.3-2.6z"/>
<path color="#01c22a" d="M145.9 162.3l2.1 3.4.4-3.8-2.1-3.1z"/>
<path color="#007318" d="M148 165.7l2.1 1.3.4-3.5-2.1-1.6z"/>
<path color="#006e27" d="M150.1 167l1.3-.1.4-3.1-1.3-.3z"/>
<path color="#006d3a" d="M151.4 166.9l1.1-.6.4-2.6-1.1.1z"/>
<path color="#006d4e" d="M152.5 166.3l1-.7.4-2.1-1 .2z"/>
<path color="#006d63" d="M153.5 165.6l1-.8.4-1.6-1 .3z"/>
<path color="#00646f" d="M154.5 164.8l1-.8.4-1-1 .2z"/>
<path color="#00577a" d="M155.5 164l1.1-.7.3-.6-1 .3z"/>
<path color="#000d3d" d="M159.2 162.5l2.3 1.4.3.8-2.3-1.7z"/>
<path color="#000d3d" d="M161.5 163.9l1.3 1.8 1 2 .2.2-2.2-3.2z"/>
<path color="#006cfd" d="M165.4 170.7l0 0-1.4-2.8-.2-.2z"/>
<path color="#0e00e0" d="M92.1 87.7l1.6 3 .7 1-1.6-2.7z"/>
<path color="#0021f9" d="M93.7 90.7l1.1 3.1.7.5-1.1-2.6z"/>
<path color="#005eff" d="M94.8 93.8l1 3.2.6-.1-.9-2.6z"/>
<path color="#009dff" d="M95.8 97l.9 3.1.5-.7-.8-2.5z"/>
<path color="#00deff" d="M96.7 100.1l.8 3.1.6-1.2-.9-2.6z"/>
<path color="#00ffde" d="M97.5 103.2l.9 3.1.5-1.7-.8-2.6z"/>
<path color="#02ffa0" d="M98.4 106.3l.9 3.1.4-2.3-.8-2.5z"/>
<path color="#25ff83" d="M99.3 109.4l1 3.2.4-2.9-1-2.6z"/>
<path color="#30ff52" d="M100.3 112.6l1.1 3.1.3-3.4-1-2.6z"/>
<path color="#0dce01" d="M101.4 115.7l1.6 3.1.4-3.7-1.7-2.8z"/>
<path color="#0021f9" d="M114 112.9l1.2 3.3.6.4-1.2-2.8z"/>
<path color="#005eff" d="M115.2 116.2l1 3.3.6-.2-1-2.7z"/>
<path color="#009dff" d="M116.2 119.5l1 3.3.5-.7-.9-2.8z"/>
<path color="#00deff" d="M117.2 122.8l.8 3.3.5-1.3-.8-2.7z"/>
<path color="#00ffde" d="M118 126.1l.9 3.3.5-1.9-.9-2.7z"/>
<path color="#02ff9f" d="M118.9 129.4l1 3.3.4-2.5-.9-2.7z"/>
<path color="#22ff80" d="M119.9 132.7l1 3.3.4-3.1-1-2.7z"/>
<path color="#2fff52" d="M120.9 136l1.1 3.3.4-3.5-1.1-2.9z"/>
<path color="#0dce01" d="M122 139.3l1.9 3.4.4-3.9-1.9-3z"/>
<path color="#077000" d="M123.9 142.7l1.8.8.4-3.6-1.8-1.1z"/>
<path color="#006a0e" d="M125.7 143.5l1.1-.8.4-3.1-1.1.3z"/>
<path color="#0021f9" d="M137.1 138.1l1.2 3.5.5.3-1.3-3z"/>
<path color="#005eff" d="M138.3 141.6l1.1 3.6.4-.4-1-2.9z"/>
<path color="#009dff" d="M139.4 145.2l1 3.4.4-.9-1-2.9z"/>
<path color="#00deff" d="M140.4 148.6l.9 3.5.4-1.5-.9-2.9z"/>
<path color="#00ffde" d="M141.3 152.1l.9 3.5.4-2.2-.9-2.8z"/>
<path color="#01ff9e" d="M142.2 155.6l1 3.5.4-2.8-1-2.9z"/>
<path color="#1fff7d" d="M143.2 159.1l1 3.5.4-3.3-1-3z"/>
<path color="#2fff51" d="M144.2 162.6l1.3 3.5.4-3.8-1.3-3z"/>
<path color="#0ece01" d="M145.5 166.1l2 3.7.5-4.1-2.1-3.4z"/>
<path color="#077000" d="M147.5 169.8l2.1 1 .5-3.8-2.1-1.3z"/>
<path color="#006a0e" d="M149.6 170.8l1.4-.6.4-3.3-1.3.1z"/>
<path color="#006726" d="M151 170.2l1.1-1 .4-2.9-1.1.6z"/>
<path color="#00663f" d="M152.1 169.2l1-1.3.4-2.3-1 .7z"/>
<path color="#006659" d="M153.1 167.9l1-1.4.4-1.7-1 .8z"/>
<path color="#005967" d="M154.1 166.5l1-1.4.4-1.1-1 .8z"/>
<path color="#003796" d="M156.2 163.7l1.2-1.1.4.1-1.2.6z"/>
<path color="#001077" d="M157.4 162.6l1.5-.7.3.6-1.4.2z"/>
<path color="#04003d" d="M158.9 161.9l1.1.1 1.3 1.4.2.5-2.3-1.4z"/>
<path color="#00003d" d="M162.8 165.7l-1.3-1.8-.2-.5z"/>
<path color="#1a00fa" d="M93 89.7l1.2 3.6.6.5-1.1-3.1z"/>
<path color="#0031ff" d="M94.2 93.3l1 3.7.6 0-1-3.2z"/>
<path color="#0082ff" d="M95.2 97l.9 3.8.6-.7-.9-3.1z"/>
<path color="#00d5ff" d="M96.1 100.8l.9 3.7.5-1.3-.8-3.1z"/>
<path color="#00ffd6" d="M97 104.5l.9 3.7.5-1.9-.9-3.1z"/>
<path color="#00ff83" d="M97.9 108.2l.9 3.6.5-2.4-.9-3.1z"/>
<path color="#0bff3d" d="M98.8 111.8l1 3.7.5-2.9-1-3.2z"/>
<path color="#59ff3e" d="M99.8 115.5l1.2 3.6.4-3.4-1.1-3.1z"/>
<path color="#52e502" d="M101 119.1l1.7 3.4.3-3.7-1.6-3.1z"/>
<path color="#5000e2" d="M111.6 108.3l1.8 3.7.6.9-1.8-3.3z"/>
<path color="#1a00fa" d="M113.4 112l1.2 3.9.6.3-1.2-3.3z"/>
<path color="#0031ff" d="M114.6 115.9l1.1 3.8.5-.2-1-3.3z"/>
<path color="#0082ff" d="M115.7 119.7l.9 3.9.6-.8-1-3.3z"/>
<path color="#00d5ff" d="M116.6 123.6l1 3.9.4-1.4-.8-3.3z"/>
<path color="#00ffd6" d="M117.6 127.5l.9 3.9.4-2-.9-3.3z"/>
<path color="#00ff83" d="M118.5 131.4l.9 3.9.5-2.6-1-3.3z"/>
<path color="#09ff3b" d="M119.4 135.3l1 3.8.5-3.1-1-3.3z"/>
<path color="#58ff3d" d="M120.4 139.1l1.2 3.8.4-3.6-1.1-3.3z"/>
<path color="#52e502" d="M121.6 142.9l1.9 3.7.4-3.9-1.9-3.4z"/>
<path color="#276e00" d="M123.5 146.6l1.8.5.4-3.6-1.8-.8z"/>
<path color="#0b6700" d="M125.3 147.1l1-1.2.5-3.2-1.1.8z"/>
<path color="#16003d" d="M134.5 133.3l2.1 4 .5.8-2-3.6z"/>
<path color="#1a00fa" d="M136.6 137.3l1.3 4.1.4.2-1.2-3.5z"/>
<path color="#0031ff" d="M137.9 141.4l1 4.1.5-.3-1.1-3.6z"/>
<path color="#0082ff" d="M138.9 145.5l1 4.1.5-1-1-3.4z"/>
<path color="#00d5ff" d="M139.9 149.6l1 4.1.4-1.6-.9-3.5z"/>
<path color="#00ffd6" d="M140.9 153.7l.9 4.1.4-2.2-.9-3.5z"/>
<path color="#00ff83" d="M141.8 157.8l.9 4.1.5-2.8-1-3.5z"/>
<path color="#07ff39" d="M142.7 161.9l1.1 4 .4-3.3-1-3.5z"/>
<path color="#56ff3b" d="M143.8 165.9l1.3 4 .4-3.8-1.3-3.5z"/>
<path color="#52e502" d="M145.1 169.9l2 4.1.4-4.2-2-3.7z"/>
<path color="#276e00" d="M147.1 174l2.1.7.4-3.9-2.1-1z"/>
<path color="#0b6700" d="M149.2 174.7l1.3-1.1.5-3.4-1.4.6z"/>
<path color="#006313" d="M150.5 173.6l1.2-1.6.4-2.8-1.1 1z"/>
<path color="#006232" d="M151.7 172l1-1.8.4-2.3-1 1.3z"/>
<path color="#006151" d="M152.7 170.2l1-2 .4-1.7-1 1.4z"/>
<path color="#005161" d="M153.7 168.2l1-2 .4-1.1-1 1.4z"/>
<path color="#09008b" d="M158.7 161.6l.2.3-1.5.7-.3-.1z"/>
<path color="#11005a" d="M160 162l-1.1-.1-.2-.3z"/>
<path color="#9400e8" d="M90.6 85.1l1.7 3.7.7.9-1.7-3.4z"/>
<path color="#5500fd" d="M92.3 88.8l1.2 4.1.7.4-1.2-3.6z"/>
<path color="#0007ff" d="M93.5 92.9l1.1 4.3.6-.2-1-3.7z"/>
<path color="#0068ff" d="M94.6 97.2l.9 4.2.6-.6-.9-3.8z"/>
<path color="#0cf" d="M95.5 101.4l1 4.3.5-1.2-.9-3.7z"/>
<path color="#00ffcd" d="M96.5 105.7l.9 4.2.5-1.7-.9-3.7z"/>
<path color="#00ff69" d="M97.4 109.9l1 4.2.4-2.3-.9-3.6z"/>
<path color="#02ff09" d="M98.4 114.1l1 4.1.4-2.7-1-3.7z"/>
<path color="#83ff2e" d="M99.4 118.2l1.2 4 .4-3.1-1.2-3.6z"/>
<path color="#a8ff06" d="M100.6 122.2l1.7 3.8.4-3.5-1.7-3.4z"/>
<path color="#9400e8" d="M111 107.2l1.8 4 .6.8-1.8-3.7z"/>
<path color="#5500fd" d="M112.8 111.2l1.3 4.3.5.4-1.2-3.9z"/>
<path color="#0007ff" d="M114.1 115.5l1 4.5.6-.3-1.1-3.8z"/>
<path color="#0068ff" d="M115.1 120l1 4.4.5-.8-.9-3.9z"/>
<path color="#0cf" d="M116.1 124.4l1 4.5.5-1.4-1-3.9z"/>
<path color="#00ffcd" d="M117.1 128.9l.9 4.4.5-1.9-.9-3.9z"/>
<path color="#00ff69" d="M118 133.3l1 4.4.4-2.4-.9-3.9z"/>
<path color="#01ff08" d="M119 137.7l1 4.3.4-2.9-1-3.8z"/>
<path color="#80ff2a" d="M120 142l1.2 4.3.4-3.4-1.2-3.8z"/>
<path color="#a8ff06" d="M121.2 146.3l1.9 4 .4-3.7-1.9-3.7z"/>
<path color="#466d00" d="M123.1 150.3l1.8.2.4-3.4-1.8-.5z"/>
<path color="#00a5cd" d="M128.4 141.7l.7-2.7.5-.9-.8 2.1z"/>
<path color="#0054ce" d="M129.1 139l.9-2.5.5-.4-.9 2z"/>
<path color="#5500fd" d="M136.1 136.6l1.3 4.6.5.2-1.3-4.1z"/>
<path color="#0007ff" d="M137.4 141.2l1.1 4.7.4-.4-1-4.1z"/>
<path color="#0068ff" d="M138.5 145.9l1 4.7.4-1-1-4.1z"/>
<path color="#0cf" d="M139.5 150.6l.9 4.7.5-1.6-1-4.1z"/>
<path color="#00ffcd" d="M140.4 155.3l1 4.6.4-2.1-.9-4.1z"/>
<path color="#00ff69" d="M141.4 159.9l.9 4.6.4-2.6-.9-4.1z"/>
<path color="#01ff08" d="M142.3 164.5l1.1 4.6.4-3.2-1.1-4z"/>
<path color="#7cff26" d="M143.4 169.1l1.3 4.5.4-3.7-1.3-4z"/>
<path color="#a8ff06" d="M144.7 173.6l2 4.3.4-3.9-2-4.1z"/>
<path color="#466d00" d="M146.7 177.9l2.1.5.4-3.7-2.1-.7z"/>
<path color="#226400" d="M148.8 178.4l1.3-1.5.4-3.3-1.3 1.1z"/>
<path color="#006002" d="M150.1 176.9l1.1-2.1.5-2.8-1.2 1.6z"/>
<path color="#005e27" d="M151.2 174.8l1.1-2.4.4-2.2-1 1.8z"/>
<path color="#005d4b" d="M152.3 172.4l1-2.6.4-1.6-1 2z"/>
<path color="#00495d" d="M153.3 169.8l.8-1.8.3-.9.3-.9-1 2z"/>
<path color="#00285e" d="M155.7 164.5l.1-.3-1.1 2-.3.9z"/>
<path color="#001ec3" d="M157 162.6l-1.2 1.6-.1.3z"/>
<path color="#d700f0" d="M89.9 84.1l1.7 4 .7.7-1.7-3.7z"/>
<path color="#8c00ff" d="M91.6 88.1l1.3 4.6.6.2-1.2-4.1z"/>
<path color="#2100ff" d="M92.9 92.7l1.1 4.7.6-.2-1.1-4.3z"/>
<path color="#0050ff" d="M94 97.4l1 4.7.5-.7-.9-4.2z"/>
<path color="#00c4ff" d="M95 102.1l1 4.8.5-1.2-1-4.3z"/>
<path color="#00ffc5" d="M96 106.9l1 4.7.4-1.7-.9-4.2z"/>
<path color="#00ff51" d="M97 111.6l1 4.6.4-2.1-1-4.2z"/>
<path color="#21ff00" d="M98 116.2l1 4.6.4-2.6-1-4.1z"/>
<path color="#9dff12" d="M99 120.8l1.2 4.4.4-3-1.2-4z"/>
<path color="#f4ff0f" d="M100.2 125.2l1.7 4.1.4-3.3-1.7-3.8z"/>
<path color="#d700f0" d="M110.3 106.2l1.9 4.3.6.7-1.8-4z"/>
<path color="#8c00ff" d="M112.2 110.5l1.3 4.9.6.1-1.3-4.3z"/>
<path color="#2100ff" d="M113.5 115.4l1.1 4.9.5-.3-1-4.5z"/>
<path color="#0050ff" d="M114.6 120.3l1 5 .5-.9-1-4.4z"/>
<path color="#00c4ff" d="M115.6 125.3l1 5 .5-1.4-1-4.5z"/>
<path color="#00ffc5" d="M116.6 130.3l1 4.9.4-1.9-.9-4.4z"/>
<path color="#00ff51" d="M117.6 135.2l.9 4.8.5-2.3-1-4.4z"/>
<path color="#21ff00" d="M118.5 140l1.1 4.8.4-2.8-1-4.3z"/>
<path color="#9aff0f" d="M119.6 144.8l1.2 4.7.4-3.2-1.2-4.3z"/>
<path color="#f4ff0f" d="M120.8 149.5l1.9 4.3.4-3.5-1.9-4z"/>
<path color="#626d00" d="M122.7 153.8l1.8 0 .4-3.3-1.8-.2z"/>
<path color="#00a4d4" d="M127.9 143.1l.8-3.1.4-1-.7 2.7z"/>
<path color="#0044d6" d="M128.7 140l.8-3.1.5-.4-.9 2.5z"/>
<path color="#d700f0" d="M133.6 131.4l2 4.7.5.5-2-4.3z"/>
<path color="#8c00ff" d="M135.6 136.1l1.4 5.1.4 0-1.3-4.6z"/>
<path color="#2100ff" d="M137 141.2l1.1 5.2.4-.5-1.1-4.7z"/>
<path color="#0050ff" d="M138.1 146.4l1 5.2.4-1-1-4.7z"/>
<path color="#00c4ff" d="M139.1 151.6l.9 5.2.4-1.5-.9-4.7z"/>
<path color="#00ffc5" d="M140 156.8l.9 5.2.5-2.1-1-4.6z"/>
<path color="#00ff51" d="M140.9 162l1 5.1.4-2.6-.9-4.6z"/>
<path color="#20ff00" d="M141.9 167.1l1.1 5 .4-3-1.1-4.6z"/>
<path color="#98ff0c" d="M143 172.1l1.2 4.9.5-3.4-1.3-4.5z"/>
<path color="#f3ff0e" d="M144.2 177l2.1 4.7.4-3.8-2-4.3z"/>
<path color="#626d00" d="M146.3 181.7l2.1.2.4-3.5-2.1-.5z"/>
<path color="#366200" d="M148.4 181.9l1.3-1.9.4-3.1-1.3 1.5z"/>
<path color="#0c5e00" d="M149.7 180l1.1-2.6.4-2.6-1.1 2.1z"/>
<path color="#005c1b" d="M150.8 177.4l.4-.9.8-2.6.3-1.5-1.1 2.4z"/>
<path color="#005b47" d="M153.2 170.3l.1-.5-1 2.6-.3 1.5z"/>
<path color="#00525b" d="M154.1 168l-.8 1.8-.1.5z"/>
<path color="#fb00d9" d="M89.2 83.2l1.8 4.3.6.6-1.7-4z"/>
<path color="#bd00ff" d="M91 87.5l1.2 5.1.7.1-1.3-4.6z"/>
<path color="#4500ff" d="M92.2 92.6l1.2 5.1.6-.3-1.1-4.7z"/>
<path color="#003aff" d="M93.4 97.7l1 5.2.6-.8-1-4.7z"/>
<path color="#00bdff" d="M94.4 102.9l1 5.2.6-1.2-1-4.8z"/>
<path color="#00ffbe" d="M95.4 108.1l1 5.2.6-1.7-1-4.7z"/>
<path color="#00ff3b" d="M96.4 113.3l1.1 5.1.5-2.2-1-4.6z"/>
<path color="#4f0" d="M97.5 118.4l1.1 4.9.4-2.5-1-4.6z"/>
<path color="#c0ff04" d="M98.6 123.3l1.2 4.8.4-2.9-1.2-4.4z"/>
<path color="#ffff24" d="M99.8 128.1l1.7 4.3.4-3.1-1.7-4.1z"/>
<path color="#fb00d9" d="M109.7 105.5l1.9 4.6.6.4-1.9-4.3z"/>
<path color="#bd00ff" d="M111.6 110.1l1.3 5.3.6 0-1.3-4.9z"/>
<path color="#4500ff" d="M112.9 115.4l1.2 5.4.5-.5-1.1-4.9z"/>
<path color="#003aff" d="M114.1 120.8l1 5.4.5-.9-1-5z"/>
<path color="#00bdff" d="M115.1 126.2l1 5.5.5-1.4-1-5z"/>
<path color="#00ffbe" d="M116.1 131.7l1 5.4.5-1.9-1-4.9z"/>
<path color="#00ff3b" d="M117.1 137.1l1 5.3.4-2.4-.9-4.8z"/>
<path color="#4f0" d="M118.1 142.4l1.1 5.2.4-2.8-1.1-4.8z"/>
<path color="#bfff03" d="M119.2 147.6l1.2 5 .4-3.1-1.2-4.7z"/>
<path color="#ffff23" d="M120.4 152.6l1.9 4.6.4-3.4-1.9-4.3z"/>
<path color="#6d5e00" d="M122.3 157.2l1.8-.3.4-3.1-1.8 0z"/>
<path color="#00a2d9" d="M127.4 144.6l.8-3.6.5-1-.8 3.1z"/>
<path color="#0033db" d="M128.2 141l.8-3.5.5-.6-.8 3.1z"/>
<path color="#fb00d9" d="M133.1 130.9l2.1 4.9.4.3-2-4.7z"/>
<path color="#bd00ff" d="M135.2 135.8l1.3 5.6.5-.2-1.4-5.1z"/>
<path color="#4500ff" d="M136.5 141.4l1.1 5.7.5-.7-1.1-5.2z"/>
<path color="#003aff" d="M137.6 147.1l1 5.7.5-1.2-1-5.2z"/>
<path color="#00bdff" d="M138.6 152.8l1 5.6.4-1.6-.9-5.2z"/>
<path color="#00ffbe" d="M139.6 158.4l.9 5.7.4-2.1-.9-5.2z"/>
<path color="#00ff3b" d="M140.5 164.1l1 5.5.4-2.5-1-5.1z"/>
<path color="#4f0" d="M141.5 169.6l1 5.5.5-3-1.1-5z"/>
<path color="#bfff02" d="M142.5 175.1l1.3 5.3.4-3.4-1.2-4.9z"/>
<path color="#ff2" d="M143.8 180.4l2.1 4.9.4-3.6-2.1-4.7z"/>
<path color="#6d5e00" d="M145.9 185.3l2.1 0 .4-3.4-2.1-.2z"/>
<path color="#4a6100" d="M148 185.3l.3-.5 1.2-3 .2-1.8-1.3 1.9z"/>
<path color="#155d00" d="M150.8 177.8l0-.4-1.1 2.6-.2 1.8z"/>
<path color="#005c07" d="M151.2 176.5l-.4.9 0 .4z"/>
<path color="#ff00a6" d="M88.4 82.8l1.8 4.5.8.2-1.8-4.3z"/>
<path color="#ea00ff" d="M90.2 87.3l1.3 5.4.7-.1-1.2-5.1z"/>
<path color="#6500ff" d="M91.5 92.7l1.2 5.6.7-.6-1.2-5.1z"/>
<path color="#0027ff" d="M92.7 98.3l1.1 5.6.6-1-1-5.2z"/>
<path color="#00b6ff" d="M93.8 103.9l1 5.6.6-1.4-1-5.2z"/>
<path color="#00ffb7" d="M94.8 109.5l1.1 5.5.5-1.7-1-5.2z"/>
<path color="#00ff27" d="M95.9 115l1 5.5.6-2.1-1.1-5.1z"/>
<path color="#65ff00" d="M96.9 120.5l1.2 5.4.5-2.6-1.1-4.9z"/>
<path color="#eaff00" d="M98.1 125.9l1.2 5.1.5-2.9-1.2-4.8z"/>
<path color="#ffe740" d="M99.3 131l1.8 4.5.4-3.1-1.7-4.3z"/>
<path color="#ff00a6" d="M109 105.1l2 4.9.6.1-1.9-4.6z"/>
<path color="#ea00ff" d="M111 110l1.3 5.7.6-.3-1.3-5.3z"/>
<path color="#6500ff" d="M112.3 115.7l1.2 5.8.6-.7-1.2-5.4z"/>
<path color="#0027ff" d="M113.5 121.5l1 5.9.6-1.2-1-5.4z"/>
<path color="#00b6ff" d="M114.5 127.4l1 5.8.6-1.5-1-5.5z"/>
<path color="#00ffb7" d="M115.5 133.2l1 5.8.6-1.9-1-5.4z"/>
<path color="#00ff27" d="M116.5 139l1.1 5.7.5-2.3-1-5.3z"/>
<path color="#65ff00" d="M117.6 144.7l1.1 5.6.5-2.7-1.1-5.2z"/>
<path color="#e9ff00" d="M118.7 150.3l1.2 5.4.5-3.1-1.2-5z"/>
<path color="#ffe740" d="M119.9 155.7l1.9 4.8.5-3.3-1.9-4.6z"/>
<path color="#6d4700" d="M121.8 160.5l1.8-.5.5-3.1-1.8.3z"/>
<path color="#00d520" d="M125.4 154l.8-3.8.5-2-.8 3.3z"/>
<path color="#00da9c" d="M126.2 150.2l.7-3.9.5-1.7-.7 3.6z"/>
<path color="#009edd" d="M126.9 146.3l.8-4 .5-1.3-.8 3.6z"/>
<path color="#02d" d="M127.7 142.3l.8-4 .5-.8-.8 3.5z"/>
<path color="#ff00a6" d="M132.5 130.6l2.1 5.3.6-.1-2.1-4.9z"/>
<path color="#ea00ff" d="M134.6 135.9l1.4 6 .5-.5-1.3-5.6z"/>
<path color="#6500ff" d="M136 141.9l1.1 6.1.5-.9-1.1-5.7z"/>
<path color="#0027ff" d="M137.1 148l1 6.1.5-1.3-1-5.7z"/>
<path color="#00b6ff" d="M138.1 154.1l1 6.1.5-1.8-1-5.6z"/>
<path color="#00ffb7" d="M139.1 160.2l.9 6.1.5-2.2-.9-5.7z"/>
<path color="#00ff27" d="M140 166.3l1 5.9.5-2.6-1-5.5z"/>
<path color="#65ff00" d="M141 172.2l1.1 5.8.4-2.9-1-5.5z"/>
<path color="#e9ff00" d="M142.1 178l1.3 5.7.4-3.3-1.3-5.3z"/>
<path color="#ffd136" d="M143.4 183.7l1.9 5 .1 0 .5-3.4-2.1-4.9z"/>
<path color="#6d4c00" d="M147.9 185.8l.1-.5-2.1 0-.5 3.4z"/>
<path color="#636000" d="M148.3 184.8l-.3.5-.1.5z"/>
<path color="#f07" d="M87.6 82.8l1.8 4.7.8-.2-1.8-4.5z"/>
<path color="#f0e" d="M89.4 87.5l1.3 5.8.8-.6-1.3-5.4z"/>
<path color="#8200ff" d="M90.7 93.3l1.2 5.9.8-.9-1.2-5.6z"/>
<path color="#0016ff" d="M91.9 99.2l1.1 5.9.8-1.2-1.1-5.6z"/>
<path color="#00b1ff" d="M93 105.1l1.1 6 .7-1.6-1-5.6z"/>
<path color="#00ffb1" d="M94.1 111.1l1.1 5.9.7-2-1.1-5.5z"/>
<path color="#00ff16" d="M95.2 117l1.1 5.8.6-2.3-1-5.5z"/>
<path color="#81ff00" d="M96.3 122.8l1.2 5.6.6-2.5-1.2-5.4z"/>
<path color="#fe0" d="M97.5 128.4l1.2 5.4.6-2.8-1.2-5.1z"/>
<path color="#f07" d="M108.3 105.3l1.9 5.1.8-.4-2-4.9z"/>
<path color="#f0e" d="M110.2 110.4l1.4 6 .7-.7-1.3-5.7z"/>
<path color="#8200ff" d="M111.6 116.4l1.2 6.2.7-1.1-1.2-5.8z"/>
<path color="#0016ff" d="M112.8 122.6l1 6.2.7-1.4-1-5.9z"/>
<path color="#00b1ff" d="M113.8 128.8l1.1 6.3.6-1.9-1-5.8z"/>
<path color="#00ffb1" d="M114.9 135.1l1 6.1.6-2.2-1-5.8z"/>
<path color="#00ff16" d="M115.9 141.2l1.1 6 .6-2.5-1.1-5.7z"/>
<path color="#81ff00" d="M117 147.2l1.1 5.9.6-2.8-1.1-5.6z"/>
<path color="#fe0" d="M118.1 153.1l1.3 5.7.5-3.1-1.2-5.4z"/>
<path color="#ffa52e" d="M119.4 158.8l1.9 5 .5-3.3-1.9-4.8z"/>
<path color="#6e3300" d="M121.3 163.8l1.7-.6.6-3.2-1.8.5z"/>
<path color="#0d9" d="M125.6 152.5l.7-4.3.6-1.9-.7 3.9z"/>
<path color="#009bdf" d="M126.3 148.2l.7-4.3.7-1.6-.8 4z"/>
<path color="#0014df" d="M127 143.9l.8-4.3.7-1.3-.8 4z"/>
<path color="#f07" d="M131.9 131l2.1 5.5.6-.6-2.1-5.3z"/>
<path color="#f0e" d="M134 136.5l1.3 6.3.7-.9-1.4-6z"/>
<path color="#8200ff" d="M135.3 142.8l1.2 6.5.6-1.3-1.1-6.1z"/>
<path color="#0016ff" d="M136.5 149.3l1 6.5.6-1.7-1-6.1z"/>
<path color="#00b1ff" d="M137.5 155.8l1 6.5.6-2.1-1-6.1z"/>
<path color="#00ffb1" d="M138.5 162.3l1 6.4.5-2.4-.9-6.1z"/>
<path color="#00ff16" d="M139.5 168.7l1 6.3.5-2.8-1-5.9z"/>
<path color="#81ff00" d="M140.5 175l1 6.1.6-3.1-1.1-5.8z"/>
<path color="#fff400" d="M141.5 181.1l.3 1.7 1.2 3.2.4-2.3-1.3-5.7z"/>
<path color="#ffa612" d="M145.3 188.7l-1.9-5-.4 2.3z"/>
<path color="#ff0052" d="M86.5 83.7l1.9 5 1-1.2-1.8-4.7z"/>
<path color="#ff00d0" d="M88.4 88.7l1.3 5.9 1-1.3-1.3-5.8z"/>
<path color="#9700ff" d="M89.7 94.6l1.3 6.2.9-1.6-1.2-5.9z"/>
<path color="#0008ff" d="M91 100.8l1.1 6.2.9-1.9-1.1-5.9z"/>
<path color="#00acff" d="M92.1 107l1.1 6.2.9-2.1-1.1-6z"/>
<path color="#00ffad" d="M93.2 113.2l1.1 6.1.9-2.3-1.1-5.9z"/>
<path color="#00ff09" d="M94.3 119.3l1.1 6.1.9-2.6-1.1-5.8z"/>
<path color="#97ff00" d="M95.4 125.4l1.2 5.8.9-2.8-1.2-5.6z"/>
<path color="#ffd000" d="M96.6 131.2l1.3 5.7.8-3.1-1.2-5.4z"/>
<path color="#7d0028" d="M105.7 107.8l1.6-1.3 1-1.2-1.7 1.2z"/>
<path color="#ff0052" d="M107.3 106.5l2 5.3.9-1.4-1.9-5.1z"/>
<path color="#ff00d0" d="M109.3 111.8l1.4 6.2.9-1.6-1.4-6z"/>
<path color="#9700ff" d="M110.7 118l1.2 6.5.9-1.9-1.2-6.2z"/>
<path color="#0008ff" d="M111.9 124.5l1.1 6.5.8-2.2-1-6.2z"/>
<path color="#00acff" d="M113 131l1 6.4.9-2.3-1.1-6.3z"/>
<path color="#00ffad" d="M114 137.4l1.1 6.4.8-2.6-1-6.1z"/>
<path color="#00ff09" d="M115.1 143.8l1.1 6.3.8-2.9-1.1-6z"/>
<path color="#97ff00" d="M116.2 150.1l1.1 6.1.8-3.1-1.1-5.9z"/>
<path color="#ffd000" d="M117.3 156.2l1.3 5.9.8-3.3-1.3-5.7z"/>
<path color="#ff5805" d="M118.6 162.1l1.9 5.1.8-3.4-1.9-5z"/>
<path color="#6f2400" d="M120.5 167.2l1.8-.6.7-3.4-1.7.6z"/>
<path color="#7fd600" d="M123.3 163.4l.8-3.9.7-2.9-.8 3.6z"/>
<path color="#00dc07" d="M124.1 159.5l.7-4.2.8-2.8-.8 4.1z"/>
<path color="#00df97" d="M124.8 155.3l.7-4.5.8-2.6-.7 4.3z"/>
<path color="#0098e0" d="M125.5 150.8l.7-4.6.8-2.3-.7 4.3z"/>
<path color="#0008df" d="M126.2 146.2l.8-4.6.8-2-.8 4.3z"/>
<path color="#8200dc" d="M127 141.6l.9-4.3.8-1.8-.9 4.1z"/>
<path color="#7d0028" d="M129 133.6l2-1.1.9-1.5-2 1z"/>
<path color="#ff0052" d="M131 132.5l2.2 5.7.8-1.7-2.1-5.5z"/>
<path color="#ff00d0" d="M133.2 138.2l1.4 6.5.7-1.9-1.3-6.3z"/>
<path color="#9700ff" d="M134.6 144.7l1.1 6.8.8-2.2-1.2-6.5z"/>
<path color="#0008ff" d="M135.7 151.5l1 6.8.8-2.5-1-6.5z"/>
<path color="#0af" d="M136.7 158.3l.5 3 .6 3.3.7-2.3-1-6.5z"/>
<path color="#00ffad" d="M139 170.6l.5-1.9-1-6.4-.7 2.3z"/>
<path color="#00ff0c" d="M140.2 176.2l.3-1.2-1-6.3-.5 1.9z"/>
<path color="#90ff00" d="M141.5 181.5l0-.4-1-6.1-.3 1.2z"/>
<path color="#e5ff00" d="M141.8 182.8l-.3-1.7 0 .4z"/>
<path color="#71001e" d="M83.8 88.1l1.3-1.4 1.4-3-1.3 1.4z"/>
<path color="#ff0045" d="M85.1 86.7l1.9 5 1.4-3-1.9-5z"/>
<path color="#ff00c5" d="M87 91.7l1.4 5.9 1.3-3-1.3-5.9z"/>
<path color="#a000ff" d="M88.4 97.6l1.2 6.2 1.4-3-1.3-6.2z"/>
<path color="#0003ff" d="M89.6 103.8l1.2 6.2 1.3-3-1.1-6.2z"/>
<path color="#0af" d="M90.8 110l1.1 6.2 1.3-3-1.1-6.2z"/>
<path color="#00ffab" d="M91.9 116.2l1.1 6.2 1.3-3.1-1.1-6.1z"/>
<path color="#00ff04" d="M93 122.4l1.2 6 1.2-3-1.1-6.1z"/>
<path color="#9fff00" d="M94.2 128.4l1.2 5.9 1.2-3.1-1.2-5.8z"/>
<path color="#ffc500" d="M95.4 134.3l1.3 5.6 1.2-3-1.3-5.7z"/>
<path color="#ff4500" d="M96.7 139.9l1.8 4.8 1.2-3-1.8-4.8z"/>
<path color="#ce9f00" d="M99.9 143.9l.7-3.2 1.3-3.1-.8 3.2z"/>
<path color="#89da00" d="M100.6 140.7l.6-3.8 1.2-3.2-.5 3.9z"/>
<path color="#71001e" d="M104.4 111.1l1.6-1.2 1.3-3.4-1.6 1.3z"/>
<path color="#ff0045" d="M106 109.9l2 5.3 1.3-3.4-2-5.3z"/>
<path color="#ff00c5" d="M108 115.2l1.4 6.2 1.3-3.4-1.4-6.2z"/>
<path color="#a000ff" d="M109.4 121.4l1.2 6.5 1.3-3.4-1.2-6.5z"/>
<path color="#0003ff" d="M110.6 127.9l1.2 6.5 1.2-3.4-1.1-6.5z"/>
<path color="#0af" d="M111.8 134.4l1 6.5 1.2-3.5-1-6.4z"/>
<path color="#00ffab" d="M112.8 140.9l1.1 6.4 1.2-3.5-1.1-6.4z"/>
<path color="#00ff04" d="M113.9 147.3l1.1 6.2 1.2-3.4-1.1-6.3z"/>
<path color="#9fff00" d="M115 153.5l1.1 6.2 1.2-3.5-1.1-6.1z"/>
<path color="#ffc500" d="M116.1 159.7l1.4 5.8 1.1-3.4-1.3-5.9z"/>
<path color="#ff4500" d="M117.5 165.5l1.9 5.2 1.1-3.5-1.9-5.1z"/>
<path color="#711e00" d="M119.4 170.7l1.7-.6 1.2-3.5-1.8.6z"/>
<path color="#ce9f00" d="M121.1 170.1l1-3.1 1.2-3.6-1 3.2z"/>
<path color="#89da00" d="M122.1 167l.8-3.9 1.2-3.6-.8 3.9z"/>
<path color="#00df03" d="M122.9 163.1l.7-4.2 1.2-3.6-.7 4.2z"/>
<path color="#00e096" d="M123.6 158.9l.7-4.4 1.2-3.7-.7 4.5z"/>
<path color="#0097e0" d="M124.3 154.5l.8-4.6 1.1-3.7-.7 4.6z"/>
<path color="#0004de" d="M125.1 149.9l.7-4.5 1.2-3.8-.8 4.6z"/>
<path color="#8800da" d="M125.8 145.4l.9-4.3 1.2-3.8-.9 4.3z"/>
<path color="#71001e" d="M127.9 137.4l2-1.1 1.1-3.8-2 1.1z"/>
<path color="#ff003e" d="M129.9 136.3l.4.7 2.1 3.7.8-2.5-2.2-5.7z"/>
<path color="#ff00c3" d="M134 146.4l.6-1.7-1.4-6.5-.8 2.5z"/>
<path color="#a000ff" d="M135.4 152.4l.3-.9-1.1-6.8-.6 1.7z"/>
<path color="#0003ff" d="M136.7 158.6l0-.3-1-6.8-.3.9z"/>
<path color="#0070ff" d="M137.2 161.3l-.5-3 0 .3z"/>
<path color="#6f0027" d="M82.7 91.7l1.3-1.2 1.1-3.8-1.3 1.4z"/>
<path color="#ff0862" d="M84 90.5l1.9 4.8 1.1-3.6-1.9-5z"/>
<path color="#ff00d6" d="M85.9 95.3l1.4 5.7 1.1-3.4-1.4-5.9z"/>
<path color="#9300ff" d="M87.3 101l1.2 5.9 1.1-3.1-1.2-6.2z"/>
<path color="#000bff" d="M88.5 106.9l1.2 6 1.1-2.9-1.2-6.2z"/>
<path color="#00adff" d="M89.7 112.9l1.1 6 1.1-2.7-1.1-6.2z"/>
<path color="#00ffae" d="M90.8 118.9l1.1 5.8 1.1-2.3-1.1-6.2z"/>
<path color="#00ff0c" d="M91.9 124.7l1.1 5.8 1.2-2.1-1.2-6z"/>
<path color="#92ff00" d="M93 130.5l1.2 5.7 1.2-1.9-1.2-5.9z"/>
<path color="#ffd700" d="M94.2 136.2l1.3 5.4 1.2-1.7-1.3-5.6z"/>
<path color="#ff5a00" d="M95.5 141.6l1.8 4.8 1.2-1.7-1.8-4.8z"/>
<path color="#d0af00" d="M98.8 145.7l.7-3 1.1-2-.7 3.2z"/>
<path color="#7edb00" d="M99.5 142.7l.5-3.6 1.2-2.2-.6 3.8z"/>
<path color="#6f0027" d="M103.3 115.1l1.7-1.1 1-4.1-1.6 1.2z"/>
<path color="#ff0761" d="M105 114l2 5.2 1-4-2-5.3z"/>
<path color="#ff00d6" d="M107 119.2l1.4 6 1-3.8-1.4-6.2z"/>
<path color="#9300ff" d="M108.4 125.2l1.2 6.2 1-3.5-1.2-6.5z"/>
<path color="#000bff" d="M109.6 131.4l1.1 6.2 1.1-3.2-1.2-6.5z"/>
<path color="#00adff" d="M110.7 137.6l1.1 6.2 1-2.9-1-6.5z"/>
<path color="#00ffae" d="M111.8 143.8l1.1 6.2 1-2.7-1.1-6.4z"/>
<path color="#00ff0c" d="M112.9 150l1 6 1.1-2.5-1.1-6.2z"/>
<path color="#92ff00" d="M113.9 156l1.2 5.9 1-2.2-1.1-6.2z"/>
<path color="#ffd700" d="M115.1 161.9l1.3 5.7 1.1-2.1-1.4-5.8z"/>
<path color="#ff5a00" d="M116.4 167.6l2 5.1 1-2-1.9-5.2z"/>
<path color="#7f2d00" d="M118.4 172.7l1.7-.5 1-2.1-1.7.6z"/>
<path color="#d0af00" d="M120.1 172.2l1-2.8 1-2.4-1 3.1z"/>
<path color="#7edb00" d="M121.1 169.4l.8-3.6 1-2.7-.8 3.9z"/>
<path color="#00df0a" d="M121.9 165.8l.7-4 1-2.9-.7 4.2z"/>
<path color="#00e098" d="M122.6 161.8l.7-4.2 1-3.1-.7 4.4z"/>
<path color="#0098df" d="M123.3 157.6l.8-4.2 1-3.5-.8 4.6z"/>
<path color="#000adc" d="M124.1 153.4l.7-4.2 1-3.8-.7 4.5z"/>
<path color="#7300d6" d="M124.8 149.2l.3-1.1.8-3.7.8-3.3-.9 4.3z"/>
<path color="#5d004c" d="M127.3 139.7l.6-2.3-1.2 3.7-.8 3.3z"/>
<path color="#700022" d="M129.8 136.7l.1-.4-2 1.1-.6 2.3z"/>
<path color="#ff0e36" d="M130.3 137l-.4-.7-.1.4z"/>
<path color="#a1ff00" d="M74.1 112.7l.4 1.9.6-.6z"/>
<path color="#fffe00" d="M74.5 114.6l1.3 4.9 1.2-.9-.8-3.2-1.1-1.4z"/>
<path color="#6f003b" d="M81.7 95.5l1.4-.9.9-4.1-1.3 1.2z"/>
<path color="#ff20a7" d="M83.1 94.6l1.8 4.6 1-3.9-1.9-4.8z"/>
<path color="#ff00fa" d="M84.9 99.2l1.4 5.4 1-3.6-1.4-5.7z"/>
<path color="#7800ff" d="M86.3 104.6l1.2 5.5 1-3.2-1.2-5.9z"/>
<path color="#001bff" d="M87.5 110.1l1.1 5.6 1.1-2.8-1.2-6z"/>
<path color="#00b2ff" d="M88.6 115.7l1.1 5.6 1.1-2.4-1.1-6z"/>
<path color="#00ffb3" d="M89.7 121.3l1.1 5.5 1.1-2.1-1.1-5.8z"/>
<path color="#00ff1c" d="M90.8 126.8l1.1 5.5 1.1-1.8-1.1-5.8z"/>
<path color="#78ff00" d="M91.9 132.3l1.2 5.3 1.1-1.4-1.2-5.7z"/>
<path color="#fffb00" d="M93.1 137.6l1.3 5.1 1.1-1.1-1.3-5.4z"/>
<path color="#ff8700" d="M94.4 142.7l1.8 4.6 1.1-.9-1.8-4.8z"/>
<path color="#ceca00" d="M97.7 146.8l.7-2.6 1.1-1.5-.7 3z"/>
<path color="#67da00" d="M98.4 144.2l.6-3.2 1-1.9-.5 3.6z"/>
<path color="#00de18" d="M99 141l.5-3.6 1-2.3-.5 4z"/>
<path color="#5e005d" d="M101.5 122.3l.9-3 .9-4.2-.8 3.4z"/>
<path color="#6f003b" d="M102.4 119.3l1.6-.8 1-4.5-1.7 1.1z"/>
<path color="#ff1fa5" d="M104 118.5l2 5 1-4.3-2-5.2z"/>
<path color="#ff00fa" d="M106 123.5l1.4 5.6 1-3.9-1.4-6z"/>
<path color="#7800ff" d="M107.4 129.1l1.2 5.9 1-3.6-1.2-6.2z"/>
<path color="#001bff" d="M108.6 135l1.1 5.8 1-3.2-1.1-6.2z"/>
<path color="#00b2ff" d="M109.7 140.8l1.1 5.8 1-2.8-1.1-6.2z"/>
<path color="#00ffb3" d="M110.8 146.6l1.1 5.8 1-2.4-1.1-6.2z"/>
<path color="#00ff1c" d="M111.9 152.4l1 5.7 1-2.1-1-6z"/>
<path color="#78ff00" d="M112.9 158.1l1.2 5.6 1-1.8-1.2-5.9z"/>
<path color="#fffb00" d="M114.1 163.7l1.3 5.3 1-1.4-1.3-5.7z"/>
<path color="#ff8700" d="M115.4 169l2 4.9 1-1.2-2-5.1z"/>
<path color="#904c00" d="M117.4 173.9l1.7-.2 1-1.5-1.7.5z"/>
<path color="#ceca00" d="M119.1 173.7l1-2.5 1-1.8-1 2.8z"/>
<path color="#5cda00" d="M120.1 171.2l.7-2.7.2-.6.9-2.1-.8 3.6z"/>
<path color="#00de17" d="M122 163.7l.6-1.9-.7 4-.9 2.1z"/>
<path color="#00de9b" d="M122.9 159.2l.4-1.6-.7 4.2-.6 1.9z"/>
<path color="#009add" d="M123.8 154.4l.3-1-.8 4.2-.4 1.6z"/>
<path color="#0011da" d="M124.8 149.4l0-.2-.7 4.2-.3 1z"/>
<path color="#3c00d7" d="M125.1 148.1l-.3 1.1 0 .2z"/>
<path color="#59ff00" d="M72.2 110.8l1.1 4.7 1.2-.9-.4-1.9-1.7-2.2z"/>
<path color="#d6ff00" d="M73.3 115.5l1.3 4.6 1.2-.6-1.3-4.9z"/>
<path color="#700054" d="M80.8 99.6l1.3-.6 1-4.4-1.4.9z"/>
<path color="#ff37f5" d="M82.1 99l1.9 4.4.9-4.2-1.8-4.6z"/>
<path color="#d600ff" d="M84 103.4l1.3 5 1-3.8-1.4-5.4z"/>
<path color="#5700ff" d="M85.3 108.4l1.2 5.1 1-3.4-1.2-5.5z"/>
<path color="#002fff" d="M86.5 113.5l1.1 5.1 1-2.9-1.1-5.6z"/>
<path color="#00b9ff" d="M87.6 118.6l1.1 5.2 1-2.5-1.1-5.6z"/>
<path color="#00ffba" d="M88.7 123.8l1 5 1.1-2-1.1-5.5z"/>
<path color="#00ff30" d="M89.7 128.8l1.1 5.1 1.1-1.6-1.1-5.5z"/>
<path color="#57ff00" d="M90.8 133.9l1.2 4.9 1.1-1.2-1.2-5.3z"/>
<path color="#d6ff00" d="M92 138.8l1.2 4.8 1.2-.9-1.3-5.1z"/>
<path color="#ffbe00" d="M93.2 143.6l1.9 4.4 1.1-.7-1.8-4.6z"/>
<path color="#a8c800" d="M96.5 147.8l.8-2.3 1.1-1.3-.7 2.6z"/>
<path color="#49d700" d="M97.3 145.5l.6-2.8 1.1-1.7-.6 3.2z"/>
<path color="#00db29" d="M97.9 142.7l.5-3.2 1.1-2.1-.5 3.6z"/>
<path color="#500060" d="M100.6 126.4l.8-2.6 1-4.5-.9 3z"/>
<path color="#700054" d="M101.4 123.8l1.7-.5.9-4.8-1.6.8z"/>
<path color="#ff36f4" d="M103.1 123.3l2 4.7.9-4.5-2-5z"/>
<path color="#d600ff" d="M105.1 128l1.4 5.3.9-4.2-1.4-5.6z"/>
<path color="#5700ff" d="M106.5 133.3l1.2 5.4.9-3.7-1.2-5.9z"/>
<path color="#002fff" d="M107.7 138.7l1.1 5.3.9-3.2-1.1-5.8z"/>
<path color="#00b9ff" d="M108.8 144l1 5.4 1-2.8-1.1-5.8z"/>
<path color="#00ffba" d="M109.8 149.4l1.1 5.3 1-2.3-1.1-5.8z"/>
<path color="#00ff30" d="M110.9 154.7l1 5.3 1-1.9-1-5.7z"/>
<path color="#57ff00" d="M111.9 160l1.2 5.2 1-1.5-1.2-5.6z"/>
<path color="#d6ff00" d="M113.1 165.2l1.3 5 1-1.2-1.3-5.3z"/>
<path color="#ffbe00" d="M114.4 170.2l2 4.7 1-1-2-4.9z"/>
<path color="#b58200" d="M116.4 174.9l0 .1 2.2-.6.5-.7-1.7.2z"/>
<path color="#b6ca00" d="M119.9 171.5l.2-.3-1 2.5-.5.7z"/>
<path color="#6fd700" d="M120.8 168.5l-.7 2.7-.2.3z"/>
<path color="#00ff40" d="M69.9 107.8l1 4.4 1.3-1.4-.2-.8-2-2.4z"/>
<path color="#32ff00" d="M70.9 112.2l1.1 4.3 1.3-1-1.1-4.7z"/>
<path color="#a3ff00" d="M72 116.5l1.3 4.1 1.3-.5-1.3-4.6z"/>
<path color="#fffc00" d="M73.3 120.6l1.6 3.9 1.3-.3-1.6-4.1z"/>
<path color="#3f0062" d="M79.1 106.2l.7-2.2 1-4.4-.7 2.7z"/>
<path color="#720071" d="M79.8 104l1.4-.3.9-4.7-1.3.6z"/>
<path color="#ff3fff" d="M81.2 103.7l1.8 4.1 1-4.4-1.9-4.4z"/>
<path color="#a400ff" d="M83 107.8l1.3 4.5 1-3.9-1.3-5z"/>
<path color="#3200ff" d="M84.3 112.3l1.2 4.7 1-3.5-1.2-5.1z"/>
<path color="#0046ff" d="M85.5 117l1 4.6 1.1-3-1.1-5.1z"/>
<path color="#00c1ff" d="M86.5 121.6l1.1 4.7 1.1-2.5-1.1-5.2z"/>
<path color="#00ffc1" d="M87.6 126.3l1 4.6 1.1-2.1-1-5z"/>
<path color="#00ff46" d="M88.6 130.9l1.1 4.6 1.1-1.6-1.1-5.1z"/>
<path color="#32ff00" d="M89.7 135.5l1.1 4.5 1.2-1.2-1.2-4.9z"/>
<path color="#a3ff00" d="M90.8 140l1.2 4.4 1.2-.8-1.2-4.8z"/>
<path color="#fffc00" d="M92 144.4l1.9 4.1 1.2-.5-1.9-4.4z"/>
<path color="#7abf00" d="M95.4 148.6l.8-1.8 1.1-1.3-.8 2.3z"/>
<path color="#29d100" d="M96.2 146.8l.6-2.4 1.1-1.7-.6 2.8z"/>
<path color="#00d63a" d="M96.8 144.4l.5-2.7 1.1-2.2-.5 3.2z"/>
<path color="#3f0062" d="M99.6 130.6l.9-2.1.9-4.7-.8 2.6z"/>
<path color="#720071" d="M100.5 128.5l1.7-.1.9-5.1-1.7.5z"/>
<path color="#ff40ff" d="M102.2 128.4l2 4.5.9-4.9-2-4.7z"/>
<path color="#a400ff" d="M104.2 132.9l1.3 4.8 1-4.4-1.4-5.3z"/>
<path color="#3200ff" d="M105.5 137.7l1.2 4.8 1-3.8-1.2-5.4z"/>
<path color="#0046ff" d="M106.7 142.5l1 4.9 1.1-3.4-1.1-5.3z"/>
<path color="#00c1ff" d="M107.7 147.4l1.1 4.9 1-2.9-1-5.4z"/>
<path color="#00ffc1" d="M108.8 152.3l1 4.8 1.1-2.4-1.1-5.3z"/>
<path color="#00ff46" d="M109.8 157.1l1.1 4.8 1-1.9-1-5.3z"/>
<path color="#29ff00" d="M110.9 161.9l.2 1.1 1.1 3.4.9-1.2-1.2-5.2z"/>
<path color="#acff00" d="M113.9 170.8l.5-.6-1.3-5-.9 1.2z"/>
<path color="#ffe400" d="M116.3 174.9l.1 0-2-4.7-.5.6z"/>
<path color="#00ffae" d="M67.7 105.7l1 3.9 1.2-1.8-.1-.3z"/>
<path color="#00ff5e" d="M68.7 109.6l1 3.9 1.2-1.3-1-4.4z"/>
<path color="#0cff00" d="M69.7 113.5l1.1 3.9 1.2-.9-1.1-4.3z"/>
<path color="#6fff00" d="M70.8 117.4l1.2 3.8 1.3-.6-1.3-4.1z"/>
<path color="#c1ff00" d="M72 121.2l1.6 3.6 1.3-.3-1.6-3.9z"/>
<path color="#2c0064" d="M78.1 110.1l.7-1.7 1-4.4-.7 2.2z"/>
<path color="#580074" d="M78.8 108.4l1.4 0 1-4.7-1.4.3z"/>
<path color="#ff3dff" d="M80.2 108.4l1.8 3.8 1-4.4-1.8-4.1z"/>
<path color="#7102ff" d="M82 112.2l1.3 4.1 1-4-1.3-4.5z"/>
<path color="#0c00ff" d="M83.3 116.3l1.1 4.2 1.1-3.5-1.2-4.7z"/>
<path color="#005dff" d="M84.4 120.5l1.1 4.2 1-3.1-1-4.6z"/>
<path color="#00c9ff" d="M85.5 124.7l1 4.2 1.1-2.6-1.1-4.7z"/>
<path color="#00ffc9" d="M86.5 128.9l1 4.1 1.1-2.1-1-4.6z"/>
<path color="#00ff5e" d="M87.5 133l1 4.1 1.2-1.6-1.1-4.6z"/>
<path color="#0cff00" d="M88.5 137.1l1.1 4.1 1.2-1.2-1.1-4.5z"/>
<path color="#6fff00" d="M89.6 141.2l1.2 4.1 1.2-.9-1.2-4.4z"/>
<path color="#c1ff00" d="M90.8 145.3l1.8 3.9 1.3-.7-1.9-4.1z"/>
<path color="#8db900" d="M92.6 149.2l1.6.3 1.2-.9-1.5-.1z"/>
<path color="#4eb200" d="M94.2 149.5l.8-1.4 1.2-1.3-.8 1.8z"/>
<path color="#09c900" d="M95 148.1l.7-2 1.1-1.7-.6 2.4z"/>
<path color="#00cf4b" d="M95.7 146.1l.5-2.2 1.1-2.2-.5 2.7z"/>
<path color="#04005f" d="M97.9 137l.7-2.1 1-4.3-.7 2.6z"/>
<path color="#2c0064" d="M98.6 134.9l.9-1.6 1-4.8-.9 2.1z"/>
<path color="#580074" d="M99.5 133.3l1.7.2 1-5.1-1.7.1z"/>
<path color="#ff3fff" d="M101.2 133.5l2 4.2 1-4.8-2-4.5z"/>
<path color="#7001ff" d="M103.2 137.7l1.3 4.3 1-4.3-1.3-4.8z"/>
<path color="#0300ff" d="M104.5 142l.9 3.5.3.7 1-3.7-1.2-4.8z"/>
<path color="#005bff" d="M107 149.9l.7-2.5-1-4.9-1 3.7z"/>
<path color="#00c7ff" d="M108.3 153.8l.5-1.5-1.1-4.9-.7 2.5z"/>
<path color="#00ffc7" d="M109.5 157.8l.3-.7-1-4.8-.5 1.5z"/>
<path color="#00ff54" d="M110.8 162.1l.1-.2-1.1-4.8-.3.7z"/>
<path color="#00ff12" d="M111.1 163l-.2-1.1-.1.2z"/>
<path color="#00e4ff" d="M65.7 104.7l.8 3.2 1.2-2.2z"/>
<path color="#00ffd9" d="M66.5 107.9l1 3.6 1.2-1.9-1-3.9 0 0z"/>
<path color="#00ff74" d="M67.5 111.5l.9 3.5 1.3-1.5-1-3.9z"/>
<path color="#00ff19" d="M68.4 115l1.1 3.5 1.3-1.1-1.1-3.9z"/>
<path color="#3cff00" d="M69.5 118.5l1.1 3.4 1.4-.7-1.2-3.8z"/>
<path color="#83ff00" d="M70.6 121.9l1.7 3.4 1.3-.5-1.6-3.6z"/>
<path color="#180067" d="M77.1 113.9l.7-1.2 1-4.3-.7 1.7z"/>
<path color="#3f007b" d="M77.8 112.7l1.5.3.9-4.6-1.4 0z"/>
<path color="#bc38ff" d="M79.3 113l1.7 3.6 1-4.4-1.8-3.8z"/>
<path color="#4004ff" d="M81 116.6l1.3 3.7 1-4-1.3-4.1z"/>
<path color="#0019ff" d="M82.3 120.3l1 3.7 1.1-3.5-1.1-4.2z"/>
<path color="#0073ff" d="M83.3 124l1.1 3.8 1.1-3.1-1.1-4.2z"/>
<path color="#00d0ff" d="M84.4 127.8l.9 3.7 1.2-2.6-1-4.2z"/>
<path color="#00ffd1" d="M85.3 131.5l1 3.7 1.2-2.2-1-4.1z"/>
<path color="#00ff74" d="M86.3 135.2l1 3.7 1.2-1.8-1-4.1z"/>
<path color="#00ff19" d="M87.3 138.9l1.1 3.7 1.2-1.4-1.1-4.1z"/>
<path color="#3cff00" d="M88.4 142.6l1.2 3.6 1.2-.9-1.2-4.1z"/>
<path color="#83ff00" d="M89.6 146.2l1.8 3.7 1.2-.7-1.8-3.9z"/>
<path color="#66c500" d="M91.4 149.9l1.5.6 1.3-1-1.6-.3z"/>
<path color="#26a200" d="M92.9 150.5l.9-1 1.2-1.4-.8 1.4z"/>
<path color="#00be13" d="M93.8 149.5l.7-1.5 1.2-1.9-.7 2z"/>
<path color="#00c65a" d="M94.5 148l.6-1.7 1.1-2.4-.5 2.2z"/>
<path color="#000a62" d="M96.9 140.8l.7-1.6 1-4.3-.7 2.1z"/>
<path color="#180067" d="M97.6 139.2l.9-1.2 1-4.7-.9 1.6z"/>
<path color="#440085" d="M98.5 138l1.7.4.1 0 .9-4.9-1.7-.2z"/>
<path color="#c73cff" d="M102.7 140.1l.5-2.4-2-4.2-.9 4.9z"/>
<path color="#4f02ff" d="M104.3 142.9l.2-.9-1.3-4.3-.5 2.4z"/>
<path color="#0d00ff" d="M105.4 145.5l-.9-3.5-.2.9z"/>
<path color="#009eff" d="M63.6 104.7l.8 2.6 1.1-2.6z"/>
<path color="#00d0ff" d="M64.4 107.3l.9 3.1 1.2-2.5-.8-3.2-.2 0z"/>
<path color="#00ffd8" d="M65.3 110.4l.9 3.1 1.3-2-1-3.6z"/>
<path color="#00ff89" d="M66.2 113.5l.9 3.1 1.3-1.6-.9-3.5z"/>
<path color="#00ff3c" d="M67.1 116.6l1 3.1 1.4-1.2-1.1-3.5z"/>
<path color="#0cff00" d="M68.1 119.7l1.1 3.1 1.4-.9-1.1-3.4z"/>
<path color="#48ff00" d="M69.2 122.8l1.6 3.2 1.5-.7-1.7-3.4z"/>
<path color="#3bd100" d="M70.8 126l1.4.7 1.4-1-1.3-.4z"/>
<path color="#05006b" d="M76 117.9l.7-.8 1.1-4.4-.7 1.2z"/>
<path color="#260087" d="M76.7 117.1l1.5.6 1.1-4.7-1.5-.3z"/>
<path color="#7a32ff" d="M78.2 117.7l1.8 3.4 1-4.5-1.7-3.6z"/>
<path color="#1408ff" d="M80 121.1l1.2 3.3 1.1-4.1-1.3-3.7z"/>
<path color="#003cff" d="M81.2 124.4l1 3.3 1.1-3.7-1-3.7z"/>
<path color="#0089ff" d="M82.2 127.7l1 3.3 1.2-3.2-1.1-3.8z"/>
<path color="#00d7ff" d="M83.2 131l.9 3.3 1.2-2.8-.9-3.7z"/>
<path color="#00ffd8" d="M84.1 134.3l1 3.2 1.2-2.3-1-3.7z"/>
<path color="#00ff89" d="M85.1 137.5l1 3.3 1.2-1.9-1-3.7z"/>
<path color="#00ff3c" d="M86.1 140.8l1 3.3 1.3-1.5-1.1-3.7z"/>
<path color="#0cff00" d="M87.1 144.1l1.2 3.3 1.3-1.2-1.2-3.6z"/>
<path color="#48ff00" d="M88.3 147.4l1.8 3.5 1.3-1-1.8-3.7z"/>
<path color="#3bd100" d="M90.1 150.9l1.6.9 1.2-1.3-1.5-.6z"/>
<path color="#00af29" d="M92.5 151.1l.8-1 1.2-2.1-.7 1.5z"/>
<path color="#003464" d="M95.1 146l.5-1.1.2-.4 1.1-3.7-.7 1.8z"/>
<path color="#001765" d="M96.8 142.3l.8-3.1-.7 1.6-1.1 3.7z"/>
<path color="#09006a" d="M98.1 140.1l.4-2.1-.9 1.2-.8 3.1z"/>
<path color="#260075" d="M100.2 138.4l-1.7-.4-.4 2.1z"/>
<path color="#0174ff" d="M61.4 105.5l.7 2.1 1.1-2.9z"/>
<path color="#0097ff" d="M62.1 107.6l.9 2.8 1.4-3.1-.8-2.6-.4 0z"/>
<path color="#00deff" d="M63 110.4l.9 2.7 1.4-2.7-.9-3.1z"/>
<path color="#00ffde" d="M63.9 113.1l.9 2.7 1.4-2.3-.9-3.1z"/>
<path color="#00ff9d" d="M64.8 115.8l.9 2.7 1.4-1.9-.9-3.1z"/>
<path color="#00ff5e" d="M65.7 118.5l.9 2.8 1.5-1.6-1-3.1z"/>
<path color="#00ff21" d="M66.6 121.3l1.1 2.8 1.5-1.3-1.1-3.1z"/>
<path color="#1f0" d="M67.7 124.1l1.6 2.9 1.5-1-1.6-3.2z"/>
<path color="#0edc00" d="M69.3 127l1.4.9 1.5-1.2-1.4-.7z"/>
<path color="#008311" d="M70.7 127.9l.8-.4 1.4-1.6-.7.8z"/>
<path color="#004067" d="M73.6 123.8l.5-1 1.3-3.7-.5 1.4z"/>
<path color="#00276a" d="M74.1 122.8l.6-.8 1.3-4.1-.6 1.2z"/>
<path color="#000f6f" d="M74.7 122l.8-.4 1.2-4.5-.7.8z"/>
<path color="#0a0096" d="M75.5 121.6l1.5.9 1.2-4.8-1.5-.6z"/>
<path color="#3a2aff" d="M77 122.5l1.8 3.1 1.2-4.5-1.8-3.4z"/>
<path color="#0d2fff" d="M78.8 125.6l1.1 3 1.3-4.2-1.2-3.3z"/>
<path color="#015eff" d="M79.9 128.6l1.1 2.9 1.2-3.8-1-3.3z"/>
<path color="#009dff" d="M81 131.5l.9 2.9 1.3-3.4-1-3.3z"/>
<path color="#00deff" d="M81.9 134.4l.9 2.9 1.3-3-.9-3.3z"/>
<path color="#00ffde" d="M82.8 137.3l.9 2.9 1.4-2.7-1-3.2z"/>
<path color="#00ff9d" d="M83.7 140.2l1 2.9 1.4-2.3-1-3.3z"/>
<path color="#00ff5e" d="M84.7 143.1l1 2.9 1.4-1.9-1-3.3z"/>
<path color="#00ff21" d="M85.7 146l1.2 3 1.4-1.6-1.2-3.3z"/>
<path color="#1f0" d="M86.9 149l1.7 3.2 1.5-1.3-1.8-3.5z"/>
<path color="#0edc00" d="M88.6 152.2l1.7 1.2 1.4-1.6-1.6-.9z"/>
<path color="#008215" d="M90.3 153.4l.8-.2.1-.2 1.3-1.9-.8.7z"/>
<path color="#006b26" d="M92.3 151.8l1-1.7-.8 1-1.3 1.9z"/>
<path color="#00673e" d="M93.2 150.3l.7-1.5-.6 1.3-1 1.7z"/>
<path color="#006557" d="M94.1 148.5l.4-1.1-.6 1.4-.7 1.5z"/>
<path color="#005765" d="M94.9 146.6l.2-.6-.6 1.4-.4 1.1z"/>
<path color="#004165" d="M95.6 144.9l-.5 1.1-.2.6z"/>
<path color="#0d70ff" d="M59.1 107.4l.7 1.6 1-3.1z"/>
<path color="#037cff" d="M59.8 109l.9 2.4 1.4-3.8-.7-2.1-.6.4z"/>
<path color="#00b0ff" d="M60.7 111.4l.8 2.3 1.5-3.3-.9-2.8z"/>
<path color="#00e4ff" d="M61.5 113.7l.9 2.4 1.5-3-.9-2.7z"/>
<path color="#00ffe5" d="M62.4 116.1l.8 2.3 1.6-2.6-.9-2.7z"/>
<path color="#00ffb0" d="M63.2 118.4l.9 2.4 1.6-2.3-.9-2.7z"/>
<path color="#00ff7d" d="M64.1 120.8l.9 2.4 1.6-1.9-.9-2.8z"/>
<path color="#00ff4c" d="M65 123.2l1 2.5 1.7-1.6-1.1-2.8z"/>
<path color="#00ff24" d="M66 125.7l1.6 2.8 1.7-1.5-1.6-2.9z"/>
<path color="#00e921" d="M67.6 128.5l1.4 1.1 1.7-1.7-1.4-.9z"/>
<path color="#009a2e" d="M69 129.6l.8 0 1.7-2.1-.8.4z"/>
<path color="#007539" d="M69.8 129.6l.7-.4 1.5-2.4-.5.7z"/>
<path color="#006e4c" d="M70.5 129.2l.5-.6 1.6-2.8-.6 1z"/>
<path color="#006c61" d="M71 128.6l.6-.6 1.5-3.2-.5 1z"/>
<path color="#00606c" d="M71.6 128l.5-.6 1.5-3.6-.5 1z"/>
<path color="#004b6d" d="M72.1 127.4l.6-.6 1.4-4-.5 1z"/>
<path color="#00366f" d="M72.7 126.8l.6-.4 1.4-4.4-.6.8z"/>
<path color="#002375" d="M73.3 126.4l.9 0 1.3-4.8-.8.4z"/>
<path color="#0018a8" d="M74.2 126.4l1.5 1.1 1.3-5-1.5-.9z"/>
<path color="#2145ff" d="M75.7 127.5l1.7 3 1.4-4.9-1.8-3.1z"/>
<path color="#125eff" d="M77.4 130.5l1.2 2.6 1.3-4.5-1.1-3z"/>
<path color="#037fff" d="M78.6 133.1l.9 2.6 1.5-4.2-1.1-2.9z"/>
<path color="#00b0ff" d="M79.5 135.7l1 2.5 1.4-3.8-.9-2.9z"/>
<path color="#00e4ff" d="M80.5 138.2l.8 2.5 1.5-3.4-.9-2.9z"/>
<path color="#00ffe5" d="M81.3 140.7l.9 2.5 1.5-3-.9-2.9z"/>
<path color="#00ffb0" d="M82.2 143.2l1 2.5 1.5-2.6-1-2.9z"/>
<path color="#00ff7d" d="M83.2 145.7l.9 2.6 1.6-2.3-1-2.9z"/>
<path color="#00ff4c" d="M84.1 148.3l1.2 2.6 0 .1 1.6-2-1.2-3z"/>
<path color="#00ff1f" d="M87.7 153.3l.9-1.1-1.7-3.2-1.6 2z"/>
<path color="#00e313" d="M89.9 153.8l.4-.4-1.7-1.2-.9 1.1z"/>
<path color="#009c1d" d="M91.1 153.2l-.8.2-.4.4z"/>
<path color="#1b86ff" d="M56.5 110.2l.6 1.1 1-2.9z"/>
<path color="#1587ff" d="M57.1 111.3l1 2.1 1.7-4.4-.7-1.6-1 1z"/>
<path color="#069fff" d="M58.1 113.4l.9 2.1 1.7-4.1-.9-2.4z"/>
<path color="#02c3ff" d="M59 115.5l.8 2 1.7-3.8-.8-2.3z"/>
<path color="#00ebff" d="M59.8 117.5l.8 2 1.8-3.4-.9-2.4z"/>
<path color="#00ffeb" d="M60.6 119.5l.8 2.1 1.8-3.2-.8-2.3z"/>
<path color="#00ffc1" d="M61.4 121.6l.8 2 1.9-2.8-.9-2.4z"/>
<path color="#0f9" d="M62.2 123.6l.9 2.1 1.9-2.5-.9-2.4z"/>
<path color="#00ff73" d="M63.1 125.7l1.1 2.2 1.8-2.2-1-2.5z"/>
<path color="#00ff54" d="M64.2 127.9l1.5 2.6 1.9-2-1.6-2.8z"/>
<path color="#00fc53" d="M65.7 130.5l1.5 1.4 1.8-2.3-1.4-1.1z"/>
<path color="#00b351" d="M67.2 131.9l.8.3 1.8-2.6-.8 0z"/>
<path color="#008f56" d="M68 132.2l.7-.1 1.8-2.9-.7.4z"/>
<path color="#007c5e" d="M68.7 132.1l.6-.2 1.7-3.3-.5.6z"/>
<path color="#007369" d="M69.3 131.9l.5-.2 1.8-3.7-.6.6z"/>
<path color="#006972" d="M69.8 131.7l.6-.3 1.7-4-.5.6z"/>
<path color="#005773" d="M70.4 131.4l.6-.1 1.7-4.5-.6.6z"/>
<path color="#004878" d="M71 131.3l.7-.1 1.6-4.8-.6.4z"/>
<path color="#003f8b" d="M71.7 131.2l.9.3 1.6-5.1-.9 0z"/>
<path color="#003ebc" d="M72.6 131.5l1.5 1.4 1.6-5.4-1.5-1.1z"/>
<path color="#186cff" d="M74.1 132.9l1.7 2.8 1.6-5.2-1.7-3z"/>
<path color="#1588ff" d="M75.8 135.7l1.1 2.3 1.7-4.9-1.2-2.6z"/>
<path color="#069fff" d="M76.9 138l1 2.3 1.6-4.6-.9-2.6z"/>
<path color="#02c1ff" d="M77.9 140.3l.1.1 1.1 1.4 1.4-3.6-1-2.5z"/>
<path color="#00eaff" d="M80.2 143.4l1.1-2.7-.8-2.5-1.4 3.6z"/>
<path color="#00ffe9" d="M81.3 145.1l.9-1.9-.9-2.5-1.1 2.7z"/>
<path color="#00ffbd" d="M82.5 146.9l.7-1.2-1-2.5-.9 1.9z"/>
<path color="#00ff8f" d="M83.8 148.9l.3-.6-.9-2.6-.7 1.2z"/>
<path color="#00ff6a" d="M85.3 150.9l-1.2-2.6-.3.6z"/>
<path color="#0d91ff" d="M53.7 114l1.5 2.4 1.9-5.1-.6-1.1-2.8 3.6z"/>
<path color="#12a9ff" d="M55.2 116.4l.9 1.9 2-4.9-1-2.1z"/>
<path color="#09bcff" d="M56.1 118.3l.9 1.8 2-4.6-.9-2.1z"/>
<path color="#04d5ff" d="M57 120.1l.8 1.8 2-4.4-.8-2z"/>
<path color="#02f1ff" d="M57.8 121.9l.7 1.7 2.1-4.1-.8-2z"/>
<path color="#01fff0" d="M58.5 123.6l.8 1.7 2.1-3.7-.8-2.1z"/>
<path color="#00ffd1" d="M59.3 125.3l.8 1.8 2.1-3.5-.8-2z"/>
<path color="#00ffb3" d="M60.1 127.1l.9 1.8 2.1-3.2-.9-2.1z"/>
<path color="#00ff97" d="M61 128.9l1 2 2.2-3-1.1-2.2z"/>
<path color="#00ff7f" d="M62 130.9l1.5 2.5 2.2-2.9-1.5-2.6z"/>
<path color="#00ff7f" d="M63.5 133.4l1.5 1.5 2.2-3-1.5-1.4z"/>
<path color="#00cb78" d="M65 134.9l.9.6 2.1-3.3-.8-.3z"/>
<path color="#00ac79" d="M65.9 135.5l.7.3 2.1-3.7-.7.1z"/>
<path color="#009a7e" d="M66.6 135.8l.6.1 2.1-4-.6.2z"/>
<path color="#009087" d="M67.2 135.9l.6.1 2-4.3-.5.2z"/>
<path color="#00838c" d="M67.8 136l.6.1 2-4.7-.6.3z"/>
<path color="#00748d" d="M68.4 136.1l.7.1 1.9-4.9-.6.1z"/>
<path color="#006895" d="M69.1 136.2l.7.3 1.9-5.3-.7.1z"/>
<path color="#06a" d="M69.8 136.5l.6.4.4-.1 1.8-5.3-.9-.3z"/>
<path color="#0067d5" d="M72.9 136.7l1.2-3.8-1.5-1.4-1.8 5.3z"/>
<path color="#1288ff" d="M75.2 137.7l.6-2-1.7-2.8-1.2 3.8z"/>
<path color="#159fff" d="M76.6 139l.3-1-1.1-2.3-.6 2z"/>
<path color="#08afff" d="M77.9 140.3l0 0-1-2.3-.3 1z"/>
<path color="#01a3ff" d="M50.2 118.5l1.1 1.4 2.4-5.9-.1 0z"/>
<path color="#08adff" d="M51.3 119.9l1.5 2.3 2.4-5.8-1.5-2.4z"/>
<path color="#0dc2ff" d="M52.8 122.2l1 1.7 2.3-5.6-.9-1.9z"/>
<path color="#0ad3ff" d="M53.8 123.9l.8 1.5 2.4-5.3-.9-1.8z"/>
<path color="#06e5ff" d="M54.6 125.4l.7 1.6 2.5-5.1-.8-1.8z"/>
<path color="#04f8ff" d="M55.3 127l.8 1.4 2.4-4.8-.7-1.7z"/>
<path color="#02fff6" d="M56.1 128.4l.7 1.5 2.5-4.6-.8-1.7z"/>
<path color="#01ffe0" d="M56.8 129.9l.8 1.5 2.5-4.3-.8-1.8z"/>
<path color="#01ffca" d="M57.6 131.4l.8 1.6 2.6-4.1-.9-1.8z"/>
<path color="#01ffb6" d="M58.4 133l1 1.8 2.6-3.9-1-2z"/>
<path color="#00ffa5" d="M59.4 134.8l1.6 2.4 2.5-3.8-1.5-2.5z"/>
<path color="#00ffa5" d="M61 137.2l1.4 1.8 2.6-4.1-1.5-1.5z"/>
<path color="#00e3a2" d="M62.4 139l.1 0 1.2.1 2.2-3.6-.9-.6z"/>
<path color="#00c69b" d="M64.8 139l1.8-3.2-.7-.3-2.2 3.6z"/>
<path color="#00b59c" d="M65.7 138.8l1.5-2.9-.6-.1-1.8 3.2z"/>
<path color="#00a9a2" d="M66.6 138.5l1.2-2.5-.6-.1-1.5 2.9z"/>
<path color="#009ca3" d="M67.5 138.1l.9-2-.6-.1-1.2 2.5z"/>
<path color="#008ba2" d="M68.5 137.6l.6-1.4-.7-.1-.9 2z"/>
<path color="#007ea7" d="M69.5 137.2l.3-.7-.7-.3-.6 1.4z"/>
<path color="#0078b0" d="M70.4 136.9l-.6-.4-.3.7z"/>
<path color="#00c8f0" d="M46.2 123.7l.8.9 2.3-5-2.8 3.4z"/>
<path color="#01c3ff" d="M47 124.6l1.4 1.8 2.9-6.5-1.1-1.4-.9 1.1z"/>
<path color="#05c8ff" d="M48.4 126.4l1.5 2.3 2.9-6.5-1.5-2.3z"/>
<path color="#08d6ff" d="M49.9 128.7l.9 1.5 3-6.3-1-1.7z"/>
<path color="#07e3ff" d="M50.8 130.2l.8 1.4 3-6.2-.8-1.5z"/>
<path color="#06f1ff" d="M51.6 131.6l.7 1.1.1.2 2.9-5.9-.7-1.6z"/>
<path color="#05fcff" d="M53.4 133.6l2.7-5.2-.8-1.4-2.9 5.9z"/>
<path color="#03fffb" d="M54.5 134.3l2.3-4.4-.7-1.5-2.7 5.2z"/>
<path color="#02ffeb" d="M55.5 135.2l2.1-3.8-.8-1.5-2.3 4.4z"/>
<path color="#02ffda" d="M56.7 136l1.7-3-.8-1.6-2.1 3.8z"/>
<path color="#01ffca" d="M58.1 137l1.3-2.2-1-1.8-1.7 3z"/>
<path color="#0fb" d="M60.3 138.3l.7-1.1-1.6-2.4-1.3 2.2z"/>
<path color="#00ffb7" d="M62.4 139l0 0-1.4-1.8-.7 1.1z"/>
<path color="#00f4ff" d="M42.4 129.1l1.8-3.4-2.2 2.3-.5 1z"/>
<path color="#00e3f9" d="M43.4 129.2l2.8-5.5-.1-.1-1.9 2.1-1.8 3.4z"/>
<path color="#00dfff" d="M44.7 129.5l2.3-4.9-.8-.9-2.8 5.5z"/>
<path color="#01d8ff" d="M46.8 130l1.6-3.6-1.4-1.8-2.3 4.9z"/>
<path color="#03d8ff" d="M48.9 130.8l1-2.1-1.5-2.3-1.6 3.6z"/>
<path color="#06e1ff" d="M50.3 131.5l.5-1.3-.9-1.5-1 2.1z"/>
<path color="#06eaff" d="M51.4 132.2l.2-.6-.8-1.4-.5 1.3z"/>
<path color="#05f1ff" d="M52.3 132.7l-.7-1.1-.2.6z"/>
</g></g>
<path d="M114.7 65.2l1.6 3.7 1 1.9 1.2 1.7.8.7M126.7 66.5l.9-.9 1.4-1M129.7 64.4l1.9.4 2 1.5 1.7 1.9M135.8 68.7l3.6 4.1 2.2 1.6 1.1.5.8.2 2 0 4.9-.9 3.2 0 2 .5 2 .9 4.1 2.2M162.7 78.3l1.9 1 3.3 1.1 9.3 1.6 3.4.9 9.4 3.2 11.4 3.1M201.9 89.3l32.9 9.5M169 176l.5-.6.9-1.2M170.7 173.7l2.1-2.7.9-.5.7.2.7.6M182.7 176l1-3.2 1.4-5M185.6 166.1l3.3-13.1M189.2 152.1l1.4-5.2M191 145.7l1.2-4M192.7 140.3l1.7-4.3 2.4-4.3 2.5-2.8 6.6-5.2 3.9-4.1 4.4-5.7 15-21.1M150 180.1l.4-1.6M151.2 175l.1-.3.9-3.5M153.1 167.8l.9-2.6.8-2M154.9 163l.8-1.3.8-1.1M156.7 160.4l1.9-2 1.2-1.9.9-2.1 1.8-5.4M162.9 147.2l4.1-16.7M167.1 130.1l1.7-5.3 1.1-1.8 1.2-.8.8.5.8 1.2M173 124.3l1.2 2.8M174.5 128.1l.9 2.2M175.9 131.7l.7 1.4M177.2 134.4l1.4 1.6.4.2 1 .1 1.6-1 1.5-1.8M183.6 132.7l3.1-5.5M187 126.6l4.3-8.3 2.6-4.5 3.3-5.2 3.5-4.7M201 103.6l12.6-16M110.5 61l3.8 13.5M114.5 75.1l1.1 2.8 1.2 2.4 1.6 1.3M128 66.4l1.9.2 1.4 1.3M131.9 68.6l5 8.2 1.9 2.5 1.3 1 1.9.8 1.3-.1 1.9-.6 3.8-1.9 1.9-.5M151 78l1.3 0 2 .5 2 1.1 3.6 2.5M160.5 82.5l2.9 1.8 3.3 1.2 2.1.4 7.3.7 3.4.8 3.3 1.2M183 88.7l6 2.4 3.5 1.1 13.4 3.4 13 4.1 12.8 3.5M159.8 162l.8 1.1M161.4 164.3l.6.8M163 166l.9.1 1.1-.8 1.2-2 1.8-4.3M168.1 158.7l2-4.2 1.2-1.3.8-.2.7.5 1.5 2.5M174.7 157.1l.4.9 1 2.5M176.1 160.5l.7 1.5.7 1.1M177.6 163.2l1.4.5M179.5 163.4l.8-.8 1.4-2.6 1.4-3.6 3.1-9M186.7 145.8l4.6-13 1.9-4.5 2.2-4.2M195.5 123.9l1.4-2.5 2.6-3.5 11-13.3M210.8 104.2l3.4-4.4M214.6 99.3l7-9.4M131.5 138.6l1.5.1 2 2.3 4.1 7.8.9 1.2.9.7.9.1.8-.4.9-.8 2.9-4.4 1.2-1.2.9-.1M149.4 144.4l.1.2.6.8M169.4 109.9l2.1-2.4 1.2-.9 5.1-2.1 1.8-.9M179.7 103.6l2.6-1.9M182.7 101.3l4.6-4.9 10.7-13.1M141 179.8l.7.2.7-.2 1-1 .8-1.5 1.8-5.1 1.8-6.8M148.2 163.8l2.1-7.6.9-2.5 1.2-2 1.2-1.2 2.5-1M156.3 149.4l.6-.5.8-1.1M158.6 146l.8-2.3M159.8 142.5l.4-1.5.9-3.4M162.1 133.7l1-4.7M163.4 127.7l3.1-11.5M167.9 112.6l.3-.6M171.1 109.8l1.3.8 3.9 4.5M176.4 115.2l1.3 1M178 116.3l1.2.4M179.4 116.7l1.4-.3 1.3-.7 1.5-1.3 1.6-1.7 11.8-16.2 8.8-11.2M105.8 53.3l1.4 5 5.5 23.4 1.4 4.7 1 2.4M128.1 67.5l1.5 1.8.6.9 4.1 9.7M134.4 80l1.8 4 1.1 1.7 1.2 1.4.9.6 1.1.3 2-.7 5-4.5M148.5 82.2l1.1-.5 1.2-.3M151.7 81.5l1.2.4 2.1 1.3 5.1 5 2 1.5 1.3.8 2 .7 3.2.2M168.9 91.3l4-.2 3.4.3 3.4 1 8.4 4 3.5 1.1 10 2.1 3.6 1 10 3.5 13.3 3.7M115.6 173.6l1.8.3M117.4 173.9l1.7-.8M134.7 133l1.5-2 .9-2.1 1.6-5.5 3.3-13.5 1.6-4.9.9-1.6M144.6 103.3l.9-.6 1.3.6M146.9 103.4l.8 1.2.9 1.6M148.7 106.5l1.5 3.5M150.4 110.3l1.2 2.8M151.9 113.7l1.1 1.8 1.3 1.4M154.9 117.1l.8 0 1-.4 1.8-1.9M158.7 114.5l3-5.3M162 108.5l5.4-10.3 3.6-5.7 4.2-5.5 7.6-8.3M123 158.4l.8-3.3M137.6 138.6l.9.8.7.2 1.4-.7 1-1.5 2.8-4.8.8-.9M145.3 131.5l.7-.3.8.1M147 131.4l.6.6.8 1.1M148.6 133.5l.6 1.1.8 1.9M150.3 137l1.8 3.8.9 1.2.8.5M154.1 142.6l1.3-.7 1.4-2.3M157.6 137.9l2.1-6.1 4.4-14.4M165.1 114.4l2.3-5.9M168.2 106.7l1.1-2M169.7 103.9l1.7-2.7 2.5-3 9.3-9.2 7.2-7.9M100.8 54l.7-.6 1.3 1.1.9 2.1 1.4 4.8 1.3 5.3 3.4 16.1 2.3 9.8 1.3 4.3.6 1.3M126.2 67.3l2.1 3.6.8 2.2M129.6 74.6l3.9 12.8M133.6 87.7l2.1 5.2 1.2 2.1 1 .9 1 .2 2-1.2 1.3-1.7M146 87.1l1.7-1.9 1.7-.9 2.1.3 2.1 1.9M154.8 88.1l3.9 5.4 1.6 1.7M160.7 95.7l1.3.9 2.1.8 2.2 0 2-.5M168.7 96.7l3-.8 2.2-.2 1.3.1 2.2.6 2.2 1 6.4 3.9 3.1 1.4 1.6.4 11.6 2 2.2.7 12.3 4.5 8.5 2.3M97 141.7l5.9-18.6 1.6-3.8 1.8-2.4 1.4-.7.6.1 1.1.6 1.3 1.4 4.2 7.1M115.2 126l.8 1 .9 1.1M117.2 128.4l.6.4 1 0M119.1 128.7l1.4-1.4 3.7-6.2 1.2-.9 1 .1.9.7M148 86.4l1.6-.5 4.3-.3 2-.4 1.7-.7 2.7-1.8M160.4 82.7l3.1-2.8 4.4-4.8M105.2 144.9l.1 0M106.1 144.8l1.1.2 1.1.5 2.2 2.1 4.7 6.8 2 2.4.3.2 1.5.3.7-.4 1.4-2.2.8-2.2 1.6-5.8 3.1-13.3 1.8-4.8 1.1-1.8 1.2-1 1.8-1.2.8-.8.8-1.2M134.9 120.9l1.6-5.2M136.5 115.7l.8-3.1.8-3.6M138.2 108.4l.8-3.4M143 90.1l1.7-2.4M146 87.4l1.6 1.2 4 5.6 1.7 1.9M153.3 96.2l1.5 1M154.9 97.2l1.5.3 1.9-.5 2-1.6 2.4-2.7M162.9 92.5l7-9.1 5.4-6.6M97.1 70.8l1-3.4 1.7-3.2.1-.1 1.9 1.2 1.4 3.3 1.2 4.1 4 17.2M108.9 92.2l1.2 5.1 1.4 4.8M124.2 67.1l2.2 4.1 2.5 9.4M130 85.2l2 8.5 1.4 5.3M134 100.9l1.3 2.9 2.1 1.6.2-.1 1.8-1.9M147.9 86.3l2.1.2 1.1 1 2.3 3.7 3 6.1M156.4 97.3l1.9 3.5 1.1 1.4 1.3 1.3 1.6.8M162.8 104.4l2.1-.4 4.5-2.6M169.5 101.4l2.1-1 1.1-.4 1.4 0 2.2.5 2.2 1.3 6.4 5.2 2.5 1.4 2.3.7 2.2.4 7.3.4 4.5 1 10.3 4.4 3.8 1.3 4.1 1M89.4 153.9l2.8-2.4M94.1 149l1.7-3.3 1.4-3.8M106.4 106.7l.4-.6M115.3 114.7l.7.7.9.7 1 .1M117.9 116.2l1.1-.7 2.7-3.4 1.1-.9M123.4 111l.2 0 .9.3M125.2 111.9l1 1.5 2.7 5.4M129 119l.9 1.7 1.3 1.7M131.3 122.6l1.7.3 1.5-1.9M146 86.6l.5-.8 1.4-2.2M148.1 83.3l.8-1.1M149.7 81.3l2.8-2.6 8.2-6.5M93 83.2l.4 0M93.5 83.2l.9-.4.9-.7 2.9-2.9 1-.6.9.1 1.3 1.2M102.5 81.6l1 2.5.5 1.1M104.6 87l1 3.3.9 2.9M106.7 93.9l1.2 4.1 1.1 3.3M120.3 71.7l2-2.6 1.3 1.7.9 2.3 1.4 5.2 3 14.6M130.2 99.7l2.2 9.4 1 3.2M133.7 113l2.1 2.2 1.7-2M148.5 87.2l2 3.1M152 93.7l3 9.2M155.9 105.1l2 4.6 1.3 1.8.6.5 1.6.5 2.2-.9 1.4-1.2 4.3-4.7 1.1-.9 1.5-.9 1.1-.2 2.2.5 2.2 1.6 1.7 1.8M179.9 108.6l3.9 4.4 1.2.9 2.3 1.4 1.3.3 2.3.2 6.8-.7M198 115.1l2.6.3 2.4.6 2.3 1.1 4.4 2.4M211.1 120.2l2.3 1.1 5 1.7M72 136.6l4.8-7.3 2.3-2.8 2.1-1.9 2.2-.9 2.3.3 2.2 1.5 2.3 2.5 5.4 7.4 1.2 1 1.1.5M109.2 104.8l3-2.8 1.5-2.9M114.1 98l.4-1.1.7-2.9M115.7 92l.3-1.2M117.4 83.9l0-.1.8-3.8M119.4 74.6l.9-2.7.8-2.1M122.1 68.4l.9-.6.8 0 1.5 1.2 1.5 2.1 4.2 6.6 1.7 1.8 1.8 1 1.7-.1 1.1-.4 1.7-1.3 2.8-3 4.6-5.8M80.6 144.1l1.8-.4 2.6.2 1.8.6 2.6 1.2M89.9 146l1.5.9 2 .9M98.9 145.5l1.5-3.4.8-2.6M112.9 110.7l1.1-.6 1.2-1.7.9-2.1 1.5-5.2M117.7 100.9l3-11.2.7-1.8.9-1.3.9-.6 1 .3 1.3 1.6 5.2 10.1 1.5 1.8M132.4 99.9l1.3.4 1.4-.6 1.4-1.6 1.4-2.2 1.5-3M139.6 92.5l4.3-8.9 2.6-4.7 3-4.3 4-4.6M93.2 88.7l3.2 1.2 1.8.3M98.3 90.2l2.4.5.8.4 1.5 1.3M103.4 93l1 1.4.8 1.4M105.5 96.3l1.4 2.5M117.3 84.6l1.1-4.2 1.8-3.4M120.4 76.9l2.2 2.4.5 1.6 2.1 8 2 9.7M127.4 99.7l3.3 16.1 1.3 4.8.8 1.8M146.9 87.2l2.2 4.1 1.3 4.4M150.6 96.2l4.3 17.2M155.4 115l1 3 1.3 2.5 1.6 1.4M159.9 121.9l2.2-1.5 2-3.1M164.8 116.2l2.1-4 2.2-3.3 1.3-1.3 1.4-.9 2.3.3 1.3 1.1 2.3 3.2 3.8 6.4M181.7 118.1l2.1 2.7 1.4 1.2 2.3.9 2.4-.1 6.1-2.1 1.9-.4M198.4 120.3l1.5 0 2.4.7 2.3 1.2 6.9 4.8 3.3 1.6M64.6 139l2.6-3.1 2.9-4.3M71 130l1.5-3M73 126.1l1.6-3.9M75 121.2l1.4-3.9M77.4 114.5l3.8-10.8 1.7-3.5 1.7-2.2.7-.6 1.1-.2 2.1 1 2.3 2.9 2.1 3.5M93.2 104.9l2.1 3.4 1.2 1.3 1 .5.9 0 .9-.7M99.3 109.4l.8-1.1.8-1.5M101.2 106.1l2.1-4.7 1.1-1.7 1.3-.7 1 .2.9.8M128 67.1l4.3 1.1 2.1.2 2.4-.4 2.5-1.3M94.8 91.8l2.3 2.8 1.3 1.2 1.2.9 3 1M103.2 97.9l2.7 1.3M106.5 99.6l2 1.4M108.6 101.1l1.3.6.9.2M111.9 101.6l.8-.6.9-1.1 1.3-2.1M115.5 96.6l1.5-2.9 1.7-2.3.6-.4 1.5.6.8 1.2M122.2 93.9l1.2 3.2.7 2.5M124.5 100.9l2.2 9.3M127.7 114.3l1.1 4.9.7 2.3M143 90.1l2.3-2 .9 1.1 1.3 3.3 1.4 5.3 2.1 10.6M151.9 113.5l1.9 9.3 1.1 4.1 1.3 3.5 2.2 2 1-.6 1.2-1.7 1.5-3 2.1-5.6M169.2 110.4l.2-.3M170.7 108.8l2.3.1 1.4 1.5 2.2 4.3 2.7 6.9M179.6 122.4l1.9 4.2 1.1 1.9 1.4 1.6.7.5 1.6.5 2.4-.5 2.9-1.9M192.8 127.8l3.5-2.2 1.3-.5 2.2-.1 1.7.5 2.4 1.6 4.7 4.5M208.6 131.6l2.6 2.3M56.7 136.1l3-1.7 6.6-3.2 2.7-1.6M69.2 129.5l1-.9 1.1-.9M88.6 82.9l.8.7 1.1 1.5M91.6 86.9l1.1 2M93.5 90.5l2.4 3.7M96.4 94.8l1.3.7 1 0 1.2-.8M100.4 94.2l.7-.7.9-.8M102.1 92.6l.8-.4.8 0M103.9 92.3l.7.3 1.2 1.5 2.5 4.4M126.9 66.7l.9-1.1.8-.9M128.6 64.7l2.1-1.8 1.7-1.1M48.6 130.6l5.9-5.2M54.7 125.3l2.2-1.6 2.1-1.1 2.2-.7 2.3-.3 3.4.5 6.5 2.5M94.2 90.3l1.2-.5 1.2-1.5.5-1.1 1.1-3.1 2.1-7.4M100.4 76.3l1.4-3.4.8-1 .8-.4 1 .3M104.6 72l.9 1 1 1.5 4.3 8.1 1.6 2 1.5.7M113.9 85.3l1.4-.5.8-.7 1.9-3.1M124.5 67l1.1-2.2M93 89.7l1.5 3.9 1.2 3.1M95.8 97l2.6 5.9.6 1.2 1.7 2.1M101.1 106.6l1.8.4 4.5-1.3M110.5 106.2l3.3.8 1.1-.1 4.2-.9 1.3.4.5.3 1.7 2 .7 1.2M123.6 110.5l2.2 5.2M139.9 101l.8-3.1M141.3 96.3l2.2-3.1 1.1.8 1.2 2.7 1.4 5.3 3 16.2M150.4 119.2l1.9 11.1 1.1 5 1.6 5.4 1.8 2 2.3-2.6.6-1.3M161.9 132.1l1.2-4.2M170 109.7l1.9 0 2.3 3.8.5 1.6M175.5 117.5l3.5 12.8M179.3 131.5l2.1 5.6 1.3 2.2.8.8 1.5.6 2.5-1.2 1.7-1.8 5-6 1.2-1.2 1.4-.9 1.6-.6 2.5.5 2.1 1.8M203.2 131.6l4.5 6.1M75.2 114.2l1.6 4.6M87.6 82.7l2.4 4.6 1.7 5.3 2.6 9.6M94.4 102.9l2.9 10.3 2 5.6 1.4 2.4 1.5.7M115 113l3.5 2.1 4.1 1.5 2.3 1.8M126.1 119.7l1.3 1.5M135 120.6l1-2.3.9-2.4M137 115.5l1.1-3.2 1.1-2.9M139.5 108.8l2.3-3.4 2.3 1.4.2.3 1.2 3.3 1.2 4.5 3.3 17M150.7 135.9l1.1 5.4 1.8 6.5M168.3 111.7l2.5-1.4M173.1 114.9l1.3 5.1.7 3.6M175.4 125l2.7 13.9 1.9 7.7 1.4 3.1 2.3 1.8 2.5-1.9 1.7-2.6 5.4-9.8 2-3M196 133.4l1.7-1.1 2.6.3.9.8 1.4 1.9 1.7 3.1M68.9 106.6l2.6 7.6M72.2 116.3l1.6 4.1M83.1 90.2l1.9-3 .7.5 1.6 3.1 1.7 5.2 1.5 5.6 5.4 22.4 1.4 4.9 1.6 4.3M114.8 114l2.6 5 1.6 2.3M119.5 121.9l1.1.9.9.6M121.6 123.5l1.1.4 4.7.7 3.5 1.4M131.1 126l1 .4 1.6.1 1.5-.5 1-.6M136.3 125.3l3.7-3 1-.5 1.3.1 1.2 1M143.8 123.2l1.2 2.1 1.2 3.1M147.1 131.2l1 3.6.5 2.1M150.3 143.2l.7 2.6M163.8 125.8l.3-1.1M165.2 120.7l1.7-4.7 2.6-2.5 1.2 1.2 1.2 3.1 1.3 5.7 1 5.9 3.5 22.1 1.7 7.4M179.9 160.4l2.3 2.5 1.9-1.4 2.5-4.6 3.6-9M192.3 142.5l1.5-3.1 1.5-2.7 1.8-2.1 2.6-.1 1.3 1.6M62.9 104.8l1.8 3.6 5.6 12.7M70.7 121.9l2.3 3.1M80.8 99.5l1.8-2.9 2.2 2.2M85 99.1l1.6 4.3 1.5 4.8 2.5 9.7M92.2 124.2l2.8 10.8 1.9 5.6M100.8 141.7l1-4M109.7 105.5l2.4 5 .5 1.2 5.5 18.2M118.5 131.1l1.2 2.7 1.1 2M120.9 135.9l1.4 1.3 1 .2 1.2-.4 3.4-3M128 134l1.1-.8M134.5 133.5l3.7 1.4 1.9.3M140.5 135.3l1.5.2 1 .3M143.2 135.9l1.1.6 1.3 1.2 2.5 3.7M161 138.8l.2-.6M162.2 134.9l2-5.9 1.1-2.8 2.1-3.2.6-.3 2.4 2.7.3.9M171.8 130.3l1.1 5.5 1.3 8.7M174.6 147.5l2.7 17.1 1.3 5.1.5 1.3 1.8 2.2 2.6-2.4 1.8-4.1M186.9 162.1l4.8-14.9M192.9 143.7l1.7-4 1.9-3.2.9-.8M57.5 109.1l1.6 1.6 1.2 1.5 7.7 12.5 1.8 1.9 2.1.3M77.5 112.5l1-2.7 1.2-1.8M80.4 107.6l2.3 1.8 1.8 3.8 2.5 7.1 5.4 18.1 1.6 4.7 1.7 3.3M98.4 146.1l1-3.3M105 109.4l2.1-2.5 1 1.1 1.5 3.3 1.7 5.6 1.4 5.8 4.3 18.6M117.7 144.2l1.3 4.3 1.5 3.6 2.1 1.5M122.8 153.6l2.1-3.1M137.1 137.9l1.6 2 1 1.1M140.2 141.5l1.2 1.1 1.1.8M142.5 143.4l4.5 1.7 2.8 1.5 3.4 2.4 1.5.7 1.3.3 1.1-.3 1-.5M158.2 149l1.2-1 1.2-1.6 3-4.5 2.5-2.8.5-.2 2.1.6.6.8M170.2 142.1l1.1 3.5.5 1.6M172.4 149.7l.9 4.6.8 4.1M175.2 164.2l1 5.3.3 1.3M182.3 178l1.7-3.4M184.1 174.3l1.6-4.5 6.6-21.9M52.2 115.9l.7.1 2.1.9 1.3 1 2.3 2.3 5.8 7.3 2.3 2 2 .5.9-.4M69.9 129.4l1-.9 1.6-2.5M74.1 123l.1-.3M75 121.3l1.1-1.7 2-1.3.6 0 1.6 1.3 1.5 2.3 2.2 4.6M84.4 127.5l5.2 13.7 1.6 3.8 2.4 3.7M95.7 148.4l1.1-2.3 1.6-6.1M101.5 122.5l.1-.6M102.6 118.1l2.1-3.1 1.2.8 1.3 2.4 1.7 5 1.5 5.6 6.6 28.6 2 6.1 1.9 2.3M127.2 145.5l1.9-8.2M136.2 136.4l2.9 7.5M139.5 145.1l2.3 5.6 1 1.9 1.5 2M145.2 155.3l1.7.5 4.7-.8 1.5 0 7 1.8M160.2 156.8l1.5 0 4.3-.8M166.9 156l1.8.7 1 1 1.6 2.4M171.9 161.3l1.1 2.5.8 2.5M181.4 179.9l.2-.2M184.7 174.9l2.7-7.5M46.8 122.8l3.1.3 2.1.8 1.4.9 2.2 1.7 5.7 5.4 2.3 1.6 2 .6 1.3-.2 1.9-1 1.5-1.4M70.5 131.3l3-2.8 2.1-.6.5.1 1.7 1 1.5 1.7 3 4.9M83 137l3.7 7.6 1.6 3 2.4 2.8 2.1.2M94.1 149.2l.9-2.1M98.3 135.7l.9-3.3 1.6-4.3 1.7-1.6 2.5 2.2 1.6 3.9 1.5 4.5 3.3 12.8M112 152.2l2.7 10.5 1.6 5.1.6 1.5 1.8 2.8M120.9 170.6l1-2.6M123.2 162.3l3.8-20.5M129.5 132.5l1.9-1.8M132 130.9l2.5 5 1.6 5.8 2.1 8.7M139.8 157.5l2.3 8.5 1.2 3.4 1.5 2.5 1.5.8 1-.2 1.7-1.7M149.7 169.8l2.9-4.2 1.9-2.3M154.9 163l1.2-.7 1.1-.2M162.7 164.9l.3.3 3.8 2M166.8 167.3l2.5.8 1.5.7M171.6 169.2l1.2.8 1.2 1M175.7 172.9l1.1 1.3" stroke="#000" stroke-opacity="0.45" stroke-width="0.32" fill="none"/>
<text x="138.7" y="32.7" font-size="9.9" text-anchor="middle" font-weight="bold" >Re(<tspan font-style="italic">q</tspan>(<tspan font-style="italic">x</tspan>, <tspan font-style="italic">t</tspan>))</text>
<path d="M40.6 387.0L32.7 337.2M32.7 337.2L117.1 269.1M117.1 269.1L244.8 302.5M244.8 302.5L238.3 350.0M40.6 387.0L178.8 441.1M178.8 441.1L238.3 350.0M178.8 441.1L181.8 389.0M32.7 337.2L181.8 389.0M181.8 389.0L244.8 302.5M40.6 387.0L118.7 314.1M118.7 314.1L238.3 350.0M118.7 314.1L117.1 269.1" stroke="#b0b0b0" stroke-width="0.45" fill="none"/>
<path d="M42.9 387.9L44.2 386.7M50.9 391.0L51.6 390.3M58.9 394.1L59.6 393.4M67.1 397.3L67.8 396.6M75.4 400.6L76.1 399.9M83.8 403.9L85.0 402.6M92.4 407.2L93.0 406.5M101.1 410.6L101.7 409.9M109.9 414.1L110.5 413.3M118.9 417.6L119.5 416.8M128.0 421.2L129.1 419.8M137.2 424.8L137.8 424.0M146.6 428.5L147.2 427.7M156.2 432.2L156.8 431.4M165.9 436.0L166.5 435.2M175.8 439.9L176.8 438.4M180.2 438.9L177.9 438.0M183.0 434.6L181.7 434.2M185.7 430.5L184.5 430.0M188.4 426.3L187.2 425.9M191.0 422.3L189.8 421.9M193.6 418.3L191.4 417.5M196.2 414.4L195.0 414.0M198.7 410.6L197.5 410.2M201.1 406.8L199.9 406.4M203.5 403.1L202.4 402.7M205.9 399.5L203.8 398.8M208.3 395.9L207.1 395.5M210.6 392.4L209.4 392.0M212.8 389.0L211.7 388.6M215.1 385.5L213.9 385.2M217.2 382.2L215.2 381.5M219.4 378.9L218.3 378.5M221.5 375.7L220.4 375.3M223.6 372.5L222.5 372.1M225.7 369.3L224.6 369.0M227.7 366.2L225.7 365.6M229.7 363.2L228.6 362.8M231.6 360.2L230.6 359.9M233.6 357.2L232.5 356.9M235.5 354.3L234.4 354.0M237.3 351.5L235.4 350.9M40.4 386.1L41.2 385.4M39.7 381.6L41.0 380.4M39.0 377.0L39.8 376.4M38.3 372.4L39.6 371.3M37.5 367.8L38.3 367.1M36.8 363.0L38.1 361.9M36.0 358.2L36.8 357.5M35.3 353.3L36.6 352.2M34.5 348.4L35.3 347.7M33.7 343.4L35.1 342.2M32.9 338.3L33.7 337.6" stroke="#777" stroke-width="0.4" fill="none"/>
<text x="35" y="399.2" font-size="9.7" font-weight="bold" text-anchor="middle">−1</text>
<text x="78.9" y="415.6" font-size="9.7" font-weight="bold" text-anchor="middle">0</text>
<text x="123.4" y="432.5" font-size="9.7" font-weight="bold" text-anchor="middle">1</text>
<text x="172.4" y="451.5" font-size="9.7" font-weight="bold" text-anchor="middle">2</text>
<text x="94.9" y="432" font-size="9.7" font-weight="bold" text-anchor="middle" font-style="italic">t</text>
<text x="188.6" y="446.6" font-size="9.7" font-weight="bold" text-anchor="middle">−2</text>
<text x="211.5" y="405.8" font-size="9.7" font-weight="bold" text-anchor="middle">0</text>
<text x="233" y="372.7" font-size="9.7" font-weight="bold" text-anchor="middle">2</text>
<text x="227.8" y="401" font-size="9.7" font-weight="bold" text-anchor="middle" font-style="italic">x</text>
<text x="24.1" y="344.2" font-size="9.7" font-weight="bold" text-anchor="middle">0.2</text>
<text x="27.1" y="363.9" font-size="9.7" font-weight="bold" text-anchor="middle">0.0</text>
<text x="26.7" y="382.4" font-size="9.7" font-weight="bold" text-anchor="middle">−0.2</text>
<filter id="b233" x="-5%" y="-5%" width="110%" height="110%"><feGaussianBlur stdDeviation="0.7"/></filter>
<g filter="url(#b233)"><g class="s">
<path color="#01ffff" d="M229 328.7l5.3 4.1 3.4-4.9 0-.3-8.4-2.3z"/>
<path color="#01ffff" d="M224 324.8l5 3.9.3-3.4-5.2-1.5z"/>
<path color="#01ffff" d="M221.9 323.2l2.1 1.6.1-1z"/>
<path color="#00feff" d="M206.6 318.8l3.9 3.1.2-1.9z"/>
<path color="#01feff" d="M210.5 321.9l4.8 3.9.5-4.4-5.1-1.4z"/>
<path color="#01ffff" d="M228.4 336.3l2.2 1.8 3.7-5.3-5.3-4.1z"/>
<path color="#01fffe" d="M223.3 332.2l5.1 4.1.6-7.6-5-3.9z"/>
<path color="#01ffff" d="M215.3 325.8l8 6.4.7-7.4-2.1-1.6-6.1-1.8z"/>
<path color="#01fffe" d="M191.8 314.6l5.4 4.6.5-2.8z"/>
<path color="#01fffc" d="M197.2 319.2l4.7 3.8.8-5.2-5-1.4z"/>
<path color="#0ff" d="M201.9 323l7.7 6 .9-7.1-3.9-3.1-3.9-1z"/>
<path color="#01fcff" d="M209.6 329l4.9 4 .8-7.2-4.8-3.9z"/>
<path color="#01fffe" d="M230.6 338.1l-2.2-1.8-.4 5.5z"/>
<path color="#01fffd" d="M222.6 339.9l4.3 3.6 1.1-1.7.4-5.5-5.1-4.1z"/>
<path color="#01ffff" d="M214.5 333l8.1 6.9.7-7.7-8-6.4z"/>
<path color="#00fffc" d="M178.2 311.2l3 2.3.4-1.7-3.4-.8z"/>
<path color="#00fcff" d="M181.2 313.5l3 2.3.7-3.3-3.3-.7z"/>
<path color="#00f8ff" d="M184.2 315.8l1.9 1.5.9-4.2-2.1-.6z"/>
<path color="#00f8ff" d="M186.1 317.3l1.7 1.4 1-5.1-1.8-.5z"/>
<path color="#00f9ff" d="M187.8 318.7l1.9 1.7 1.2-6.1-2.1-.7z"/>
<path color="#01fdff" d="M189.7 320.4l3.2 2.8 1.2-6.7-2.3-1.9-.9-.3z"/>
<path color="#01fffd" d="M192.9 323.2l3.2 2.9 1.1-6.9-3.1-2.7z"/>
<path color="#01fffa" d="M196.1 326.1l1.9 1.7 1.2-7-2-1.6z"/>
<path color="#01fff9" d="M198 327.8l1.9 1.5 1-7.1-1.7-1.4z"/>
<path color="#01fffa" d="M199.9 329.3l2 1.7 1-7.2-2-1.6z"/>
<path color="#00fffd" d="M201.9 331l3.3 2.5 1-7.1-3.3-2.6z"/>
<path color="#00fdff" d="M205.2 333.5l3.5 2.7.9-7.2-3.4-2.6z"/>
<path color="#00faff" d="M208.7 336.2l2.1 1.6.8-7.1-2-1.7z"/>
<path color="#01f9ff" d="M210.8 337.8l1.9 1.6.8-7.2-1.9-1.5z"/>
<path color="#01faff" d="M212.7 339.4l2.1 1.9.8-7.4-2.1-1.7z"/>
<path color="#01fdff" d="M214.8 341.3l3.5 3.2.8-7.6-3.5-3z"/>
<path color="#01fffb" d="M226.8 343.7l0-.3-2-1.7-.5 5.6z"/>
<path color="#01fffa" d="M221.9 347.7l1.3 1.2 1.1-1.6.5-5.6-2.2-1.8z"/>
<path color="#01fffd" d="M218.3 344.5l3.6 3.2.7-7.8-3.5-3z"/>
<path color="#00f9ff" d="M165.8 307.3l2.8 2.9.5-2-3.2-1.3z"/>
<path color="#01fffa" d="M168.6 310.2l2.9 2.9.9-3.7-3.3-1.2z"/>
<path color="#01fff3" d="M171.5 313.1l1.8 1.6 1.1-4.6-2-.7z"/>
<path color="#01fff2" d="M173.3 314.7l1.7 1.4 1.2-5.6-1.8-.4z"/>
<path color="#00fff4" d="M175 316.1l1.8 1.5 1.4-6.4-.3-.3-1.7-.4z"/>
<path color="#00fffa" d="M176.8 317.6l3 2.1 1.4-6.2-3-2.3z"/>
<path color="#00faff" d="M179.8 319.7l3.1 2.3 1.3-6.2-3-2.3z"/>
<path color="#00f4ff" d="M182.9 322l1.9 1.4 1.3-6.1-1.9-1.5z"/>
<path color="#00f2ff" d="M184.8 323.4l1.8 1.5 1.2-6.2-1.7-1.4z"/>
<path color="#00f4ff" d="M186.6 324.9l1.9 1.8 1.2-6.3-1.9-1.7z"/>
<path color="#01faff" d="M188.5 326.7l3.2 3.1 1.2-6.6-3.2-2.8z"/>
<path color="#01fffb" d="M191.7 329.8l3.2 3.2 1.2-6.9-3.2-2.9z"/>
<path color="#01fff4" d="M194.9 333l2 1.9 1.1-7.1-1.9-1.7z"/>
<path color="#01fff3" d="M196.9 334.9l1.9 1.6 1.1-7.2-1.9-1.5z"/>
<path color="#01fff4" d="M198.8 336.5l2 1.6 1.1-7.1-2-1.7z"/>
<path color="#00fffa" d="M200.8 338.1l3.5 2.5.9-7.1-3.3-2.5z"/>
<path color="#00faff" d="M204.3 340.6l3.5 2.5.9-6.9-3.5-2.7z"/>
<path color="#00f4ff" d="M207.8 343.1l2.1 1.7.9-7-2.1-1.6z"/>
<path color="#01f2ff" d="M209.9 344.8l2 1.6.8-7-1.9-1.6z"/>
<path color="#01f4ff" d="M211.9 346.4l2.1 2 .8-7.1-2.1-1.9z"/>
<path color="#01fbff" d="M214 348.4l3.6 3.5.7-7.4-3.5-3.2z"/>
<path color="#02fff8" d="M223.2 348.9l-1.3-1.2-.3 3.5z"/>
<path color="#02fffb" d="M217.6 351.9l2.1 2.1 1.9-2.8.3-3.5-3.6-3.2z"/>
<path color="#00fff3" d="M153.7 304.8l2.8 1.6.5-1.6-3.3-.2z"/>
<path color="#00f4ff" d="M156.5 306.4l2.8 1.7.9-2.9-3.2-.4z"/>
<path color="#00e8ff" d="M159.3 308.1l1.7 1.3 1.1-3.8-1.9-.4z"/>
<path color="#00e6ff" d="M161 309.4l1.6 1.4 1.3-4.6-1.8-.6z"/>
<path color="#00ebff" d="M162.6 310.8l1.7 1.7 1.5-5.2-.8-.7-1.1-.4z"/>
<path color="#01f6ff" d="M164.3 312.5l2.9 3.3 1.4-5.6-2.8-2.9z"/>
<path color="#01fff7" d="M167.2 315.8l2.9 3.3 1.4-6-2.9-2.9z"/>
<path color="#01ffeb" d="M170.1 319.1l1.8 1.8 1.4-6.2-1.8-1.6z"/>
<path color="#01ffe7" d="M171.9 320.9l1.7 1.5 1.4-6.3-1.7-1.4z"/>
<path color="#01ffea" d="M173.6 322.4l1.8 1.3 1.4-6.1-1.8-1.5z"/>
<path color="#00fff6" d="M175.4 323.7l3.2 2 1.2-6-3-2.1z"/>
<path color="#00f5ff" d="M178.6 325.7l3.1 1.9 1.2-5.6-3.1-2.3z"/>
<path color="#00e9ff" d="M181.7 327.6l2 1.5 1.1-5.7-1.9-1.4z"/>
<path color="#00e7ff" d="M183.7 329.1l1.7 1.5 1.2-5.7-1.8-1.5z"/>
<path color="#00eaff" d="M185.4 330.6l2 1.9 1.1-5.8-1.9-1.8z"/>
<path color="#01f6ff" d="M187.4 332.5l3.2 3.6 1.1-6.3-3.2-3.1z"/>
<path color="#02fff7" d="M190.6 336.1l3.2 3.7 1.1-6.8-3.2-3.2z"/>
<path color="#02ffeb" d="M193.8 339.8l2.1 2 1-6.9-2-1.9z"/>
<path color="#01ffe8" d="M195.9 341.8l1.8 1.6 1.1-6.9-1.9-1.6z"/>
<path color="#01ffea" d="M197.7 343.4l2.1 1.6 1-6.9-2-1.6z"/>
<path color="#00fff6" d="M199.8 345l3.5 2.2 1-6.6-3.5-2.5z"/>
<path color="#00f6ff" d="M203.3 347.2l3.6 2.3.9-6.4-3.5-2.5z"/>
<path color="#00eaff" d="M206.9 349.5l2.2 1.6.8-6.3-2.1-1.7z"/>
<path color="#00e7ff" d="M209.1 351.1l2 1.8.8-6.5-2-1.6z"/>
<path color="#01eaff" d="M211.1 352.9l2.2 2.1.7-6.6-2.1-2z"/>
<path color="#01f8ff" d="M213.3 355l3.1 3.4.6-.8.6-5.7-3.6-3.5z"/>
<path color="#02fffe" d="M219.7 354l-2.1-2.1-.6 5.7z"/>
<path color="#01f8ff" d="M143.3 300.2l1.5 2 .2-.8z"/>
<path color="#02fff4" d="M144.8 302.2l1.6 2.2.6-1.8-2-1.2z"/>
<path color="#02ffe3" d="M146.4 304.4l1 1.4.8-2.6-1.2-.6z"/>
<path color="#02ffda" d="M147.4 305.8l.9 1 .9-3.1-1-.5z"/>
<path color="#02ffd5" d="M148.3 306.8l.8.8 1-3.6-.9-.3z"/>
<path color="#01ffd3" d="M149.1 307.6l.7.7 1.1-4.1-.8-.2z"/>
<path color="#01ffd3" d="M149.8 308.3l.8.6 1.2-4.5-.9-.2z"/>
<path color="#00ffd6" d="M150.6 308.9l.8.6 1.3-5-.9-.1z"/>
<path color="#00ffde" d="M151.4 309.5l.8.5 1.5-5.2-.3-.2-.7-.1z"/>
<path color="#00f7dd" d="M152.2 310l1.1.6 1.4-5.2-1-.6z"/>
<path color="#00ebe1" d="M153.3 310.6l1.7.7 1.5-4.9-1.8-1z"/>
<path color="#00e7f1" d="M155 311.3l1.8.7 1.4-4.5-1.7-1.1z"/>
<path color="#00e4ff" d="M156.8 312l1.1.5 1.4-4.4-1.1-.6z"/>
<path color="#00dcff" d="M157.9 312.5l.9.6 1.4-4.3-.9-.7z"/>
<path color="#00d7ff" d="M158.8 313.1l.8.6 1.4-4.3-.8-.6z"/>
<path color="#00d4ff" d="M159.6 313.7l.8.6 1.4-4.2-.8-.7z"/>
<path color="#00d4ff" d="M160.4 314.3l.8.8 1.4-4.3-.8-.7z"/>
<path color="#00d7ff" d="M161.2 315.1l.9.9 1.3-4.4-.8-.8z"/>
<path color="#00dcff" d="M162.1 316l.9 1 1.3-4.5-.9-.9z"/>
<path color="#00e5ff" d="M163 317l1.1 1.4 1.3-4.7-1.1-1.2z"/>
<path color="#01f5ff" d="M164.1 318.4l1.8 2.5 1.3-5.1-1.8-2.1z"/>
<path color="#02fff6" d="M165.9 320.9l1.8 2.5 1.3-5.5-1.8-2.1z"/>
<path color="#02ffe7" d="M167.7 323.4l1.1 1.4 1.3-5.7-1.1-1.2z"/>
<path color="#03ffde" d="M168.8 324.8l1 1.1 1.3-5.8-1-1z"/>
<path color="#02ffd9" d="M169.8 325.9l.9.9 1.2-5.9-.8-.8z"/>
<path color="#02ffd6" d="M170.7 326.8l.8.8 1.3-5.9-.9-.8z"/>
<path color="#01ffd6" d="M171.5 327.6l.8.7 1.3-5.9-.8-.7z"/>
<path color="#01ffd7" d="M172.3 328.3l.9.7 1.3-6-.9-.6z"/>
<path color="#00ffdc" d="M173.2 329l1 .6 1.2-5.9-.9-.7z"/>
<path color="#00f7dd" d="M174.2 329.6l1.2.6 1.2-5.7-1.2-.8z"/>
<path color="#00ebe1" d="M175.4 330.2l2 .9 1.2-5.4-2-1.2z"/>
<path color="#00e7f1" d="M177.4 331.1l2 .8 1.1-5.1-1.9-1.1z"/>
<path color="#00e4ff" d="M179.4 331.9l1.2.7 1.1-5-1.2-.8z"/>
<path color="#00dcff" d="M180.6 332.6l1 .6 1.1-4.9-1-.7z"/>
<path color="#00d7ff" d="M181.6 333.2l1 .7 1.1-4.8-1-.8z"/>
<path color="#00d4ff" d="M182.6 333.9l.9.7 1-4.8-.8-.7z"/>
<path color="#00d5ff" d="M183.5 334.6l.9.9 1-4.9-.9-.8z"/>
<path color="#00d7ff" d="M184.4 335.5l.9 1 1-5-.9-.9z"/>
<path color="#00dcff" d="M185.3 336.5l1 1.1 1.1-5.1-1.1-1z"/>
<path color="#01e5ff" d="M186.3 337.6l1.3 1.6 1-5.3-1.2-1.4z"/>
<path color="#01f5ff" d="M187.6 339.2l2 2.7 1-5.8-2-2.2z"/>
<path color="#02fff6" d="M189.6 341.9l2 2.6 1-6.1-2-2.3z"/>
<path color="#03ffe8" d="M191.6 344.5l1.2 1.6 1-6.3-1.2-1.4z"/>
<path color="#04ffdf" d="M192.8 346.1l1.1 1.2 1-6.5-1.1-1z"/>
<path color="#03ffda" d="M193.9 347.3l1 1 1-6.5-1-1z"/>
<path color="#03ffd7" d="M194.9 348.3l.9.9 1-6.6-.9-.8z"/>
<path color="#02ffd6" d="M195.8 349.2l1 .8.9-6.6-.9-.8z"/>
<path color="#01ffd8" d="M196.8 350l1 .8.9-6.6-1-.8z"/>
<path color="#01ffdc" d="M197.8 350.8l1.1.7.9-6.5-1.1-.8z"/>
<path color="#00f7dd" d="M198.9 351.5l1.3.7 1-6.3-1.4-.9z"/>
<path color="#00ebe2" d="M200.2 352.2l2.3 1.1.8-6.1-2.1-1.3z"/>
<path color="#00e7f1" d="M202.5 353.3l2.3 1.1.7-5.8-2.2-1.4z"/>
<path color="#00e4ff" d="M204.8 354.4l1.4.7.7-5.6-1.4-.9z"/>
<path color="#00dcff" d="M206.2 355.1l1.2.8.7-5.6-1.2-.8z"/>
<path color="#00d7ff" d="M207.4 355.9l1 .8.7-5.6-1-.8z"/>
<path color="#00d5ff" d="M208.4 356.7l1 .8.7-5.5-1-.9z"/>
<path color="#00d5ff" d="M209.4 357.5l1 1 .7-5.6-1-.9z"/>
<path color="#00d7ff" d="M210.4 358.5l1.1 1 .6-5.6-1-1z"/>
<path color="#01dcff" d="M211.5 359.5l1.1 1.3.7-5.8-1.2-1.1z"/>
<path color="#01e5ff" d="M212.6 360.8l.8 1 .8-.8.5-4.5-1.4-1.5z"/>
<path color="#01f2ff" d="M216.4 358.4l-1.7-1.9-.5 4.5z"/>
<path color="#00abd6" d="M135.1 297.5l1 .3.3-.6-1.2.2z"/>
<path color="#00b4f3" d="M136.1 297.8l.8.3.5-.8-1-.1z"/>
<path color="#00b5ff" d="M136.9 298.1l.8.5.6-1.2-.9-.1z"/>
<path color="#00b2ff" d="M137.7 298.6l.7.6.7-1.5-.8-.3z"/>
<path color="#00b4ff" d="M138.4 299.2l.7.7.9-1.8-.9-.4z"/>
<path color="#00baff" d="M139.1 299.9l.8.9 1-2.2-.9-.5z"/>
<path color="#00c4ff" d="M139.9 300.8l.8 1.1 1.2-2.7-1-.6z"/>
<path color="#00d3ff" d="M140.7 301.9l1.1 1.6 1.3-3.5-1.2-.8z"/>
<path color="#00edff" d="M141.8 303.5l1.6 2.7 1.4-4-1.5-2-.2-.2z"/>
<path color="#02ffef" d="M143.4 306.2l1.7 2.8 1.3-4.6-1.6-2.2z"/>
<path color="#04ffd8" d="M145.1 309l1 1.5 1.3-4.7-1-1.4z"/>
<path color="#04ffcb" d="M146.1 310.5l.9 1.2 1.3-4.9-.9-1z"/>
<path color="#04ffc2" d="M147 311.7l.7.9 1.4-5-.8-.8z"/>
<path color="#03ffbd" d="M147.7 312.6l.8.8 1.3-5.1-.7-.7z"/>
<path color="#01ffbc" d="M148.5 313.4l.8.6 1.3-5.1-.8-.6z"/>
<path color="#00ffbf" d="M149.3 314l.8.5 1.3-5-.8-.6z"/>
<path color="#00e3b1" d="M150.1 314.5l.8.4 1.3-4.9-.8-.5z"/>
<path color="#00d0ad" d="M150.9 314.9l1.1.3 1.3-4.6-1.1-.6z"/>
<path color="#00c8ba" d="M152 315.2l1.8.3 1.2-4.2-1.7-.7z"/>
<path color="#00c1cf" d="M153.8 315.5l1.8.3 1.2-3.8-1.8-.7z"/>
<path color="#00bbe1" d="M155.6 315.8l1.1.4 1.2-3.7-1.1-.5z"/>
<path color="#00c5fe" d="M156.7 316.2l.9.4 1.2-3.5-.9-.6z"/>
<path color="#00beff" d="M157.6 316.6l.8.5 1.2-3.4-.8-.6z"/>
<path color="#00baff" d="M158.4 317.1l.8.7 1.2-3.5-.8-.6z"/>
<path color="#00baff" d="M159.2 317.8l.8.8 1.2-3.5-.8-.8z"/>
<path color="#00beff" d="M160 318.6l.9.9 1.2-3.5-.9-.9z"/>
<path color="#00c6ff" d="M160.9 319.5l.9 1.3 1.2-3.8-.9-1z"/>
<path color="#00d4ff" d="M161.8 320.8l1.1 1.6 1.2-4-1.1-1.4z"/>
<path color="#01eeff" d="M162.9 322.4l1.8 3 1.2-4.5-1.8-2.5z"/>
<path color="#02fff0" d="M164.7 325.4l1.9 3 1.1-5-1.8-2.5z"/>
<path color="#04ffd8" d="M166.6 328.4l1.1 1.7 1.1-5.3-1.1-1.4z"/>
<path color="#06ffcc" d="M167.7 330.1l.9 1.2 1.2-5.4-1-1.1z"/>
<path color="#05ffc3" d="M168.6 331.3l.9 1.1 1.2-5.6-.9-.9z"/>
<path color="#04ffbe" d="M169.5 332.4l.9.8 1.1-5.6-.8-.8z"/>
<path color="#02ffbc" d="M170.4 333.2l.8.7 1.1-5.6-.8-.7z"/>
<path color="#01ffbf" d="M171.2 333.9l.9.6 1.1-5.5-.9-.7z"/>
<path color="#00e3b1" d="M172.1 334.5l1 .5 1.1-5.4-1-.6z"/>
<path color="#00d0ad" d="M173.1 335l1.2.4 1.1-5.2-1.2-.6z"/>
<path color="#00c8ba" d="M174.3 335.4l2.1.4 1-4.7-2-.9z"/>
<path color="#00c1cf" d="M176.4 335.8l2 .5 1-4.4-2-.8z"/>
<path color="#00bbe1" d="M178.4 336.3l1.2.4 1-4.1-1.2-.7z"/>
<path color="#00c5fe" d="M179.6 336.7l1.1.5.9-4-1-.6z"/>
<path color="#00beff" d="M180.7 337.2l1 .7.9-4-1-.7z"/>
<path color="#0bf" d="M181.7 337.9l.9.7.9-4-.9-.7z"/>
<path color="#0bf" d="M182.6 338.6l.9.9.9-4-.9-.9z"/>
<path color="#00beff" d="M183.5 339.5l.9 1.1.9-4.1-.9-1z"/>
<path color="#00c6ff" d="M184.4 340.6l1 1.3.9-4.3-1-1.1z"/>
<path color="#00d4ff" d="M185.4 341.9l1.3 1.8.9-4.5-1.3-1.6z"/>
<path color="#01eeff" d="M186.7 343.7l2 3.2.9-5-2-2.7z"/>
<path color="#02fff0" d="M188.7 346.9l2 3.2.9-5.6-2-2.6z"/>
<path color="#05ffd9" d="M190.7 350.1l1.2 1.9.9-5.9-1.2-1.6z"/>
<path color="#07ffcd" d="M191.9 352l1.1 1.4.9-6.1-1.1-1.2z"/>
<path color="#07ffc5" d="M193 353.4l1 1.1.9-6.2-1-1z"/>
<path color="#05ffc0" d="M194 354.5l.9.9.9-6.2-.9-.9z"/>
<path color="#03ffbe" d="M194.9 355.4l1 .8.9-6.2-1-.8z"/>
<path color="#01ffbf" d="M195.9 356.2l1 .7.9-6.1-1-.8z"/>
<path color="#00e4b1" d="M196.9 356.9l1.1.6.9-6-1.1-.7z"/>
<path color="#00d0ad" d="M198 357.5l1.4.6.8-5.9-1.3-.7z"/>
<path color="#00c8ba" d="M199.4 358.1l2.3.6.8-5.4-2.3-1.1z"/>
<path color="#00c1cf" d="M201.7 358.7l2.4.6.7-4.9-2.3-1.1z"/>
<path color="#00bbe1" d="M204.1 359.3l1.4.6.7-4.8-1.4-.7z"/>
<path color="#00c5fe" d="M205.5 359.9l1.2.6.7-4.6-1.2-.8z"/>
<path color="#00beff" d="M206.7 360.5l1.1.7.6-4.5-1-.8z"/>
<path color="#0bf" d="M207.8 361.2l1.1.9.5-4.6-1-.8z"/>
<path color="#0bf" d="M208.9 362.1l1 1 .5-4.6-1-1z"/>
<path color="#00bcff" d="M209.9 363.1l1 1.1.1 0 .5-4.7-1.1-1z"/>
<path color="#00caff" d="M212.4 362.8l.2-2-1.1-1.3-.5 4.7z"/>
<path color="#00d7ff" d="M213.4 361.8l-.8-1-.2 2z"/>
<path color="#00cf74" d="M128.4 300.5l.7.4.2-1-.8.2z"/>
<path color="#00b773" d="M129.1 300.9l.8.2.4-1.5-1 .3z"/>
<path color="#00a779" d="M129.9 301.1l.9 0 .6-2.1-1.1.6z"/>
<path color="#00a08e" d="M130.8 301.1l1.5-.4 1-2.6-1.9.9z"/>
<path color="#009eb2" d="M132.3 300.7l1.6-.4 1.2-2.8-.3 0-1.5.6z"/>
<path color="#0096c8" d="M133.9 300.3l1 0 1.2-2.5-1-.3z"/>
<path color="#0097e1" d="M134.9 300.3l.8.2 1.2-2.4-.8-.3z"/>
<path color="#009eff" d="M135.7 300.5l.8.4 1.2-2.3-.8-.5z"/>
<path color="#09f" d="M136.5 300.9l.7.5 1.2-2.2-.7-.6z"/>
<path color="#09f" d="M137.2 301.4l.7.8 1.2-2.3-.7-.7z"/>
<path color="#009eff" d="M137.9 302.2l.8 1 1.2-2.4-.8-.9z"/>
<path color="#0af" d="M138.7 303.2l.8 1.3 1.2-2.6-.8-1.1z"/>
<path color="#00bfff" d="M139.5 304.5l1.1 1.9 1.2-2.9-1.1-1.6z"/>
<path color="#00e5ff" d="M140.6 306.4l1.6 3.3 1.2-3.5-1.6-2.7z"/>
<path color="#01ffe6" d="M142.2 309.7l1.7 3.4 1.2-4.1-1.7-2.8z"/>
<path color="#05ffc4" d="M143.9 313.1l1 1.9 1.2-4.5-1-1.5z"/>
<path color="#09ffb3" d="M144.9 315l.9 1.3 1.2-4.6-.9-1.2z"/>
<path color="#09ffa7" d="M145.8 316.3l.8 1 1.1-4.7-.7-.9z"/>
<path color="#05ff9e" d="M146.6 317.3l.8.9 1.1-4.8-.8-.8z"/>
<path color="#02ff9b" d="M147.4 318.2l.7.6 1.2-4.8-.8-.6z"/>
<path color="#00df8b" d="M148.1 318.8l.8.4 1.2-4.7-.8-.5z"/>
<path color="#00c282" d="M148.9 319.2l.9.2 1.1-4.5-.8-.4z"/>
<path color="#00b084" d="M149.8 319.4l1.1.1 1.1-4.3-1.1-.3z"/>
<path color="#00a695" d="M150.9 319.5l1.8-.2 1.1-3.8-1.8-.3z"/>
<path color="#009daf" d="M152.7 319.3l1.8-.3 1.1-3.2-1.8-.3z"/>
<path color="#0096c8" d="M154.5 319l1.1.1 1.1-2.9-1.1-.4z"/>
<path color="#0097e1" d="M155.6 319.1l.9.2 1.1-2.7-.9-.4z"/>
<path color="#009eff" d="M156.5 319.3l.9.5 1-2.7-.8-.5z"/>
<path color="#09f" d="M157.4 319.8l.8.6 1-2.6-.8-.7z"/>
<path color="#09f" d="M158.2 320.4l.8.8 1-2.6-.8-.8z"/>
<path color="#009eff" d="M159 321.2l.9 1.1 1-2.8-.9-.9z"/>
<path color="#0af" d="M159.9 322.3l.9 1.5 1-3-.9-1.3z"/>
<path color="#00bfff" d="M160.8 323.8l1.1 2 1-3.4-1.1-1.6z"/>
<path color="#00e5ff" d="M161.9 325.8l1.8 3.5 1-3.9-1.8-3z"/>
<path color="#01ffe6" d="M163.7 329.3l1.8 3.6 1.1-4.5-1.9-3z"/>
<path color="#05ffc4" d="M165.5 332.9l1.2 2 1-4.8-1.1-1.7z"/>
<path color="#0affb5" d="M166.7 334.9l.9 1.5 1-5.1-.9-1.2z"/>
<path color="#0bffa9" d="M167.6 336.4l.9 1.1 1-5.1-.9-1.1z"/>
<path color="#07ffa0" d="M168.5 337.5l.9.9 1-5.2-.9-.8z"/>
<path color="#03ff9b" d="M169.4 338.4l.8.7 1-5.2-.8-.7z"/>
<path color="#00df8b" d="M170.2 339.1l.9.5 1-5.1-.9-.6z"/>
<path color="#00c282" d="M171.1 339.6l1.1.4.9-5-1-.5z"/>
<path color="#00b084" d="M172.2 340l1.2.1.9-4.7-1.2-.4z"/>
<path color="#00a695" d="M173.4 340.1l2-.1 1-4.2-2.1-.4z"/>
<path color="#009daf" d="M175.4 340l2.1-.1.9-3.6-2-.5z"/>
<path color="#0096c8" d="M177.5 339.9l1.3.2.8-3.4-1.2-.4z"/>
<path color="#0097e1" d="M178.8 340.1l1.1.3.8-3.2-1.1-.5z"/>
<path color="#009eff" d="M179.9 340.4l1 .5.8-3-1-.7z"/>
<path color="#09f" d="M180.9 340.9l.9.8.8-3.1-.9-.7z"/>
<path color="#09f" d="M181.8 341.7l.9.9.8-3.1-.9-.9z"/>
<path color="#009eff" d="M182.7 342.6l.9 1.2.8-3.2-.9-1.1z"/>
<path color="#0af" d="M183.6 343.8l1.1 1.6.7-3.5-1-1.3z"/>
<path color="#00bfff" d="M184.7 345.4l1.2 2.1.8-3.8-1.3-1.8z"/>
<path color="#00e5ff" d="M185.9 347.5l2 3.8.8-4.4-2-3.2z"/>
<path color="#01ffe6" d="M187.9 351.3l2 3.9.8-5.1-2-3.2z"/>
<path color="#06ffc5" d="M189.9 355.2l1.2 2.2.8-5.4-1.2-1.9z"/>
<path color="#0bffb6" d="M191.1 357.4l1.1 1.6.8-5.6-1.1-1.4z"/>
<path color="#0dffac" d="M192.2 359l.9 1.2.9-5.7-1-1.1z"/>
<path color="#09ffa2" d="M193.1 360.2l1 1 .8-5.8-.9-.9z"/>
<path color="#04ff9d" d="M194.1 361.2l1 .8.8-5.8-1-.8z"/>
<path color="#01e08b" d="M195.1 362l1 .6.8-5.7-1-.7z"/>
<path color="#00c282" d="M196.1 362.6l1.2.5.7-5.6-1.1-.6z"/>
<path color="#00b084" d="M197.3 363.1l1.4.2.7-5.2-1.4-.6z"/>
<path color="#00a695" d="M198.7 363.3l2.4.1.6-4.7-2.3-.6z"/>
<path color="#009daf" d="M201.1 363.4l2.4.1.6-4.2-2.4-.6z"/>
<path color="#0096c8" d="M203.5 363.5l1.5.3.5-3.9-1.4-.6z"/>
<path color="#0097e1" d="M205 363.8l1.2.4.5-3.7-1.2-.6z"/>
<path color="#009eff" d="M206.2 364.2l1.2.6.4-3.6-1.1-.7z"/>
<path color="#09f" d="M207.4 364.8l1 .9.5-3.6-1.1-.9z"/>
<path color="#0098ff" d="M208.4 365.7l.3.3.9-.7.3-2.2-1-1z"/>
<path color="#00a8ff" d="M210.9 364.2l-1-1.1-.3 2.2z"/>
<path color="#00ffd7" d="M121.8 294.9l1.6 3.8.4-1.2-1.9-2.7z"/>
<path color="#05ffa3" d="M123.4 298.7l1 2.1.6-2-1.2-1.3z"/>
<path color="#0eff90" d="M124.4 300.8l.8 1.5.7-2.8-.9-.7z"/>
<path color="#10ff83" d="M125.2 302.3l.7 1.1.9-3.5-.9-.4z"/>
<path color="#07ff75" d="M125.9 303.4l.7.8 1-4.1-.8-.2z"/>
<path color="#01fc74" d="M126.6 304.2l.7.5 1.1-4.2-.6-.4-.2 0z"/>
<path color="#00c05b" d="M127.3 304.7l.7.2 1.1-4-.7-.4z"/>
<path color="#00a559" d="M128 304.9l.8 0 1.1-3.8-.8-.2z"/>
<path color="#00915e" d="M128.8 304.9l.9-.3 1.1-3.5-.9 0z"/>
<path color="#008572" d="M129.7 304.6l1.5-1 1.1-2.9-1.5.4z"/>
<path color="#007a8e" d="M131.2 303.6l1.6-1 1.1-2.3-1.6.4z"/>
<path color="#0070ac" d="M132.8 302.6l1-.3 1.1-2-1 0z"/>
<path color="#006fce" d="M133.8 302.3l.8 0 1.1-1.8-.8-.2z"/>
<path color="#0073f4" d="M134.6 302.3l.8.2 1.1-1.6-.8-.4z"/>
<path color="#0070ff" d="M135.4 302.5l.7.6 1.1-1.7-.7-.5z"/>
<path color="#0070ff" d="M136.1 303.1l.7.8 1.1-1.7-.7-.8z"/>
<path color="#0078ff" d="M136.8 303.9l.8 1.1 1.1-1.8-.8-1z"/>
<path color="#0089ff" d="M137.6 305l.9 1.6 1-2.1-.8-1.3z"/>
<path color="#00a5ff" d="M138.5 306.6l1 2.2 1.1-2.4-1.1-1.9z"/>
<path color="#00dbff" d="M139.5 308.8l1.7 4 1-3.1-1.6-3.3z"/>
<path color="#00ffdb" d="M141.2 312.8l1.7 4.1 1-3.8-1.7-3.4z"/>
<path color="#05ffaa" d="M142.9 316.9l1 2.2 1-4.1-1-1.9z"/>
<path color="#0eff97" d="M143.9 319.1l.9 1.6 1-4.4-.9-1.3z"/>
<path color="#11ff89" d="M144.8 320.7l.8 1.1 1-4.5-.8-1z"/>
<path color="#09ff79" d="M145.6 321.8l.8.9 1-4.5-.8-.9z"/>
<path color="#02f76e" d="M146.4 322.7l.7.6 1-4.5-.7-.6z"/>
<path color="#00c05b" d="M147.1 323.3l.8.3 1-4.4-.8-.4z"/>
<path color="#00a559" d="M147.9 323.6l.9.1 1-4.3-.9-.2z"/>
<path color="#00915e" d="M148.8 323.7l1.1-.3 1-3.9-1.1-.1z"/>
<path color="#008572" d="M149.9 323.4l1.8-.9 1-3.2-1.8.2z"/>
<path color="#007a8e" d="M151.7 322.5l1.8-.9 1-2.6-1.8.3z"/>
<path color="#0070ac" d="M153.5 321.6l1.2-.3.9-2.2-1.1-.1z"/>
<path color="#006fce" d="M154.7 321.3l.9.1.9-2.1-.9-.2z"/>
<path color="#0073f4" d="M155.6 321.4l.9.3.9-1.9-.9-.5z"/>
<path color="#0070ff" d="M156.5 321.7l.8.6.9-1.9-.8-.6z"/>
<path color="#0070ff" d="M157.3 322.3l.8.9.9-2-.8-.8z"/>
<path color="#0078ff" d="M158.1 323.2l.9 1.3.9-2.2-.9-1.1z"/>
<path color="#0089ff" d="M159 324.5l.9 1.6.9-2.3-.9-1.5z"/>
<path color="#00a5ff" d="M159.9 326.1l1.1 2.4.9-2.7-1.1-2z"/>
<path color="#00dbff" d="M161 328.5l1.9 4.3.8-3.5-1.8-3.5z"/>
<path color="#00ffdb" d="M162.9 332.8l1.8 4.3.8-4.2-1.8-3.6z"/>
<path color="#05ffaa" d="M164.7 337.1l1.1 2.4.9-4.6-1.2-2z"/>
<path color="#0fff97" d="M165.8 339.5l.9 1.7.9-4.8-.9-1.5z"/>
<path color="#13ff8b" d="M166.7 341.2l.9 1.2.9-4.9-.9-1.1z"/>
<path color="#0bff7b" d="M167.6 342.4l.9 1 .9-5-.9-.9z"/>
<path color="#02f86e" d="M168.5 343.4l.8.6.9-4.9-.8-.7z"/>
<path color="#00c05b" d="M169.3 344l1 .5.8-4.9-.9-.5z"/>
<path color="#00a559" d="M170.3 344.5l1 .1.9-4.6-1.1-.4z"/>
<path color="#00915e" d="M171.3 344.6l1.3-.2.8-4.3-1.2-.1z"/>
<path color="#008572" d="M172.6 344.4l2.1-.7.7-3.7-2 .1z"/>
<path color="#007a8e" d="M174.7 343.7l2.1-.8.7-3-2.1.1z"/>
<path color="#0070ac" d="M176.8 342.9l1.3-.2.7-2.6-1.3-.2z"/>
<path color="#006fce" d="M178.1 342.7l1.1.2.7-2.5-1.1-.3z"/>
<path color="#0073f4" d="M179.2 342.9l1 .4.7-2.4-1-.5z"/>
<path color="#0070ff" d="M180.2 343.3l.9.7.7-2.3-.9-.8z"/>
<path color="#0070ff" d="M181.1 344l.9 1 .7-2.4-.9-.9z"/>
<path color="#0078ff" d="M182 345l1 1.3.6-2.5-.9-1.2z"/>
<path color="#0089ff" d="M183 346.3l1 1.8.7-2.7-1.1-1.6z"/>
<path color="#00a5ff" d="M184 348.1l1.2 2.5.7-3.1-1.2-2.1z"/>
<path color="#00dbff" d="M185.2 350.6l2 4.6.7-3.9-2-3.8z"/>
<path color="#00ffdb" d="M187.2 355.2l1.9 4.6.8-4.6-2-3.9z"/>
<path color="#04ffaa" d="M189.1 359.8l1.3 2.6.7-5-1.2-2.2z"/>
<path color="#0fff98" d="M190.4 362.4l1 1.8.8-5.2-1.1-1.6z"/>
<path color="#16ff8f" d="M191.4 364.2l1 1.4.7-5.4-.9-1.2z"/>
<path color="#0eff7e" d="M192.4 365.6l1 1.1.7-5.5-1-1z"/>
<path color="#04f970" d="M193.4 366.7l.9.7.8-5.4-1-.8z"/>
<path color="#00c15b" d="M194.3 367.4l1.1.5.7-5.3-1-.6z"/>
<path color="#00a559" d="M195.4 367.9l1.2.3.7-5.1-1.2-.5z"/>
<path color="#00915e" d="M196.6 368.2l1.5-.1.6-4.8-1.4-.2z"/>
<path color="#008572" d="M198.1 368.1l2.4-.6.6-4.1-2.4-.1z"/>
<path color="#007a8e" d="M200.5 367.5l2.5-.6.5-3.4-2.4-.1z"/>
<path color="#0070ac" d="M203 366.9l1.6 0 .4-3.1-1.5-.3z"/>
<path color="#006fce" d="M204.6 366.9l1.2.2.4-2.9-1.2-.4z"/>
<path color="#0070f7" d="M205.8 367.1l1 .5.2-.2.4-2.6-1.2-.6z"/>
<path color="#007aff" d="M208.3 366.3l.1-.6-1-.9-.4 2.6z"/>
<path color="#0081ff" d="M208.7 366l-.3-.3-.1.6z"/>
<path color="#0062ff" d="M117.7 289.3l.5 1 .5-.5-.1-.2z"/>
<path color="#0082ff" d="M118.2 290.3l1 2.5.7-1.1-1.2-1.9z"/>
<path color="#00d6ff" d="M119.2 292.8l1.6 4.6 1-2.5-.1-.4-1.8-2.8z"/>
<path color="#00ffcf" d="M120.8 297.4l1.6 4.5 1-3.2-1.6-3.8z"/>
<path color="#04ff8c" d="M122.4 301.9l1 2.5 1-3.6-1-2.1z"/>
<path color="#10ff73" d="M123.4 304.4l.8 1.7 1-3.8-.8-1.5z"/>
<path color="#19ff65" d="M124.2 306.1l.7 1.2 1-3.9-.7-1.1z"/>
<path color="#0aff4c" d="M124.9 307.3l.7.8 1-3.9-.7-.8z"/>
<path color="#01df3a" d="M125.6 308.1l.7.5 1-3.9-.7-.5z"/>
<path color="#00a933" d="M126.3 308.6l.7.2 1-3.9-.7-.2z"/>
<path color="#008b36" d="M127 308.8l.8-.2 1-3.7-.8 0z"/>
<path color="#00715c" d="M128.8 307.9l1.5-1.7.9-2.6-1.5 1z"/>
<path color="#005d72" d="M130.3 306.2l1.5-1.7 1-1.9-1.6 1z"/>
<path color="#004d90" d="M131.8 304.5l1-.7 1-1.5-1 .3z"/>
<path color="#0047b8" d="M132.8 303.8l.8-.3 1-1.2-.8 0z"/>
<path color="#0043e1" d="M133.6 303.5l.8.2 1-1.2-.8-.2z"/>
<path color="#0042ff" d="M134.4 303.7l.7.5 1-1.1-.7-.6z"/>
<path color="#0042ff" d="M135.1 304.2l.8.8.9-1.1-.7-.8z"/>
<path color="#004cff" d="M135.9 305l.8 1.3.9-1.3-.8-1.1z"/>
<path color="#0062ff" d="M136.7 306.3l.8 1.8 1-1.5-.9-1.6z"/>
<path color="#08f" d="M137.5 308.1l1.1 2.6.9-1.9-1-2.2z"/>
<path color="#00cfff" d="M138.6 310.7l1.7 4.8.9-2.7-1.7-4z"/>
<path color="#00ffcf" d="M140.3 315.5l1.7 4.9.9-3.5-1.7-4.1z"/>
<path color="#03ff8c" d="M142 320.4l1 2.6.9-3.9-1-2.2z"/>
<path color="#11ff73" d="M143 323l.9 1.8.9-4.1-.9-1.6z"/>
<path color="#1bff68" d="M143.9 324.8l.8 1.3.9-4.3-.8-1.1z"/>
<path color="#0cff4e" d="M144.7 326.1l.8.9.9-4.3-.8-.9z"/>
<path color="#01df3a" d="M145.5 327l.8.6.8-4.3-.7-.6z"/>
<path color="#00a933" d="M146.3 327.6l.8.2.8-4.2-.8-.3z"/>
<path color="#008b36" d="M147.1 327.8l.9-.2.8-3.9-.9-.1z"/>
<path color="#00763f" d="M148 327.6l1.1-.6.8-3.6-1.1.3z"/>
<path color="#00715c" d="M149.1 327l1.8-1.6.8-2.9-1.8.9z"/>
<path color="#005d72" d="M150.9 325.4l1.8-1.7.8-2.1-1.8.9z"/>
<path color="#004d90" d="M152.7 323.7l1.1-.6.9-1.8-1.2.3z"/>
<path color="#0047b8" d="M153.8 323.1l1-.2.8-1.5-.9-.1z"/>
<path color="#0043e1" d="M154.8 322.9l.9.2.8-1.4-.9-.3z"/>
<path color="#0042ff" d="M155.7 323.1l.8.6.8-1.4-.8-.6z"/>
<path color="#0042ff" d="M156.5 323.7l.8 1 .8-1.5-.8-.9z"/>
<path color="#004cff" d="M157.3 324.7l.9 1.3.8-1.5-.9-1.3z"/>
<path color="#0062ff" d="M158.2 326l.9 2 .8-1.9-.9-1.6z"/>
<path color="#08f" d="M159.1 328l1.2 2.7.7-2.2-1.1-2.4z"/>
<path color="#00cfff" d="M160.3 330.7l1.8 5.1.8-3-1.9-4.3z"/>
<path color="#00ffcf" d="M162.1 335.8l1.8 5.2.8-3.9-1.8-4.3z"/>
<path color="#03ff8b" d="M163.9 341l1.1 2.7.8-4.2-1.1-2.4z"/>
<path color="#11ff73" d="M165 343.7l1 2 .7-4.5-.9-1.7z"/>
<path color="#1eff6a" d="M166 345.7l.8 1.4.8-4.7-.9-1.2z"/>
<path color="#0fff51" d="M166.8 347.1l.9 1 .8-4.7-.9-1z"/>
<path color="#02e03b" d="M167.7 348.1l.9.6.7-4.7-.8-.6z"/>
<path color="#00a933" d="M168.6 348.7l.9.3.8-4.5-1-.5z"/>
<path color="#008b36" d="M169.5 349l1 0 .8-4.4-1-.1z"/>
<path color="#00763f" d="M170.5 349l1.3-.6.8-4-1.3.2z"/>
<path color="#00715c" d="M171.8 348.4l2.1-1.5.8-3.2-2.1.7z"/>
<path color="#005d72" d="M173.9 346.9l2.2-1.5.7-2.5-2.1.8z"/>
<path color="#004d90" d="M176.1 345.4l1.4-.6.6-2.1-1.3.2z"/>
<path color="#0047b8" d="M177.5 344.8l1.1-.1.6-1.8-1.1-.2z"/>
<path color="#0043e1" d="M178.6 344.7l1 .3.6-1.7-1-.4z"/>
<path color="#0042ff" d="M179.6 345l.9.7.6-1.7-.9-.7z"/>
<path color="#0042ff" d="M180.5 345.7l1 1 .5-1.7-.9-1z"/>
<path color="#004cff" d="M181.5 346.7l.9 1.5.6-1.9-1-1.3z"/>
<path color="#0062ff" d="M182.4 348.2l1 2.1.6-2.2-1-1.8z"/>
<path color="#08f" d="M183.4 350.3l1.3 3 .5-2.7-1.2-2.5z"/>
<path color="#00cfff" d="M184.7 353.3l1.9 5.4.6-3.5-2-4.6z"/>
<path color="#00ffcf" d="M186.6 358.7l1.9 5.4.6-4.3-1.9-4.6z"/>
<path color="#02ff8b" d="M188.5 364.1l1.2 3 .7-4.7-1.3-2.6z"/>
<path color="#11ff73" d="M189.7 367.1l1 2.1.7-5-1-1.8z"/>
<path color="#21ff6e" d="M190.7 369.2l1 1.5.7-5.1-1-1.4z"/>
<path color="#13ff55" d="M191.7 370.7l1 1.1.7-5.1-1-1.1z"/>
<path color="#03e13c" d="M192.7 371.8l1 .8.6-5.2-.9-.7z"/>
<path color="#00a933" d="M193.7 372.6l1 .4.7-5.1-1.1-.5z"/>
<path color="#008b36" d="M194.7 373l1.3 0 .6-4.8-1.2-.3z"/>
<path color="#00763f" d="M196 373l1.5-.4.6-4.5-1.5.1z"/>
<path color="#00715c" d="M197.5 372.6l2.5-1.4.5-3.7-2.4.6z"/>
<path color="#005d72" d="M200 371.2l2.6-1.4.4-2.9-2.5.6z"/>
<path color="#004d90" d="M202.6 369.8l1.6-.4.4-2.5-1.6 0z"/>
<path color="#0045b9" d="M204.2 369.4l.9-.1.5-.5.2-1.7-1.2-.2z"/>
<path color="#004fdd" d="M206.8 367.6l-1-.5-.2 1.7z"/>
<path color="#0038ff" d="M116.4 289.4l.8 1.9 1-1-.5-1-.7-.3z"/>
<path color="#0068ff" d="M117.2 291.3l1 2.9 1-1.4-1-2.5z"/>
<path color="#00c2ff" d="M118.2 294.2l1.7 5.4.9-2.2-1.6-4.6z"/>
<path color="#00ffc2" d="M119.9 299.6l1.6 5.4.9-3.1-1.6-4.5z"/>
<path color="#02ff6a" d="M121.5 305l1 2.9.9-3.5-1-2.5z"/>
<path color="#10ff49" d="M122.5 307.9l.9 1.9.8-3.7-.8-1.7z"/>
<path color="#24ff40" d="M123.4 309.8l.7 1.3.8-3.8-.7-1.2z"/>
<path color="#0dff1c" d="M124.1 311.1l.7.9.8-3.9-.7-.8z"/>
<path color="#00c70c" d="M124.8 312l.7.5.8-3.9-.7-.5z"/>
<path color="#003177" d="M130.9 306l1-1.1.9-1.1-1 .7z"/>
<path color="#0023a1" d="M131.9 304.9l.9-.5.8-.9-.8.3z"/>
<path color="#0017d3" d="M132.8 304.4l.7 0 .9-.7-.8-.2z"/>
<path color="#000fff" d="M133.5 304.4l.8.5.8-.7-.7-.5z"/>
<path color="#000eff" d="M134.3 304.9l.7.9.9-.8-.8-.8z"/>
<path color="#001cff" d="M135 305.8l.8 1.4.9-.9-.8-1.3z"/>
<path color="#0038ff" d="M135.8 307.2l.9 2.1.8-1.2-.8-1.8z"/>
<path color="#0068ff" d="M136.7 309.3l1 3 .9-1.6-1.1-2.6z"/>
<path color="#00c2ff" d="M137.7 312.3l1.8 5.7.8-2.5-1.7-4.8z"/>
<path color="#00ffc2" d="M139.5 318l1.7 5.7.8-3.3-1.7-4.9z"/>
<path color="#01ff6a" d="M141.2 323.7l1 3 .8-3.7-1-2.6z"/>
<path color="#10ff48" d="M142.2 326.7l.9 2.1.8-4-.9-1.8z"/>
<path color="#26ff42" d="M143.1 328.8l.8 1.4.8-4.1-.8-1.3z"/>
<path color="#10ff1e" d="M143.9 330.2l.8 1 .8-4.2-.8-.9z"/>
<path color="#01c80c" d="M144.7 331.2l.8.5.8-4.1-.8-.6z"/>
<path color="#009410" d="M145.5 331.7l.8.1.8-4-.8-.2z"/>
<path color="#00751a" d="M146.3 331.8l.9-.3.8-3.9-.9.2z"/>
<path color="#006f2d" d="M147.2 331.5l1.1-1.1.8-3.4-1.1.6z"/>
<path color="#006b51" d="M148.3 330.4l1.8-2.4.8-2.6-1.8 1.6z"/>
<path color="#00526b" d="M150.1 328l1.8-2.5.8-1.8-1.8 1.7z"/>
<path color="#003177" d="M151.9 325.5l1.2-1 .7-1.4-1.1.6z"/>
<path color="#0023a1" d="M153.1 324.5l1-.5.7-1.1-1 .2z"/>
<path color="#0017d3" d="M154.1 324l.8.1.8-1-.9-.2z"/>
<path color="#000fff" d="M154.9 324.1l.9.6.7-1-.8-.6z"/>
<path color="#000eff" d="M155.8 324.7l.8 1 .7-1-.8-1z"/>
<path color="#001cff" d="M156.6 325.7l.9 1.5.7-1.2-.9-1.3z"/>
<path color="#0038ff" d="M157.5 327.2l.9 2.2.7-1.4-.9-2z"/>
<path color="#0068ff" d="M158.4 329.4l1.2 3.2.7-1.9-1.2-2.7z"/>
<path color="#00c2ff" d="M159.6 332.6l1.8 6 .7-2.8-1.8-5.1z"/>
<path color="#00ffc2" d="M161.4 338.6l1.8 6 .7-3.6-1.8-5.2z"/>
<path color="#01ff69" d="M163.2 344.6l1.1 3.2.7-4.1-1.1-2.7z"/>
<path color="#0fff47" d="M164.3 347.8l.9 2.2.8-4.3-1-2z"/>
<path color="#29ff45" d="M165.2 350l.9 1.6.7-4.5-.8-1.4z"/>
<path color="#13ff22" d="M166.1 351.6l.9 1 .7-4.5-.9-1z"/>
<path color="#01c80c" d="M167 352.6l.8.7.8-4.6-.9-.6z"/>
<path color="#009410" d="M167.8 353.3l1 .1.7-4.4-.9-.3z"/>
<path color="#00751a" d="M168.8 353.4l1-.3.7-4.1-1 0z"/>
<path color="#006f2d" d="M169.8 353.1l1.3-.9.7-3.8-1.3.6z"/>
<path color="#006b51" d="M171.1 352.2l2.2-2.3.6-3-2.1 1.5z"/>
<path color="#00526b" d="M173.3 349.9l2.2-2.4.6-2.1-2.2 1.5z"/>
<path color="#003177" d="M175.5 347.5l1.4-1 .6-1.7-1.4.6z"/>
<path color="#0023a1" d="M176.9 346.5l1.1-.4.6-1.4-1.1.1z"/>
<path color="#0017d3" d="M178 346.1l1.1.2.5-1.3-1-.3z"/>
<path color="#000fff" d="M179.1 346.3l.9.6.5-1.2-.9-.7z"/>
<path color="#000eff" d="M180 346.9l1 1.1.5-1.3-1-1z"/>
<path color="#001cff" d="M181 348l.9 1.7.5-1.5-.9-1.5z"/>
<path color="#0038ff" d="M181.9 349.7l1 2.3.5-1.7-1-2.1z"/>
<path color="#0068ff" d="M182.9 352l1.2 3.5.6-2.2-1.3-3z"/>
<path color="#00c2ff" d="M184.1 355.5l1.9 6.3.6-3.1-1.9-5.4z"/>
<path color="#00ffc2" d="M186 361.8l1.9 6.3.6-4-1.9-5.4z"/>
<path color="#01ff69" d="M187.9 368.1l1.2 3.5.6-4.5-1.2-3z"/>
<path color="#0eff46" d="M189.1 371.6l1 2.3.6-4.7-1-2.1z"/>
<path color="#2cff47" d="M190.1 373.9l1 1.7.6-4.9-1-1.5z"/>
<path color="#17ff26" d="M191.1 375.6l.9 1.2.7-5-1-1.1z"/>
<path color="#01c90d" d="M192 376.8l1 .7.7-4.9-1-.8z"/>
<path color="#009410" d="M193 377.5l1.1.3.6-4.8-1-.4z"/>
<path color="#00751a" d="M194.1 377.8l1.3-.2.6-4.6-1.3 0z"/>
<path color="#006f2d" d="M195.4 377.6l1.5-.8.6-4.2-1.5.4z"/>
<path color="#006b51" d="M196.9 376.8l2.7-2.2.4-3.4-2.5 1.4z"/>
<path color="#00526b" d="M199.6 374.6l2.6-2.3.4-2.5-2.6 1.4z"/>
<path color="#002f78" d="M202.2 372.3l1.3-.7.5-.7.2-1.5-1.6.4z"/>
<path color="#002f9b" d="M205.1 369.3l-.9.1-.2 1.5z"/>
<path color="#1800ff" d="M114.8 288.3l.7 1.5.9-.4-.4-.9-.7-.3z"/>
<path color="#000aff" d="M115.5 289.8l.8 2.2.9-.7-.8-1.9z"/>
<path color="#0045ff" d="M116.3 292l1.1 3.3.8-1.1-1-2.9z"/>
<path color="#00b4ff" d="M117.4 295.3l1.6 6.3.9-2-1.7-5.4z"/>
<path color="#00ffb4" d="M119 301.6l1.7 6.3.8-2.9-1.6-5.4z"/>
<path color="#01ff46" d="M120.7 307.9l1.1 3.3.7-3.3-1-2.9z"/>
<path color="#0eff18" d="M121.8 311.2l.8 2.2.8-3.6-.9-1.9z"/>
<path color="#46ff2d" d="M122.6 313.4l.7 1.5.8-3.8-.7-1.3z"/>
<path color="#38ff10" d="M123.3 314.9l.7.9.8-3.8-.7-.9z"/>
<path color="#1300c5" d="M131.9 305l.8-.1.8-.5-.7 0z"/>
<path color="#2900ff" d="M132.7 304.9l.7.4.9-.4-.8-.5z"/>
<path color="#2900ff" d="M133.4 305.3l.8.9.8-.4-.7-.9z"/>
<path color="#1900ff" d="M134.2 306.2l.8 1.6.8-.6-.8-1.4z"/>
<path color="#000aff" d="M135 307.8l.9 2.4.8-.9-.9-2.1z"/>
<path color="#0045ff" d="M135.9 310.2l1.1 3.5.7-1.4-1-3z"/>
<path color="#00b4ff" d="M137 313.7l1.7 6.6.8-2.3-1.8-5.7z"/>
<path color="#00ffb4" d="M138.7 320.3l1.7 6.6.8-3.2-1.7-5.7z"/>
<path color="#00ff46" d="M140.4 326.9l1.1 3.4.7-3.6-1-3z"/>
<path color="#0cff17" d="M141.5 330.3l.9 2.4.7-3.9-.9-2.1z"/>
<path color="#48ff2f" d="M142.4 332.7l.8 1.6.7-4.1-.8-1.4z"/>
<path color="#3bff12" d="M143.2 334.3l.8 1 .7-4.1-.8-1z"/>
<path color="#1db200" d="M144 335.3l.7.5.8-4.1-.8-.5z"/>
<path color="#0d8200" d="M144.7 335.8l.9 0 .7-4-.8-.1z"/>
<path color="#007004" d="M145.6 335.8l.9-.6.7-3.7-.9.3z"/>
<path color="#006a1d" d="M146.5 335.2l1.1-1.5.7-3.3-1.1 1.1z"/>
<path color="#00068b" d="M152.4 325.5l1-.7.7-.8-1 .5z"/>
<path color="#1300c5" d="M153.4 324.8l.9 0 .6-.7-.8-.1z"/>
<path color="#2900ff" d="M154.3 324.8l.8.5.7-.6-.9-.6z"/>
<path color="#2900ff" d="M155.1 325.3l.9 1 .6-.6-.8-1z"/>
<path color="#1900ff" d="M156 326.3l.8 1.7.7-.8-.9-1.5z"/>
<path color="#000aff" d="M156.8 328l1 2.5.6-1.1-.9-2.2z"/>
<path color="#0045ff" d="M157.8 330.5l1.1 3.7.7-1.6-1.2-3.2z"/>
<path color="#00b4ff" d="M158.9 334.2l1.8 7 .7-2.6-1.8-6z"/>
<path color="#00ffb4" d="M160.7 341.2l1.8 6.9.7-3.5-1.8-6z"/>
<path color="#00ff46" d="M162.5 348.1l1.1 3.7.7-4-1.1-3.2z"/>
<path color="#0bff15" d="M163.6 351.8l.9 2.5.7-4.3-.9-2.2z"/>
<path color="#49ff31" d="M164.5 354.3l.9 1.7.7-4.4-.9-1.6z"/>
<path color="#3fff16" d="M165.4 356l.9 1.1.7-4.5-.9-1z"/>
<path color="#1db300" d="M166.3 357.1l.9.6.6-4.4-.8-.7z"/>
<path color="#0d8200" d="M167.2 357.7l.9 0 .7-4.3-1-.1z"/>
<path color="#007004" d="M168.1 357.7l1.1-.5.6-4.1-1 .3z"/>
<path color="#006a1d" d="M169.2 357.2l1.3-1.4.6-3.6-1.3.9z"/>
<path color="#006648" d="M170.5 355.8l2.2-3.2.6-2.7-2.2 2.3z"/>
<path color="#004866" d="M172.7 352.6l2.3-3.3.5-1.8-2.2 2.4z"/>
<path color="#001d6c" d="M175 349.3l1.4-1.5.5-1.3-1.4 1z"/>
<path color="#00068b" d="M176.4 347.8l1.2-.6.4-1.1-1.1.4z"/>
<path color="#1300c5" d="M177.6 347.2l1 0 .5-.9-1.1-.2z"/>
<path color="#2900ff" d="M178.6 347.2l1 .6.4-.9-.9-.6z"/>
<path color="#2900ff" d="M179.6 347.8l.9 1.2.5-1-1-1.1z"/>
<path color="#1900ff" d="M180.5 349l1 1.8.4-1.1-.9-1.7z"/>
<path color="#000aff" d="M181.5 350.8l1 2.6.4-1.4-1-2.3z"/>
<path color="#0045ff" d="M182.5 353.4l1.2 4 .4-1.9-1.2-3.5z"/>
<path color="#00b4ff" d="M183.7 357.4l1.8 7.3.5-2.9-1.9-6.3z"/>
<path color="#00ffb4" d="M185.5 364.7l1.8 7.3.6-3.9-1.9-6.3z"/>
<path color="#00ff46" d="M187.3 372l1.2 3.9.6-4.3-1.2-3.5z"/>
<path color="#0aff14" d="M188.5 375.9l1 2.7.6-4.7-1-2.3z"/>
<path color="#4bff32" d="M189.5 378.6l1 1.8.6-4.8-1-1.7z"/>
<path color="#43ff1a" d="M190.5 380.4l.9 1.2.6-4.8-.9-1.2z"/>
<path color="#1db301" d="M191.4 381.6l1 .7.6-4.8-1-.7z"/>
<path color="#0d8200" d="M192.4 382.3l1.1.2.6-4.7-1.1-.3z"/>
<path color="#007004" d="M193.5 382.5l1.3-.5.6-4.4-1.3.2z"/>
<path color="#006a1d" d="M194.8 382l1.6-1.3.5-3.9-1.5.8z"/>
<path color="#006648" d="M196.4 380.7l2.7-3.1.5-3-2.7 2.2z"/>
<path color="#004866" d="M199.1 377.6l2.8-3.1.3-2.2-2.6 2.3z"/>
<path color="#00266a" d="M201.9 374.5l.1-.1 1.5-2.8-1.3.7z"/>
<path color="#6300ff" d="M113.2 287.4l.7.9.9 0-.5-.6-.6-.3z"/>
<path color="#5000ff" d="M113.9 288.3l.7 1.7.9-.2-.7-1.5z"/>
<path color="#2700ff" d="M114.6 290l.9 2.5.8-.5-.8-2.2z"/>
<path color="#0021ff" d="M115.5 292.5l1 3.8.9-1-1.1-3.3z"/>
<path color="#00a5ff" d="M116.5 296.3l1.8 7.3.7-2-1.6-6.3z"/>
<path color="#00ffa5" d="M118.3 303.6l1.7 7.1.7-2.8-1.7-6.3z"/>
<path color="#00ff21" d="M120 310.7l1 3.8.8-3.3-1.1-3.3z"/>
<path color="#30ff09" d="M121 314.5l.9 2.5.7-3.6-.8-2.2z"/>
<path color="#83ff33" d="M121.9 317l.7 1.7.7-3.8-.7-1.5z"/>
<path color="#75ff12" d="M122.6 318.7l.7 1 .7-3.9-.7-.9z"/>
<path color="#6100f8" d="M131.9 305l.8.4.7-.1-.7-.4z"/>
<path color="#6400ff" d="M132.7 305.4l.7 1 .8-.2-.8-.9z"/>
<path color="#5000ff" d="M133.4 306.4l.8 1.8.8-.4-.8-1.6z"/>
<path color="#2700ff" d="M134.2 308.2l.9 2.7.8-.7-.9-2.4z"/>
<path color="#0021ff" d="M135.1 310.9l1.1 4 .8-1.2-1.1-3.5z"/>
<path color="#00a5ff" d="M136.2 314.9l1.8 7.6.7-2.2-1.7-6.6z"/>
<path color="#00ffa5" d="M138 322.5l1.7 7.5.7-3.1-1.7-6.6z"/>
<path color="#00ff21" d="M139.7 330l1.1 3.9.7-3.6-1.1-3.4z"/>
<path color="#2eff08" d="M140.8 333.9l.9 2.7.7-3.9-.9-2.4z"/>
<path color="#84ff34" d="M141.7 336.6l.8 1.7.7-4-.8-1.6z"/>
<path color="#78ff15" d="M142.5 338.3l.8 1.1.7-4.1-.8-1z"/>
<path color="#41a600" d="M143.3 339.4l.8.5.6-4.1-.7-.5z"/>
<path color="#257500" d="M144.1 339.9l.8-.2.7-3.9-.9 0z"/>
<path color="#106c00" d="M144.9 339.7l.9-.9.7-3.6-.9.6z"/>
<path color="#00660d" d="M145.8 338.8l1.1-1.9.7-3.2-1.1 1.5z"/>
<path color="#3900b5" d="M152.7 325.4l.9-.3.7-.3-.9 0z"/>
<path color="#6100f8" d="M153.6 325.1l.9.5.6-.3-.8-.5z"/>
<path color="#6400ff" d="M154.5 325.6l.8 1.1.7-.4-.9-1z"/>
<path color="#5000ff" d="M155.3 326.7l.9 1.9.6-.6-.8-1.7z"/>
<path color="#2700ff" d="M156.2 328.6l1 2.8.6-.9-1-2.5z"/>
<path color="#0021ff" d="M157.2 331.4l1.1 4.2.6-1.4-1.1-3.7z"/>
<path color="#00a5ff" d="M158.3 335.6l1.8 8 .6-2.4-1.8-7z"/>
<path color="#00ffa5" d="M160.1 343.6l1.8 7.9.6-3.4-1.8-6.9z"/>
<path color="#00ff21" d="M161.9 351.5l1.1 4.2.6-3.9-1.1-3.7z"/>
<path color="#2dff07" d="M163 355.7l.9 2.7.6-4.1-.9-2.5z"/>
<path color="#84ff34" d="M163.9 358.4l.9 1.9.6-4.3-.9-1.7z"/>
<path color="#7cff18" d="M164.8 360.3l.8 1.2.7-4.4-.9-1.1z"/>
<path color="#41a600" d="M165.6 361.5l.9.6.7-4.4-.9-.6z"/>
<path color="#257500" d="M166.5 362.1l1-.1.6-4.3-.9 0z"/>
<path color="#106c00" d="M167.5 362l1.1-.9.6-3.9-1.1.5z"/>
<path color="#00660d" d="M168.6 361.1l1.3-1.8.6-3.5-1.3 1.4z"/>
<path color="#00623f" d="M169.9 359.3l2.3-4.1.5-2.6-2.2 3.2z"/>
<path color="#003f62" d="M172.2 355.2l2.3-4.3.5-1.6-2.3 3.3z"/>
<path color="#000d67" d="M174.5 350.9l1.4-2 .5-1.1-1.4 1.5z"/>
<path color="#120077" d="M175.9 348.9l1.2-.9.5-.8-1.2.6z"/>
<path color="#3900b5" d="M177.1 348l1.1-.2.4-.6-1 0z"/>
<path color="#6100f8" d="M178.2 347.8l.9.6.5-.6-1-.6z"/>
<path color="#6400ff" d="M179.1 348.4l1 1.2.4-.6-.9-1.2z"/>
<path color="#5000ff" d="M180.1 349.6l.9 2 .5-.8-1-1.8z"/>
<path color="#2700ff" d="M181 351.6l1 3 .5-1.2-1-2.6z"/>
<path color="#0021ff" d="M182 354.6l1.2 4.5.5-1.7-1.2-4z"/>
<path color="#00a5ff" d="M183.2 359.1l1.8 8.4.5-2.8-1.8-7.3z"/>
<path color="#00ffa5" d="M185 367.5l1.8 8.3.5-3.8-1.8-7.3z"/>
<path color="#00ff21" d="M186.8 375.8l1.1 4.4.6-4.3-1.2-3.9z"/>
<path color="#2cff05" d="M187.9 380.2l1 2.9.6-4.5-1-2.7z"/>
<path color="#85ff35" d="M188.9 383.1l1 2 .6-4.7-1-1.8z"/>
<path color="#7fff1c" d="M189.9 385.1l1 1.3.5-4.8-.9-1.2z"/>
<path color="#41a600" d="M190.9 386.4l1 .7.5-4.8-1-.7z"/>
<path color="#257500" d="M191.9 387.1l1.1 0 .5-4.6-1.1-.2z"/>
<path color="#106c00" d="M193 387.1l1.3-.7.5-4.4-1.3.5z"/>
<path color="#00660d" d="M194.3 386.4l1.6-1.8.5-3.9-1.6 1.3z"/>
<path color="#00623f" d="M195.9 384.6l2.8-4 .4-3-2.7 3.1z"/>
<path color="#003f62" d="M198.7 380.6l1.7-2.6 1.5-3.4 0-.1-2.8 3.1z"/>
<path color="#a200ff" d="M112.3 287.2l.7 1 .9.1-.7-.9z"/>
<path color="#8b00ff" d="M113 288.2l.7 1.8.9 0-.7-1.7z"/>
<path color="#5a00ff" d="M113.7 290l.9 2.9.9-.4-.9-2.5z"/>
<path color="#0600ff" d="M114.6 292.9l1.1 4.3.8-.9-1-3.8z"/>
<path color="#0095ff" d="M115.7 297.2l1.8 8.3.8-1.9-1.8-7.3z"/>
<path color="#00ff96" d="M117.5 305.5l1.7 8.1.8-2.9-1.7-7.1z"/>
<path color="#06ff00" d="M119.2 313.6l1.1 4.3.7-3.4-1-3.8z"/>
<path color="#5fff05" d="M120.3 317.9l.9 2.7.7-3.6-.9-2.5z"/>
<path color="#beff33" d="M121.2 320.6l.7 1.9.7-3.8-.7-1.7z"/>
<path color="#b6ff14" d="M121.9 322.5l.7 1 .7-3.8-.7-1z"/>
<path color="#a200ff" d="M131.9 305.4l.8 1.1.7-.1-.7-1z"/>
<path color="#8b00ff" d="M132.7 306.5l.8 1.9.7-.2-.8-1.8z"/>
<path color="#5a00ff" d="M133.5 308.4l.9 3 .7-.5-.9-2.7z"/>
<path color="#0600ff" d="M134.4 311.4l1.1 4.5.7-1-1.1-4z"/>
<path color="#0095ff" d="M135.5 315.9l1.8 8.7.7-2.1-1.8-7.6z"/>
<path color="#00ff96" d="M137.3 324.6l1.7 8.5.7-3.1-1.7-7.5z"/>
<path color="#06ff00" d="M139 333.1l1.1 4.4.7-3.6-1.1-3.9z"/>
<path color="#5eff04" d="M140.1 337.5l.9 3 .7-3.9-.9-2.7z"/>
<path color="#beff33" d="M141 340.5l.8 1.9.7-4.1-.8-1.7z"/>
<path color="#b9ff17" d="M141.8 342.4l.8 1.1.7-4.1-.8-1.1z"/>
<path color="#629b00" d="M142.6 343.5l.8.4.7-4-.8-.5z"/>
<path color="#3e7200" d="M143.4 343.9l.8-.3.7-3.9-.8.2z"/>
<path color="#256800" d="M144.2 343.6l.9-1.1.7-3.7-.9.9z"/>
<path color="#9700ee" d="M153 325.4l.9.3.6-.1-.9-.5z"/>
<path color="#a200ff" d="M153.9 325.7l.8 1.2.6-.2-.8-1.1z"/>
<path color="#8b00ff" d="M154.7 326.9l.9 2.1.6-.4-.9-1.9z"/>
<path color="#5a00ff" d="M155.6 329l1 3.2.6-.8-1-2.8z"/>
<path color="#0600ff" d="M156.6 332.2l1.1 4.7.6-1.3-1.1-4.2z"/>
<path color="#0095ff" d="M157.7 336.9l1.8 9.1.6-2.4-1.8-8z"/>
<path color="#00ff96" d="M159.5 346l1.7 8.9.7-3.4-1.8-7.9z"/>
<path color="#06ff00" d="M161.2 354.9l1.1 4.7.7-3.9-1.1-4.2z"/>
<path color="#5dff03" d="M162.3 359.6l1 3.1.6-4.3-.9-2.7z"/>
<path color="#bdff32" d="M163.3 362.7l.8 2 .7-4.4-.9-1.9z"/>
<path color="#bcff1a" d="M164.1 364.7l.9 1.3.6-4.5-.8-1.2z"/>
<path color="#629b00" d="M165 366l.9.5.6-4.4-.9-.6z"/>
<path color="#3e7200" d="M165.9 366.5l1-.3.6-4.2-1 .1z"/>
<path color="#256800" d="M166.9 366.2l1-1.1.7-4-1.1.9z"/>
<path color="#026300" d="M167.9 365.1l1.4-2.3.6-3.5-1.3 1.8z"/>
<path color="#005f37" d="M169.3 362.8l2.3-5.1.6-2.5-2.3 4.1z"/>
<path color="#00375e" d="M171.6 357.7l2.4-5.3.5-1.5-2.3 4.3z"/>
<path color="#020063" d="M174 352.4l1.5-2.5.4-1-1.4 2z"/>
<path color="#25006a" d="M175.5 349.9l1.2-1.3.4-.6-1.2.9z"/>
<path color="#5a00a5" d="M176.7 348.6l1-.3.5-.5-1.1.2z"/>
<path color="#9700ee" d="M177.7 348.3l1 .5.4-.4-.9-.6z"/>
<path color="#a200ff" d="M178.7 348.8l1 1.3.4-.5-1-1.2z"/>
<path color="#8b00ff" d="M179.7 350.1l.9 2.2.4-.7-.9-2z"/>
<path color="#5a00ff" d="M180.6 352.3l1 3.3.4-1-1-3z"/>
<path color="#0600ff" d="M181.6 355.6l1.2 5.1.4-1.6-1.2-4.5z"/>
<path color="#0095ff" d="M182.8 360.7l1.7 9.4.5-2.6-1.8-8.4z"/>
<path color="#00ff96" d="M184.5 370.1l1.8 9.4.5-3.7-1.8-8.3z"/>
<path color="#06ff00" d="M186.3 379.5l1.1 4.9.5-4.2-1.1-4.4z"/>
<path color="#5cff02" d="M187.4 384.4l1 3.3.5-4.6-1-2.9z"/>
<path color="#bcff32" d="M188.4 387.7l.9 2.2.6-4.8-1-2z"/>
<path color="#bfff1d" d="M189.3 389.9l1 1.4.6-4.9-1-1.3z"/>
<path color="#629b00" d="M190.3 391.3l1 .6.6-4.8-1-.7z"/>
<path color="#3e7200" d="M191.3 391.9l1.1-.2.6-4.6-1.1 0z"/>
<path color="#256800" d="M192.4 391.7l1.3-1 .6-4.3-1.3.7z"/>
<path color="#026300" d="M193.7 390.7l1.7-2.2.5-3.9-1.6 1.8z"/>
<path color="#005f37" d="M195.4 388.5l2.9-5.1.4-2.8-2.8 4z"/>
<path color="#004f5e" d="M198.3 383.4l.6-1 1.5-4.4-1.7 2.6z"/>
<path color="#e300ff" d="M111.4 286.9l.7 1.1.9.2-.7-1z"/>
<path color="#c900ff" d="M112.1 288l.7 2 .9 0-.7-1.8z"/>
<path color="#9000ff" d="M112.8 290l.9 3.2.9-.3-.9-2.9z"/>
<path color="#2f00ff" d="M113.7 293.2l1.1 4.9.9-.9-1.1-4.3z"/>
<path color="#0085ff" d="M114.8 298.1l1.9 9.3.8-1.9-1.8-8.3z"/>
<path color="#00ff85" d="M116.7 307.4l1.8 9.1.7-2.9-1.7-8.1z"/>
<path color="#2fff00" d="M118.5 316.5l1.1 4.8.7-3.4-1.1-4.3z"/>
<path color="#92ff02" d="M119.6 321.3l.9 3.1.7-3.8-.9-2.7z"/>
<path color="#f5ff2d" d="M120.5 324.4l.7 2 .7-3.9-.7-1.9z"/>
<path color="#fbff18" d="M121.2 326.4l.7 1.1.7-4-.7-1z"/>
<path color="#cb00e4" d="M130.3 305l.8.2.8.2-.8-.3z"/>
<path color="#e300ff" d="M131.1 305.2l.8 1.2.8.1-.8-1.1z"/>
<path color="#c900ff" d="M131.9 306.4l.8 2.1.8-.1-.8-1.9z"/>
<path color="#9000ff" d="M132.7 308.5l.9 3.4.8-.5-.9-3z"/>
<path color="#2f00ff" d="M133.6 311.9l1.1 5.1.8-1.1-1.1-4.5z"/>
<path color="#0085ff" d="M134.7 317l1.9 9.7.7-2.1-1.8-8.7z"/>
<path color="#00ff85" d="M136.6 326.7l1.8 9.6.6-3.2-1.7-8.5z"/>
<path color="#2fff00" d="M138.4 336.3l1.1 4.9.6-3.7-1.1-4.4z"/>
<path color="#91ff01" d="M139.5 341.2l.9 3.3.6-4-.9-3z"/>
<path color="#f4ff2b" d="M140.4 344.5l.8 2.1.6-4.2-.8-1.9z"/>
<path color="#fdff1a" d="M141.2 346.6l.7 1.2.7-4.3-.8-1.1z"/>
<path color="#839300" d="M141.9 347.8l.8.4.7-4.3-.8-.4z"/>
<path color="#576f00" d="M142.7 348.2l.8-.5.7-4.1-.8.3z"/>
<path color="#396600" d="M143.5 347.7l.9-1.4.7-3.8-.9 1.1z"/>
<path color="#cb00e4" d="M152.4 325.4l.9.4.6-.1-.9-.3z"/>
<path color="#e300ff" d="M153.3 325.8l.8 1.3.6-.2-.8-1.2z"/>
<path color="#c900ff" d="M154.1 327.1l.9 2.2.6-.3-.9-2.1z"/>
<path color="#9000ff" d="M155 329.3l1 3.5.6-.6-1-3.2z"/>
<path color="#2f00ff" d="M156 332.8l1.1 5.4.6-1.3-1.1-4.7z"/>
<path color="#0085ff" d="M157.1 338.2l1.8 10.2.6-2.4-1.8-9.1z"/>
<path color="#00ff85" d="M158.9 348.4l1.7 10 .6-3.5-1.7-8.9z"/>
<path color="#2fff00" d="M160.6 358.4l1.1 5.2.6-4-1.1-4.7z"/>
<path color="#91ff01" d="M161.7 363.6l.9 3.4.7-4.3-1-3.1z"/>
<path color="#f2ff2a" d="M162.6 367l.9 2.2.6-4.5-.8-2z"/>
<path color="#ffff1d" d="M163.5 369.2l.9 1.3.6-4.5-.9-1.3z"/>
<path color="#839300" d="M164.4 370.5l.9.5.6-4.5-.9-.5z"/>
<path color="#576f00" d="M165.3 371l.9-.4.7-4.4-1 .3z"/>
<path color="#396600" d="M166.2 370.6l1.1-1.4.6-4.1-1 1.1z"/>
<path color="#126000" d="M167.3 369.2l1.4-2.8.6-3.6-1.4 2.3z"/>
<path color="#005c30" d="M168.7 366.4l2.4-6.2.5-2.5-2.3 5.1z"/>
<path color="#00305c" d="M171.1 360.2l2.4-6.4.5-1.4-2.4 5.3z"/>
<path color="#12005f" d="M173.5 353.8l1.5-3.1.5-.8-1.5 2.5z"/>
<path color="#750095" d="M176.2 349.1l1.1-.5.4-.3-1 .3z"/>
<path color="#cb00e4" d="M177.3 348.6l1 .4.4-.2-1-.5z"/>
<path color="#e300ff" d="M178.3 349l1 1.4.4-.3-1-1.3z"/>
<path color="#c900ff" d="M179.3 350.4l.9 2.5.4-.6-.9-2.2z"/>
<path color="#9000ff" d="M180.2 352.9l1 3.7.4-1-1-3.3z"/>
<path color="#2f00ff" d="M181.2 356.6l1.1 5.6.5-1.5-1.2-5.1z"/>
<path color="#0085ff" d="M182.3 362.2l1.8 10.7.4-2.8-1.7-9.4z"/>
<path color="#00ff85" d="M184.1 372.9l1.6 10.4.6-3.8-1.8-9.4z"/>
<path color="#2fff00" d="M185.7 383.3l1.1 5.5.6-4.4-1.1-4.9z"/>
<path color="#90ff01" d="M186.8 388.8l1 3.6.6-4.7-1-3.3z"/>
<path color="#f0ff28" d="M187.8 392.4l.9 2.4.6-4.9-.9-2.2z"/>
<path color="#ffff20" d="M188.7 394.8l1 1.4.6-4.9-1-1.4z"/>
<path color="#839300" d="M189.7 396.2l1 .6.6-4.9-1-.6z"/>
<path color="#576f00" d="M190.7 396.8l1.1-.3.6-4.8-1.1.2z"/>
<path color="#396600" d="M191.8 396.5l1.4-1.3.5-4.5-1.3 1z"/>
<path color="#126000" d="M193.2 395.2l1.7-2.7.5-4-1.7 2.2z"/>
<path color="#005c34" d="M194.9 392.5l2.3-4.6.9-3.2.2-1.3-2.9 5.1z"/>
<path color="#00575c" d="M198.9 382.4l-.6 1-.2 1.3z"/>
<path color="#ff00d8" d="M110.4 286.6l.7 1.2 1 .2-.7-1.1z"/>
<path color="#ff00f6" d="M111.1 287.8l.8 2.2.9 0-.7-2z"/>
<path color="#c700ff" d="M111.9 290l1 3.5.8-.3-.9-3.2z"/>
<path color="#5900ff" d="M112.9 293.5l1.1 5.4.8-.8-1.1-4.9z"/>
<path color="#0074ff" d="M114 298.9l1.9 10.4.8-1.9-1.9-9.3z"/>
<path color="#00ff74" d="M115.9 309.3l1.9 10.2.7-3-1.8-9.1z"/>
<path color="#59ff00" d="M117.8 319.5l1.1 5.2.7-3.4-1.1-4.8z"/>
<path color="#c8ff01" d="M118.9 324.7l.9 3.4.7-3.7-.9-3.1z"/>
<path color="#ffff20" d="M119.8 328.1l.7 2.2.7-3.9-.7-2z"/>
<path color="#fff51d" d="M120.5 330.3l.7 1.1.7-3.9-.7-1.1z"/>
<path color="#ff00d8" d="M130.3 305.1l.8 1.2.8.1-.8-1.2z"/>
<path color="#ff00f6" d="M131.1 306.3l.8 2.4.8-.2-.8-2.1z"/>
<path color="#c700ff" d="M131.9 308.7l1 3.6.7-.4-.9-3.4z"/>
<path color="#5900ff" d="M132.9 312.3l1.1 5.7.7-1-1.1-5.1z"/>
<path color="#0074ff" d="M134 318l1.8 10.8.8-2.1-1.9-9.7z"/>
<path color="#00ff74" d="M135.8 328.8l1.9 10.6.7-3.1-1.8-9.6z"/>
<path color="#59ff00" d="M137.7 339.4l1.1 5.5.7-3.7-1.1-4.9z"/>
<path color="#c7ff00" d="M138.8 344.9l.9 3.6.7-4-.9-3.3z"/>
<path color="#ffff1e" d="M139.7 348.5l.8 2.3.7-4.2-.8-2.1z"/>
<path color="#fff820" d="M140.5 350.8l.8 1.2.6-4.2-.7-1.2z"/>
<path color="#8e7800" d="M141.3 352l.8.4.6-4.2-.8-.4z"/>
<path color="#6c6800" d="M142.1 352.4l.8-.6.6-4.1-.8.5z"/>
<path color="#4e6300" d="M142.9 351.8l.9-1.8.6-3.7-.9 1.4z"/>
<path color="#dc00ba" d="M151.7 325.6l.9.2.7 0-.9-.4z"/>
<path color="#ff00d8" d="M152.6 325.8l.9 1.4.6-.1-.8-1.3z"/>
<path color="#ff00f6" d="M153.5 327.2l.9 2.5.6-.4-.9-2.2z"/>
<path color="#c700ff" d="M154.4 329.7l.9 3.8.7-.7-1-3.5z"/>
<path color="#5900ff" d="M155.3 333.5l1.2 6 .6-1.3-1.1-5.4z"/>
<path color="#0074ff" d="M156.5 339.5l1.7 11.3.7-2.4-1.8-10.2z"/>
<path color="#00ff74" d="M158.2 350.8l1.8 11.1.6-3.5-1.7-10z"/>
<path color="#59ff00" d="M160 361.9l1.1 5.7.6-4-1.1-5.2z"/>
<path color="#c7ff00" d="M161.1 367.6l.9 3.7.6-4.3-.9-3.4z"/>
<path color="#ffff1c" d="M162 371.3l.9 2.5.6-4.6-.9-2.2z"/>
<path color="#fffb23" d="M162.9 373.8l.8 1.3.7-4.6-.9-1.3z"/>
<path color="#8e7800" d="M163.7 375.1l.9.5.7-4.6-.9-.5z"/>
<path color="#6c6800" d="M164.6 375.6l1-.6.6-4.4-.9.4z"/>
<path color="#4e6300" d="M165.6 375l1.1-1.7.6-4.1-1.1 1.4z"/>
<path color="#215e00" d="M166.7 373.3l1.4-3.3.6-3.6-1.4 2.8z"/>
<path color="#005a29" d="M168.1 370l2.4-7.2.6-2.6-2.4 6.2z"/>
<path color="#002959" d="M170.5 362.8l2.5-7.5.5-1.5-2.4 6.4z"/>
<path color="#20005d" d="M173 355.3l1.5-3.7.5-.9-1.5 3.1z"/>
<path color="#dc00ba" d="M176.9 348.9l1 .4.4-.3-1-.4z"/>
<path color="#ff00d8" d="M177.9 349.3l1 1.5.4-.4-1-1.4z"/>
<path color="#ff00f6" d="M178.9 350.8l.9 2.6.4-.5-.9-2.5z"/>
<path color="#c700ff" d="M179.8 353.4l1 4.1.4-.9-1-3.7z"/>
<path color="#5900ff" d="M180.8 357.5l1.1 6.3.4-1.6-1.1-5.6z"/>
<path color="#0074ff" d="M181.9 363.8l1.7 11.8.5-2.7-1.8-10.7z"/>
<path color="#00ff74" d="M183.6 375.6l1.6 11.6.5-3.9-1.6-10.4z"/>
<path color="#59ff00" d="M185.2 387.2l1.1 6 .5-4.4-1.1-5.5z"/>
<path color="#c7ff00" d="M186.3 393.2l.9 3.9.6-4.7-1-3.6z"/>
<path color="#ffff19" d="M187.2 397.1l.9 2.6.6-4.9-.9-2.4z"/>
<path color="#fffe26" d="M188.1 399.7l1 1.5.6-5-1-1.4z"/>
<path color="#8e7800" d="M189.1 401.2l1 .5.6-4.9-1-.6z"/>
<path color="#6c6800" d="M190.1 401.7l1.2-.4.5-4.8-1.1.3z"/>
<path color="#4e6300" d="M191.3 401.3l1.3-1.6.6-4.5-1.4 1.3z"/>
<path color="#215e00" d="M192.6 399.7l1.8-3.2.5-4-1.7 2.7z"/>
<path color="#005b13" d="M194.4 396.5l1.1-2.4 1.7-6.2-2.3 4.6z"/>
<path color="#d70081" d="M108.9 286.4l.6.1.9.1-.6-.1z"/>
<path color="#ff0098" d="M109.5 286.5l.7 1.2.9.1-.7-1.2z"/>
<path color="#ff00ba" d="M110.2 287.7l.8 2.4.9-.1-.8-2.2z"/>
<path color="#fc00ff" d="M111 290.1l1 3.8.9-.4-1-3.5z"/>
<path color="#8100ff" d="M112 293.9l1.2 5.9.8-.9-1.1-5.4z"/>
<path color="#0064ff" d="M113.2 299.8l1.9 11.4.8-1.9-1.9-10.4z"/>
<path color="#00ff64" d="M115.1 311.2l1.9 11.1.8-2.8-1.9-10.2z"/>
<path color="#81ff00" d="M117 322.3l1.2 5.7.7-3.3-1.1-5.2z"/>
<path color="#fcff00" d="M118.2 328l.9 3.7.7-3.6-.9-3.4z"/>
<path color="#ffca10" d="M119.1 331.7l.7 2.3.7-3.7-.7-2.2z"/>
<path color="#ffbf27" d="M119.8 334l.8 1.2.6-3.8-.7-1.1z"/>
<path color="#d70081" d="M128.7 305l.8.1.8 0-.8-.2z"/>
<path color="#ff0098" d="M129.5 305.1l.8 1.3.8-.1-.8-1.2z"/>
<path color="#ff00ba" d="M130.3 306.4l.8 2.5.8-.2-.8-2.4z"/>
<path color="#fc00ff" d="M131.1 308.9l1 4 .8-.6-1-3.6z"/>
<path color="#8100ff" d="M132.1 312.9l1.2 6.3.7-1.2-1.1-5.7z"/>
<path color="#0064ff" d="M133.3 319.2l1.8 11.8.7-2.2-1.8-10.8z"/>
<path color="#00ff64" d="M135.1 331l1.9 11.5.7-3.1-1.9-10.6z"/>
<path color="#81ff00" d="M137 342.5l1.1 6 .7-3.6-1.1-5.5z"/>
<path color="#fcff00" d="M138.1 348.5l.9 3.8.7-3.8-.9-3.6z"/>
<path color="#ffc80e" d="M139 352.3l.8 2.5.7-4-.8-2.3z"/>
<path color="#ffc22a" d="M139.8 354.8l.8 1.3.7-4.1-.8-1.2z"/>
<path color="#8d5400" d="M140.6 356.1l.8.3.7-4-.8-.4z"/>
<path color="#6a4e00" d="M141.4 356.4l.8-.8.7-3.8-.8.6z"/>
<path color="#d70081" d="M151.1 325.8l.9.3.6-.3-.9-.2z"/>
<path color="#ff0098" d="M152 326.1l.9 1.4.6-.3-.9-1.4z"/>
<path color="#ff00ba" d="M152.9 327.5l.9 2.6.6-.4-.9-2.5z"/>
<path color="#fc00ff" d="M153.8 330.1l.9 4.2.6-.8-.9-3.8z"/>
<path color="#8100ff" d="M154.7 334.3l1.2 6.6.6-1.4-1.2-6z"/>
<path color="#0064ff" d="M155.9 340.9l1.7 12.3.6-2.4-1.7-11.3z"/>
<path color="#00ff64" d="M157.6 353.2l1.8 12 .6-3.3-1.8-11.1z"/>
<path color="#81ff00" d="M159.4 365.2l1.1 6.3.6-3.9-1.1-5.7z"/>
<path color="#fcff00" d="M160.5 371.5l.9 4 .6-4.2-.9-3.7z"/>
<path color="#ffc60c" d="M161.4 375.5l.8 2.6.7-4.3-.9-2.5z"/>
<path color="#ffc52d" d="M162.2 378.1l.9 1.4.6-4.4-.8-1.3z"/>
<path color="#8d5400" d="M163.1 379.5l.9.4.6-4.3-.9-.5z"/>
<path color="#6a4e00" d="M164 379.9l1-.7.6-4.2-1 .6z"/>
<path color="#606100" d="M165 379.2l1.1-1.9.6-4-1.1 1.7z"/>
<path color="#2f5c00" d="M166.1 377.3l1.4-3.8.6-3.5-1.4 3.3z"/>
<path color="#005823" d="M167.5 373.5l2.5-8.1.5-2.6-2.4 7.2z"/>
<path color="#2e005b" d="M172.5 356.8l1.6-4.1.4-1.1-1.5 3.7z"/>
<path color="#d70081" d="M176.4 349.5l1.1.3.4-.5-1-.4z"/>
<path color="#ff0098" d="M177.5 349.8l.9 1.5.5-.5-1-1.5z"/>
<path color="#ff00ba" d="M178.4 351.3l1 2.9.4-.8-.9-2.6z"/>
<path color="#fc00ff" d="M179.4 354.2l1 4.4.4-1.1-1-4.1z"/>
<path color="#8100ff" d="M180.4 358.6l1.1 6.8.4-1.6-1.1-6.3z"/>
<path color="#0064ff" d="M181.5 365.4l1.6 12.9.5-2.7-1.7-11.8z"/>
<path color="#00ff64" d="M183.1 378.3l1.6 12.6.5-3.7-1.6-11.6z"/>
<path color="#81ff00" d="M184.7 390.9l1 6.5.6-4.2-1.1-6z"/>
<path color="#fcff00" d="M185.7 397.4l.9 4.2.6-4.5-.9-3.9z"/>
<path color="#ffc40a" d="M186.6 401.6l1 2.8.5-4.7-.9-2.6z"/>
<path color="#ffc930" d="M187.6 404.4l.9 1.6.6-4.8-1-1.5z"/>
<path color="#8d5400" d="M188.5 406l1.1.5.5-4.8-1-.5z"/>
<path color="#6a4e00" d="M189.6 406.5l1.1-.6.6-4.6-1.2.4z"/>
<path color="#606100" d="M190.7 405.9l1.4-1.9.5-4.3-1.3 1.6z"/>
<path color="#2b5b00" d="M192.1 404l1.7-3.4.2-.7.4-3.4-1.8 3.2z"/>
<path color="#045a00" d="M195.5 394.1l-1.1 2.4-.4 3.4z"/>
<path color="#ff0061" d="M108.6 286.7l.7 1.3.9-.3-.7-1.2z"/>
<path color="#ff0086" d="M109.3 288l.8 2.5.9-.4-.8-2.4z"/>
<path color="#ff00d4" d="M110.1 290.5l1 4.1.9-.7-1-3.8z"/>
<path color="#a400ff" d="M111.1 294.6l1.2 6.4.9-1.2-1.2-5.9z"/>
<path color="#0056ff" d="M112.3 301l2 12.2.8-2-1.9-11.4z"/>
<path color="#00ff56" d="M114.3 313.2l2 11.8.7-2.7-1.9-11.1z"/>
<path color="#a4ff00" d="M116.3 325l1.1 6.1.8-3.1-1.2-5.7z"/>
<path color="#ffd400" d="M117.4 331.1l.9 3.9.8-3.3-.9-3.7z"/>
<path color="#ff8a04" d="M118.3 335l.8 2.5.7-3.5-.7-2.3z"/>
<path color="#d70052" d="M127.9 305.4l.8.1.8-.4-.8-.1z"/>
<path color="#ff0061" d="M128.7 305.5l.8 1.4.8-.5-.8-1.3z"/>
<path color="#ff0086" d="M129.5 306.9l.8 2.6.8-.6-.8-2.5z"/>
<path color="#ff00d4" d="M130.3 309.5l1 4.3.8-.9-1-4z"/>
<path color="#a400ff" d="M131.3 313.8l1.2 6.7.8-1.3-1.2-6.3z"/>
<path color="#0056ff" d="M132.5 320.5l1.9 12.7.7-2.2-1.8-11.8z"/>
<path color="#00ff56" d="M134.4 333.2l1.9 12.3.7-3-1.9-11.5z"/>
<path color="#a4ff00" d="M136.3 345.5l1.1 6.4.7-3.4-1.1-6z"/>
<path color="#ffd400" d="M137.4 351.9l.9 4.1.7-3.7-.9-3.8z"/>
<path color="#ff8903" d="M138.3 356l.8 2.5.7-3.7-.8-2.5z"/>
<path color="#ff9131" d="M139.1 358.5l.8 1.4.7-3.8-.8-1.3z"/>
<path color="#913700" d="M139.9 359.9l.8.3.7-3.8-.8-.3z"/>
<path color="#693700" d="M140.7 360.2l.8-.9.7-3.7-.8.8z"/>
<path color="#d70052" d="M150.4 326.5l.9.2.7-.6-.9-.3z"/>
<path color="#ff0061" d="M151.3 326.7l.9 1.4.7-.6-.9-1.4z"/>
<path color="#ff0086" d="M152.2 328.1l.9 2.9.7-.9-.9-2.6z"/>
<path color="#ff00d4" d="M153.1 331l1 4.5.6-1.2-.9-4.2z"/>
<path color="#a400ff" d="M154.1 335.5l1.1 7 .7-1.6-1.2-6.6z"/>
<path color="#0056ff" d="M155.2 342.5l1.8 13.2.6-2.5-1.7-12.3z"/>
<path color="#00ff56" d="M157 355.7l1.7 12.9.7-3.4-1.8-12z"/>
<path color="#a4ff00" d="M158.7 368.6l1.1 6.6.7-3.7-1.1-6.3z"/>
<path color="#ffd400" d="M159.8 375.2l.9 4.3.7-4-.9-4z"/>
<path color="#ff8802" d="M160.7 379.5l.9 2.7.6-4.1-.8-2.6z"/>
<path color="#ff9534" d="M161.6 382.2l.9 1.5.6-4.2-.9-1.4z"/>
<path color="#913700" d="M162.5 383.7l.9.3.6-4.1-.9-.4z"/>
<path color="#693700" d="M163.4 384l.9-.8.7-4-1 .7z"/>
<path color="#604f00" d="M164.3 383.2l1.2-2.1.6-3.8-1.1 1.9z"/>
<path color="#3a5a00" d="M165.5 381.1l1.4-4.1.6-3.5-1.4 3.8z"/>
<path color="#00571d" d="M166.9 377l2.5-9 .6-2.6-2.5 8.1z"/>
<path color="#001d57" d="M169.4 368l2.6-9.3.5-1.9-2.5 8.6z"/>
<path color="#390059" d="M172 358.7l1.5-4.7.6-1.3-1.6 4.1z"/>
<path color="#5f004f" d="M173.5 354l1.3-2.6.5-1-1.2 2.3z"/>
<path color="#6b0038" d="M174.8 351.4l1.2-1 .4-.9-1.1.9z"/>
<path color="#d70052" d="M176 350.4l1 .3.5-.9-1.1-.3z"/>
<path color="#ff0061" d="M177 350.7l1 1.6.4-1-.9-1.5z"/>
<path color="#ff0086" d="M178 352.3l.9 3 .5-1.1-1-2.9z"/>
<path color="#ff00d4" d="M178.9 355.3l1 4.8.5-1.5-1-4.4z"/>
<path color="#a400ff" d="M179.9 360.1l1.1 7.3.5-2-1.1-6.8z"/>
<path color="#0056ff" d="M181 367.4l1.6 13.8.5-2.9-1.6-12.9z"/>
<path color="#00ff56" d="M182.6 381.2l1.5 13.4.6-3.7-1.6-12.6z"/>
<path color="#a4ff00" d="M184.1 394.6l1.1 6.9.5-4.1-1-6.5z"/>
<path color="#ffd400" d="M185.2 401.5l.9 4.5.5-4.4-.9-4.2z"/>
<path color="#ff8702" d="M186.1 406l.9 2.9.6-4.5-1-2.8z"/>
<path color="#ff9838" d="M187 408.9l.9 1.6.6-4.5-.9-1.6z"/>
<path color="#913700" d="M187.9 410.5l1.1.5.6-4.5-1.1-.5z"/>
<path color="#693700" d="M189 411l1.2-.7.5-4.4-1.1.6z"/>
<path color="#604f00" d="M190.2 410.3l1.4-2.1.5-4.2-1.4 1.9z"/>
<path color="#475b00" d="M191.6 408.2l.5-.9 1.7-6.7-1.7 3.4z"/>
<path color="#d0002d" d="M106.9 287.7l.7.1 1-1.1-.7 0z"/>
<path color="#ff0037" d="M107.6 287.8l.7 1.3 1-1.1-.7-1.3z"/>
<path color="#ff005e" d="M108.3 289.1l.8 2.6 1-1.2-.8-2.5z"/>
<path color="#ff00b1" d="M109.1 291.7l1 4.3 1-1.4-1-4.1z"/>
<path color="#bf00ff" d="M110.1 296l1.2 6.7 1-1.7-1.2-6.4z"/>
<path color="#004bff" d="M111.3 302.7l2.1 12.7.9-2.2-2-12.2z"/>
<path color="#00ff4b" d="M113.4 315.4l2 12.4.9-2.8-2-11.8z"/>
<path color="#beff00" d="M115.4 327.8l1.2 6.4.8-3.1-1.1-6.1z"/>
<path color="#ffb100" d="M116.6 334.2l.9 4 .8-3.2-.9-3.9z"/>
<path color="#ff5e00" d="M117.5 338.2l.8 2.5.8-3.2-.8-2.5z"/>
<path color="#d0002d" d="M127 306.7l.8.1.9-1.3-.8-.1z"/>
<path color="#ff0037" d="M127.8 306.8l.8 1.4.9-1.3-.8-1.4z"/>
<path color="#ff005e" d="M128.6 308.2l.8 2.8.9-1.5-.8-2.6z"/>
<path color="#ff00b1" d="M129.4 311l1 4.4.9-1.6-1-4.3z"/>
<path color="#bf00ff" d="M130.4 315.4l1.2 7 .9-1.9-1.2-6.7z"/>
<path color="#004bff" d="M131.6 322.4l2 13.3.8-2.5-1.9-12.7z"/>
<path color="#00ff4b" d="M133.6 335.7l1.9 12.9.8-3.1-1.9-12.3z"/>
<path color="#beff00" d="M135.5 348.6l1.1 6.6.8-3.3-1.1-6.4z"/>
<path color="#ffb100" d="M136.6 355.2l.9 4.2.8-3.4-.9-4.1z"/>
<path color="#ff5e00" d="M137.5 359.4l.9 2.7.7-3.6-.8-2.5z"/>
<path color="#ff521b" d="M138.4 362.1l.7 1.4.8-3.6-.8-1.4z"/>
<path color="#9f2200" d="M139.1 363.5l.8.3.8-3.6-.8-.3z"/>
<path color="#6a0027" d="M148.7 329.2l1-1.2.7-1.5-.9 1.1z"/>
<path color="#d0002d" d="M149.7 328l.9.2.7-1.5-.9-.2z"/>
<path color="#ff0037" d="M150.6 328.2l.8 1.5.8-1.6-.9-1.4z"/>
<path color="#ff005e" d="M151.4 329.7l1 3 .7-1.7-.9-2.9z"/>
<path color="#ff00b1" d="M152.4 332.7l.9 4.7.8-1.9-1-4.5z"/>
<path color="#bf00ff" d="M153.3 337.4l1.2 7.3.7-2.2-1.1-7z"/>
<path color="#004bff" d="M154.5 344.7l1.8 13.8.7-2.8-1.8-13.2z"/>
<path color="#00ff4b" d="M156.3 358.5l1.7 13.4.7-3.3-1.7-12.9z"/>
<path color="#beff00" d="M158 371.9l1.1 6.9.7-3.6-1.1-6.6z"/>
<path color="#ffb100" d="M159.1 378.8l.9 4.5.7-3.8-.9-4.3z"/>
<path color="#ff5e00" d="M160 383.3l.9 2.8.7-3.9-.9-2.7z"/>
<path color="#ff531d" d="M160.9 386.1l.9 1.5.7-3.9-.9-1.5z"/>
<path color="#9f2200" d="M161.8 387.6l.9.4.7-4-.9-.3z"/>
<path color="#692600" d="M162.7 388l1-.9.6-3.9-.9.8z"/>
<path color="#5f4200" d="M163.7 387.1l1.1-2.3.7-3.7-1.2 2.1z"/>
<path color="#435900" d="M164.8 384.8l1.4-4.3.7-3.5-1.4 4.1z"/>
<path color="#005619" d="M166.2 380.5l2.5-9.5.7-3-2.5 9z"/>
<path color="#001956" d="M168.7 371l2.6-9.9.7-2.4-2.6 9.3z"/>
<path color="#420059" d="M171.3 361.1l1.6-4.9.6-2.2-1.5 4.7z"/>
<path color="#5e0041" d="M172.9 356.2l1.3-2.8.6-2-1.3 2.6z"/>
<path color="#6a0027" d="M174.2 353.4l1.2-1.1.6-1.9-1.2 1z"/>
<path color="#d0002d" d="M175.4 352.3l1 .2.6-1.8-1-.3z"/>
<path color="#ff0037" d="M176.4 352.5l1 1.7.6-1.9-1-1.6z"/>
<path color="#ff005e" d="M177.4 354.2l1 3.1.5-2-.9-3z"/>
<path color="#ff00b1" d="M178.4 357.3l1 5 .5-2.2-1-4.8z"/>
<path color="#bf00ff" d="M179.4 362.3l1 7.6.6-2.5-1.1-7.3z"/>
<path color="#004bff" d="M180.4 369.9l1.6 14.5.6-3.2-1.6-13.8z"/>
<path color="#00ff4b" d="M182 384.4l1.6 14 .5-3.8-1.5-13.4z"/>
<path color="#beff00" d="M183.6 398.4l1 7.2.6-4.1-1.1-6.9z"/>
<path color="#ffb100" d="M184.6 405.6l.9 4.6.6-4.2-.9-4.5z"/>
<path color="#ff5e00" d="M185.5 410.2l.9 3 .6-4.3-.9-2.9z"/>
<path color="#ff551f" d="M186.4 413.2l1 1.7.5-4.4-.9-1.6z"/>
<path color="#9f2200" d="M187.4 414.9l1 .5.6-4.4-1.1-.5z"/>
<path color="#692600" d="M188.4 415.4l1.2-.8.6-4.3-1.2.7z"/>
<path color="#5f4100" d="M189.6 414.6l.6-.8 1.2-4 .2-1.6-1.4 2.1z"/>
<path color="#5b5c00" d="M192.1 407.3l-.5.9-.2 1.6z"/>
<path color="#b3001c" d="M105.8 290.2l.7.1 1.1-2.5-.7-.1z"/>
<path color="#ff022a" d="M106.5 290.3l.7 1.3 1.1-2.5-.7-1.3z"/>
<path color="#ff0050" d="M107.2 291.6l.9 2.6 1-2.5-.8-2.6z"/>
<path color="#ff00a5" d="M108.1 294.2l1 4.3 1-2.5-1-4.3z"/>
<path color="#c800ff" d="M109.1 298.5l1.2 6.6 1-2.4-1.2-6.7z"/>
<path color="#0047ff" d="M110.3 305.1l2.1 12.7 1-2.4-2.1-12.7z"/>
<path color="#00ff48" d="M112.4 317.8l2 12.4 1-2.4-2-12.4z"/>
<path color="#c7ff00" d="M114.4 330.2l1.2 6.4 1-2.4-1.2-6.4z"/>
<path color="#ffa500" d="M115.6 336.6l.9 4 1-2.4-.9-4z"/>
<path color="#ff5000" d="M116.5 340.6l.8 2.6 1-2.5-.8-2.5z"/>
<path color="#690021" d="M125.3 310.7l.7-1.2 1-2.8-.8 1.2z"/>
<path color="#b3001c" d="M126 309.5l.8.1 1-2.8-.8-.1z"/>
<path color="#ff022a" d="M126.8 309.6l.8 1.4 1-2.8-.8-1.4z"/>
<path color="#ff0050" d="M127.6 311l.9 2.8.9-2.8-.8-2.8z"/>
<path color="#ff00a5" d="M128.5 313.8l1 4.4.9-2.8-1-4.4z"/>
<path color="#c800ff" d="M129.5 318.2l1.2 7 .9-2.8-1.2-7z"/>
<path color="#0047ff" d="M130.7 325.2l1.9 13.2 1-2.7-2-13.3z"/>
<path color="#00ff48" d="M132.6 338.4l2 12.9.9-2.7-1.9-12.9z"/>
<path color="#c7ff00" d="M134.6 351.3l1.1 6.6.9-2.7-1.1-6.6z"/>
<path color="#ffa500" d="M135.7 357.9l1 4.3.8-2.8-.9-4.2z"/>
<path color="#ff5000" d="M136.7 362.2l.8 2.6.9-2.7-.9-2.7z"/>
<path color="#ff2901" d="M137.5 364.8l.8 1.5.8-2.8-.7-1.4z"/>
<path color="#5e003d" d="M146.8 335.1l1.1-2.8.8-3.1-1 2.8z"/>
<path color="#690021" d="M147.9 332.3l.9-1.1.9-3.2-1 1.2z"/>
<path color="#b3001c" d="M148.8 331.2l.9.1.9-3.1-.9-.2z"/>
<path color="#ff022a" d="M149.7 331.3l.9 1.6.8-3.2-.8-1.5z"/>
<path color="#ff0050" d="M150.6 332.9l.9 2.9.9-3.1-1-3z"/>
<path color="#ff00a5" d="M151.5 335.8l1 4.7.8-3.1-.9-4.7z"/>
<path color="#c800ff" d="M152.5 340.5l1.2 7.3.8-3.1-1.2-7.3z"/>
<path color="#0047ff" d="M153.7 347.8l1.8 13.8.8-3.1-1.8-13.8z"/>
<path color="#00ff48" d="M155.5 361.6l1.7 13.4.8-3.1-1.7-13.4z"/>
<path color="#c7ff00" d="M157.2 375l1.2 6.9.7-3.1-1.1-6.9z"/>
<path color="#ffa500" d="M158.4 381.9l.9 4.5.7-3.1-.9-4.5z"/>
<path color="#ff5000" d="M159.3 386.4l.9 2.8.7-3.1-.9-2.8z"/>
<path color="#ff2901" d="M160.2 389.2l.8 1.5.8-3.1-.9-1.5z"/>
<path color="#bd1e00" d="M161 390.7l.9.4.8-3.1-.9-.4z"/>
<path color="#692100" d="M161.9 391.1l1-.8.8-3.2-1 .9z"/>
<path color="#5e3d00" d="M162.9 390.3l1.2-2.3.7-3.2-1.1 2.3z"/>
<path color="#455900" d="M164.1 388l1.4-4.3.7-3.2-1.4 4.3z"/>
<path color="#005618" d="M165.5 383.7l2.5-9.4.7-3.3-2.5 9.5z"/>
<path color="#001856" d="M168 374.3l2.6-9.8.7-3.4-2.6 9.9z"/>
<path color="#450059" d="M170.6 364.5l1.6-4.9.7-3.4-1.6 4.9z"/>
<path color="#5e003d" d="M172.2 359.6l1.3-2.7.7-3.5-1.3 2.8z"/>
<path color="#690021" d="M173.5 356.9l1.2-1.1.7-3.5-1.2 1.1z"/>
<path color="#b3001c" d="M174.7 355.8l1 .3.7-3.6-1-.2z"/>
<path color="#ff022a" d="M175.7 356.1l1 1.7.7-3.6-1-1.7z"/>
<path color="#ff0050" d="M176.7 357.8l1 3.1.7-3.6-1-3.1z"/>
<path color="#ff00a5" d="M177.7 360.9l1 5 .7-3.6-1-5z"/>
<path color="#c800ff" d="M178.7 365.9l1.1 7.6.6-3.6-1-7.6z"/>
<path color="#0047ff" d="M179.8 373.5l1.6 14.4.6-3.5-1.6-14.5z"/>
<path color="#00ff48" d="M181.4 387.9l1.5 14 .7-3.5-1.6-14z"/>
<path color="#c7ff00" d="M182.9 401.9l1.1 7.2.6-3.5-1-7.2z"/>
<path color="#ffa500" d="M184 409.1l.9 4.6.6-3.5-.9-4.6z"/>
<path color="#ff5000" d="M184.9 413.7l.9 3 .6-3.5-.9-3z"/>
<path color="#ff2901" d="M185.8 416.7l1 1.7.6-3.5-1-1.7z"/>
<path color="#bd1e00" d="M186.8 418.4l1.1.5.5-3.5-1-.5z"/>
<path color="#6a2000" d="M187.9 418.9l.4-.1 1.1-2.5.2-1.7-1.2.8z"/>
<path color="#612f00" d="M190.2 413.8l-.6.8-.2 1.7z"/>
<path color="#680029" d="M104.5 294.1l.7-1.2.6-2.7-.6 1.3z"/>
<path color="#940024" d="M105.2 292.9l.6.1.7-2.7-.7-.1z"/>
<path color="#ff2260" d="M105.8 293l.8 1.3.6-2.7-.7-1.3z"/>
<path color="#ff0166" d="M106.6 294.3l.8 2.5.7-2.6-.9-2.6z"/>
<path color="#ff00b7" d="M107.4 296.8l1 4.1.7-2.4-1-4.3z"/>
<path color="#ba00ff" d="M108.4 300.9l1.2 6.4.7-2.2-1.2-6.6z"/>
<path color="#004dff" d="M109.6 307.3l2.1 12.2.7-1.7-2.1-12.7z"/>
<path color="#00ff4d" d="M111.7 319.5l2 12 .7-1.3-2-12.4z"/>
<path color="#b9ff00" d="M113.7 331.5l1.2 6.1.7-1-1.2-6.4z"/>
<path color="#ffb800" d="M114.9 337.6l.9 3.9.7-.9-.9-4z"/>
<path color="#5f0044" d="M123.8 316l.8-2.5.7-2.8-.8 2.7z"/>
<path color="#680029" d="M124.6 313.5l.8-1.1.6-2.9-.7 1.2z"/>
<path color="#940024" d="M125.4 312.4l.8.1.6-2.9-.8-.1z"/>
<path color="#ff2563" d="M126.2 312.5l.8 1.4.6-2.9-.8-1.4z"/>
<path color="#ff0166" d="M127 313.9l.8 2.7.7-2.8-.9-2.8z"/>
<path color="#ff00b7" d="M127.8 316.6l1 4.3.7-2.7-1-4.4z"/>
<path color="#ba00ff" d="M128.8 320.9l1.2 6.7.7-2.4-1.2-7z"/>
<path color="#004dff" d="M130 327.6l2 12.7.6-1.9-1.9-13.2z"/>
<path color="#00ff4d" d="M132 340.3l1.9 12.4.7-1.4-2-12.9z"/>
<path color="#b9ff00" d="M133.9 352.7l1.2 6.4.6-1.2-1.1-6.6z"/>
<path color="#ffb800" d="M135.1 359.1l.9 4.1.7-1-1-4.3z"/>
<path color="#ff6500" d="M136 363.2l.9 2.6.6-1-.8-2.6z"/>
<path color="#5f0044" d="M146.2 337.9l1.1-2.5.6-3.1-1.1 2.8z"/>
<path color="#680029" d="M147.3 335.4l.9-1.1.6-3.1-.9 1.1z"/>
<path color="#940024" d="M148.2 334.3l.9.3.6-3.3-.9-.1z"/>
<path color="#ff2866" d="M149.1 334.6l.9 1.5.6-3.2-.9-1.6z"/>
<path color="#ff0165" d="M150 336.1l.9 2.8.6-3.1-.9-2.9z"/>
<path color="#ff00b7" d="M150.9 338.9l1 4.6.6-3-1-4.7z"/>
<path color="#ba00ff" d="M151.9 343.5l1.2 7 .6-2.7-1.2-7.3z"/>
<path color="#004dff" d="M153.1 350.5l1.8 13.2.6-2.1-1.8-13.8z"/>
<path color="#00ff4d" d="M154.9 363.7l1.8 13 .5-1.7-1.7-13.4z"/>
<path color="#b9ff00" d="M156.7 376.7l1.1 6.6.6-1.4-1.2-6.9z"/>
<path color="#ffb800" d="M157.8 383.3l1 4.3.5-1.2-.9-4.5z"/>
<path color="#ff6500" d="M158.8 387.6l.9 2.8.5-1.2-.9-2.8z"/>
<path color="#00561a" d="M165 385.4l2.5-8.8.5-2.3-2.5 9.4z"/>
<path color="#001a56" d="M167.5 376.6l2.6-9.2.5-2.9-2.6 9.8z"/>
<path color="#41005a" d="M170.1 367.4l1.6-4.6.5-3.2-1.6 4.9z"/>
<path color="#5f0044" d="M171.7 362.8l1.3-2.5.5-3.4-1.3 2.7z"/>
<path color="#680029" d="M173 360.3l1.2-1 .5-3.5-1.2 1.1z"/>
<path color="#940024" d="M174.2 359.3l1 .4.5-3.6-1-.3z"/>
<path color="#ff2b69" d="M175.2 359.7l1 1.6.5-3.5-1-1.7z"/>
<path color="#ff0065" d="M176.2 361.3l1 3.1.5-3.5-1-3.1z"/>
<path color="#ff00b7" d="M177.2 364.4l1 4.8.5-3.3-1-5z"/>
<path color="#ba00ff" d="M178.2 369.2l1.1 7.3.5-3-1.1-7.6z"/>
<path color="#004dff" d="M179.3 376.5l1.7 13.8.4-2.4-1.6-14.4z"/>
<path color="#00ff4d" d="M181 390.3l1.6 13.5.3-1.9-1.5-14z"/>
<path color="#b9ff00" d="M182.6 403.8l1 7 .4-1.7-1.1-7.2z"/>
<path color="#ffb800" d="M183.6 410.8l1 4.5.3-1.6-.9-4.6z"/>
<path color="#ff6500" d="M184.6 415.3l.9 2.9.3-1.5-.9-3z"/>
<path color="#ff3e00" d="M185.5 418.2l1 1.7.3-1.5-1-1.7z"/>
<path color="#d13300" d="M186.5 419.9l.7.5.5-.6.2-.9-1.1-.5z"/>
<path color="#7a2100" d="M188.3 418.8l-.4.1-.2.9z"/>
<path color="#600052" d="M103.4 299l.6-2.3.5-2.6-.6 2.5z"/>
<path color="#680039" d="M104 296.7l.6-1 .6-2.8-.7 1.2z"/>
<path color="#830035" d="M104.6 295.7l.7.1.5-2.8-.6-.1z"/>
<path color="#ff2188" d="M105.3 295.8l.8 1.2.5-2.7-.8-1.3z"/>
<path color="#ff14a0" d="M106.1 297l.8 2.5.5-2.7-.8-2.5z"/>
<path color="#ff00da" d="M106.9 299.5l.9 3.9.6-2.5-1-4.1z"/>
<path color="#a000ff" d="M107.8 303.4l1.3 6 .5-2.1-1.2-6.4z"/>
<path color="#0058ff" d="M109.1 309.4l2 11.5.6-1.4-2.1-12.2z"/>
<path color="#00ff58" d="M111.1 320.9l2 11.2.6-.6-2-12z"/>
<path color="#9fff00" d="M113.1 332.1l1.2 5.8.6-.3-1.2-6.1z"/>
<path color="#ffda00" d="M114.3 337.9l.9 3.8.6-.2-.9-3.9z"/>
<path color="#600052" d="M123.3 318.6l.8-2.3.5-2.8-.8 2.5z"/>
<path color="#680039" d="M124.1 316.3l.8-1 .5-2.9-.8 1.1z"/>
<path color="#830035" d="M124.9 315.3l.7.2.6-3-.8-.1z"/>
<path color="#ff248b" d="M125.6 315.5l.9 1.4.5-3-.8-1.4z"/>
<path color="#ff129d" d="M126.5 316.9l.8 2.6.5-2.9-.8-2.7z"/>
<path color="#ff00da" d="M127.3 319.5l1 4 .5-2.6-1-4.3z"/>
<path color="#a000ff" d="M128.3 323.5l1.2 6.4.5-2.3-1.2-6.7z"/>
<path color="#0058ff" d="M129.5 329.9l2 11.9.5-1.5-2-12.7z"/>
<path color="#00ff58" d="M131.5 341.8l1.9 11.8.5-.9-1.9-12.4z"/>
<path color="#9fff00" d="M133.4 353.6l1.2 6 .5-.5-1.2-6.4z"/>
<path color="#ffda00" d="M134.6 359.6l.9 3.9.5-.3-.9-4.1z"/>
<path color="#39005b" d="M144.5 344.9l1.3-4.1.4-2.9-1.2 4.6z"/>
<path color="#600052" d="M145.8 340.8l1-2.3.5-3.1-1.1 2.5z"/>
<path color="#680039" d="M146.8 338.5l.9-.9.5-3.3-.9 1.1z"/>
<path color="#830035" d="M147.7 337.6l.9.2.5-3.2-.9-.3z"/>
<path color="#ff278e" d="M148.6 337.8l.9 1.5.5-3.2-.9-1.5z"/>
<path color="#ff0f9b" d="M149.5 339.3l.9 2.7.5-3.1-.9-2.8z"/>
<path color="#ff00da" d="M150.4 342l1 4.3.5-2.8-1-4.6z"/>
<path color="#a000ff" d="M151.4 346.3l1.2 6.7.5-2.5-1.2-7z"/>
<path color="#0058ff" d="M152.6 353l1.9 12.5.4-1.8-1.8-13.2z"/>
<path color="#00ff58" d="M154.5 365.5l1.8 12.2.4-1-1.8-13z"/>
<path color="#9fff00" d="M156.3 377.7l1.1 6.3.4-.7-1.1-6.6z"/>
<path color="#ffda00" d="M157.4 384l1 4.1.4-.5-1-4.3z"/>
<path color="#ff8c00" d="M158.4 388.1l.9 2.7.4-.4-.9-2.8z"/>
<path color="#001e57" d="M167.1 378.4l2.6-8.4.4-2.6-2.6 9.2z"/>
<path color="#39005b" d="M169.7 370l1.6-4.1.4-3.1-1.6 4.6z"/>
<path color="#600052" d="M171.3 365.9l1.3-2.2.4-3.4-1.3 2.5z"/>
<path color="#680039" d="M172.6 363.7l1.1-.9.5-3.5-1.2 1z"/>
<path color="#830035" d="M173.7 362.8l1 .4.5-3.5-1-.4z"/>
<path color="#ff2a91" d="M174.7 363.2l1 1.6.5-3.5-1-1.6z"/>
<path color="#ff0d99" d="M175.7 364.8l1 2.9.5-3.3-1-3.1z"/>
<path color="#ff00da" d="M176.7 367.7l1.1 4.6.4-3.1-1-4.8z"/>
<path color="#a000ff" d="M177.8 372.3l1.1 6.9.4-2.7-1.1-7.3z"/>
<path color="#0058ff" d="M178.9 379.2l1.7 13.1.4-2-1.7-13.8z"/>
<path color="#00ff58" d="M180.6 392.3l1.7 12.8.3-1.3-1.6-13.5z"/>
<path color="#9fff00" d="M182.3 405.1l1.1 6.6.2-.9-1-7z"/>
<path color="#ffda00" d="M183.4 411.7l.9 4.3.3-.7-1-4.5z"/>
<path color="#ff8c00" d="M184.3 416l1 2.8.2-.6-.9-2.9z"/>
<path color="#ff6800" d="M185.3 418.8l1 1.7.2-.6-1-1.7z"/>
<path color="#f96000" d="M186.3 420.5l0 0 .9-.1-.7-.5z"/>
<path color="#5f0061" d="M102.9 301.4l.7-2 .4-2.7-.6 2.3z"/>
<path color="#69004d" d="M103.6 299.4l.6-.9.4-2.8-.6 1z"/>
<path color="#780049" d="M104.2 298.5l.7.2.4-2.9-.7-.1z"/>
<path color="#ff0ca7" d="M104.9 298.7l.7 1.2.5-2.9-.8-1.2z"/>
<path color="#ff3af6" d="M105.6 299.9l.8 2.3.5-2.7-.8-2.5z"/>
<path color="#fc02ff" d="M106.4 302.2l1 3.6.4-2.4-.9-3.9z"/>
<path color="#8000ff" d="M107.4 305.8l1.2 5.6.5-2-1.3-6z"/>
<path color="#0065ff" d="M108.6 311.4l2 10.7.5-1.2-2-11.5z"/>
<path color="#00ff65" d="M110.6 322.1l2 10.4.5-.4-2-11.2z"/>
<path color="#7fff00" d="M112.6 332.5l1.2 5.5.5-.1-1.2-5.8z"/>
<path color="#faff00" d="M113.8 338l.9 3.5.5.2-.9-3.8z"/>
<path color="#2e005c" d="M121.9 324.9l1-3.7.4-2.6-.9 4.1z"/>
<path color="#5f0061" d="M122.9 321.2l.8-2 .4-2.9-.8 2.3z"/>
<path color="#69004d" d="M123.7 319.2l.7-.8.5-3.1-.8 1z"/>
<path color="#780049" d="M124.4 318.4l.8.3.4-3.2-.7-.2z"/>
<path color="#ff0ea9" d="M125.2 318.7l.8 1.3.5-3.1-.9-1.4z"/>
<path color="#ff38f5" d="M126 320l.9 2.4.4-2.9-.8-2.6z"/>
<path color="#fc02ff" d="M126.9 322.4l1 3.8.4-2.7-1-4z"/>
<path color="#8000ff" d="M127.9 326.2l1.2 5.9.4-2.2-1.2-6.4z"/>
<path color="#0065ff" d="M129.1 332.1l2 11.1.4-1.4-2-11.9z"/>
<path color="#00ff65" d="M131.1 343.2l1.9 10.9.4-.5-1.9-11.8z"/>
<path color="#7fff00" d="M133 354.1l1.1 5.7.5-.2-1.2-6z"/>
<path color="#faff00" d="M134.1 359.8l1 3.6.4.1-.9-3.9z"/>
<path color="#2e005c" d="M144.1 347.2l1.2-3.6.5-2.8-1.3 4.1z"/>
<path color="#5f0061" d="M145.3 343.6l1-2 .5-3.1-1 2.3z"/>
<path color="#69004d" d="M146.3 341.6l1-.8.4-3.2-.9.9z"/>
<path color="#780049" d="M147.3 340.8l.9.4.4-3.4-.9-.2z"/>
<path color="#ff0faa" d="M148.2 341.2l.9 1.4.4-3.3-.9-1.5z"/>
<path color="#ff36f2" d="M149.1 342.6l.9 2.6.4-3.2-.9-2.7z"/>
<path color="#fb01ff" d="M150 345.2l1 4 .4-2.9-1-4.3z"/>
<path color="#8000ff" d="M151 349.2l1.2 6.2.4-2.4-1.2-6.7z"/>
<path color="#0065ff" d="M152.2 355.4l1.9 11.6.4-1.5-1.9-12.5z"/>
<path color="#00ff65" d="M154.1 367l1.8 11.4.4-.7-1.8-12.2z"/>
<path color="#7fff00" d="M155.9 378.4l1.2 5.9.3-.3-1.1-6.3z"/>
<path color="#faff00" d="M157.1 384.3l1 3.9.3-.1-1-4.1z"/>
<path color="#005823" d="M164.3 387.3l2.5-7.2.3-1.7-2.4 8.1z"/>
<path color="#002359" d="M166.8 380.1l2.5-7.5.4-2.6-2.6 8.4z"/>
<path color="#2e005c" d="M169.3 372.6l1.6-3.6.4-3.1-1.6 4.1z"/>
<path color="#5f0061" d="M170.9 369l1.2-2 .5-3.3-1.3 2.2z"/>
<path color="#69004d" d="M172.1 367l1.2-.6.4-3.6-1.1.9z"/>
<path color="#780049" d="M173.3 366.4l1 .4.4-3.6-1-.4z"/>
<path color="#ff11ac" d="M174.3 366.8l1 1.6.4-3.6-1-1.6z"/>
<path color="#ff33ef" d="M175.3 368.4l1 2.8.4-3.5-1-2.9z"/>
<path color="#fb01ff" d="M176.3 371.2l1.1 4.2.4-3.1-1.1-4.6z"/>
<path color="#8000ff" d="M177.4 375.4l1.1 6.5.4-2.7-1.1-6.9z"/>
<path color="#0065ff" d="M178.5 381.9l1.8 12.2.3-1.8-1.7-13.1z"/>
<path color="#00ff65" d="M180.3 394.1l1.7 11.9.3-.9-1.7-12.8z"/>
<path color="#7fff00" d="M182 406l1.1 6.2.3-.5-1.1-6.6z"/>
<path color="#faff00" d="M183.1 412.2l1 4.1.2-.3-.9-4.3z"/>
<path color="#ffbd00" d="M184.1 416.3l1 2.7.2-.2-1-2.8z"/>
<path color="#ff9600" d="M185.1 419l.5.9.6.6.1 0-1-1.7z"/>
<path color="#21005e" d="M101.8 307l.7-3.1.4-2.5-.7 3.6z"/>
<path color="#4e0062" d="M102.5 303.9l.7-1.7.4-2.8-.7 2z"/>
<path color="#690064" d="M103.2 302.2l.6-.7.4-3-.6.9z"/>
<path color="#740061" d="M103.8 301.5l.7.3.4-3.1-.7-.2z"/>
<path color="#e804c3" d="M104.5 301.8l.7 1.1.4-3-.7-1.2z"/>
<path color="#ff3eff" d="M105.2 302.9l.8 2.2.4-2.9-.8-2.3z"/>
<path color="#d80eff" d="M106 305.1l1 3.3.4-2.6-1-3.6z"/>
<path color="#5b00ff" d="M107 308.4l1.2 5.1.4-2.1-1.2-5.6z"/>
<path color="#0073ff" d="M108.2 313.5l2 9.7.4-1.1-2-10.7z"/>
<path color="#00ff74" d="M110.2 323.2l1.9 9.6.5-.3-2-10.4z"/>
<path color="#5bff00" d="M112.1 332.8l1.2 4.9.5.3-1.2-5.5z"/>
<path color="#c9ff00" d="M113.3 337.7l.9 3.3.5.5-.9-3.5z"/>
<path color="#21005e" d="M121.5 327l.9-3.1.5-2.7-1 3.7z"/>
<path color="#4e0062" d="M122.4 323.9l.9-1.7.4-3-.8 2z"/>
<path color="#690064" d="M123.3 322.2l.7-.6.4-3.2-.7.8z"/>
<path color="#740061" d="M124 321.6l.8.3.4-3.2-.8-.3z"/>
<path color="#e804c3" d="M124.8 321.9l.8 1.3.4-3.2-.8-1.3z"/>
<path color="#ff3eff" d="M125.6 323.2l.9 2.2.4-3-.9-2.4z"/>
<path color="#d60cff" d="M126.5 325.4l1 3.5.4-2.7-1-3.8z"/>
<path color="#5b00ff" d="M127.5 328.9l1.2 5.4.4-2.2-1.2-5.9z"/>
<path color="#0073ff" d="M128.7 334.3l1.9 10.2.5-1.3-2-11.1z"/>
<path color="#00ff74" d="M130.6 344.5l2 10 .4-.4-1.9-10.9z"/>
<path color="#5bff00" d="M132.6 354.5l1.1 5.2.4.1-1.1-5.7z"/>
<path color="#c9ff00" d="M133.7 359.7l1 3.4.4.3-1-3.6z"/>
<path color="#00295a" d="M141.8 356.1l1.9-6.5.4-2.4-1.9 7.5z"/>
<path color="#21005e" d="M143.7 349.6l1.2-3.1.4-2.9-1.2 3.6z"/>
<path color="#4e0062" d="M144.9 346.5l1-1.7.4-3.2-1 2z"/>
<path color="#690064" d="M145.9 344.8l1-.5.4-3.5-1 .8z"/>
<path color="#740061" d="M146.9 344.3l.9.4.4-3.5-.9-.4z"/>
<path color="#e905c4" d="M147.8 344.7l.9 1.3.4-3.4-.9-1.4z"/>
<path color="#ff3eff" d="M148.7 346l.9 2.4.4-3.2-.9-2.6z"/>
<path color="#d30aff" d="M149.6 348.4l1 3.8.4-3-1-4z"/>
<path color="#5b00ff" d="M150.6 352.2l1.2 5.6.4-2.4-1.2-6.2z"/>
<path color="#0073ff" d="M151.8 357.8l1.9 10.6.4-1.4-1.9-11.6z"/>
<path color="#00ff74" d="M153.7 368.4l1.9 10.5.3-.5-1.8-11.4z"/>
<path color="#5bff00" d="M155.6 378.9l1.2 5.4.3 0-1.2-5.9z"/>
<path color="#c9ff00" d="M156.8 384.3l1 3.6.3.3-1-3.9z"/>
<path color="#00295a" d="M166.4 381.6l2.5-6.4.4-2.6-2.5 7.5z"/>
<path color="#21005e" d="M168.9 375.2l1.6-3.1.4-3.1-1.6 3.6z"/>
<path color="#4e0062" d="M170.5 372.1l1.2-1.6.4-3.5-1.2 2z"/>
<path color="#690064" d="M171.7 370.5l1.2-.5.4-3.6-1.2.6z"/>
<path color="#740061" d="M172.9 370l1 .6.4-3.8-1-.4z"/>
<path color="#ea05c4" d="M173.9 370.6l1 1.5.4-3.7-1-1.6z"/>
<path color="#ff3dff" d="M174.9 372.1l1 2.6.4-3.5-1-2.8z"/>
<path color="#d107ff" d="M175.9 374.7l1.1 3.9.4-3.2-1.1-4.2z"/>
<path color="#5b00ff" d="M177 378.6l1.2 5.9.3-2.6-1.1-6.5z"/>
<path color="#0073ff" d="M178.2 384.5l1.8 11.2.3-1.6-1.8-12.2z"/>
<path color="#00ff74" d="M180 395.7l1.8 10.9.2-.6-1.7-11.9z"/>
<path color="#5bff00" d="M181.8 406.6l1.2 5.8.1-.2-1.1-6.2z"/>
<path color="#c9ff00" d="M183 412.4l1 3.8.1.1-1-4.1z"/>
<path color="#fcf100" d="M184 416.2l1 2.5.1.3-1-2.7z"/>
<path color="#f5d200" d="M185 418.7l0 .1.6 1.1-.5-.9z"/>
<path color="#13005f" d="M101.4 309.1l.7-2.6.4-2.6-.7 3.1z"/>
<path color="#3a0064" d="M102.1 306.5l.7-1.3.4-3-.7 1.7z"/>
<path color="#55006a" d="M102.8 305.2l.7-.5.3-3.2-.6.7z"/>
<path color="#690073" d="M103.5 304.7l.7.3.3-3.2-.7-.3z"/>
<path color="#b601c8" d="M104.2 305l.7 1.1.3-3.2-.7-1.1z"/>
<path color="#f224ff" d="M104.9 306.1l.8 1.9.3-2.9-.8-2.2z"/>
<path color="#bf2aff" d="M105.7 308l.9 3 .4-2.6-1-3.3z"/>
<path color="#3401ff" d="M106.6 311l1.2 4.6.4-2.1-1.2-5.1z"/>
<path color="#0084ff" d="M107.8 315.6l1.9 8.7.5-1.1-2-9.7z"/>
<path color="#00ff84" d="M109.7 324.3l1.9 8.6.5-.1-1.9-9.6z"/>
<path color="#32ff00" d="M111.6 332.9l1.1 4.5.6.3-1.2-4.9z"/>
<path color="#93fe00" d="M112.7 337.4l1 2.9.5.7-.9-3.3z"/>
<path color="#13005f" d="M121.1 329.3l1-2.6.3-2.8-.9 3.1z"/>
<path color="#3a0064" d="M122.1 326.7l.8-1.3.4-3.2-.9 1.7z"/>
<path color="#55006a" d="M122.9 325.4l.8-.5.3-3.3-.7.6z"/>
<path color="#690073" d="M123.7 324.9l.7.4.4-3.4-.8-.3z"/>
<path color="#b601c8" d="M124.4 325.3l.9 1.2.3-3.3-.8-1.3z"/>
<path color="#f224ff" d="M125.3 326.5l.8 2.1.4-3.2-.9-2.2z"/>
<path color="#bb27ff" d="M126.1 328.6l1 3.2.4-2.9-1-3.5z"/>
<path color="#3301ff" d="M127.1 331.8l1.2 4.8.4-2.3-1.2-5.4z"/>
<path color="#0084ff" d="M128.3 336.6l1.9 9.1.4-1.2-1.9-10.2z"/>
<path color="#00ff84" d="M130.2 345.7l1.9 9 .5-.2-2-10z"/>
<path color="#32ff00" d="M132.1 354.7l1.2 4.7.4.3-1.1-5.2z"/>
<path color="#93fe00" d="M133.3 359.4l.9 3.1.5.6-1-3.4z"/>
<path color="#00305c" d="M141.4 357.4l1.9-5.4.4-2.4-1.9 6.5z"/>
<path color="#13005f" d="M143.3 352l1.2-2.5.4-3-1.2 3.1z"/>
<path color="#3a0064" d="M144.5 349.5l1.1-1.3.3-3.4-1 1.7z"/>
<path color="#55006a" d="M145.6 348.2l.9-.4.4-3.5-1 .5z"/>
<path color="#690073" d="M146.5 347.8l.9.5.4-3.6-.9-.4z"/>
<path color="#b601c8" d="M147.4 348.3l.9 1.3.4-3.6-.9-1.3z"/>
<path color="#f124ff" d="M148.3 349.6l.9 2.2.4-3.4-.9-2.4z"/>
<path color="#b823ff" d="M149.2 351.8l1 3.4.4-3-1-3.8z"/>
<path color="#30f" d="M150.2 355.2l1.2 5.1.4-2.5-1.2-5.6z"/>
<path color="#0084ff" d="M151.4 360.3l2 9.5.3-1.4-1.9-10.6z"/>
<path color="#00ff84" d="M153.4 369.8l1.9 9.4.3-.3-1.9-10.5z"/>
<path color="#32ff00" d="M155.3 379.2l1.2 5 .3.1-1.2-5.4z"/>
<path color="#93fe00" d="M156.5 384.2l1 3.3.3.4-1-3.6z"/>
<path color="#005b2f" d="M163.7 388.2l2.4-5.1.3-1.5-2.4 6.2z"/>
<path color="#00305c" d="M166.1 383.1l2.5-5.3.3-2.6-2.5 6.4z"/>
<path color="#13005f" d="M168.6 377.8l1.5-2.5.4-3.2-1.6 3.1z"/>
<path color="#3a0064" d="M170.1 375.3l1.2-1.2.4-3.6-1.2 1.6z"/>
<path color="#55006a" d="M171.3 374.1l1.1-.2.5-3.9-1.2.5z"/>
<path color="#690073" d="M172.4 373.9l1.1.6.4-3.9-1-.6z"/>
<path color="#b701c8" d="M173.5 374.5l1 1.4.4-3.8-1-1.5z"/>
<path color="#f123ff" d="M174.5 375.9l1 2.4.4-3.6-1-2.6z"/>
<path color="#b31fff" d="M175.5 378.3l1.1 3.6.4-3.3-1.1-3.9z"/>
<path color="#30f" d="M176.6 381.9l1.2 5.4.4-2.8-1.2-5.9z"/>
<path color="#0084ff" d="M177.8 387.3l1.9 10 .3-1.6-1.8-11.2z"/>
<path color="#00ff84" d="M179.7 397.3l1.9 9.9.2-.6-1.8-10.9z"/>
<path color="#32ff00" d="M181.6 407.2l1.2 5.2.2 0-1.2-5.8z"/>
<path color="#333d00" d="M183.8 415.9l.6 1.4.6 1.4 0 0-1-2.5z"/>
<path color="#020062" d="M101 311.3l.8-2 .3-2.8-.7 2.6z"/>
<path color="#240066" d="M101.8 309.3l.6-1 .4-3.1-.7 1.3z"/>
<path color="#3a006b" d="M102.4 308.3l.7-.3.4-3.3-.7.5z"/>
<path color="#490072" d="M103.1 308l.7.4.4-3.4-.7-.3z"/>
<path color="#7200b3" d="M103.8 308.4l.7 1.1.4-3.4-.7-1.1z"/>
<path color="#9d12ff" d="M104.5 309.5l.8 1.7.4-3.2-.8-1.9z"/>
<path color="#9a3fff" d="M105.3 311.2l.9 2.7.4-2.9-.9-3z"/>
<path color="#0e07ff" d="M106.2 313.9l1.2 4 .4-2.3-1.2-4.6z"/>
<path color="#0095ff" d="M107.4 317.9l1.8 7.5.5-1.1-1.9-8.7z"/>
<path color="#00ff96" d="M109.2 325.4l1.9 7.5.5 0-1.9-8.6z"/>
<path color="#06ff00" d="M111.1 332.9l1.1 4 .5.5-1.1-4.5z"/>
<path color="#58f900" d="M112.2 336.9l.9 2.6.6.8-1-2.9z"/>
<path color="#00385f" d="M119.2 335.9l1.5-4.3.4-2.3-1.4 5.4z"/>
<path color="#020062" d="M120.7 331.6l1-1.9.4-3-1 2.6z"/>
<path color="#240066" d="M121.7 329.7l.8-1 .4-3.3-.8 1.3z"/>
<path color="#3a006b" d="M122.5 328.7l.8-.2.4-3.6-.8.5z"/>
<path color="#490072" d="M123.3 328.5l.8.5.3-3.7-.7-.4z"/>
<path color="#7200b3" d="M124.1 329l.8 1.1.4-3.6-.9-1.2z"/>
<path color="#9d12ff" d="M124.9 330.1l.8 1.9.4-3.4-.8-2.1z"/>
<path color="#983eff" d="M125.7 332l1 2.8.4-3-1-3.2z"/>
<path color="#0c06ff" d="M126.7 334.8l1.2 4.2.4-2.4-1.2-4.8z"/>
<path color="#0095ff" d="M127.9 339l1.9 7.9.4-1.2-1.9-9.1z"/>
<path color="#00ff96" d="M129.8 346.9l1.9 7.9.4-.1-1.9-9z"/>
<path color="#06ff00" d="M131.7 354.8l1.2 4.2.4.4-1.2-4.7z"/>
<path color="#58f900" d="M132.9 359l.9 2.8.4.7-.9-3.1z"/>
<path color="#0c7" d="M139.2 362.8l1.8-4.1.4-1.3-1.8 5.2z"/>
<path color="#00385f" d="M141 358.7l1.9-4.2.4-2.5-1.9 5.4z"/>
<path color="#020062" d="M142.9 354.5l1.2-1.9.4-3.1-1.2 2.5z"/>
<path color="#240066" d="M144.1 352.6l1.1-.9.4-3.5-1.1 1.3z"/>
<path color="#3a006b" d="M145.2 351.7l.9-.1.4-3.8-.9.4z"/>
<path color="#490072" d="M146.1 351.6l.9.6.4-3.9-.9-.5z"/>
<path color="#7200b3" d="M147 352.2l.9 1.2.4-3.8-.9-1.3z"/>
<path color="#9d12ff" d="M147.9 353.4l.9 2 .4-3.6-.9-2.2z"/>
<path color="#963cff" d="M148.8 355.4l1 3 .4-3.2-1-3.4z"/>
<path color="#0b04ff" d="M149.8 358.4l1.3 4.5.3-2.6-1.2-5.1z"/>
<path color="#0095ff" d="M151.1 362.9l1.9 8.4.4-1.5-2-9.5z"/>
<path color="#00ff96" d="M153 371.3l1.9 8.2.4-.3-1.9-9.4z"/>
<path color="#06ff00" d="M154.9 379.5l1.2 4.4.4.3-1.2-5z"/>
<path color="#58f900" d="M156.1 383.9l1.1 3 .3.6-1-3.3z"/>
<path color="#005e37" d="M163.4 388.6l2.4-4 .3-1.5-2.4 5.1z"/>
<path color="#00385f" d="M165.8 384.6l2.4-4 .4-2.8-2.5 5.3z"/>
<path color="#020062" d="M168.2 380.6l1.5-1.9.4-3.4-1.5 2.5z"/>
<path color="#240066" d="M169.7 378.7l1.2-.8.4-3.8-1.2 1.2z"/>
<path color="#3a006b" d="M170.9 377.9l1.1 0 .4-4-1.1.2z"/>
<path color="#490072" d="M172 377.9l1.1.7.4-4.1-1.1-.6z"/>
<path color="#7200b3" d="M173.1 378.6l1 1.4.4-4.1-1-1.4z"/>
<path color="#9c11ff" d="M174.1 380l1 2.2.4-3.9-1-2.4z"/>
<path color="#943aff" d="M175.1 382.2l1.1 3.2.4-3.5-1.1-3.6z"/>
<path color="#0903ff" d="M176.2 385.4l1.3 4.7.3-2.8-1.2-5.4z"/>
<path color="#0095ff" d="M177.5 390.1l1.9 8.8.3-1.6-1.9-10z"/>
<path color="#00ff96" d="M179.4 398.9l2 8.7.2-.4-1.9-9.9z"/>
<path color="#06ff00" d="M181.4 407.6l1.2 4.7.2.1-1.2-5.2z"/>
<path color="#58f900" d="M182.6 412.3l1.1 3.2.1.4-1-3.5z"/>
<path color="#1f3d00" d="M183.7 415.5l.1.2.6 1.6-.6-1.4z"/>
<path color="#004162" d="M99.3 316.7l1.2-3.1.5-2.3-1.2 4.3z"/>
<path color="#001065" d="M100.5 313.6l.9-1.3.4-3-.8 2z"/>
<path color="#0b0068" d="M101.4 312.3l.7-.6.3-3.4-.6 1z"/>
<path color="#1c006d" d="M102.1 311.7l.6-.1.4-3.6-.7.3z"/>
<path color="#260073" d="M102.7 311.6l.7.5.4-3.7-.7-.4z"/>
<path color="#3800a5" d="M103.4 312.1l.8 1 .3-3.6-.7-1.1z"/>
<path color="#4b08ff" d="M104.2 313.1l.7 1.5.4-3.4-.8-1.7z"/>
<path color="#4e33ff" d="M104.9 314.6l.9 2.3.4-3-.9-2.7z"/>
<path color="#1d46ff" d="M105.8 316.9l1.1 3.4.5-2.4-1.2-4z"/>
<path color="#00a9ff" d="M106.9 320.3l1.9 6.3.4-1.2-1.8-7.5z"/>
<path color="#00ffa9" d="M108.8 326.6l1.8 6.3.5 0-1.9-7.5z"/>
<path color="#00ff2a" d="M110.6 332.9l1.1 3.4.5.6-1.1-4z"/>
<path color="#1af600" d="M111.7 336.3l.9 2.3.5.9-.9-2.6z"/>
<path color="#004162" d="M118.7 337.1l1.6-3 .4-2.5-1.5 4.3z"/>
<path color="#001065" d="M120.3 334.1l1-1.3.4-3.1-1 1.9z"/>
<path color="#0b0068" d="M121.3 332.8l.8-.5.4-3.6-.8 1z"/>
<path color="#1c006d" d="M122.1 332.3l.8 0 .4-3.8-.8.2z"/>
<path color="#260073" d="M122.9 332.3l.8.5.4-3.8-.8-.5z"/>
<path color="#3800a5" d="M123.7 332.8l.8 1.1.4-3.8-.8-1.1z"/>
<path color="#4c09ff" d="M124.5 333.9l.8 1.7.4-3.6-.8-1.9z"/>
<path color="#4e33ff" d="M125.3 335.6l1 2.4.4-3.2-1-2.8z"/>
<path color="#1a43ff" d="M126.3 338l1.2 3.6.4-2.6-1.2-4.2z"/>
<path color="#00a9ff" d="M127.5 341.6l1.9 6.7.4-1.4-1.9-7.9z"/>
<path color="#00ffa9" d="M129.4 348.3l1.8 6.6.5-.1-1.9-7.9z"/>
<path color="#00ff2a" d="M131.2 354.9l1.2 3.6.5.5-1.2-4.2z"/>
<path color="#1af600" d="M132.4 358.5l.9 2.4.5.9-.9-2.8z"/>
<path color="#004162" d="M140.6 360.1l1.9-2.8.4-2.8-1.9 4.2z"/>
<path color="#001065" d="M142.5 357.3l1.2-1.3.4-3.4-1.2 1.9z"/>
<path color="#0b0068" d="M143.7 356l1-.5.5-3.8-1.1.9z"/>
<path color="#1c006d" d="M144.7 355.5l1 .1.4-4-.9.1z"/>
<path color="#260073" d="M145.7 355.6l.9.7.4-4.1-.9-.6z"/>
<path color="#3800a5" d="M146.6 356.3l.9 1.2.4-4.1-.9-1.2z"/>
<path color="#4c09ff" d="M147.5 357.5l.9 1.8.4-3.9-.9-2z"/>
<path color="#4e33ff" d="M148.4 359.3l1 2.6.4-3.5-1-3z"/>
<path color="#1640ff" d="M149.4 361.9l1.2 3.8.5-2.8-1.3-4.5z"/>
<path color="#00a9ff" d="M150.6 365.7l2 7.1.4-1.5-1.9-8.4z"/>
<path color="#00ffa9" d="M152.6 372.8l2 7 .3-.3-1.9-8.2z"/>
<path color="#00ff2a" d="M154.6 379.8l1.2 3.8.3.3-1.2-4.4z"/>
<path color="#006241" d="M163.1 388.9l2.3-2.7.4-1.6-2.4 4z"/>
<path color="#004162" d="M165.4 386.2l2.4-2.7.4-2.9-2.4 4z"/>
<path color="#001065" d="M167.8 383.5l1.5-1.1.4-3.7-1.5 1.9z"/>
<path color="#0b0068" d="M169.3 382.4l1.2-.4.4-4.1-1.2.8z"/>
<path color="#1c006d" d="M170.5 382l1.1.2.4-4.3-1.1 0z"/>
<path color="#260073" d="M171.6 382.2l1 .8.5-4.4-1.1-.7z"/>
<path color="#3800a5" d="M172.6 383l1 1.3.5-4.3-1-1.4z"/>
<path color="#4b08ff" d="M173.6 384.3l1.1 2 .4-4.1-1-2.2z"/>
<path color="#4e33ff" d="M174.7 386.3l1.1 2.8.4-3.7-1.1-3.2z"/>
<path color="#133cff" d="M175.8 389.1l1.3 4 .4-3-1.3-4.7z"/>
<path color="#00a9ff" d="M177.1 393.1l2 7.5.3-1.7-1.9-8.8z"/>
<path color="#00ffa9" d="M179.1 400.6l2.1 7.5.2-.5-2-8.7z"/>
<path color="#00ff2a" d="M181.2 408.1l1.3 4 .1.2-1.2-4.7z"/>
<path color="#20f600" d="M182.5 412.1l.7 1.9.5 1.3 0 .2-1.1-3.2z"/>
<path color="#004d68" d="M98.8 317.8l1.3-1.9.4-2.3-1.2 3.1z"/>
<path color="#002569" d="M100.1 315.9l.9-.8.4-2.8-.9 1.3z"/>
<path color="#00106c" d="M101 315.1l.7-.2.4-3.2-.7.6z"/>
<path color="#00036f" d="M101.7 314.9l.7.1.3-3.4-.6.1z"/>
<path color="#040074" d="M102.4 315l.7.5.3-3.4-.7-.5z"/>
<path color="#05009f" d="M103.1 315.5l.7 1 .4-3.4-.8-1z"/>
<path color="#0409ee" d="M103.8 316.5l.8 1.3.3-3.2-.7-1.5z"/>
<path color="#2045ff" d="M104.6 317.8l.8 1.9.4-2.8-.9-2.3z"/>
<path color="#3b95ff" d="M105.4 319.7l1.1 2.9.4-2.3-1.1-3.4z"/>
<path color="#01bdff" d="M106.5 322.6l1.8 5.1.5-1.1-1.9-6.3z"/>
<path color="#00ffbc" d="M108.3 327.7l1.7 5.2.6 0-1.8-6.3z"/>
<path color="#00ff5a" d="M110 332.9l1.1 2.8.6.6-1.1-3.4z"/>
<path color="#00f524" d="M111.1 335.7l.9 2 .6.9-.9-2.3z"/>
<path color="#00a57a" d="M116.7 340.1l1.6-1.8.4-1.2-1.5 2.9z"/>
<path color="#004d68" d="M118.3 338.3l1.6-1.8.4-2.4-1.6 3z"/>
<path color="#002569" d="M119.9 336.5l1-.7.4-3-1 1.3z"/>
<path color="#00106c" d="M120.9 335.8l.8-.1.4-3.4-.8.5z"/>
<path color="#00036f" d="M121.7 335.7l.8.2.4-3.6-.8 0z"/>
<path color="#040074" d="M122.5 335.9l.8.6.4-3.7-.8-.5z"/>
<path color="#05009f" d="M123.3 336.5l.8 1 .4-3.6-.8-1.1z"/>
<path color="#040aef" d="M124.1 337.5l.9 1.5.3-3.4-.8-1.7z"/>
<path color="#2045ff" d="M125 339l.9 2.1.4-3.1-1-2.4z"/>
<path color="#3993ff" d="M125.9 341.1l1.1 3 .5-2.5-1.2-3.6z"/>
<path color="#00bdff" d="M127 344.1l1.9 5.5.5-1.3-1.9-6.7z"/>
<path color="#00ffbc" d="M128.9 349.6l1.9 5.4.4-.1-1.8-6.6z"/>
<path color="#00ff5a" d="M130.8 355l1.1 3 .5.5-1.2-3.6z"/>
<path color="#00f524" d="M131.9 358l1 2.1.4.8-.9-2.4z"/>
<path color="#00694d" d="M138.3 363.1l1.9-1.6.4-1.4-1.8 2.8z"/>
<path color="#004d68" d="M140.2 361.5l1.9-1.7.4-2.5-1.9 2.8z"/>
<path color="#002569" d="M142.1 359.8l1.2-.6.4-3.2-1.2 1.3z"/>
<path color="#00106c" d="M143.3 359.2l1 0 .4-3.7-1 .5z"/>
<path color="#00036f" d="M144.3 359.2l1 .3.4-3.9-1-.1z"/>
<path color="#040074" d="M145.3 359.5l.9.7.4-3.9-.9-.7z"/>
<path color="#05009f" d="M146.2 360.2l.9 1.1.4-3.8-.9-1.2z"/>
<path color="#040aef" d="M147.1 361.3l.9 1.6.4-3.6-.9-1.8z"/>
<path color="#2044ff" d="M148 362.9l1 2.3.4-3.3-1-2.6z"/>
<path color="#3791ff" d="M149 365.2l1.3 3.2.3-2.7-1.2-3.8z"/>
<path color="#00bcff" d="M150.3 368.4l2 5.8.3-1.4-2-7.1z"/>
<path color="#00ffbc" d="M152.3 374.2l1.9 5.9.4-.3-2-7z"/>
<path color="#00ff5a" d="M154.2 380.1l1.3 3.2.3.3-1.2-3.8z"/>
<path color="#00f524" d="M155.5 383.3l1 2.2.3.7-1-2.6z"/>
<path color="#00694d" d="M162.8 389.2l2.3-1.4.3-1.6-2.3 2.7z"/>
<path color="#004d68" d="M165.1 387.8l2.3-1.5.4-2.8-2.4 2.7z"/>
<path color="#002569" d="M167.4 386.3l1.5-.5.4-3.4-1.5 1.1z"/>
<path color="#00106c" d="M168.9 385.8l1.2.1.4-3.9-1.2.4z"/>
<path color="#00036f" d="M170.1 385.9l1 .4.5-4.1-1.1-.2z"/>
<path color="#040074" d="M171.1 386.3l1.1.9.4-4.2-1-.8z"/>
<path color="#05009f" d="M172.2 387.2l1 1.2.4-4.1-1-1.3z"/>
<path color="#040aef" d="M173.2 388.4l1 1.8.5-3.9-1.1-2z"/>
<path color="#1f44ff" d="M174.2 390.2l1.2 2.4.4-3.5-1.1-2.8z"/>
<path color="#348eff" d="M175.4 392.6l1.3 3.4.4-2.9-1.3-4z"/>
<path color="#00bcff" d="M176.7 396l2.1 6.3.3-1.7-2-7.5z"/>
<path color="#00ffbc" d="M178.8 402.3l2.1 6.2.3-.4-2.1-7.5z"/>
<path color="#00ff5a" d="M180.9 408.5l1.4 3.5.2.1-1.3-4z"/>
<path color="#00fa2f" d="M182.3 412l.2.6.7 1.4-.7-1.9z"/>
<path color="#005a6f" d="M98.4 318.8l1.3-.8.4-2.1-1.3 1.9z"/>
<path color="#003a6e" d="M99.7 318l.9-.3.4-2.6-.9.8z"/>
<path color="#002a70" d="M100.6 317.7l.7.1.4-2.9-.7.2z"/>
<path color="#002173" d="M101.3 317.8l.7.3.4-3.1-.7-.1z"/>
<path color="#001e7c" d="M102 318.1l.7.6.4-3.2-.7-.5z"/>
<path color="#0027a0" d="M102.7 318.7l.7.9.4-3.1-.7-1z"/>
<path color="#0240dc" d="M103.4 319.6l.8 1.2.4-3-.8-1.3z"/>
<path color="#1574ff" d="M104.2 320.8l.9 1.6.3-2.7-.8-1.9z"/>
<path color="#41c8ff" d="M105.1 322.4l1 2.3.4-2.1-1.1-2.9z"/>
<path color="#05d3ff" d="M106.1 324.7l1.7 4.1.5-1.1-1.8-5.1z"/>
<path color="#00ffce" d="M107.8 328.8l1.7 4.2.5-.1-1.7-5.2z"/>
<path color="#00ff86" d="M109.5 333l1.1 2.3.5.4-1.1-2.8z"/>
<path color="#00f85d" d="M110.6 335.3l.9 1.7.5.7-.9-2z"/>
<path color="#007b63" d="M116.3 340.2l1.6-.7.4-1.2-1.6 1.8z"/>
<path color="#005a6f" d="M117.9 339.5l1.6-.7.4-2.3-1.6 1.8z"/>
<path color="#003a6e" d="M119.5 338.8l1-.2.4-2.8-1 .7z"/>
<path color="#002a70" d="M120.5 338.6l.9.2.3-3.1-.8.1z"/>
<path color="#002173" d="M121.4 338.8l.8.4.3-3.3-.8-.2z"/>
<path color="#001e7c" d="M122.2 339.2l.7.7.4-3.4-.8-.6z"/>
<path color="#0027a0" d="M122.9 339.9l.8 1 .4-3.4-.8-1z"/>
<path color="#0241dc" d="M123.7 340.9l.9 1.3.4-3.2-.9-1.5z"/>
<path color="#1575ff" d="M124.6 342.2l.9 1.7.4-2.8-.9-2.1z"/>
<path color="#42c8ff" d="M125.5 343.9l1.2 2.5.3-2.3-1.1-3z"/>
<path color="#04d2ff" d="M126.7 346.4l1.8 4.4.4-1.2-1.9-5.5z"/>
<path color="#00ffce" d="M128.5 350.8l1.9 4.5.4-.3-1.9-5.4z"/>
<path color="#00ff86" d="M130.4 355.3l1.1 2.4.4.3-1.1-3z"/>
<path color="#007b63" d="M137.9 363.4l1.9-.6.4-1.3-1.9 1.6z"/>
<path color="#005a6f" d="M139.8 362.8l1.9-.5.4-2.5-1.9 1.7z"/>
<path color="#003a6e" d="M141.7 362.3l1.2-.1.4-3-1.2.6z"/>
<path color="#002a70" d="M142.9 362.2l1.1.3.3-3.3-1 0z"/>
<path color="#002173" d="M144 362.5l.9.5.4-3.5-1-.3z"/>
<path color="#001e7c" d="M144.9 363l.9.8.4-3.6-.9-.7z"/>
<path color="#0027a0" d="M145.8 363.8l.9 1.1.4-3.6-.9-1.1z"/>
<path color="#0341dc" d="M146.7 364.9l.9 1.4.4-3.4-.9-1.6z"/>
<path color="#1675ff" d="M147.6 366.3l1 1.9.4-3-1-2.3z"/>
<path color="#42c9ff" d="M148.6 368.2l1.3 2.7.4-2.5-1.3-3.2z"/>
<path color="#03d1ff" d="M149.9 370.9l2 4.7.4-1.4-2-5.8z"/>
<path color="#00ffce" d="M151.9 375.6l2 4.8.3-.3-1.9-5.9z"/>
<path color="#00ff86" d="M153.9 380.4l1.3 2.7.3.2-1.3-3.2z"/>
<path color="#00f85d" d="M155.2 383.1l1 1.9.3.5-1-2.2z"/>
<path color="#007b63" d="M162.5 389.6l2.3-.3.3-1.5-2.3 1.4z"/>
<path color="#005a6f" d="M164.8 389.3l2.3-.3.3-2.7-2.3 1.5z"/>
<path color="#003a6e" d="M167.1 389l1.4.1.4-3.3-1.5.5z"/>
<path color="#002a70" d="M168.5 389.1l1.2.4.4-3.6-1.2-.1z"/>
<path color="#002173" d="M169.7 389.5l1 .6.4-3.8-1-.4z"/>
<path color="#001e7c" d="M170.7 390.1l1.1.9.4-3.8-1.1-.9z"/>
<path color="#0027a0" d="M171.8 391l1 1.3.4-3.9-1-1.2z"/>
<path color="#0341dc" d="M172.8 392.3l1 1.5.4-3.6-1-1.8z"/>
<path color="#1675ff" d="M173.8 393.8l1.2 2.1.4-3.3-1.2-2.4z"/>
<path color="#42c9ff" d="M175 395.9l1.3 2.9.4-2.8-1.3-3.4z"/>
<path color="#02d1ff" d="M176.3 398.8l2.2 5.1.3-1.6-2.1-6.3z"/>
<path color="#00ffce" d="M178.5 403.9l2.2 5.2.2-.6-2.1-6.2z"/>
<path color="#00ff83" d="M180.7 409.1l1.2 2.4.3.4.1.1-1.4-3.5z"/>
<path color="#00fe5c" d="M182.5 412.6l-.2-.6-.1-.1z"/>
<path color="#00a892" d="M96.5 319.8l1.4 0 .5-1-1.4.8z"/>
<path color="#006f80" d="M97.9 319.8l1.4.1.4-1.9-1.3.8z"/>
<path color="#005076" d="M99.3 319.9l.9.3.4-2.5-.9.3z"/>
<path color="#004577" d="M100.2 320.2l.8.3.3-2.7-.7-.1z"/>
<path color="#00417e" d="M101 320.5l.7.5.3-2.9-.7-.3z"/>
<path color="#004389" d="M101.7 321l.7.7.3-3-.7-.6z"/>
<path color="#0053a8" d="M102.4 321.7l.7.8.3-2.9-.7-.9z"/>
<path color="#026fd5" d="M103.1 322.5l.7 1 .4-2.7-.8-1.2z"/>
<path color="#0da1ff" d="M103.8 323.5l.9 1.4.4-2.5-.9-1.6z"/>
<path color="#32e0ff" d="M104.7 324.9l1 1.8.4-2-1-2.3z"/>
<path color="#0fedff" d="M105.7 326.7l1.7 3.3.4-1.2-1.7-4.1z"/>
<path color="#00ffde" d="M107.4 330l1.6 3.2.5-.2-1.7-4.2z"/>
<path color="#00ffae" d="M109 333.2l1.1 1.9.5.2-1.1-2.3z"/>
<path color="#00ff94" d="M110.1 335.1l.8 1.4.6.5-.9-1.7z"/>
<path color="#00ef7c" d="M110.9 336.5l.8 1 .6.7-.8-1.2z"/>
<path color="#00a892" d="M115.8 340.5l1.6.2.5-1.2-1.6.7z"/>
<path color="#006f80" d="M117.4 340.7l1.7.2.4-2.1-1.6.7z"/>
<path color="#005076" d="M119.1 340.9l1 .3.4-2.6-1 .2z"/>
<path color="#004577" d="M120.1 341.2l.9.5.4-2.9-.9-.2z"/>
<path color="#00417e" d="M121 341.7l.8.6.4-3.1-.8-.4z"/>
<path color="#004389" d="M121.8 342.3l.8.7.3-3.1-.7-.7z"/>
<path color="#0053a8" d="M122.6 343l.8 1 .3-3.1-.8-1z"/>
<path color="#0270d5" d="M123.4 344l.8 1.1.4-2.9-.9-1.3z"/>
<path color="#0ea2ff" d="M124.2 345.1l.9 1.5.4-2.7-.9-1.7z"/>
<path color="#35e2ff" d="M125.1 346.6l1.2 1.9.4-2.1-1.2-2.5z"/>
<path color="#0fedff" d="M126.3 348.5l1.8 3.6.4-1.3-1.8-4.4z"/>
<path color="#00ffde" d="M128.1 352.1l1.8 3.5.5-.3-1.9-4.5z"/>
<path color="#00ffae" d="M129.9 355.6l1.2 2 .4.1-1.1-2.4z"/>
<path color="#00ff94" d="M131.1 357.6l.9 1.5.5.4-1-1.8z"/>
<path color="#00c486" d="M136.4 363.3l1.1.4.4-.3-1.1 0z"/>
<path color="#00a892" d="M137.5 363.7l1.9.5.4-1.4-1.9.6z"/>
<path color="#006f80" d="M139.4 364.2l2 .4.3-2.3-1.9.5z"/>
<path color="#005076" d="M141.4 364.6l1.2.4.3-2.8-1.2.1z"/>
<path color="#004577" d="M142.6 365l1 .6.4-3.1-1.1-.3z"/>
<path color="#00417e" d="M143.6 365.6l.9.7.4-3.3-.9-.5z"/>
<path color="#004389" d="M144.5 366.3l.9.9.4-3.4-.9-.8z"/>
<path color="#0053a8" d="M145.4 367.2l.9 1 .4-3.3-.9-1.1z"/>
<path color="#0270d5" d="M146.3 368.2l.9 1.3.4-3.2-.9-1.4z"/>
<path color="#0fa3ff" d="M147.2 369.5l1.1 1.6.3-2.9-1-1.9z"/>
<path color="#37e5ff" d="M148.3 371.1l1.2 2.1.4-2.3-1.3-2.7z"/>
<path color="#0eedff" d="M149.5 373.2l2 3.8.4-1.4-2-4.7z"/>
<path color="#00ffde" d="M151.5 377l2.1 3.9.3-.5-2-4.8z"/>
<path color="#00ffae" d="M153.6 380.9l1.2 2.2.4 0-1.3-2.7z"/>
<path color="#00ff94" d="M154.8 383.1l1.1 1.6.3.3-1-1.9z"/>
<path color="#00c486" d="M160.9 389.6l1.3.6.3-.6-1.3-.1z"/>
<path color="#00a892" d="M162.2 390.2l2.2.6.4-1.5-2.3.3z"/>
<path color="#006f80" d="M164.4 390.8l2.3.7.4-2.5-2.3.3z"/>
<path color="#005076" d="M166.7 391.5l1.4.6.4-3-1.4-.1z"/>
<path color="#004577" d="M168.1 392.1l1.2.7.4-3.3-1.2-.4z"/>
<path color="#00417e" d="M169.3 392.8l1 .8.4-3.5-1-.6z"/>
<path color="#004389" d="M170.3 393.6l1.1 1 .4-3.6-1.1-.9z"/>
<path color="#0053a8" d="M171.4 394.6l1 1.2.4-3.5-1-1.3z"/>
<path color="#0371d6" d="M172.4 395.8l1 1.4.4-3.4-1-1.5z"/>
<path color="#11a4ff" d="M173.4 397.2l1.2 1.8.4-3.1-1.2-2.1z"/>
<path color="#39e7ff" d="M174.6 399l1.4 2.4.3-2.6-1.3-2.9z"/>
<path color="#0eecff" d="M176 401.4l2.2 4.1.3-1.6-2.2-5.1z"/>
<path color="#00ffde" d="M178.2 405.5l2.3 4.2.2-.6-2.2-5.2z"/>
<path color="#00ffb3" d="M180.5 409.7l.7 1.3.7.5-1.2-2.4z"/>
<path color="#00e6bc" d="M95 319.5l.9.6.6-.3-.9-.2z"/>
<path color="#00d8c8" d="M95.9 320.1l1.5.9.5-1.2-1.4 0z"/>
<path color="#00a0ad" d="M97.4 321l1.4.8.5-1.9-1.4-.1z"/>
<path color="#007c99" d="M98.8 321.8l1 .6.4-2.2-.9-.3z"/>
<path color="#007094" d="M99.8 322.4l.8.6.4-2.5-.8-.3z"/>
<path color="#006d97" d="M100.6 323l.7.7.4-2.7-.7-.5z"/>
<path color="#0074a4" d="M101.3 323.7l.7.7.4-2.7-.7-.7z"/>
<path color="#0084bb" d="M102 324.4l.7.8.4-2.7-.7-.8z"/>
<path color="#029fdb" d="M102.7 325.2l.7.9.4-2.6-.7-1z"/>
<path color="#09caff" d="M103.4 326.1l.8 1.1.5-2.3-.9-1.4z"/>
<path color="#1dedff" d="M104.2 327.2l1 1.4.5-1.9-1-1.8z"/>
<path color="#12feff" d="M105.2 328.6l1.7 2.5.5-1.1-1.7-3.3z"/>
<path color="#00ffec" d="M106.9 331.1l1.6 2.6.5-.5-1.6-3.2z"/>
<path color="#00ffd0" d="M108.5 333.7l1.1 1.4.5 0-1.1-1.9z"/>
<path color="#00ffc1" d="M109.6 335.1l.8 1.2.5.2-.8-1.4z"/>
<path color="#00feb8" d="M110.4 336.3l.8.9.5.3-.8-1z"/>
<path color="#00eab1" d="M113.4 339.5l.9.7.5-.1-.8-.4z"/>
<path color="#00e6bc" d="M114.3 340.2l1 .7.5-.4-1-.4z"/>
<path color="#00d8c8" d="M115.3 340.9l1.7 1 .4-1.2-1.6-.2z"/>
<path color="#00a0ad" d="M117 341.9l1.6 1.1.5-2.1-1.7-.2z"/>
<path color="#007c99" d="M118.6 343l1.1.7.4-2.5-1-.3z"/>
<path color="#007094" d="M119.7 343.7l.9.7.4-2.7-.9-.5z"/>
<path color="#006d97" d="M120.6 344.4l.8.7.4-2.8-.8-.6z"/>
<path color="#0074a5" d="M121.4 345.1l.8.8.4-2.9-.8-.7z"/>
<path color="#0084bb" d="M122.2 345.9l.8.9.4-2.8-.8-1z"/>
<path color="#029fdc" d="M123 346.8l.8 1 .4-2.7-.8-1.1z"/>
<path color="#0acbff" d="M123.8 347.8l.9 1.2.4-2.4-.9-1.5z"/>
<path color="#20f0ff" d="M124.7 349l1.1 1.6.5-2.1-1.2-1.9z"/>
<path color="#14ffff" d="M125.8 350.6l1.8 2.8.5-1.3-1.8-3.6z"/>
<path color="#00ffec" d="M127.6 353.4l1.9 2.7.4-.5-1.8-3.5z"/>
<path color="#00ffd0" d="M129.5 356.1l1.1 1.7.5-.2-1.2-2z"/>
<path color="#00ffc1" d="M130.6 357.8l1 1.2.4.1-.9-1.5z"/>
<path color="#00feb8" d="M131.6 359l.8 1.1.5.2-.9-1.2z"/>
<path color="#00eab1" d="M135 362.7l.9.8.5-.2-1-.6z"/>
<path color="#00e6bc" d="M135.9 363.5l1.2.8.4-.6-1.1-.4z"/>
<path color="#00d8c8" d="M137.1 364.3l1.9 1.3.4-1.4-1.9-.5z"/>
<path color="#00a0ad" d="M139 365.6l1.9 1.2.5-2.2-2-.4z"/>
<path color="#007c99" d="M140.9 366.8l1.3.9.4-2.7-1.2-.4z"/>
<path color="#007094" d="M142.2 367.7l1 .8.4-2.9-1-.6z"/>
<path color="#006d97" d="M143.2 368.5l.9.9.4-3.1-.9-.7z"/>
<path color="#0074a5" d="M144.1 369.4l.9.9.4-3.1-.9-.9z"/>
<path color="#0184bb" d="M145 370.3l.9 1 .4-3.1-.9-1z"/>
<path color="#03a0dc" d="M145.9 371.3l.9 1.1.4-2.9-.9-1.3z"/>
<path color="#0ccdff" d="M146.8 372.4l1 1.4.5-2.7-1.1-1.6z"/>
<path color="#24f4ff" d="M147.8 373.8l1.3 1.7.4-2.3-1.2-2.1z"/>
<path color="#16ffff" d="M149.1 375.5l2 3.1.4-1.6-2-3.8z"/>
<path color="#00ffec" d="M151.1 378.6l2.1 3 .4-.7-2.1-3.9z"/>
<path color="#00ffd0" d="M153.2 381.6l1.3 1.8.3-.3-1.2-2.2z"/>
<path color="#00ffc1" d="M154.5 383.4l1 1.4.4-.1-1.1-1.6z"/>
<path color="#00feb8" d="M155.5 384.8l1 1.2.4.1-1-1.4z"/>
<path color="#00f5ad" d="M156.5 386l1 1.1.3.1-.9-1.1z"/>
<path color="#00efa9" d="M157.5 387.1l.9 1 .3 0-.9-.9z"/>
<path color="#00eab1" d="M159.4 389l1.1.9.4-.3-1.2-.7z"/>
<path color="#00e6bc" d="M160.5 389.9l1.4 1 .3-.7-1.3-.6z"/>
<path color="#00d8c8" d="M161.9 390.9l2.2 1.5.3-1.6-2.2-.6z"/>
<path color="#00a0ad" d="M164.1 392.4l2.2 1.5.4-2.4-2.3-.7z"/>
<path color="#007d99" d="M166.3 393.9l1.4 1.1.4-2.9-1.4-.6z"/>
<path color="#007094" d="M167.7 395l1.2 1 .4-3.2-1.2-.7z"/>
<path color="#006d97" d="M168.9 396l1 .9.4-3.3-1-.8z"/>
<path color="#0074a5" d="M169.9 396.9l1.1 1.1.4-3.4-1.1-1z"/>
<path color="#0184bb" d="M171 398l1 1.1.4-3.3-1-1.2z"/>
<path color="#04a1dd" d="M172 399.1l1.1 1.3.3-3.2-1-1.4z"/>
<path color="#0ecfff" d="M173.1 400.4l1.1 1.5.4-2.9-1.2-1.8z"/>
<path color="#28f8ff" d="M174.2 401.9l1.4 2 .4-2.5-1.4-2.4z"/>
<path color="#18ffff" d="M175.6 403.9l2.3 3.4.3-1.8-2.2-4.1z"/>
<path color="#00ffec" d="M177.9 407.3l2.4 3.4.2-1-2.3-4.2z"/>
<path color="#00ffd6" d="M180.3 410.7l.2.3.7 0-.7-1.3z"/>
<path color="#00ffe3" d="M92.3 317.7l.6.7.7-.1-.3-.3-1-.3z"/>
<path color="#00ffe1" d="M92.9 318.4l.7.8.7-.3-.7-.6z"/>
<path color="#00ffe5" d="M93.6 319.2l.8.7.6-.4-.7-.6z"/>
<path color="#00ffeb" d="M94.4 319.9l.9.9.6-.7-.9-.6z"/>
<path color="#00fff7" d="M95.3 320.8l1.5 1.4.6-1.2-1.5-.9z"/>
<path color="#00e8f0" d="M96.8 322.2l1.5 1.4.5-1.8-1.4-.8z"/>
<path color="#00c6d7" d="M98.3 323.6l1 .9.5-2.1-1-.6z"/>
<path color="#00bacf" d="M99.3 324.5l.8.8.5-2.3-.8-.6z"/>
<path color="#01b7cf" d="M100.1 325.3l.7.8.5-2.4-.7-.7z"/>
<path color="#01bcd6" d="M100.8 326.1l.7.7.5-2.4-.7-.7z"/>
<path color="#02c6e2" d="M101.5 326.8l.7.8.5-2.4-.7-.8z"/>
<path color="#03d9f6" d="M102.2 327.6l.7.8.5-2.3-.7-.9z"/>
<path color="#07ecff" d="M102.9 328.4l.8 1 .5-2.2-.8-1.1z"/>
<path color="#0bf7ff" d="M103.7 329.4l1 1.1.5-1.9-1-1.4z"/>
<path color="#07feff" d="M104.7 330.5l1.6 2 .6-1.4-1.7-2.5z"/>
<path color="#00fff7" d="M106.3 332.5l1.7 1.9.5-.7-1.6-2.6z"/>
<path color="#00ffeb" d="M108 334.4l1 1.2.6-.5-1.1-1.4z"/>
<path color="#00ffe5" d="M109 335.6l.8 1 .6-.3-.8-1.2z"/>
<path color="#00ffe1" d="M109.8 336.6l.8.9.6-.3-.8-.9z"/>
<path color="#00ffe0" d="M110.6 337.5l.7.8.6-.2-.7-.9z"/>
<path color="#00ffe0" d="M111.3 338.3l.8.8.6-.3-.8-.7z"/>
<path color="#00ffe1" d="M112.1 339.1l.7.8.6-.4-.7-.7z"/>
<path color="#00ffe5" d="M112.8 339.9l.9.8.6-.5-.9-.7z"/>
<path color="#00ffeb" d="M113.7 340.7l1 1 .6-.8-1-.7z"/>
<path color="#00fff7" d="M114.7 341.7l1.7 1.6.6-1.4-1.7-1z"/>
<path color="#00e8f0" d="M116.4 343.3l1.7 1.7.5-2-1.6-1.1z"/>
<path color="#01c6d7" d="M118.1 345l1.1 1 .5-2.3-1.1-.7z"/>
<path color="#01bacf" d="M119.2 346l.9.9.5-2.5-.9-.7z"/>
<path color="#01b8d0" d="M120.1 346.9l.8.8.5-2.6-.8-.7z"/>
<path color="#01bcd6" d="M120.9 347.7l.8.9.5-2.7-.8-.8z"/>
<path color="#02c7e3" d="M121.7 348.6l.8.8.5-2.6-.8-.9z"/>
<path color="#04daf7" d="M122.5 349.4l.8.9.5-2.5-.8-1z"/>
<path color="#09eeff" d="M123.3 350.3l.9 1.1.5-2.4-.9-1.2z"/>
<path color="#0ef9ff" d="M124.2 351.4l1.1 1.3.5-2.1-1.1-1.6z"/>
<path color="#09ffff" d="M125.3 352.7l1.8 2.2.5-1.5-1.8-2.8z"/>
<path color="#00fff7" d="M127.1 354.9l1.9 2.2.5-1-1.9-2.7z"/>
<path color="#00ffeb" d="M129 357.1l1.1 1.3.5-.6-1.1-1.7z"/>
<path color="#00ffe5" d="M130.1 358.4l1 1.1.5-.5-1-1.2z"/>
<path color="#00ffe1" d="M131.1 359.5l.8 1 .5-.4-.8-1.1z"/>
<path color="#00ffe0" d="M131.9 360.5l.9.9.5-.4-.9-.9z"/>
<path color="#00ffe0" d="M132.8 361.4l.8.9.5-.4-.8-.9z"/>
<path color="#00ffe1" d="M133.6 362.3l.9.9.5-.5-.9-.8z"/>
<path color="#00ffe5" d="M134.5 363.2l1 1 .4-.7-.9-.8z"/>
<path color="#00ffeb" d="M135.5 364.2l1.1 1.1.5-1-1.2-.8z"/>
<path color="#00fff7" d="M136.6 365.3l1.9 1.9.5-1.6-1.9-1.3z"/>
<path color="#01e9f0" d="M138.5 367.2l2 1.8.4-2.2-1.9-1.2z"/>
<path color="#01c7d7" d="M140.5 369l1.2 1.2.5-2.5-1.3-.9z"/>
<path color="#01bbd0" d="M141.7 370.2l1 1 .5-2.7-1-.8z"/>
<path color="#01b8d0" d="M142.7 371.2l.9 1 .5-2.8-.9-.9z"/>
<path color="#02bdd7" d="M143.6 372.2l.9.9.5-2.8-.9-.9z"/>
<path color="#03c8e4" d="M144.5 373.1l.9 1 .5-2.8-.9-1z"/>
<path color="#06dcf8" d="M145.4 374.1l1 1 .4-2.7-.9-1.1z"/>
<path color="#0bf0ff" d="M146.4 375.1l1 1.2.4-2.5-1-1.4z"/>
<path color="#12fdff" d="M147.4 376.3l1.3 1.5.4-2.3-1.3-1.7z"/>
<path color="#0bffff" d="M148.7 377.8l2 2.5.4-1.7-2-3.1z"/>
<path color="#00fff7" d="M150.7 380.3l2.1 2.4.4-1.1-2.1-3z"/>
<path color="#00ffeb" d="M152.8 382.7l1.3 1.5.4-.8-1.3-1.8z"/>
<path color="#00ffe5" d="M154.1 384.2l1 1.3.4-.7-1-1.4z"/>
<path color="#00ffe1" d="M155.1 385.5l1 1.1.4-.6-1-1.2z"/>
<path color="#00ffe0" d="M156.1 386.6l1 1 .4-.5-1-1.1z"/>
<path color="#00ffe0" d="M157.1 387.6l.9 1 .4-.5-.9-1z"/>
<path color="#00ffe1" d="M158 388.6l1 1.1.4-.7-1-.9z"/>
<path color="#00ffe5" d="M159 389.7l1.1 1.1.4-.9-1.1-.9z"/>
<path color="#00ffeb" d="M160.1 390.8l1.4 1.3.4-1.2-1.4-1z"/>
<path color="#00fff7" d="M161.5 392.1l2.2 2.1.4-1.8-2.2-1.5z"/>
<path color="#01e9f1" d="M163.7 394.2l2.2 2.2.4-2.5-2.2-1.5z"/>
<path color="#02c8d8" d="M165.9 396.4l1.4 1.4.4-2.8-1.4-1.1z"/>
<path color="#02bbd0" d="M167.3 397.8l1.2 1.1.4-2.9-1.2-1z"/>
<path color="#02b9d1" d="M168.5 398.9l1 1.1.4-3.1-1-.9z"/>
<path color="#03bed8" d="M169.5 400l1 1.1.5-3.1-1.1-1.1z"/>
<path color="#05c9e5" d="M170.5 401.1l1.1 1.1.4-3.1-1-1.1z"/>
<path color="#08defa" d="M171.6 402.2l1 1.2.5-3-1.1-1.3z"/>
<path color="#0ef3ff" d="M172.6 403.4l1.2 1.4.4-2.9-1.1-1.5z"/>
<path color="#16ffff" d="M173.8 404.8l1.5 1.6.3-2.5-1.4-2z"/>
<path color="#0fffff" d="M175.3 406.4l2.3 2.8.3-1.9-2.3-3.4z"/>
<path color="#00fff6" d="M177.6 409.2l2 2.4.5-.5.2-.4-2.4-3.4z"/>
<path color="#00fffa" d="M91 318.4l1.2 1.2.7-1.2-.6-.7z"/>
<path color="#00fffb" d="M92.2 319.6l1.4 1.6.8-1.3-1.5-1.5z"/>
<path color="#00fffd" d="M93.6 321.2l2.5 2.6.7-1.6-2.4-2.3z"/>
<path color="#01feff" d="M96.1 323.8l2.5 2.7.7-2-2.5-2.3z"/>
<path color="#02fdff" d="M98.6 326.5l1.5 1.6.7-2-1.5-1.6z"/>
<path color="#03fdff" d="M100.1 328.1l1.4 1.6.7-2.1-1.4-1.5z"/>
<path color="#03fdff" d="M101.5 329.7l1.5 1.7.7-2-1.5-1.8z"/>
<path color="#01ffff" d="M103 331.4l2.6 2.8.7-1.7-2.6-3.1z"/>
<path color="#00fffd" d="M105.6 334.2l2.7 2.8.7-1.4-2.7-3.1z"/>
<path color="#00fffb" d="M108.3 337l1.6 1.8.7-1.3-1.6-1.9z"/>
<path color="#00fffa" d="M109.9 338.8l1.5 1.6.7-1.3-1.5-1.6z"/>
<path color="#00fffb" d="M111.4 340.4l1.6 1.8.7-1.5-1.6-1.6z"/>
<path color="#00fffd" d="M113 342.2l2.8 2.9.6-1.8-2.7-2.6z"/>
<path color="#02ffff" d="M115.8 345.1l2.7 3.1.7-2.2-2.8-2.7z"/>
<path color="#03feff" d="M118.5 348.2l1.8 1.8.6-2.3-1.7-1.7z"/>
<path color="#04feff" d="M120.3 350l1.5 1.7.7-2.3-1.6-1.7z"/>
<path color="#04feff" d="M121.8 351.7l1.8 1.9.6-2.2-1.7-2z"/>
<path color="#02ffff" d="M123.6 353.6l2.9 3.2.6-1.9-2.9-3.5z"/>
<path color="#00fffd" d="M126.5 356.8l3 3.2.6-1.6-3-3.5z"/>
<path color="#00fffb" d="M129.5 360l1.8 2 .6-1.5-1.8-2.1z"/>
<path color="#00fffa" d="M131.3 362l1.7 1.8.6-1.5-1.7-1.8z"/>
<path color="#00fffb" d="M133 363.8l1.8 2 .7-1.6-1.9-1.9z"/>
<path color="#00fffd" d="M134.8 365.8l3.1 3.4.6-2-3-3z"/>
<path color="#02ffff" d="M137.9 369.2l3.2 3.4.6-2.4-3.2-3z"/>
<path color="#05ffff" d="M141.1 372.6l1.9 2.1.6-2.5-1.9-2z"/>
<path color="#05ffff" d="M143 374.7l1.8 2 .6-2.6-1.8-1.9z"/>
<path color="#05ffff" d="M144.8 376.7l2 2.1.6-2.5-2-2.2z"/>
<path color="#03ffff" d="M146.8 378.8l3.3 3.6.6-2.1-3.3-4z"/>
<path color="#01fffe" d="M150.1 382.4l3.4 3.7.6-1.9-3.4-3.9z"/>
<path color="#00fffb" d="M153.5 386.1l2.1 2.3.5-1.8-2-2.4z"/>
<path color="#00fffa" d="M155.6 388.4l1.9 2 .5-1.8-1.9-2z"/>
<path color="#00fffb" d="M157.5 390.4l2.1 2.3.5-1.9-2.1-2.2z"/>
<path color="#01fffe" d="M159.6 392.7l3.6 3.9.5-2.4-3.6-3.4z"/>
<path color="#04ffff" d="M163.2 396.6l3.6 3.9.5-2.7-3.6-3.6z"/>
<path color="#07ffff" d="M166.8 400.5l2.2 2.4.5-2.9-2.2-2.2z"/>
<path color="#08ffff" d="M169 402.9l2.1 2.2.5-2.9-2.1-2.2z"/>
<path color="#08ffff" d="M171.1 405.1l2.2 2.5.5-2.8-2.2-2.6z"/>
<path color="#05ffff" d="M173.3 407.6l3.9 4.1.4-2.5-3.8-4.4z"/>
<path color="#02ffff" d="M177.2 411.7l.8.9.6.2 1-1.2-2-2.4z"/>
<path color="#03fffa" d="M90.2 320.3l1.3 1.4.7-2.1-1.2-1.2-.4.5z"/>
<path color="#02fff9" d="M91.5 321.7l1.5 1.5.6-2-1.4-1.6z"/>
<path color="#01fffd" d="M93 323.2l2.4 2.1.7-1.5-2.5-2.6z"/>
<path color="#00fcff" d="M95.4 325.3l2.5 2.2.7-1-2.5-2.7z"/>
<path color="#00f7ff" d="M97.9 327.5l1.5 1.5.7-.9-1.5-1.6z"/>
<path color="#00f6ff" d="M99.4 329l1.4 1.6.7-.9-1.4-1.6z"/>
<path color="#00f7ff" d="M100.8 330.6l1.5 1.8.7-1-1.5-1.7z"/>
<path color="#00fcff" d="M102.3 332.4l2.7 3.4.6-1.6-2.6-2.8z"/>
<path color="#03fffe" d="M105 335.8l2.6 3.4.7-2.2-2.7-2.8z"/>
<path color="#05fffc" d="M107.6 339.2l1.7 1.9.6-2.3-1.6-1.8z"/>
<path color="#04fffa" d="M109.3 341.1l1.4 1.6.7-2.3-1.5-1.6z"/>
<path color="#03fffb" d="M110.7 342.7l1.7 1.7.6-2.2-1.6-1.8z"/>
<path color="#02fffd" d="M112.4 344.4l2.7 2.4.7-1.7-2.8-2.9z"/>
<path color="#00fcff" d="M115.1 346.8l2.8 2.6.6-1.2-2.7-3.1z"/>
<path color="#00f7ff" d="M117.9 349.4l1.7 1.7.7-1.1-1.8-1.8z"/>
<path color="#00f6ff" d="M119.6 351.1l1.6 1.7.6-1.1-1.5-1.7z"/>
<path color="#00f7ff" d="M121.2 352.8l1.8 2.1.6-1.3-1.8-1.9z"/>
<path color="#00fcff" d="M123 354.9l2.9 3.7.6-1.8-2.9-3.2z"/>
<path color="#04ffff" d="M125.9 358.6l3 3.8.6-2.4-3-3.2z"/>
<path color="#06fffe" d="M128.9 362.4l1.8 2.1.6-2.5-1.8-2z"/>
<path color="#06fffc" d="M130.7 364.5l1.7 1.9.6-2.6-1.7-1.8z"/>
<path color="#05fffc" d="M132.4 366.4l1.9 1.9.5-2.5-1.8-2z"/>
<path color="#03fffe" d="M134.3 368.3l3.1 2.8.5-1.9-3.1-3.4z"/>
<path color="#00fcff" d="M137.4 371.1l3.1 3 .6-1.5-3.2-3.4z"/>
<path color="#00f7ff" d="M140.5 374.1l2 1.9.5-1.3-1.9-2.1z"/>
<path color="#00f6ff" d="M142.5 376l1.8 2 .5-1.3-1.8-2z"/>
<path color="#00f7ff" d="M144.3 378l2 2.3.5-1.5-2-2.1z"/>
<path color="#00fcff" d="M146.3 380.3l3.3 4.2.5-2.1-3.3-3.6z"/>
<path color="#06ffff" d="M149.6 384.5l3.4 4.2.5-2.6-3.4-3.7z"/>
<path color="#09ffff" d="M153 388.7l2.1 2.5.5-2.8-2.1-2.3z"/>
<path color="#08fffe" d="M155.1 391.2l1.9 2.1.5-2.9-1.9-2z"/>
<path color="#07fffe" d="M157 393.3l2.1 2.1.5-2.7-2.1-2.3z"/>
<path color="#04ffff" d="M159.1 395.4l3.6 3.4.5-2.2-3.6-3.9z"/>
<path color="#00fcff" d="M162.7 398.8l3.7 3.4.4-1.7-3.6-3.9z"/>
<path color="#00f7ff" d="M166.4 402.2l2.2 2.3.4-1.6-2.2-2.4z"/>
<path color="#00f6ff" d="M168.6 404.5l2.1 2.2.4-1.6-2.1-2.2z"/>
<path color="#00f7ff" d="M170.7 406.7l2.2 2.7.4-1.8-2.2-2.5z"/>
<path color="#01fbff" d="M172.9 409.4l1.2 1.4 2.9 1.5.2-.6-3.9-4.1z"/>
<path color="#03ffff" d="M178 412.6l-.8-.9-.2.6z"/>
<path color="#02e7c4" d="M89.1 321.9l.6.8.5-2.4-.2-.3z"/>
<path color="#01d6b4" d="M89.7 322.7l.7.8.5-2.5-.7-.7z"/>
<path color="#00c7a7" d="M90.4 323.5l.7.6.4-2.4-.6-.7z"/>
<path color="#00d9ff" d="M98 328.4l.7.7.7-.1-.8-.7z"/>
<path color="#00d6ff" d="M98.7 329.1l.7.7.7 0-.7-.8z"/>
<path color="#00d6ff" d="M99.4 329.8l.8.8.6 0-.7-.8z"/>
<path color="#00d9ff" d="M100.2 330.6l.7 1 .6-.2-.7-.8z"/>
<path color="#0df" d="M100.9 331.6l.8 1.2.6-.4-.8-1z"/>
<path color="#00e6ff" d="M101.7 332.8l1.1 1.6.5-.7-1-1.3z"/>
<path color="#00f5ff" d="M102.8 334.4l1.6 2.7.6-1.3-1.7-2.1z"/>
<path color="#0affff" d="M104.4 337.1l1.7 2.7.5-1.9-1.6-2.1z"/>
<path color="#10fff5" d="M106.1 339.8l1 1.6.5-2.2-1-1.3z"/>
<path color="#08ffe5" d="M107.1 341.4l.9 1.3.5-2.5-.9-1z"/>
<path color="#03edca" d="M108 342.7l.8 1 .5-2.6-.8-.9z"/>
<path color="#01d6b4" d="M108.8 343.7l.7.9.5-2.7-.7-.8z"/>
<path color="#01c7a8" d="M109.5 344.6l.8.7.4-2.6-.7-.8z"/>
<path color="#00bfa2" d="M110.3 345.3l.8.7.4-2.5-.8-.8z"/>
<path color="#00bca3" d="M111.1 346l.8.7.5-2.3-.9-.9z"/>
<path color="#00c2af" d="M111.9 346.7l1 .6.5-2-1-.9z"/>
<path color="#00d9ff" d="M118.2 350.5l.8.7.6-.1-.8-.8z"/>
<path color="#00d6ff" d="M119 351.2l.8.9.6-.2-.8-.8z"/>
<path color="#00d6ff" d="M119.8 352.1l.8.9.6-.2-.8-.9z"/>
<path color="#00d9ff" d="M120.6 353l.9 1.1.5-.3-.8-1z"/>
<path color="#0df" d="M121.5 354.1l.9 1.3.6-.5-1-1.1z"/>
<path color="#00e6ff" d="M122.4 355.4l1.2 1.7.5-.8-1.1-1.4z"/>
<path color="#00f5ff" d="M123.6 357.1l1.8 3 .5-1.5-1.8-2.3z"/>
<path color="#0dffff" d="M125.4 360.1l1.9 3 .4-2.1-1.8-2.4z"/>
<path color="#13fff8" d="M127.3 363.1l1.1 1.8.5-2.5-1.2-1.4z"/>
<path color="#0affe7" d="M128.4 364.9l1 1.3.4-2.7-.9-1.1z"/>
<path color="#04eecb" d="M129.4 366.2l.9 1.2.4-2.9-.9-1z"/>
<path color="#02d7b5" d="M130.3 367.4l.8.9.5-2.8-.9-1z"/>
<path color="#01c7a8" d="M131.1 368.3l.8.9.5-2.8-.8-.9z"/>
<path color="#01bfa2" d="M131.9 369.2l.9.8.5-2.7-.9-.9z"/>
<path color="#00bca3" d="M132.8 370l1 .8.5-2.5-1-1z"/>
<path color="#00c2af" d="M133.8 370.8l1.2.8.4-2.2-1.1-1.1z"/>
<path color="#00dbd2" d="M135 371.6l1.9 1.1.5-1.6-2-1.7z"/>
<path color="#00d6ff" d="M142 376.3l.9 1 .5-.3-.9-1z"/>
<path color="#00d6ff" d="M142.9 377.3l.9 1 .5-.3-.9-1z"/>
<path color="#00d9ff" d="M143.8 378.3l1 1.2.4-.4-.9-1.1z"/>
<path color="#0df" d="M144.8 379.5l1 1.5.5-.7-1.1-1.2z"/>
<path color="#00e6ff" d="M145.8 381l1.3 1.9.5-1-1.3-1.6z"/>
<path color="#00f5ff" d="M147.1 382.9l2.1 3.3.4-1.7-2-2.6z"/>
<path color="#10ffff" d="M149.2 386.2l2.1 3.3.4-2.4-2.1-2.6z"/>
<path color="#17fffd" d="M151.3 389.5l1.3 2 .4-2.8-1.3-1.6z"/>
<path color="#0cffea" d="M152.6 391.5l1 1.5.5-3-1.1-1.3z"/>
<path color="#06efcc" d="M153.6 393l1 1.2.5-3-1-1.2z"/>
<path color="#03d7b5" d="M154.6 394.2l1 1.1.4-3.1-.9-1z"/>
<path color="#01c8a8" d="M155.6 395.3l1 1.1.4-3.1-1-1.1z"/>
<path color="#01bfa2" d="M156.6 396.4l1 .9.4-3-1-1z"/>
<path color="#01bca4" d="M157.6 397.3l1.1.9.4-2.8-1.1-1.1z"/>
<path color="#01c2af" d="M158.7 398.2l1.4 1 .4-2.5-1.4-1.3z"/>
<path color="#01dbd3" d="M160.1 399.2l2.2 1.4.4-1.8-2.2-2.1z"/>
<path color="#00f5ff" d="M162.3 400.6l2.3 1.4.3-1.1-2.2-2.1z"/>
<path color="#00e6ff" d="M164.6 402l1.4 1 .4-.8-1.5-1.3z"/>
<path color="#0df" d="M166 403l1.2 1 .3-.6-1.1-1.2z"/>
<path color="#00d9ff" d="M167.2 404l1.1 1 .3-.5-1.1-1.1z"/>
<path color="#00d6ff" d="M168.3 405l1 1.1.3-.5-1-1.1z"/>
<path color="#00d6ff" d="M169.3 406.1l1 1.1.4-.5-1.1-1.1z"/>
<path color="#00d6ff" d="M170.3 407.2l.7.9.5.4.2-.6-1-1.2z"/>
<path color="#00e4ff" d="M172.8 409.8l.1-.4-1.2-1.5-.2.6z"/>
<path color="#00edff" d="M174.1 410.8l-1.2-1.4-.1.4z"/>
<path color="#04f7a2" d="M88.4 323.9l.2.4.3-1.9z"/>
<path color="#02dc98" d="M88.6 324.3l.7 1 .4-2.6-.6-.8-.2.5z"/>
<path color="#00b577" d="M89.3 325.3l.7.9.4-2.7-.7-.8z"/>
<path color="#00a9fa" d="M99.5 330.2l.8 1.1.6.3-.7-1z"/>
<path color="#00b7ff" d="M100.3 331.3l.9 1.4.5.1-.8-1.2z"/>
<path color="#00c8ff" d="M101.2 332.7l1 2 .6-.3-1.1-1.6z"/>
<path color="#00e9ff" d="M102.2 334.7l1.7 3.6.5-1.2-1.6-2.7z"/>
<path color="#14fffd" d="M103.9 338.3l1.8 3.6.4-2.1-1.7-2.7z"/>
<path color="#23ffeb" d="M105.7 341.9l1 2 .4-2.5-1-1.6z"/>
<path color="#0affc1" d="M106.7 343.9l.9 1.5.4-2.7-.9-1.3z"/>
<path color="#02d893" d="M107.6 345.4l.8 1.1.4-2.8-.8-1z"/>
<path color="#00b577" d="M108.4 346.5l.7 1 .4-2.9-.7-.9z"/>
<path color="#009c67" d="M109.1 347.5l.8.7.4-2.9-.8-.7z"/>
<path color="#009061" d="M109.9 348.2l.7.6.5-2.8-.8-.7z"/>
<path color="#008c65" d="M110.6 348.8l.9.4.4-2.5-.8-.7z"/>
<path color="#00a9fa" d="M120.1 352.6l.9 1.3.5.2-.9-1.1z"/>
<path color="#00b7ff" d="M121 353.9l.9 1.6.5-.1-.9-1.3z"/>
<path color="#00c8ff" d="M121.9 355.5l1.2 2.1.5-.5-1.2-1.7z"/>
<path color="#00e9ff" d="M123.1 357.6l1.8 3.9.5-1.4-1.8-3z"/>
<path color="#16ffff" d="M124.9 361.5l1.9 3.8.5-2.2-1.9-3z"/>
<path color="#26ffef" d="M126.8 365.3l1.2 2.2.4-2.6-1.1-1.8z"/>
<path color="#0bffc2" d="M128 367.5l1 1.6.4-2.9-1-1.3z"/>
<path color="#02d993" d="M129 369.1l.8 1.3.5-3-.9-1.2z"/>
<path color="#00b577" d="M129.8 370.4l.9 1 .4-3.1-.8-.9z"/>
<path color="#009d67" d="M130.7 371.4l.8.9.4-3.1-.8-.9z"/>
<path color="#009061" d="M131.5 372.3l.9.7.4-3-.9-.8z"/>
<path color="#008c65" d="M132.4 373l1 .5.4-2.7-1-.8z"/>
<path color="#008f70" d="M133.4 373.5l1.2.4.4-2.3-1.2-.8z"/>
<path color="#00a193" d="M134.6 373.9l1.9.3.4-1.5-1.9-1.1z"/>
<path color="#00a9fa" d="M143.4 378.1l1 1.4.4 0-1-1.2z"/>
<path color="#00b7ff" d="M144.4 379.5l1 1.7.4-.2-1-1.5z"/>
<path color="#00c8ff" d="M145.4 381.2l1.3 2.4.4-.7-1.3-1.9z"/>
<path color="#00e9ff" d="M146.7 383.6l2.1 4.1.4-1.5-2.1-3.3z"/>
<path color="#17ffff" d="M148.8 387.7l2.1 4.2.4-2.4-2.1-3.3z"/>
<path color="#2afff2" d="M150.9 391.9l1.3 2.4.4-2.8-1.3-2z"/>
<path color="#0dffc4" d="M152.2 394.3l1 1.8.4-3.1-1-1.5z"/>
<path color="#03d994" d="M153.2 396.1l1 1.4.4-3.3-1-1.2z"/>
<path color="#00b577" d="M154.2 397.5l1 1.2.4-3.4-1-1.1z"/>
<path color="#009d67" d="M155.2 398.7l1 1 .4-3.3-1-1.1z"/>
<path color="#009061" d="M156.2 399.7l1 .8.4-3.2-1-.9z"/>
<path color="#008c65" d="M157.2 400.5l1.1.6.4-2.9-1.1-.9z"/>
<path color="#008f70" d="M158.3 401.1l1.4.6.4-2.5-1.4-1z"/>
<path color="#00a193" d="M159.7 401.7l2.3.6.3-1.7-2.2-1.4z"/>
<path color="#00bbcd" d="M162 402.3l2.3.5.3-.8-2.3-1.4z"/>
<path color="#00abda" d="M164.3 402.8l1.4.6.3-.4-1.4-1z"/>
<path color="#00a1e1" d="M165.7 403.4l1.2.7.3-.1-1.2-1z"/>
<path color="#009ae4" d="M166.9 404.1l1.1.8.3.1-1.1-1z"/>
<path color="#0097e7" d="M168 404.9l.2.2.9.9.2.1-1-1.1z"/>
<path color="#00aff5" d="M170.3 407.3l0-.1-1-1.1-.2-.1z"/>
<path color="#00bfff" d="M171 408.1l-.7-.9 0 .1z"/>
<path color="#08ff8b" d="M87.7 325.9l.5 1.1.4-2.7-.2-.4z"/>
<path color="#01d564" d="M88.2 327l.8 1.2.3-2.9-.7-1z"/>
<path color="#006eed" d="M98.9 329.4l.8 1.3.6.6-.8-1.1z"/>
<path color="#0086fc" d="M99.7 330.7l.9 1.7.6.3-.9-1.4z"/>
<path color="#00a5ff" d="M100.6 332.4l1.1 2.5.5-.2-1-2z"/>
<path color="#00dbff" d="M101.7 334.9l1.7 4.6.5-1.2-1.7-3.6z"/>
<path color="#0dffe8" d="M103.4 339.5l1.8 4.5.5-2.1-1.8-3.6z"/>
<path color="#37ffdc" d="M105.2 344l1.1 2.5.4-2.6-1-2z"/>
<path color="#0eff96" d="M106.3 346.5l.9 1.8.4-2.9-.9-1.5z"/>
<path color="#01d564" d="M107.2 348.3l.8 1.3.4-3.1-.8-1.1z"/>
<path color="#00a548" d="M108 349.6l.8 1 .3-3.1-.7-1z"/>
<path color="#00853a" d="M108.8 350.6l.7.7.4-3.1-.8-.7z"/>
<path color="#007939" d="M109.5 351.3l.8.4.3-2.9-.7-.6z"/>
<path color="#006eed" d="M119.6 352l.9 1.4.5.5-.9-1.3z"/>
<path color="#0086fc" d="M120.5 353.4l.9 1.9.5.2-.9-1.6z"/>
<path color="#00a5ff" d="M121.4 355.3l1.2 2.6.5-.3-1.2-2.1z"/>
<path color="#00dbff" d="M122.6 357.9l1.9 4.9.4-1.3-1.8-3.9z"/>
<path color="#0dffe7" d="M124.5 362.8l1.9 4.8.4-2.3-1.9-3.8z"/>
<path color="#39ffde" d="M126.4 367.6l1.2 2.7.4-2.8-1.2-2.2z"/>
<path color="#0fff97" d="M127.6 370.3l1 2 .4-3.2-1-1.6z"/>
<path color="#02d665" d="M128.6 372.3l.9 1.4.3-3.3-.8-1.3z"/>
<path color="#00a548" d="M129.5 373.7l.8 1.1.4-3.4-.9-1z"/>
<path color="#00853a" d="M130.3 374.8l.8.8.4-3.3-.8-.9z"/>
<path color="#007939" d="M131.1 375.6l.9.5.4-3.1-.9-.7z"/>
<path color="#00743e" d="M132 376.1l1 .3.4-2.9-1-.5z"/>
<path color="#00744b" d="M133 376.4l1.2-.1.4-2.4-1.2-.4z"/>
<path color="#076" d="M134.2 376.3l1.9-.7.4-1.4-1.9-.3z"/>
<path color="#0086fc" d="M144 379.1l1.1 2.1.3 0-1-1.7z"/>
<path color="#00a5ff" d="M145.1 381.2l1.2 2.8.4-.4-1.3-2.4z"/>
<path color="#00dbff" d="M146.3 384l2.1 5.2.4-1.5-2.1-4.1z"/>
<path color="#0cffe7" d="M148.4 389.2l2.1 5.3.4-2.6-2.1-4.2z"/>
<path color="#3affdf" d="M150.5 394.5l1.3 2.9.4-3.1-1.3-2.4z"/>
<path color="#10ff98" d="M151.8 397.4l1 2.1.4-3.4-1-1.8z"/>
<path color="#02d665" d="M152.8 399.5l1 1.6.4-3.6-1-1.4z"/>
<path color="#00a548" d="M153.8 401.1l1 1.2.4-3.6-1-1.2z"/>
<path color="#00853a" d="M154.8 402.3l1 .9.4-3.5-1-1z"/>
<path color="#007939" d="M155.8 403.2l1 .7.4-3.4-1-.8z"/>
<path color="#00743e" d="M156.8 403.9l1.1.3.4-3.1-1.1-.6z"/>
<path color="#00744b" d="M157.9 404.2l1.4.1.4-2.6-1.4-.6z"/>
<path color="#076" d="M159.3 404.3l2.3-.4.4-1.6-2.3-.6z"/>
<path color="#00869c" d="M161.6 403.9l2.3-.5.4-.6-2.3-.5z"/>
<path color="#007abd" d="M163.9 403.4l1.5.1.3-.1-1.4-.6z"/>
<path color="#0067be" d="M165.4 403.5l.1 0 1.3.5.1.1-1.2-.7z"/>
<path color="#17ff69" d="M87 328l.9 2 .3-3-.5-1.1-.5 1.2z"/>
<path color="#02df34" d="M87.9 330l.7 1.4.4-3.2-.8-1.2z"/>
<path color="#004ff7" d="M99.1 329.9l.9 2 .6.5-.9-1.7z"/>
<path color="#007cff" d="M100 331.9l1.1 3.1.6-.1-1.1-2.5z"/>
<path color="#00caff" d="M101.1 335l1.9 5.6.4-1.1-1.7-4.6z"/>
<path color="#03ffce" d="M103 340.6l1.8 5.7.4-2.3-1.8-4.5z"/>
<path color="#43ffbf" d="M104.8 346.3l1.1 3 .4-2.8-1.1-2.5z"/>
<path color="#15ff68" d="M105.9 349.3l.9 2.1.4-3.1-.9-1.8z"/>
<path color="#02df34" d="M106.8 351.4l.8 1.6.4-3.4-.8-1.3z"/>
<path color="#009f1d" d="M107.6 353l.8 1 .4-3.4-.8-1z"/>
<path color="#007a16" d="M108.4 354l.7.6.4-3.3-.7-.7z"/>
<path color="#00721a" d="M109.1 354.6l.8.3.4-3.2-.8-.4z"/>
<path color="#004ff7" d="M119.9 352.6l1 2.3.5.4-.9-1.9z"/>
<path color="#007cff" d="M120.9 354.9l1.2 3.2.5-.2-1.2-2.6z"/>
<path color="#00caff" d="M122.1 358.1l2 6 .4-1.3-1.9-4.9z"/>
<path color="#03ffcd" d="M124.1 364.1l1.9 6 .4-2.5-1.9-4.8z"/>
<path color="#43ffbf" d="M126 370.1l1.2 3.2.4-3-1.2-2.7z"/>
<path color="#15ff68" d="M127.2 373.3l1 2.3.4-3.3-1-2z"/>
<path color="#02df34" d="M128.2 375.6l.9 1.7.4-3.6-.9-1.4z"/>
<path color="#009f1d" d="M129.1 377.3l.8 1.1.4-3.6-.8-1.1z"/>
<path color="#007a16" d="M129.9 378.4l.9.8.3-3.6-.8-.8z"/>
<path color="#00721a" d="M130.8 379.2l.8.3.4-3.4-.9-.5z"/>
<path color="#006f24" d="M131.6 379.5l1-.1.4-3-1-.3z"/>
<path color="#006d35" d="M132.6 379.4l1.2-.6.4-2.5-1.2.1z"/>
<path color="#006d56" d="M133.8 378.8l1.8-1.8.5-1.4-1.9.7z"/>
<path color="#003b79" d="M137.6 375.2l1.2-.7.4.3-1.2.1z"/>
<path color="#004ff7" d="M143.6 378.5l1.1 2.4.4.3-1.1-2.1z"/>
<path color="#007cff" d="M144.7 380.9l1.2 3.5.4-.4-1.2-2.8z"/>
<path color="#00caff" d="M145.9 384.4l2.1 6.4.4-1.6-2.1-5.2z"/>
<path color="#02ffcc" d="M148 390.8l2.1 6.3.4-2.6-2.1-5.3z"/>
<path color="#42ffbe" d="M150.1 397.1l1.3 3.5.4-3.2-1.3-2.9z"/>
<path color="#15ff67" d="M151.4 400.6l1 2.5.4-3.6-1-2.1z"/>
<path color="#02df34" d="M152.4 403.1l1 1.8.4-3.8-1-1.6z"/>
<path color="#009f1d" d="M153.4 404.9l1 1.3.4-3.9-1-1.2z"/>
<path color="#007a16" d="M154.4 406.2l.9.8.5-3.8-1-.9z"/>
<path color="#00721a" d="M155.3 407l1.1.5.4-3.6-1-.7z"/>
<path color="#006f24" d="M156.4 407.5l1.1.1.4-3.4-1.1-.3z"/>
<path color="#006d35" d="M157.5 407.6l1.4-.5.4-2.8-1.4-.1z"/>
<path color="#006d56" d="M158.9 407.1l2.3-1.6.4-1.6-2.3.4z"/>
<path color="#005971" d="M161.2 405.5l1.4-1 1.2-.8.1-.3-2.3.5z"/>
<path color="#005ca8" d="M165.4 403.5l0 0-1.5-.1-.1.3z"/>
<path color="#41ff77" d="M86.1 329.3l.5 1.6.4-2.9-.1-.3z"/>
<path color="#21ff37" d="M86.6 330.9l.9 2.3.4-3.2-.9-2z"/>
<path color="#0a00e6" d="M97.6 327.2l.8 1.7.7 1-.8-1.5z"/>
<path color="#0015f5" d="M98.4 328.9l.9 2.4.7.6-.9-2z"/>
<path color="#004eff" d="M99.3 331.3l1.2 3.7.6 0-1.1-3.1z"/>
<path color="#00b8ff" d="M100.5 335l1.9 6.9.6-1.3-1.9-5.6z"/>
<path color="#00ffb8" d="M102.4 341.9l2 6.8.4-2.4-1.8-5.7z"/>
<path color="#35ff84" d="M104.4 348.7l1.1 3.7.4-3.1-1.1-3z"/>
<path color="#21ff37" d="M105.5 352.4l1 2.5.3-3.5-.9-2.1z"/>
<path color="#0ef504" d="M106.5 354.9l.8 1.7.3-3.6-.8-1.6z"/>
<path color="#11a000" d="M107.3 356.6l.7 1.1.4-3.7-.8-1z"/>
<path color="#0c7300" d="M108 357.7l.8.6.3-3.7-.7-.6z"/>
<path color="#0015f5" d="M119.4 351.7l1 2.7.5.5-1-2.3z"/>
<path color="#004eff" d="M120.4 354.4l1.2 3.9.5-.2-1.2-3.2z"/>
<path color="#00b8ff" d="M121.6 358.3l2 7.2.5-1.4-2-6z"/>
<path color="#00ffb8" d="M123.6 365.5l2 7.3.4-2.7-1.9-6z"/>
<path color="#32ff81" d="M125.6 372.8l1.2 3.8.4-3.3-1.2-3.2z"/>
<path color="#20ff36" d="M126.8 376.6l1 2.7.4-3.7-1-2.3z"/>
<path color="#0ef504" d="M127.8 379.3l.9 1.8.4-3.8-.9-1.7z"/>
<path color="#11a000" d="M128.7 381.1l.8 1.2.4-3.9-.8-1.1z"/>
<path color="#0c7300" d="M129.5 382.3l.9.7.4-3.8-.9-.8z"/>
<path color="#056e00" d="M130.4 383l.8.2.4-3.7-.8-.3z"/>
<path color="#006b09" d="M131.2 383.2l1-.4.4-3.4-1 .1z"/>
<path color="#006820" d="M132.2 382.8l1.1-1.3.5-2.7-1.2.6z"/>
<path color="#002d92" d="M137.1 375.4l1.2-1.3.5.4-1.2.7z"/>
<path color="#0015f5" d="M143.2 377.7l1 2.8.5.4-1.1-2.4z"/>
<path color="#004eff" d="M144.2 380.5l1.3 4.2.4-.3-1.2-3.5z"/>
<path color="#00b8ff" d="M145.5 384.7l2.1 7.7.4-1.6-2.1-6.4z"/>
<path color="#00ffb8" d="M147.6 392.4l2.1 7.6.4-2.9-2.1-6.3z"/>
<path color="#2fff7e" d="M149.7 400l1.2 4.1.5-3.5-1.3-3.5z"/>
<path color="#1fff35" d="M150.9 404.1l1.1 2.9.4-3.9-1-2.5z"/>
<path color="#0ef504" d="M152 407l1 2 .4-4.1-1-1.8z"/>
<path color="#11a000" d="M153 409l1 1.3.4-4.1-1-1.3z"/>
<path color="#0c7300" d="M154 410.3l.9.9.4-4.2-.9-.8z"/>
<path color="#056e00" d="M154.9 411.2l1 .3.5-4-1.1-.5z"/>
<path color="#006b09" d="M155.9 411.5l1.2-.4.4-3.5-1.1-.1z"/>
<path color="#006820" d="M157.1 411.1l1.4-1.1.4-2.9-1.4.5z"/>
<path color="#006649" d="M158.5 410l1.1-1.2 1.5-2.4.1-.9-2.3 1.6z"/>
<path color="#005f69" d="M162.6 404.5l-1.4 1-.1.9z"/>
<path color="#25ff34" d="M85.3 330.5l.9 3.3.4-2.9-.5-1.6z"/>
<path color="#5fff35" d="M86.2 333.8l.9 2.7.4-3.3-.9-2.3z"/>
<path color="#4d00e8" d="M96.9 325.9l.8 1.9.7 1.1-.8-1.7z"/>
<path color="#2900f7" d="M97.7 327.8l1 2.9.6.6-.9-2.4z"/>
<path color="#001eff" d="M98.7 330.7l1.2 4.3.6 0-1.2-3.7z"/>
<path color="#00a4ff" d="M99.9 335l2 8.2.5-1.3-1.9-6.9z"/>
<path color="#00ffa4" d="M101.9 343.2l2 8.1.5-2.6-2-6.8z"/>
<path color="#16ff34" d="M103.9 351.3l1.2 4.2.4-3.1-1.1-3.7z"/>
<path color="#5fff35" d="M105.1 355.5l1 2.9.4-3.5-1-2.5z"/>
<path color="#5dff08" d="M106.1 358.4l.8 1.9.4-3.7-.8-1.7z"/>
<path color="#45a800" d="M106.9 360.3l.7 1.2.4-3.8-.7-1.1z"/>
<path color="#2900f7" d="M118.8 350.8l1 3 .6.6-1-2.7z"/>
<path color="#001eff" d="M119.8 353.8l1.2 4.6.6-.1-1.2-3.9z"/>
<path color="#00a4ff" d="M121 358.4l2.1 8.6.5-1.5-2-7.2z"/>
<path color="#00ffa4" d="M123.1 367l2 8.5.5-2.7-2-7.3z"/>
<path color="#13ff31" d="M125.1 375.5l1.3 4.5.4-3.4-1.2-3.8z"/>
<path color="#5fff35" d="M126.4 380l1 3 .4-3.7-1-2.7z"/>
<path color="#5cff08" d="M127.4 383l.9 2 .4-3.9-.9-1.8z"/>
<path color="#45a800" d="M128.3 385l.8 1.4.4-4.1-.8-1.2z"/>
<path color="#2f7300" d="M129.1 386.4l.9.6.4-4-.9-.7z"/>
<path color="#246c00" d="M130 387l.8 0 .4-3.8-.8-.2z"/>
<path color="#116800" d="M130.8 387l1-.8.4-3.4-1 .4z"/>
<path color="#00640c" d="M131.8 386.2l1.1-1.9.4-2.8-1.1 1.3z"/>
<path color="#007dc2" d="M134.7 380.1l1.9-4.4.5-.3-1.9 3.1z"/>
<path color="#0014a8" d="M136.6 375.7l1.3-2 .4.4-1.2 1.3z"/>
<path color="#160084" d="M137.9 373.7l1-1 .5.9-1.1.5z"/>
<path color="#2900f7" d="M142.7 376.9l1.1 3.3.4.3-1-2.8z"/>
<path color="#001eff" d="M143.8 380.2l1.3 4.8.4-.3-1.3-4.2z"/>
<path color="#00a4ff" d="M145.1 385l2.1 9 .4-1.6-2.1-7.7z"/>
<path color="#00ffa4" d="M147.2 394l2 9 .5-3-2.1-7.6z"/>
<path color="#10ff2e" d="M149.2 403l1.3 4.7.4-3.6-1.2-4.1z"/>
<path color="#5eff34" d="M150.5 407.7l1.1 3.2.4-3.9-1.1-2.9z"/>
<path color="#5cff08" d="M151.6 410.9l1 2.3.4-4.2-1-2z"/>
<path color="#45a800" d="M152.6 413.2l.9 1.4.5-4.3-1-1.3z"/>
<path color="#2f7300" d="M153.5 414.6l1 .8.4-4.2-.9-.9z"/>
<path color="#246c00" d="M154.5 415.4l1 .1.4-4-1-.3z"/>
<path color="#126700" d="M155.5 415.5l1.1-.6.1-.2.4-3.6-1.2.4z"/>
<path color="#00650e" d="M158.3 411.3l.2-1.3-1.4 1.1-.4 3.6z"/>
<path color="#00642d" d="M159.6 408.8l-1.1 1.2-.2 1.3z"/>
<path color="#0eff05" d="M84.7 332l1.2 4.6.3-2.8-.9-3.3-.4.3z"/>
<path color="#a5ff3d" d="M85.9 336.6l.9 3 .3-3.1-.9-2.7z"/>
<path color="#9100ee" d="M96.2 324.8l.9 2.1.6.9-.8-1.9z"/>
<path color="#6700fa" d="M97.1 326.9l.9 3.2.7.6-1-2.9z"/>
<path color="#10f" d="M98 330.1l1.3 5 .6-.1-1.2-4.3z"/>
<path color="#0091ff" d="M99.3 335.1l2.1 9.3.5-1.2-2-8.2z"/>
<path color="#00ff91" d="M101.4 344.4l2.1 9.2.4-2.3-2-8.1z"/>
<path color="#16ff05" d="M103.5 353.6l1.2 4.9.4-3-1.2-4.2z"/>
<path color="#a3ff3b" d="M104.7 358.5l1 3.1.4-3.2-1-2.9z"/>
<path color="#adff11" d="M105.7 361.6l.8 2.1.4-3.4-.8-1.9z"/>
<path color="#81b800" d="M106.5 363.7l.8 1.3.3-3.5-.7-1.2z"/>
<path color="#9100ee" d="M117.3 347.7l.9 2.2.6.9-.9-2.1z"/>
<path color="#6700fa" d="M118.2 349.9l1 3.5.6.4-1-3z"/>
<path color="#10f" d="M119.2 353.4l1.3 5.2.5-.2-1.2-4.6z"/>
<path color="#0091ff" d="M120.5 358.6l2.1 9.8.5-1.4-2.1-8.6z"/>
<path color="#00ff91" d="M122.6 368.4l2.1 9.6.4-2.5-2-8.5z"/>
<path color="#15ff04" d="M124.7 378l1.3 5.1.4-3.1-1.3-4.5z"/>
<path color="#a1ff39" d="M126 383.1l1 3.4.4-3.5-1-3z"/>
<path color="#acff11" d="M127 386.5l.9 2.2.4-3.7-.9-2z"/>
<path color="#81b800" d="M127.9 388.7l.8 1.4.4-3.7-.8-1.4z"/>
<path color="#517200" d="M128.7 390.1l.9.6.4-3.7-.9-.6z"/>
<path color="#416b00" d="M129.6 390.7l.8-.2.4-3.5-.8 0z"/>
<path color="#2a6500" d="M130.4 390.5l.9-1.1.5-3.2-1 .8z"/>
<path color="#076100" d="M131.3 389.4l1.2-2.4.4-2.7-1.1 1.9z"/>
<path color="#0075ce" d="M134.3 381.6l1.9-5.6.4-.3-1.9 4.4z"/>
<path color="#0d00c0" d="M136.2 376l1.2-2.7.5.4-1.3 2z"/>
<path color="#3e0097" d="M137.4 373.3l1-1.3.5.7-1 1z"/>
<path color="#6700fa" d="M142.3 376.2l1.1 3.6.4.4-1.1-3.3z"/>
<path color="#10f" d="M143.4 379.8l1.3 5.5.4-.3-1.3-4.8z"/>
<path color="#0091ff" d="M144.7 385.3l2.1 10.3.4-1.6-2.1-9z"/>
<path color="#00ff91" d="M146.8 395.6l2 10.2.4-2.8-2-9z"/>
<path color="#14ff03" d="M148.8 405.8l1.3 5.3.4-3.4-1.3-4.7z"/>
<path color="#9eff35" d="M150.1 411.1l1.1 3.6.4-3.8-1.1-3.2z"/>
<path color="#abff10" d="M151.2 414.7l.9 2.4.5-3.9-1-2.3z"/>
<path color="#81b800" d="M152.1 417.1l1 1.5.4-4-.9-1.4z"/>
<path color="#537200" d="M153.1 418.6l.7.6.3-.3.4-3.5-1-.8z"/>
<path color="#3c6b00" d="M155.3 417.2l.2-1.7-1-.1-.4 3.5z"/>
<path color="#276700" d="M156.6 414.9l-1.1.6-.2 1.7z"/>
<path color="#00ff1f" d="M83.5 331l.7 3.1.5-2.1-.3-1z"/>
<path color="#3dff01" d="M84.2 334.1l1.3 5.1.4-2.6-1.2-4.6z"/>
<path color="#c6ff25" d="M85.5 339.2l.9 3.3.4-2.9-.9-3z"/>
<path color="#d400f5" d="M95.5 323.8l.9 2.3.7.8-.9-2.1z"/>
<path color="#a200ff" d="M96.4 326.1l1 3.6.6.4-.9-3.2z"/>
<path color="#3d00ff" d="M97.4 329.7l1.3 5.5.6-.1-1.3-5z"/>
<path color="#0080ff" d="M98.7 335.2l2.2 10.5.5-1.3-2.1-9.3z"/>
<path color="#00ff80" d="M100.9 345.7l2.1 10.2.5-2.3-2.1-9.2z"/>
<path color="#3dff01" d="M103 355.9l1.3 5.3.4-2.7-1.2-4.9z"/>
<path color="#c3ff22" d="M104.3 361.2l1 3.5.4-3.1-1-3.1z"/>
<path color="#ffff24" d="M105.3 364.7l.8 2.3.4-3.3-.8-2.1z"/>
<path color="#d400f5" d="M116.7 346.8l.9 2.5.6.6-.9-2.2z"/>
<path color="#a200ff" d="M117.6 349.3l1.1 3.8.5.3-1-3.5z"/>
<path color="#3d00ff" d="M118.7 353.1l1.3 5.8.5-.3-1.3-5.2z"/>
<path color="#0080ff" d="M120 358.9l2.2 10.9.4-1.4-2.1-9.8z"/>
<path color="#00ff80" d="M122.2 369.8l2.1 10.7.4-2.5-2.1-9.6z"/>
<path color="#3dff00" d="M124.3 380.5l1.3 5.6.4-3-1.3-5.1z"/>
<path color="#c0ff1e" d="M125.6 386.1l1 3.7.4-3.3-1-3.4z"/>
<path color="#ffff24" d="M126.6 389.8l.9 2.4.4-3.5-.9-2.2z"/>
<path color="#c9cf01" d="M127.5 392.2l.8 1.4.4-3.5-.8-1.4z"/>
<path color="#707300" d="M128.3 393.6l.9.6.4-3.5-.9-.6z"/>
<path color="#5b6a00" d="M129.2 394.2l.8-.4.4-3.3-.8.2z"/>
<path color="#3f6300" d="M130 393.8l.9-1.4.4-3-.9 1.1z"/>
<path color="#175f00" d="M130.9 392.4l1.1-2.9.5-2.5-1.2 2.4z"/>
<path color="#006bd6" d="M133.9 383.1l1.8-6.7.5-.4-1.9 5.6z"/>
<path color="#3100cd" d="M135.7 376.4l1.2-3.3.5.2-1.2 2.7z"/>
<path color="#6900a6" d="M136.9 373.1l1.1-1.6.4.5-1 1.3z"/>
<path color="#d400f5" d="M140.8 373l1 2.7.5.5-1-2.5z"/>
<path color="#a200ff" d="M141.8 375.7l1.1 4 .5.1-1.1-3.6z"/>
<path color="#3d00ff" d="M142.9 379.7l1.4 6.1.4-.5-1.3-5.5z"/>
<path color="#0080ff" d="M144.3 385.8l2.1 11.4.4-1.6-2.1-10.3z"/>
<path color="#00ff80" d="M146.4 397.2l2 11.3.4-2.7-2-10.2z"/>
<path color="#3cff00" d="M148.4 408.5l1.3 5.8.4-3.2-1.3-5.3z"/>
<path color="#bcff1a" d="M149.7 414.3l1.1 3.9.4-3.5-1.1-3.6z"/>
<path color="#ffff27" d="M150.8 418.2l.3 1 .8.6.2-2.7-.9-2.4z"/>
<path color="#b6c801" d="M153 419.7l.1-1.1-1-1.5-.2 2.7z"/>
<path color="#6c7b00" d="M153.8 419.2l-.7-.6-.1 1.1z"/>
<path color="#00ff21" d="M82.5 330.4l1.2 5.8.5-2.1-.7-3.1z"/>
<path color="#64ff00" d="M83.7 336.2l1.3 5.5.5-2.5-1.3-5.1z"/>
<path color="#f100bc" d="M94.1 321.8l.7 1.3.7.7-.7-1.3z"/>
<path color="#ff00e5" d="M94.8 323.1l.9 2.5.7.5-.9-2.3z"/>
<path color="#d600ff" d="M95.7 325.6l1.1 3.9.6.2-1-3.6z"/>
<path color="#6400ff" d="M96.8 329.5l1.3 6 .6-.3-1.3-5.5z"/>
<path color="#0070ff" d="M98.1 335.5l2.3 11.4.5-1.2-2.2-10.5z"/>
<path color="#00ff70" d="M100.4 346.9l2.2 11.3.4-2.3-2.1-10.2z"/>
<path color="#64ff00" d="M102.6 358.2l1.3 5.8.4-2.8-1.3-5.3z"/>
<path color="#dfff0a" d="M103.9 364l1 3.7.4-3-1-3.5z"/>
<path color="#ffff3e" d="M104.9 367.7l.8 2.5.4-3.2-.8-2.3z"/>
<path color="#ff00e5" d="M116.1 346.2l.9 2.6.6.5-.9-2.5z"/>
<path color="#d600ff" d="M117 348.8l1.1 4.2.6.1-1.1-3.8z"/>
<path color="#6400ff" d="M118.1 353l1.4 6.3.5-.4-1.3-5.8z"/>
<path color="#0070ff" d="M119.5 359.3l2.2 12 .5-1.5-2.2-10.9z"/>
<path color="#00ff70" d="M121.7 371.3l2.1 11.7.5-2.5-2.1-10.7z"/>
<path color="#64ff00" d="M123.8 383l1.3 6 .5-2.9-1.3-5.6z"/>
<path color="#ddff08" d="M125.1 389l1.1 4 .4-3.2-1-3.7z"/>
<path color="#ffff3d" d="M126.2 393l.9 2.6.4-3.4-.9-2.4z"/>
<path color="#f2be04" d="M127.1 395.6l.8 1.5.4-3.5-.8-1.4z"/>
<path color="#755b00" d="M127.9 397.1l.8.5.5-3.4-.9-.6z"/>
<path color="#695f00" d="M128.7 397.6l.9-.5.4-3.3-.8.4z"/>
<path color="#526200" d="M129.6 397.1l.9-1.7.4-3-.9 1.4z"/>
<path color="#0060da" d="M133.4 384.6l1.9-7.7.4-.5-1.8 6.7z"/>
<path color="#5300d5" d="M135.3 376.9l1.2-3.7.4-.1-1.2 3.3z"/>
<path color="#9b00b9" d="M136.5 373.2l1-2 .5.3-1.1 1.6z"/>
<path color="#f100bc" d="M139.4 370.9l1 1.6.4.5-.9-1.5z"/>
<path color="#ff00e5" d="M140.4 372.5l1 2.9.4.3-1-2.7z"/>
<path color="#d600ff" d="M141.4 375.4l1.1 4.4.4-.1-1.1-4z"/>
<path color="#6400ff" d="M142.5 379.8l1.3 6.6.5-.6-1.4-6.1z"/>
<path color="#0070ff" d="M143.8 386.4l2.1 12.5.5-1.7-2.1-11.4z"/>
<path color="#00ff70" d="M145.9 398.9l2.1 12.2.4-2.6-2-11.3z"/>
<path color="#5eff00" d="M148 411.1l.3 1.8 1.1 3.4.3-2-1.3-5.8z"/>
<path color="#d0ff0a" d="M150.7 418.7l.1-.5-1.1-3.9-.3 2z"/>
<path color="#ffff37" d="M151.1 419.2l-.3-1-.1.5z"/>
<path color="#00ff2f" d="M81.3 329.1l1.9 9.2.5-2.1-1.2-5.8z"/>
<path color="#87ff00" d="M83.2 338.3l1.3 5.9.5-2.5-1.3-5.5z"/>
<path color="#ff008e" d="M93.3 321.3l.8 1.4.7.4-.7-1.3z"/>
<path color="#ff00b0" d="M94.1 322.7l.9 2.6.7.3-.9-2.5z"/>
<path color="#ff00f9" d="M95 325.3l1.1 4.2.7 0-1.1-3.9z"/>
<path color="#80f" d="M96.1 329.5l1.3 6.5.7-.5-1.3-6z"/>
<path color="#0061ff" d="M97.4 336l2.4 12.4.6-1.5-2.3-11.4z"/>
<path color="#00ff62" d="M99.8 348.4l2.3 12 .5-2.2-2.2-11.3z"/>
<path color="#87ff00" d="M102.1 360.4l1.3 6.2.5-2.6-1.3-5.8z"/>
<path color="#fffb01" d="M103.4 366.6l1 4.1.5-3-1-3.7z"/>
<path color="#ffe333" d="M104.4 370.7l.9 2.5.4-3-.8-2.5z"/>
<path color="#ff008e" d="M114.6 344.4l.9 1.5.6.3-.8-1.5z"/>
<path color="#ff00b0" d="M115.5 345.9l.9 2.8.6.1-.9-2.6z"/>
<path color="#ff00f9" d="M116.4 348.7l1.1 4.5.6-.2-1.1-4.2z"/>
<path color="#80f" d="M117.5 353.2l1.4 6.8.6-.7-1.4-6.3z"/>
<path color="#0061ff" d="M118.9 360l2.2 12.9.6-1.6-2.2-12z"/>
<path color="#00ff62" d="M121.1 372.9l2.2 12.5.5-2.4-2.1-11.7z"/>
<path color="#87ff00" d="M123.3 385.4l1.3 6.5.5-2.9-1.3-6z"/>
<path color="#fffa01" d="M124.6 391.9l1.1 4.3.5-3.2-1.1-4z"/>
<path color="#ffe130" d="M125.7 396.2l.9 2.7.5-3.3-.9-2.6z"/>
<path color="#ff9e10" d="M126.6 398.9l.9 1.5.4-3.3-.8-1.5z"/>
<path color="#7b4400" d="M127.5 400.4l.8.5.4-3.3-.8-.5z"/>
<path color="#694800" d="M128.3 400.9l.8-.6.5-3.2-.9.5z"/>
<path color="#615e00" d="M129.1 400.3l.9-1.9.5-3-.9 1.7z"/>
<path color="#00d752" d="M131.1 394.6l1.8-8.3.5-1.7-1.8 7.4z"/>
<path color="#05d" d="M132.9 386.3l1.8-8.6.6-.8-1.9 7.7z"/>
<path color="#7300d9" d="M134.7 377.7l1.2-4.2.6-.3-1.2 3.7z"/>
<path color="#c500c1" d="M135.9 373.5l1.1-2.3.5 0-1 2z"/>
<path color="#c80070" d="M137.9 370.4l1 .4.5.1-.9-.4z"/>
<path color="#ff008e" d="M138.9 370.8l1 1.6.5.1-1-1.6z"/>
<path color="#ff00b0" d="M139.9 372.4l1 3.1.5-.1-1-2.9z"/>
<path color="#ff00f9" d="M140.9 375.5l1.1 4.6.5-.3-1.1-4.4z"/>
<path color="#80f" d="M142 380.1l1.3 7.2.5-.9-1.3-6.6z"/>
<path color="#007cff" d="M143.3 387.3l2 12.7.2.7.4-1.8-2.1-12.5z"/>
<path color="#0f6" d="M147.9 411.5l.1-.4-2.1-12.2-.4 1.8z"/>
<path color="#39ff00" d="M148.3 412.9l-.3-1.8-.1.4z"/>
<path color="#00ff69" d="M80.1 328.2l2.4 12.2.7-2.1-1.9-9.2-.9-1.4z"/>
<path color="#a6ff00" d="M82.5 340.4l1.4 6.3.6-2.5-1.3-5.9z"/>
<path color="#ff005d" d="M92.5 321.3l.8 1.5.8-.1-.8-1.4z"/>
<path color="#ff0082" d="M93.3 322.8l.9 2.8.8-.3-.9-2.6z"/>
<path color="#ff00d1" d="M94.2 325.6l1.1 4.4.8-.5-1.1-4.2z"/>
<path color="#a700ff" d="M95.3 330l1.4 6.9.7-.9-1.3-6.5z"/>
<path color="#05f" d="M96.7 336.9l2.4 13.1.7-1.6-2.4-12.4z"/>
<path color="#0f5" d="M99.1 350l2.3 12.8.7-2.4-2.3-12z"/>
<path color="#a6ff00" d="M101.4 362.8l1.4 6.6.6-2.8-1.3-6.2z"/>
<path color="#ffd100" d="M102.8 369.4l1 4.2.6-2.9-1-4.1z"/>
<path color="#ff900e" d="M103.8 373.6l.9 2.7.6-3.1-.9-2.5z"/>
<path color="#d2004d" d="M113.1 344.3l.8.3.7-.2-.8-.3z"/>
<path color="#ff005d" d="M113.9 344.6l.8 1.6.8-.3-.9-1.5z"/>
<path color="#ff0082" d="M114.7 346.2l1 2.9.7-.4-.9-2.8z"/>
<path color="#ff00d1" d="M115.7 349.1l1.1 4.7.7-.6-1.1-4.5z"/>
<path color="#a700ff" d="M116.8 353.8l1.4 7.3.7-1.1-1.4-6.8z"/>
<path color="#05f" d="M118.2 361.1l2.3 13.6.6-1.8-2.2-12.9z"/>
<path color="#0f5" d="M120.5 374.7l2.2 13.4.6-2.7-2.2-12.5z"/>
<path color="#a6ff00" d="M122.7 388.1l1.4 6.8.5-3-1.3-6.5z"/>
<path color="#ffd100" d="M124.1 394.9l1 4.5.6-3.2-1.1-4.3z"/>
<path color="#ff8e0c" d="M125.1 399.4l.9 2.8.6-3.3-.9-2.7z"/>
<path color="#ff892c" d="M126 402.2l.9 1.6.6-3.4-.9-1.5z"/>
<path color="#863100" d="M126.9 403.8l.8.4.6-3.3-.8-.5z"/>
<path color="#683500" d="M127.7 404.2l.9-.7.5-3.2-.8.6z"/>
<path color="#00db49" d="M130.5 397.3l1.8-8.9.6-2.1-1.8 8.3z"/>
<path color="#004adf" d="M132.3 388.4l1.8-9.4.6-1.3-1.8 8.6z"/>
<path color="#8e00da" d="M134.1 379l1.2-4.7.6-.8-1.2 4.2z"/>
<path color="#d2004d" d="M137.3 370.8l1 .4.6-.4-1-.4z"/>
<path color="#ff005d" d="M138.3 371.2l1 1.7.6-.5-1-1.6z"/>
<path color="#ff0082" d="M139.3 372.9l1 3.2.6-.6-1-3.1z"/>
<path color="#ff00d1" d="M140.3 376.1l1.1 4.9.6-.9-1.1-4.6z"/>
<path color="#b100ff" d="M141.4 381l.3 1.8 1.2 5.4.4-.9-1.3-7.2z"/>
<path color="#001aff" d="M145.3 400l-2-12.7-.4.9z"/>
<path color="#00ceff" d="M78.1 324.1l1.1 6 .9-1.9-.2-1.1z"/>
<path color="#00ff4b" d="M79.2 330.1l2.5 12.8.8-2.5-2.4-12.2z"/>
<path color="#beff00" d="M81.7 342.9l1.4 6.5.8-2.7-1.4-6.3z"/>
<path color="#d2002d" d="M90.8 322.2l.7.1 1-1-.7-.1z"/>
<path color="#ff0036" d="M91.5 322.3l.8 1.5 1-1-.8-1.5z"/>
<path color="#ff005e" d="M92.3 323.8l.9 2.9 1-1.1-.9-2.8z"/>
<path color="#ff00b1" d="M93.2 326.7l1.1 4.7 1-1.4-1.1-4.4z"/>
<path color="#bf00ff" d="M94.3 331.4l1.4 7.2 1-1.7-1.4-6.9z"/>
<path color="#004bff" d="M95.7 338.6l2.5 13.6.9-2.2-2.4-13.1z"/>
<path color="#00ff4b" d="M98.2 352.2l2.4 13.3.8-2.7-2.3-12.8z"/>
<path color="#beff00" d="M100.6 365.5l1.4 6.8.8-2.9-1.4-6.6z"/>
<path color="#ffb100" d="M102 372.3l1 4.4.8-3.1-1-4.2z"/>
<path color="#ff5e01" d="M103 376.7l.9 2.8.8-3.2-.9-2.7z"/>
<path color="#9ed400" d="M106.7 378.1l.8-4.3.8-2.8-.8 4.1z"/>
<path color="#00de41" d="M107.5 373.8l1.1-9.5.9-2.3-1.2 9z"/>
<path color="#d2002d" d="M112.1 345.6l.8.2 1-1.2-.8-.3z"/>
<path color="#ff0036" d="M112.9 345.8l.9 1.7.9-1.3-.8-1.6z"/>
<path color="#ff005e" d="M113.8 347.5l1 3 .9-1.4-1-2.9z"/>
<path color="#ff00b1" d="M114.8 350.5l1.1 4.9.9-1.6-1.1-4.7z"/>
<path color="#bf00ff" d="M115.9 355.4l1.4 7.6.9-1.9-1.4-7.3z"/>
<path color="#004bff" d="M117.3 363l2.4 14.2.8-2.5-2.3-13.6z"/>
<path color="#00ff4b" d="M119.7 377.2l2.3 13.9.7-3-2.2-13.4z"/>
<path color="#beff00" d="M122 391.1l1.3 7.1.8-3.3-1.4-6.8z"/>
<path color="#ffb100" d="M123.3 398.2l1.1 4.6.7-3.4-1-4.5z"/>
<path color="#ff5e00" d="M124.4 402.8l.9 2.9.7-3.5-.9-2.8z"/>
<path color="#ff5f29" d="M125.3 405.7l.9 1.6.7-3.5-.9-1.6z"/>
<path color="#9b2100" d="M126.2 407.3l.8.5.7-3.6-.8-.4z"/>
<path color="#692600" d="M127 407.8l.8-.8.8-3.5-.9.7z"/>
<path color="#00de41" d="M129.8 400.4l1.7-9.4.8-2.6-1.8 8.9z"/>
<path color="#0042e0" d="M131.5 391l1.8-9.9.8-2.1-1.8 9.4z"/>
<path color="#a300da" d="M133.3 381.1l1.2-4.9.8-1.9-1.2 4.7z"/>
<path color="#6a0027" d="M135.6 373.5l.9-1.1.8-1.6-.9 1z"/>
<path color="#cf002a" d="M136.5 372.4l.5 0 .6.1.7-1.3-1-.4z"/>
<path color="#ff003a" d="M138.8 373.8l.5-.9-1-1.7-.7 1.3z"/>
<path color="#ff0064" d="M140 376.6l.3-.5-1-3.2-.5.9z"/>
<path color="#f0b" d="M141.3 381.2l.1-.2-1.1-4.9-.3.5z"/>
<path color="#fc00ff" d="M141.7 382.8l-.3-1.8-.1.2z"/>
<path color="#007cff" d="M75.4 320.2l2.4 12.7 1.4-2.8-1.1-6z"/>
<path color="#00ff48" d="M77.8 332.9l2.5 12.7 1.4-2.7-2.5-12.8z"/>
<path color="#c7ff00" d="M80.3 345.6l1.4 6.6 1.4-2.8-1.4-6.5z"/>
<path color="#ffa500" d="M81.7 352.2l1.1 4.2 1.3-2.8-1-4.2z"/>
<path color="#690021" d="M88.8 326.4l.6-1.2 1.4-3-.6 1.2z"/>
<path color="#b4001c" d="M89.4 325.2l.7.2 1.4-3.1-.7-.1z"/>
<path color="#ff032b" d="M90.1 325.4l.8 1.5 1.4-3.1-.8-1.5z"/>
<path color="#ff0050" d="M90.9 326.9l.9 2.9 1.4-3.1-.9-2.9z"/>
<path color="#ff00a5" d="M91.8 329.8l1.2 4.7 1.3-3.1-1.1-4.7z"/>
<path color="#c800ff" d="M93 334.5l1.4 7.2 1.3-3.1-1.4-7.2z"/>
<path color="#0047ff" d="M94.4 341.7l2.5 13.6 1.3-3.1-2.5-13.6z"/>
<path color="#00ff48" d="M96.9 355.3l2.4 13.3 1.3-3.1-2.4-13.3z"/>
<path color="#c7ff00" d="M99.3 368.6l1.4 6.9 1.3-3.2-1.4-6.8z"/>
<path color="#ffa500" d="M100.7 375.5l1.1 4.3 1.2-3.1-1-4.4z"/>
<path color="#ff5000" d="M101.8 379.8l.9 2.8 1.2-3.1-.9-2.8z"/>
<path color="#c98200" d="M104.8 383.6l.7-2.3 1.2-3.2-.6 2.3z"/>
<path color="#a9d800" d="M105.5 381.3l.8-4.3 1.2-3.2-.8 4.3z"/>
<path color="#00e03f" d="M106.3 377l1.1-9.4 1.2-3.3-1.1 9.5z"/>
<path color="#690021" d="M110.1 350.2l.8-1.1 1.2-3.5-.7 1.2z"/>
<path color="#b4001c" d="M110.9 349.1l.8.2 1.2-3.5-.8-.2z"/>
<path color="#ff032b" d="M111.7 349.3l.9 1.7 1.2-3.5-.9-1.7z"/>
<path color="#ff0050" d="M112.6 351l.9 3.1 1.3-3.6-1-3z"/>
<path color="#ff00a5" d="M113.5 354.1l1.2 4.9 1.2-3.6-1.1-4.9z"/>
<path color="#c800ff" d="M114.7 359l1.4 7.5 1.2-3.5-1.4-7.6z"/>
<path color="#0047ff" d="M116.1 366.5l2.4 14.2 1.2-3.5-2.4-14.2z"/>
<path color="#00ff48" d="M118.5 380.7l2.3 13.9 1.2-3.5-2.3-13.9z"/>
<path color="#c7ff00" d="M120.8 394.6l1.4 7.1 1.1-3.5-1.3-7.1z"/>
<path color="#ffa500" d="M122.2 401.7l1.1 4.6 1.1-3.5-1.1-4.6z"/>
<path color="#ff5000" d="M123.3 406.3l.9 3 1.1-3.6-.9-2.9z"/>
<path color="#ff2a02" d="M124.2 409.3l.9 1.6 1.1-3.6-.9-1.6z"/>
<path color="#bc1e00" d="M125.1 410.9l.8.5 1.1-3.6-.8-.5z"/>
<path color="#692100" d="M125.9 411.4l.8-.8 1.1-3.6-.8.8z"/>
<path color="#a9d800" d="M127.6 408.4l1.1-4.3 1.1-3.7-1.1 4.4z"/>
<path color="#00e03f" d="M128.7 404.1l1.7-9.3 1.1-3.8-1.7 9.4z"/>
<path color="#0051e0" d="M130.4 394.8l.4-2.2 1.8-8.9.7-2.6-1.8 9.9z"/>
<path color="#aa00d8" d="M134 377.8l.5-1.6-1.2 4.9-.7 2.6z"/>
<path color="#5e003c" d="M135.3 374.3l.3-.8-1.1 2.7-.5 1.6z"/>
<path color="#690021" d="M136.4 372.6l.1-.2-.9 1.1-.3.8z"/>
<path color="#8300ff" d="M73.2 318.2l.9 4.5 1.1-2.7z"/>
<path color="#002bff" d="M74.1 322.7l2.6 12.6 1.1-2.4-2.4-12.7-.2-.2z"/>
<path color="#00ff4d" d="M76.7 335.3l2.4 12.2 1.2-1.9-2.5-12.7z"/>
<path color="#b9ff00" d="M79.1 347.5l1.4 6.3 1.2-1.6-1.4-6.6z"/>
<path color="#ffb800" d="M80.5 353.8l1.1 4.1 1.2-1.5-1.1-4.2z"/>
<path color="#69002a" d="M87.7 330.1l.6-1.1 1.1-3.8-.6 1.2z"/>
<path color="#9a0026" d="M88.3 329l.7.3 1.1-3.9-.7-.2z"/>
<path color="#ff215f" d="M89 329.3l.8 1.4 1.1-3.8-.8-1.5z"/>
<path color="#ff0166" d="M89.8 330.7l.9 2.8 1.1-3.7-.9-2.9z"/>
<path color="#ff00b8" d="M90.7 333.5l1.2 4.5 1.1-3.5-1.2-4.7z"/>
<path color="#b900ff" d="M91.9 338l1.4 6.9 1.1-3.2-1.4-7.2z"/>
<path color="#004dff" d="M93.3 344.9l2.5 13.1 1.1-2.7-2.5-13.6z"/>
<path color="#00ff4d" d="M95.8 358l2.4 12.8 1.1-2.2-2.4-13.3z"/>
<path color="#b9ff00" d="M98.2 370.8l1.4 6.6 1.1-1.9-1.4-6.9z"/>
<path color="#ffb800" d="M99.6 377.4l1.1 4.2 1.1-1.8-1.1-4.3z"/>
<path color="#f60" d="M100.7 381.6l.8 2.7 1.2-1.7-.9-2.8z"/>
<path color="#ca9200" d="M103.7 385.5l.7-2.1 1.1-2.1-.7 2.3z"/>
<path color="#9eda00" d="M104.4 383.4l.8-4.1 1.1-2.3-.8 4.3z"/>
<path color="#00e044" d="M105.2 379.3l1.1-8.8 1.1-2.9-1.1 9.4z"/>
<path color="#5f0044" d="M108.3 356.8l.7-2.5 1.1-4.1-.8 2.7z"/>
<path color="#69002a" d="M109 354.3l.8-1 1.1-4.2-.8 1.1z"/>
<path color="#9a0026" d="M109.8 353.3l.8.3 1.1-4.3-.8-.2z"/>
<path color="#ff2462" d="M110.6 353.6l.9 1.6 1.1-4.2-.9-1.7z"/>
<path color="#ff0166" d="M111.5 355.2l1 3 1-4.1-.9-3.1z"/>
<path color="#ff00b8" d="M112.5 358.2l1.1 4.7 1.1-3.9-1.2-4.9z"/>
<path color="#b900ff" d="M113.6 362.9l1.5 7.3 1-3.7-1.4-7.5z"/>
<path color="#004dff" d="M115.1 370.2l2.4 13.6 1-3.1-2.4-14.2z"/>
<path color="#00ff4d" d="M117.5 383.8l2.3 13.4 1-2.6-2.3-13.9z"/>
<path color="#b9ff00" d="M119.8 397.2l1.4 6.8 1-2.3-1.4-7.1z"/>
<path color="#ffb800" d="M121.2 404l1 4.5 1.1-2.2-1.1-4.6z"/>
<path color="#f60" d="M122.2 408.5l1 2.9 1-2.1-.9-3z"/>
<path color="#ff3f00" d="M123.2 411.4l.9 1.6 1-2.1-.9-1.6z"/>
<path color="#d43400" d="M124.1 413l.8.5 1-2.1-.8-.5z"/>
<path color="#6a2a00" d="M124.9 413.5l.8-.7 1-2.2-.8.8z"/>
<path color="#c98e00" d="M125.7 412.8l.3-.4.8-2 .8-2-.9 2.2z"/>
<path color="#a2da00" d="M128.1 405.7l.6-1.6-1.1 4.3-.8 2z"/>
<path color="#00e041" d="M130.3 395.1l.1-.3-1.7 9.3-.6 1.6z"/>
<path color="#00c9e0" d="M130.8 392.6l-.4 2.2-.1.3z"/>
<path color="#ec00ff" d="M71.3 317.9l.4 1.7.5-1.7z"/>
<path color="#a200ff" d="M71.7 319.6l1.4 6.1 1-3-.9-4.5-1-.3z"/>
<path color="#0059ff" d="M73.1 325.7l2.5 11.8 1.1-2.2-2.6-12.6z"/>
<path color="#00ff59" d="M75.6 337.5l2.4 11.5 1.1-1.5-2.4-12.2z"/>
<path color="#9cff00" d="M78 349l1.4 5.9 1.1-1.1-1.4-6.3z"/>
<path color="#ffde00" d="M79.4 354.9l1 3.9 1.2-.9-1.1-4.1z"/>
<path color="#69003c" d="M86.7 334.1l.7-.9.9-4.2-.6 1.1z"/>
<path color="#8f003d" d="M87.4 333.2l.7.3.9-4.2-.7-.3z"/>
<path color="#ff2a97" d="M88.1 333.5l.8 1.4.9-4.2-.8-1.4z"/>
<path color="#ff0899" d="M88.9 334.9l.9 2.7.9-4.1-.9-2.8z"/>
<path color="#ff00de" d="M89.8 337.6l1.1 4.2 1-3.8-1.2-4.5z"/>
<path color="#9d00ff" d="M90.9 341.8l1.4 6.5 1-3.4-1.4-6.9z"/>
<path color="#0059ff" d="M92.3 348.3l2.5 12.3 1-2.6-2.5-13.1z"/>
<path color="#00ff59" d="M94.8 360.6l2.3 12 1.1-1.8-2.4-12.8z"/>
<path color="#9cff00" d="M97.1 372.6l1.4 6.2 1.1-1.4-1.4-6.6z"/>
<path color="#ffde00" d="M98.5 378.8l1.1 4 1.1-1.2-1.1-4.2z"/>
<path color="#ff9100" d="M99.6 382.8l.9 2.6 1-1.1-.8-2.7z"/>
<path color="#c8ae00" d="M102.7 386.7l.6-1.9 1.1-1.4-.7 2.1z"/>
<path color="#85d800" d="M103.3 384.8l.8-3.6 1.1-1.9-.8 4.1z"/>
<path color="#00de4d" d="M104.1 381.2l1.2-8 1-2.7-1.1 8.8z"/>
<path color="#600054" d="M107.3 360.9l.8-2.3.9-4.3-.7 2.5z"/>
<path color="#69003c" d="M108.1 358.6l.8-.8.9-4.5-.8 1z"/>
<path color="#8f003d" d="M108.9 357.8l.8.4.9-4.6-.8-.3z"/>
<path color="#ff2e9b" d="M109.7 358.2l.9 1.6.9-4.6-.9-1.6z"/>
<path color="#ff0798" d="M110.6 359.8l1 2.8.9-4.4-1-3z"/>
<path color="#ff00de" d="M111.6 362.6l1.1 4.5.9-4.2-1.1-4.7z"/>
<path color="#9d00ff" d="M112.7 367.1l1.4 6.8 1-3.7-1.5-7.3z"/>
<path color="#0059ff" d="M114.1 373.9l2.4 12.8 1-2.9-2.4-13.6z"/>
<path color="#00ff59" d="M116.5 386.7l2.3 12.5 1-2-2.3-13.4z"/>
<path color="#9cff00" d="M118.8 399.2l1.4 6.5 1-1.7-1.4-6.8z"/>
<path color="#ffdb00" d="M120.2 405.7l.9 3.7.2.5.9-1.4-1-4.5z"/>
<path color="#ff8d00" d="M122.5 412.4l.7-1-1-2.9-.9 1.4z"/>
<path color="#ff6300" d="M123.6 413.7l.5-.7-.9-1.6-.7 1z"/>
<path color="#d84f00" d="M124.6 413.9l.3-.4-.8-.5-.5.7z"/>
<path color="#6b3400" d="M125.7 412.9l0-.1-.8.7-.3.4z"/>
<path color="#ec00ff" d="M69.6 319.5l1.1 3.7 1-3.6-.4-1.7-1.5.8z"/>
<path color="#7800ff" d="M70.7 323.2l1.4 5.7 1-3.2-1.4-6.1z"/>
<path color="#0067ff" d="M72.1 328.9l2.4 10.8 1.1-2.2-2.5-11.8z"/>
<path color="#00ff68" d="M74.5 339.7l2.3 10.6 1.2-1.3-2.4-11.5z"/>
<path color="#78ff00" d="M76.8 350.3l1.4 5.5 1.2-.9-1.4-5.9z"/>
<path color="#f0ff00" d="M78.2 355.8l1 3.6 1.2-.6-1-3.9z"/>
<path color="#ffc800" d="M79.2 359.4l.8 2.3 1.2-.5-.8-2.4z"/>
<path color="#5c0062" d="M85.2 340.3l.6-1.9.9-4.3-.5 2.2z"/>
<path color="#6b0054" d="M85.8 338.4l.6-.8 1-4.4-.7.9z"/>
<path color="#8c005c" d="M86.4 337.6l.7.4 1-4.5-.7-.3z"/>
<path color="#ff20c7" d="M87.1 338l.8 1.4 1-4.5-.8-1.4z"/>
<path color="#ff18df" d="M87.9 339.4l.9 2.5 1-4.3-.9-2.7z"/>
<path color="#f100ff" d="M88.8 341.9l1.1 3.9 1-4-1.1-4.2z"/>
<path color="#7800ff" d="M89.9 345.8l1.4 6 1-3.5-1.4-6.5z"/>
<path color="#0067ff" d="M91.3 351.8l2.4 11.3 1.1-2.5-2.5-12.3z"/>
<path color="#00ff68" d="M93.7 363.1l2.3 11.1 1.1-1.6-2.3-12z"/>
<path color="#78ff00" d="M96 374.2l1.4 5.7 1.1-1.1-1.4-6.2z"/>
<path color="#f0ff00" d="M97.4 379.9l1.1 3.8 1.1-.9-1.1-4z"/>
<path color="#ffc800" d="M98.5 383.7l.8 2.5 1.2-.8-.9-2.6z"/>
<path color="#ffa700" d="M99.3 386.2l.8 1.4 1.1-.7-.7-1.5z"/>
<path color="#b6c100" d="M101.6 387.6l.7-1.6 1-1.2-.6 1.9z"/>
<path color="#64d500" d="M102.3 386l.8-3.1 1-1.7-.8 3.6z"/>
<path color="#00db59" d="M103.1 382.9l1.2-7 1-2.7-1.2 8z"/>
<path color="#0057d6" d="M104.3 375.9l1.2-7.2 1-3.8-1.2 8.3z"/>
<path color="#5c0062" d="M106.4 365.1l.8-1.8.9-4.7-.8 2.3z"/>
<path color="#6b0054" d="M107.2 363.3l.8-.6.9-4.9-.8.8z"/>
<path color="#8c005c" d="M108 362.7l.8.4.9-4.9-.8-.4z"/>
<path color="#ff24ca" d="M108.8 363.1l.9 1.5.9-4.8-.9-1.6z"/>
<path color="#ff16dd" d="M109.7 364.6l1 2.7.9-4.7-1-2.8z"/>
<path color="#f000ff" d="M110.7 367.3l1.1 4.2.9-4.4-1.1-4.5z"/>
<path color="#7800ff" d="M111.8 371.5l1.4 6.3.9-3.9-1.4-6.8z"/>
<path color="#0067ff" d="M113.2 377.8l2.3 11.8 1-2.9-2.4-12.8z"/>
<path color="#00ff82" d="M115.5 389.6l.1.5 2.7 10.2.5-1.1-2.3-12.5z"/>
<path color="#84ff00" d="M120 406.1l.2-.4-1.4-6.5-.5 1.1z"/>
<path color="#f1ff00" d="M121.1 409.4l-.9-3.7-.2.4z"/>
<path color="#ff27ff" d="M67.8 321.5l.9 2.2.9-4.2-.1-.5-1.6 2.2z"/>
<path color="#bd02ff" d="M68.7 323.7l1 3.4 1-3.9-1.1-3.7z"/>
<path color="#5000ff" d="M69.7 327.1l1.3 5.2 1.1-3.4-1.4-5.7z"/>
<path color="#0078ff" d="M71 332.3l2.3 9.7 1.2-2.3-2.4-10.8z"/>
<path color="#00ff78" d="M73.3 342l2.3 9.7 1.2-1.4-2.3-10.6z"/>
<path color="#4fff00" d="M75.6 351.7l1.3 5 1.3-.9-1.4-5.5z"/>
<path color="#baff00" d="M76.9 356.7l1 3.3 1.3-.6-1-3.6z"/>
<path color="#f9ff00" d="M77.9 360l.8 2.2 1.3-.5-.8-2.3z"/>
<path color="#490064" d="M84.2 344.4l.6-1.5 1-4.5-.6 1.9z"/>
<path color="#6a006d" d="M84.8 342.9l.7-.5.9-4.8-.6.8z"/>
<path color="#8e0081" d="M85.5 342.4l.7.4.9-4.8-.7-.4z"/>
<path color="#ff18ff" d="M86.2 342.8l.8 1.3.9-4.7-.8-1.4z"/>
<path color="#ff29ff" d="M87 344.1l.9 2.4.9-4.6-.9-2.5z"/>
<path color="#bc01ff" d="M87.9 346.5l1 3.5 1-4.2-1.1-3.9z"/>
<path color="#5000ff" d="M88.9 350l1.4 5.5 1-3.7-1.4-6z"/>
<path color="#0078ff" d="M90.3 355.5l2.3 10.2 1.1-2.6-2.4-11.3z"/>
<path color="#00ff78" d="M92.6 365.7l2.3 10.1 1.1-1.6-2.3-11.1z"/>
<path color="#4fff00" d="M94.9 375.8l1.3 5.3 1.2-1.2-1.4-5.7z"/>
<path color="#baff00" d="M96.2 381.1l1.1 3.4 1.2-.8-1.1-3.8z"/>
<path color="#f9ff00" d="M97.3 384.5l.9 2.3 1.1-.6-.8-2.5z"/>
<path color="#ffe700" d="M98.2 386.8l.8 1.4 1.1-.6-.8-1.4z"/>
<path color="#85b600" d="M100.4 388.5l.7-1.3 1.2-1.2-.7 1.6z"/>
<path color="#40cf00" d="M101.1 387.2l.9-2.6 1.1-1.7-.8 3.1z"/>
<path color="#00d665" d="M102 384.6l1.2-5.9 1.1-2.8-1.2 7z"/>
<path color="#0063d1" d="M103.2 378.7l1.3-6.1 1-3.9-1.2 7.2z"/>
<path color="#490064" d="M105.4 369.7l.8-1.5 1-4.9-.8 1.8z"/>
<path color="#6a006d" d="M106.2 368.2l.8-.4 1-5.1-.8.6z"/>
<path color="#8e0081" d="M107 367.8l.9.5.9-5.2-.8-.4z"/>
<path color="#ff1bff" d="M107.9 368.3l.8 1.5 1-5.2-.9-1.5z"/>
<path color="#ff27ff" d="M108.7 369.8l1 2.5 1-5-1-2.7z"/>
<path color="#bd01ff" d="M109.7 372.3l.3.7 1 2.2.8-3.7-1.1-4.2z"/>
<path color="#5700ff" d="M112.7 379.8l.5-2-1.4-6.3-.8 3.7z"/>
<path color="#0073ff" d="M115.5 389.6l0 0-2.3-11.8-.5 2z"/>
<path color="#f524ff" d="M66.2 324.8l.7 1.1.9-4.4 0-.1z"/>
<path color="#ef35ff" d="M66.9 325.9l.8 2 1-4.2-.9-2.2z"/>
<path color="#8805ff" d="M67.7 327.9l1 3.1 1-3.9-1-3.4z"/>
<path color="#2600ff" d="M68.7 331l1.3 4.6 1-3.3-1.3-5.2z"/>
<path color="#0089ff" d="M70 335.6l2.2 8.8 1.1-2.4-2.3-9.7z"/>
<path color="#00ff89" d="M72.2 344.4l2.2 8.6 1.2-1.3-2.3-9.7z"/>
<path color="#25ff00" d="M74.4 353l1.2 4.6 1.3-.9-1.3-5z"/>
<path color="#83ff00" d="M75.6 357.6l1 3 1.3-.6-1-3.3z"/>
<path color="#baff00" d="M76.6 360.6l.8 2 1.3-.4-.8-2.2z"/>
<path color="#d4ff00" d="M77.4 362.6l.7 1.2 1.3-.4-.7-1.2z"/>
<path color="#340066" d="M83.2 348.5l.7-1.1.9-4.5-.6 1.5z"/>
<path color="#51006f" d="M83.9 347.4l.6-.3 1-4.7-.7.5z"/>
<path color="#7b0094" d="M84.5 347.1l.7.5 1-4.8-.7-.4z"/>
<path color="#e713ff" d="M85.2 347.6l.8 1.2 1-4.7-.8-1.3z"/>
<path color="#ef35ff" d="M86 348.8l.9 2.2 1-4.5-.9-2.4z"/>
<path color="#8704ff" d="M86.9 351l1 3.3 1-4.3-1-3.5z"/>
<path color="#2600ff" d="M87.9 354.3l1.4 4.9 1-3.7-1.4-5.5z"/>
<path color="#0089ff" d="M89.3 359.2l2.2 9.1 1.1-2.6-2.3-10.2z"/>
<path color="#00ff89" d="M91.5 368.3l2.3 9.1 1.1-1.6-2.3-10.1z"/>
<path color="#25ff00" d="M93.8 377.4l1.3 4.8 1.1-1.1-1.3-5.3z"/>
<path color="#83ff00" d="M95.1 382.2l1 3.2 1.2-.9-1.1-3.4z"/>
<path color="#baff00" d="M96.1 385.4l.9 2.2 1.2-.8-.9-2.3z"/>
<path color="#d4ff00" d="M97 387.6l.8 1.3 1.2-.7-.8-1.4z"/>
<path color="#c0e700" d="M97.8 388.9l.7.6 1.2-.7-.7-.6z"/>
<path color="#56a800" d="M99.2 389.4l.8-.9 1.1-1.3-.7 1.3z"/>
<path color="#1dc600" d="M100 388.5l.8-2.2 1.2-1.7-.9 2.6z"/>
<path color="#00d06f" d="M100.8 386.3l1.4-4.8 1-2.8-1.2 5.9z"/>
<path color="#0e0060" d="M103.5 376.5l1-2.3.9-4.5-.9 2.9z"/>
<path color="#350067" d="M104.5 374.2l.6-.9.2-.4.9-4.7-.8 1.5z"/>
<path color="#53006f" d="M106.4 371.5l.6-3.7-.8.4-.9 4.7z"/>
<path color="#810093" d="M107.4 370.9l.5-2.6-.9-.5-.6 3.7z"/>
<path color="#ff17ff" d="M108.5 371.3l.2-1.5-.8-1.5-.5 2.6z"/>
<path color="#ff30ff" d="M109.7 372.6l0-.3-1-2.5-.2 1.5z"/>
<path color="#c80bff" d="M110 373l-.3-.7 0 .3z"/>
<path color="#5f00ae" d="M64.6 328.6l.6.5 1-4.3z"/>
<path color="#a409ff" d="M65.2 329.1l.7 1.1 1-4.3-.7-1.1 0 0z"/>
<path color="#b639ff" d="M65.9 330.2l.8 1.9 1-4.2-.8-2z"/>
<path color="#580aff" d="M66.7 332.1l.9 2.7 1.1-3.8-1-3.1z"/>
<path color="#0003ff" d="M67.6 334.8l1.3 4.2 1.1-3.4-1.3-4.6z"/>
<path color="#09f" d="M68.9 339l2.1 7.8 1.2-2.4-2.2-8.8z"/>
<path color="#0f9" d="M71 346.8l2.1 7.7 1.3-1.5-2.2-8.6z"/>
<path color="#00ff03" d="M73.1 354.5l1.2 4.1 1.3-1-1.2-4.6z"/>
<path color="#4eff00" d="M74.3 358.6l1 2.7 1.3-.7-1-3z"/>
<path color="#7dff00" d="M75.3 361.3l.8 1.9 1.3-.6-.8-2z"/>
<path color="#93ff00" d="M76.1 363.2l.7 1.2 1.3-.6-.7-1.2z"/>
<path color="#8bf100" d="M76.8 364.4l.7.5 1.3-.6-.7-.5z"/>
<path color="#200069" d="M82.2 352.7l.7-.9 1-4.4-.7 1.1z"/>
<path color="#380072" d="M82.9 351.8l.6-.1 1-4.6-.6.3z"/>
<path color="#5a009d" d="M83.5 351.7l.8.6.9-4.7-.7-.5z"/>
<path color="#a411ff" d="M84.3 352.3l.7 1.2 1-4.7-.8-1.2z"/>
<path color="#b73aff" d="M85 353.5l.9 2 1-4.5-.9-2.2z"/>
<path color="#5709ff" d="M85.9 355.5l1 3 1-4.2-1-3.3z"/>
<path color="#0003ff" d="M86.9 358.5l1.3 4.4 1.1-3.7-1.4-4.9z"/>
<path color="#09f" d="M88.2 362.9l2.2 8.2 1.1-2.8-2.2-9.1z"/>
<path color="#0f9" d="M90.4 371.1l2.2 8.1 1.2-1.8-2.3-9.1z"/>
<path color="#00ff03" d="M92.6 379.2l1.3 4.3 1.2-1.3-1.3-4.8z"/>
<path color="#4eff00" d="M93.9 383.5l1 2.9 1.2-1-1-3.2z"/>
<path color="#7dff00" d="M94.9 386.4l.9 2 1.2-.8-.9-2.2z"/>
<path color="#93ff00" d="M95.8 388.4l.8 1.3 1.2-.8-.8-1.3z"/>
<path color="#8bf100" d="M96.6 389.7l.7.7 1.2-.9-.7-.6z"/>
<path color="#53aa00" d="M97.3 390.4l.7.1 1.2-1.1-.7.1z"/>
<path color="#00ba02" d="M98.8 389.8l.9-1.6 1.1-1.9-.8 2.2z"/>
<path color="#00c686" d="M99.7 388.2l1.3-3.6.1-.3 1.1-2.8-1.4 4.8z"/>
<path color="#0074c4" d="M103 378.5l.5-2-1.3 5-1.1 2.8z"/>
<path color="#040062" d="M104.3 375.1l.2-.9-1 2.3-.5 2z"/>
<path color="#206" d="M105.1 373.3l-.6.9-.2.9z"/>
<path color="#200082" d="M63 332.9l.5.1 1-3.9z"/>
<path color="#3900a2" d="M63.5 333l.6.5 1.1-4.4-.6-.5-.1.5z"/>
<path color="#630dff" d="M64.1 333.5l.7 1.1 1.1-4.4-.7-1.1z"/>
<path color="#7a37ff" d="M64.8 334.6l.8 1.7 1.1-4.2-.8-1.9z"/>
<path color="#2b10ff" d="M65.6 336.3l.9 2.5 1.1-4-.9-2.7z"/>
<path color="#012aff" d="M66.5 338.8l1.2 3.6 1.2-3.4-1.3-4.2z"/>
<path color="#00a9ff" d="M67.7 342.4l2.1 6.9 1.2-2.5-2.1-7.8z"/>
<path color="#00ffa9" d="M69.8 349.3l2 6.8 1.3-1.6-2.1-7.7z"/>
<path color="#00ff2a" d="M71.8 356.1l1.2 3.7 1.3-1.2-1.2-4.1z"/>
<path color="#1bff00" d="M73 359.8l.9 2.5 1.4-1-1-2.7z"/>
<path color="#43ff00" d="M73.9 362.3l.8 1.7 1.4-.8-.8-1.9z"/>
<path color="#56ff00" d="M74.7 364l.7 1.1 1.4-.7-.7-1.2z"/>
<path color="#55fb00" d="M75.4 365.1l.7.7 1.4-.9-.7-.5z"/>
<path color="#31b900" d="M76.1 365.8l.6.1 1.4-1-.6 0z"/>
<path color="#001167" d="M80.3 358.2l.8-1.3 1.1-4.2-.7 1.8z"/>
<path color="#0b006d" d="M81.1 356.9l.7-.6 1.1-4.5-.7.9z"/>
<path color="#1f0076" d="M81.8 356.3l.7.1 1-4.7-.6.1z"/>
<path color="#3800a8" d="M82.5 356.4l.7.7 1.1-4.8-.8-.6z"/>
<path color="#650fff" d="M83.2 357.1l.8 1.2 1-4.8-.7-1.2z"/>
<path color="#7c39ff" d="M84 358.3l.8 1.8 1.1-4.6-.9-2z"/>
<path color="#2a0fff" d="M84.8 360.1l1 2.7 1.1-4.3-1-3z"/>
<path color="#012aff" d="M85.8 362.8l1.3 3.9 1.1-3.8-1.3-4.4z"/>
<path color="#00a9ff" d="M87.1 366.7l2.1 7.2 1.2-2.8-2.2-8.2z"/>
<path color="#00ffa9" d="M89.2 373.9l2.1 7.2 1.3-1.9-2.2-8.1z"/>
<path color="#00ff2a" d="M91.3 381.1l1.3 3.9 1.3-1.5-1.3-4.3z"/>
<path color="#1bff00" d="M92.6 385l1 2.7 1.3-1.3-1-2.9z"/>
<path color="#43ff00" d="M93.6 387.7l.9 1.8 1.3-1.1-.9-2z"/>
<path color="#56ff00" d="M94.5 389.5l.8 1.3 1.3-1.1-.8-1.3z"/>
<path color="#55fb00" d="M95.3 390.8l.7.8 1.3-1.2-.7-.7z"/>
<path color="#2bb700" d="M96 391.6l.6.2.2-.1 1.2-1.2-.7-.1z"/>
<path color="#0f7a00" d="M97.9 391l.9-1.2-.8.7-1.2 1.2z"/>
<path color="#00ad17" d="M99.2 389.1l.5-.9-.9 1.6-.9 1.2z"/>
<path color="#00bf62" d="M101 384.6l-1.3 3.6-.5.9z"/>
<path color="#000a74" d="M61.2 337.4l.5-.2 1-3.5z"/>
<path color="#070082" d="M61.7 337.2l.6.2 1.2-4.4-.5-.1-.3.8z"/>
<path color="#1400b6" d="M62.3 337.4l.6.6 1.2-4.5-.6-.5z"/>
<path color="#270cff" d="M62.9 338l.7 1 1.2-4.4-.7-1.1z"/>
<path color="#3d31ff" d="M63.6 339l.8 1.6 1.2-4.3-.8-1.7z"/>
<path color="#162bff" d="M64.4 340.6l.9 2.2 1.2-4-.9-2.5z"/>
<path color="#0250ff" d="M65.3 342.8l1.2 3.3 1.2-3.7-1.2-3.6z"/>
<path color="#00b7ff" d="M66.5 346.1l1.9 6 1.4-2.8-2.1-6.9z"/>
<path color="#00ffb8" d="M68.4 352.1l2 6 1.4-2-2-6.8z"/>
<path color="#00ff4e" d="M70.4 358.1l1.1 3.2 1.5-1.5-1.2-3.7z"/>
<path color="#00ff15" d="M71.5 361.3l.9 2.2 1.5-1.2-.9-2.5z"/>
<path color="#0cff00" d="M72.4 363.5l.8 1.6 1.5-1.1-.8-1.7z"/>
<path color="#1cff00" d="M73.2 365.1l.7 1.1 1.5-1.1-.7-1.1z"/>
<path color="#1cff00" d="M73.9 366.2l.7.7 1.5-1.1-.7-.7z"/>
<path color="#0ac900" d="M74.6 366.9l.6.3 1.5-1.3-.6-.1z"/>
<path color="#00900c" d="M75.2 367.2l.7-.2 1.5-1.6-.7.5z"/>
<path color="#004a67" d="M77.9 364.2l1.2-2.1 1.2-3.9-1.1 3z"/>
<path color="#00216b" d="M79.1 362.1l.8-.9 1.2-4.3-.8 1.3z"/>
<path color="#000971" d="M79.9 361.2l.7-.2 1.2-4.7-.7.6z"/>
<path color="#060086" d="M80.6 361l.7.3 1.2-4.9-.7-.1z"/>
<path color="#1400b6" d="M81.3 361.3l.7.7 1.2-4.9-.7-.7z"/>
<path color="#2a0eff" d="M82 362l.8 1.1 1.2-4.8-.8-1.2z"/>
<path color="#4033ff" d="M82.8 363.1l.9 1.8 1.1-4.8-.8-1.8z"/>
<path color="#152aff" d="M83.7 364.9l.9 2.3 1.2-4.4-1-2.7z"/>
<path color="#024fff" d="M84.6 367.2l1.3 3.5 1.2-4-1.3-3.9z"/>
<path color="#00b7ff" d="M85.9 370.7l2 6.4 1.3-3.2-2.1-7.2z"/>
<path color="#00ffb8" d="M87.9 377.1l2.1 6.3 1.3-2.3-2.1-7.2z"/>
<path color="#00ff4c" d="M90 383.4l1.1 3.1.2.3 1.3-1.8-1.3-3.9z"/>
<path color="#00ff12" d="M92.6 388.8l1-1.1-1-2.7-1.3 1.8z"/>
<path color="#15ff00" d="M93.7 390.3l.8-.8-.9-1.8-1 1.1z"/>
<path color="#2bff00" d="M94.8 391.3l.5-.5-.8-1.3-.8.8z"/>
<path color="#31ff00" d="M95.8 391.8l.2-.2-.7-.8-.5.5z"/>
<path color="#22cf00" d="M96.6 391.8l-.6-.2-.2.2z"/>
<path color="#001f77" d="M59.7 341.7l.6 0 1.4-4.5-.5.2-.4 1.2z"/>
<path color="#001898" d="M60.3 341.7l.6.3 1.4-4.6-.6-.2z"/>
<path color="#0015cc" d="M60.9 342l.7.7 1.3-4.7-.6-.6z"/>
<path color="#0b25ff" d="M61.6 342.7l.7 1 1.3-4.7-.7-1z"/>
<path color="#274eff" d="M62.3 343.7l.7 1.5 1.4-4.6-.8-1.6z"/>
<path color="#1a5cff" d="M63 345.2l.9 1.9 1.4-4.3-.9-2.2z"/>
<path color="#0575ff" d="M63.9 347.1l1.1 2.9 1.5-3.9-1.2-3.3z"/>
<path color="#00c5ff" d="M65 350l1.9 5.2 1.5-3.1-1.9-6z"/>
<path color="#00ffc5" d="M66.9 355.2l1.9 5.2 1.6-2.3-2-6z"/>
<path color="#00ff70" d="M68.8 360.4l1.1 2.8 1.6-1.9-1.1-3.2z"/>
<path color="#00ff42" d="M69.9 363.2l.9 2 1.6-1.7-.9-2.2z"/>
<path color="#00ff27" d="M70.8 365.2l.8 1.5 1.6-1.6-.8-1.6z"/>
<path color="#00ff1b" d="M71.6 366.7l.7 1.1 1.6-1.6-.7-1.1z"/>
<path color="#00ff1b" d="M72.3 367.8l.6.7 1.7-1.6-.7-.7z"/>
<path color="#00d721" d="M72.9 368.5l.7.4 1.6-1.7-.6-.3z"/>
<path color="#00a62b" d="M73.6 368.9l.7.1 1.6-2-.7.2z"/>
<path color="#007c36" d="M74.3 369l.8-.3 1.6-2.5-.8.8z"/>
<path color="#006d54" d="M75.1 368.7l1.3-1.2 1.5-3.3-1.2 2z"/>
<path color="#00546c" d="M76.4 367.5l1.3-1.2 1.4-4.2-1.2 2.1z"/>
<path color="#003170" d="M77.7 366.3l.8-.4 1.4-4.7-.8.9z"/>
<path color="#00207a" d="M78.5 365.9l.8 0 1.3-4.9-.7.2z"/>
<path color="#001898" d="M79.3 365.9l.7.5 1.3-5.1-.7-.3z"/>
<path color="#0016cc" d="M80 366.4l.7.7 1.3-5.1-.7-.7z"/>
<path color="#0d28ff" d="M80.7 367.1l.8 1.2 1.3-5.2-.8-1.1z"/>
<path color="#2b52ff" d="M81.5 368.3l.8 1.5 1.4-4.9-.9-1.8z"/>
<path color="#1a5cff" d="M82.3 369.8l1 2.2 1.3-4.8-.9-2.3z"/>
<path color="#047cff" d="M83.3 372l1.1 2.9.1.1 1.4-4.3-1.3-3.5z"/>
<path color="#00c5ff" d="M87.1 379.2l.8-2.1-2-6.4-1.4 4.3z"/>
<path color="#00ffc1" d="M89.7 384l.3-.6-2.1-6.3-.8 2.1z"/>
<path color="#00ff6f" d="M91.1 386.5l-1.1-3.1-.3.6z"/>
<path color="#00587b" d="M56.9 346.5l.4-.1 1.1-2.5z"/>
<path color="#00457b" d="M57.3 346.4l.8-.1 1.6-4.6-.4.3-.9 1.9z"/>
<path color="#003d91" d="M58.1 346.3l.6.2 1.6-4.8-.6 0z"/>
<path color="#003bae" d="M58.7 346.5l.7.5 1.5-5-.6-.3z"/>
<path color="#0045e3" d="M59.4 347l.6.7 1.6-5-.7-.7z"/>
<path color="#0956ff" d="M60 347.7l.7 1 1.6-5-.7-1z"/>
<path color="#1c73ff" d="M60.7 348.7l.7 1.3 1.6-4.8-.7-1.5z"/>
<path color="#1985ff" d="M61.4 350l.9 1.8 1.6-4.7-.9-1.9z"/>
<path color="#0998ff" d="M62.3 351.8l1.1 2.4 1.6-4.2-1.1-2.9z"/>
<path color="#01d3ff" d="M63.4 354.2l1.8 4.5 1.7-3.5-1.9-5.2z"/>
<path color="#00ffd2" d="M65.2 358.7l1.8 4.5 1.8-2.8-1.9-5.2z"/>
<path color="#00ff8f" d="M67 363.2l1 2.5 1.9-2.5-1.1-2.8z"/>
<path color="#00ff6c" d="M68 365.7l.9 1.8 1.9-2.3-.9-2z"/>
<path color="#00ff57" d="M68.9 367.5l.8 1.4 1.9-2.2-.8-1.5z"/>
<path color="#00ff4d" d="M69.7 368.9l.7 1 1.9-2.1-.7-1.1z"/>
<path color="#00ff4d" d="M70.4 369.9l.7.8 1.8-2.2-.6-.7z"/>
<path color="#00e44d" d="M71.1 370.7l.7.6 1.8-2.4-.7-.4z"/>
<path color="#00bd50" d="M71.8 371.3l.7.3 1.8-2.6-.7-.1z"/>
<path color="#009654" d="M72.5 371.6l.8.1 1.8-3-.8.3z"/>
<path color="#007862" d="M73.3 371.7l1.4-.4 1.7-3.8-1.3 1.2z"/>
<path color="#005e73" d="M74.7 371.3l1.3-.4 1.7-4.6-1.3 1.2z"/>
<path color="#00467c" d="M76 370.9l.9 0 1.6-5-.8.4z"/>
<path color="#003d91" d="M76.9 370.9l.8.3 1.6-5.3-.8 0z"/>
<path color="#003ead" d="M77.7 371.2l0 0 1-.2 1.3-4.6-.7-.5z"/>
<path color="#0140e1" d="M79.6 371l1.1-3.9-.7-.7-1.3 4.6z"/>
<path color="#0c50ff" d="M80.6 371.3l.9-3-.8-1.2-1.1 3.9z"/>
<path color="#236eff" d="M81.7 371.9l.6-2.1-.8-1.5-.9 3z"/>
<path color="#1b78ff" d="M83 373l.3-1-1-2.2-.6 2.1z"/>
<path color="#0982ff" d="M84.4 374.9l-1.1-2.9-.3 1z"/>
<path color="#007b8f" d="M54.1 350.9l1.2.1 2-4.6-.4.1-2.7 4.2z"/>
<path color="#006698" d="M55.3 351l.8.3 2-5-.8.1z"/>
<path color="#0062ac" d="M56.1 351.3l.7.4 1.9-5.2-.6-.2z"/>
<path color="#0064c6" d="M56.8 351.7l.6.6 2-5.3-.7-.5z"/>
<path color="#0179fb" d="M57.4 352.3l.7.8 1.9-5.4-.6-.7z"/>
<path color="#0781ff" d="M58.1 353.1l.7 1 1.9-5.4-.7-1z"/>
<path color="#1294ff" d="M58.8 354.1l.7 1.2 1.9-5.3-.7-1.3z"/>
<path color="#14a5ff" d="M59.5 355.3l.8 1.6 2-5.1-.9-1.8z"/>
<path color="#0bb7ff" d="M60.3 356.9l1.1 2.2 2-4.9-1.1-2.4z"/>
<path color="#03e0ff" d="M61.4 359.1l1.7 3.8 2.1-4.2-1.8-4.5z"/>
<path color="#00ffde" d="M63.1 362.9l1.7 3.9 2.2-3.6-1.8-4.5z"/>
<path color="#00ffac" d="M64.8 366.8l1.1 2.1 2.1-3.2-1-2.5z"/>
<path color="#00ff91" d="M65.9 368.9l.9 1.7 2.1-3.1-.9-1.8z"/>
<path color="#00ff81" d="M66.8 370.6l.7 1.3 2.2-3-.8-1.4z"/>
<path color="#00ff7a" d="M67.5 371.9l.7 1 2.2-3-.7-1z"/>
<path color="#00ff7a" d="M68.2 372.9l.7.8 2.2-3-.7-.8z"/>
<path color="#00fa7f" d="M68.9 373.7l.7.7 2.2-3.1-.7-.6z"/>
<path color="#00d378" d="M69.6 374.4l.8.6 2.1-3.4-.7-.3z"/>
<path color="#00b47c" d="M70.4 375l.6.3.4-.1 1.9-3.5-.8-.1z"/>
<path color="#00927e" d="M73.4 374.1l1.3-2.8-1.4.4-1.9 3.5z"/>
<path color="#007184" d="M75.4 372.7l.6-1.8-1.3.4-1.3 2.8z"/>
<path color="#00598d" d="M76.6 371.8l.3-.9-.9 0-.6 1.8z"/>
<path color="#00509f" d="M77.7 371.3l0-.1-.8-.3-.3.9z"/>
<path color="#00b1ab" d="M50.6 355l1 .6 2.5-4.7 0 0z"/>
<path color="#009dae" d="M51.6 355.6l1.3.7 2.4-5.3-1.2-.1z"/>
<path color="#008db8" d="M52.9 356.3l.8.6 2.4-5.6-.8-.3z"/>
<path color="#008bc8" d="M53.7 356.9l.7.7 2.4-5.9-.7-.4z"/>
<path color="#0096e6" d="M54.4 357.6l.7.7 2.3-6-.6-.6z"/>
<path color="#01a3ff" d="M55.1 358.3l.6.8 2.4-6-.7-.8z"/>
<path color="#05a6ff" d="M55.7 359.1l.7 1 2.4-6-.7-1z"/>
<path color="#0bb1ff" d="M56.4 360.1l.7 1.1 2.4-5.9-.7-1.2z"/>
<path color="#0ebfff" d="M57.1 361.2l.9 1.5 2.3-5.8-.8-1.6z"/>
<path color="#0bcfff" d="M58 362.7l1 1.9 2.4-5.5-1.1-2.2z"/>
<path color="#05ecff" d="M59 364.6l1.7 3.3 2.4-5-1.7-3.8z"/>
<path color="#02ffe9" d="M60.7 367.9l1.6 3.3 2.5-4.4-1.7-3.9z"/>
<path color="#01ffc9" d="M62.3 371.2l0 .1 1.5 1.2 2.1-3.6-1.1-2.1z"/>
<path color="#00ffaf" d="M64.9 373.4l1.9-2.8-.9-1.7-2.1 3.6z"/>
<path color="#00ffa1" d="M66 374.2l1.5-2.3-.7-1.3-1.9 2.8z"/>
<path color="#0f9" d="M67 374.7l1.2-1.8-.7-1-1.5 2.3z"/>
<path color="#00ff97" d="M68 375.2l.9-1.5-.7-.8-1.2 1.8z"/>
<path color="#00ff9b" d="M69 375.4l.6-1-.7-.7-.9 1.5z"/>
<path color="#00de90" d="M70.1 375.4l.3-.4-.8-.6-.6 1z"/>
<path color="#00c98c" d="M71 375.3l-.6-.3-.3.4z"/>
<path color="#00f3d3" d="M46.5 359.2l.8.8 2.4-4.1-2.8 2.7z"/>
<path color="#00d5c6" d="M47.3 360l1.4 1.2 2.9-5.6-1-.6-.9.9z"/>
<path color="#00c2cf" d="M48.7 361.2l1.3 1.3 2.9-6.2-1.3-.7z"/>
<path color="#00b6d6" d="M50 362.5l.8.8 2.9-6.4-.8-.6z"/>
<path color="#00bdec" d="M50.8 363.3l.8.8 2.8-6.5-.7-.7z"/>
<path color="#01c7ff" d="M51.6 364.1l.5.7.2.1 2.8-6.6-.7-.7z"/>
<path color="#02c2ff" d="M53.2 365.1l2.5-6-.6-.8-2.8 6.6z"/>
<path color="#04c3ff" d="M54.2 365.4l2.2-5.3-.7-1-2.5 6z"/>
<path color="#07c8ff" d="M55.2 365.9l1.9-4.7-.7-1.1-2.2 5.3z"/>
<path color="#09d1ff" d="M56.3 366.5l1.7-3.8-.9-1.5-1.9 4.7z"/>
<path color="#09ddff" d="M57.7 367.4l1.3-2.8-1-1.9-1.7 3.8z"/>
<path color="#06f3ff" d="M60 369.2l.7-1.3-1.7-3.3-1.3 2.8z"/>
<path color="#02ffee" d="M62.3 371.2l0 0-1.6-3.3-.7 1.3z"/>
<path color="#00ffe2" d="M41.3 363.2l0 0 .3.1.5-.8z"/>
<path color="#00ffe1" d="M42.6 363.6l1.8-2.9-2.3 1.8-.5.8z"/>
<path color="#00ffdf" d="M43.7 363.9l2.8-4.7-.1-.2-2 1.7-1.8 2.9z"/>
<path color="#00ffe6" d="M44.9 364.2l2.4-4.2-.8-.8-2.8 4.7z"/>
<path color="#00f1e7" d="M47 364.4l1.7-3.2-1.4-1.2-2.4 4.2z"/>
<path color="#00dde7" d="M49 364.5l1-2-1.3-1.3-1.7 3.2z"/>
<path color="#00d5f0" d="M50.2 364.6l.6-1.3-.8-.8-1 2z"/>
<path color="#00d8ff" d="M51.3 364.7l.3-.6-.8-.8-.6 1.3z"/>
<path color="#01d3ff" d="M52.1 364.8l-.5-.7-.3.6z"/>
</g></g>
<path d="M114.3 287.7l0 0M114.9 288.3l1.9 3.3 3.3 7.5 2 3.9 1.8 2.5M124.3 305.8l.9.6.8.1.9-.1M129.8 304.2l1.9-1.8 1.9-1.4 1.2-.5M135.3 300.4l1.4.1 1.7.8 2 1.5 5.1 4.7 1.2.8 1.9.8 2.8.4 6.2-.2 3.3.5 1.8.6 8.6 3.8 2 .7 12.7 2.8 15.3 4.9M201.9 322.7l10.8 2.9 22.1 6.4M169.1 406.1l.5.3.9.1M170.8 406.4l.8-.7 1.2-2.1 2.7-6.7 1.7-3.5.8-1 .7-.4.8.2.7.9M180.4 393.5l2.8 6.9.8 1.3 1 .9.4 0 1.2-.8 1.4-2.3M188.2 399l1.3-3M189.8 395.1l7.8-22.6 3.2-7.3 2.1-3.8 3.1-4.6 10.8-13.7 12.4-17.1M150 417.5l1.2-2.7 1.8-5.9M153 408.8l.9-3.3.8-3.3M154.8 401.8l.8-2.7.9-2.8M156.6 395.7l.8-2 1.2-2.1 1.2-1.2 2.5-.8M162.7 389.4l.3-.3.8-1M164.7 386.5l.8-2.1.9-2.6M166.5 381.4l2.8-11.4M170.5 364.9l.2-.8 1.1-4M175 351.1l1-1.4M176.6 349.2l.8-.2 1.3.5 3.8 4 1.3 1 1.5.6 1.7-.3M187.3 354.7l1.7-1.2 2.3-2.4 2.7-3.6 6.6-9.6M200.9 337.6l4.7-6.4 8-10.4M111.9 287.1l.9 1.1.8 1.4M113.8 290l1.1 2.8 3.1 9.6M118.3 303.4l2.1 5.8 1.2 2.6.7 1M122.6 313.2l.9.7.9.1M131.9 304.3l1.2-1 1-.4 1 0 .8.4 1.9 1.5 5.5 7.1 1.9 1.9 1.1.6 1.8.7.9 0 1.8-.2M151 314.9l5.3-1.4 1.3 0 2 .3 2.8 1.1 6.4 3.8 3.3 1.3 1.9.5 8.8 1.3M183 321.9l4 1.1 11.2 4 13.1 3.4 20.4 6.1M159.4 409.3l1-3.1 1.5-3.6 1-1.6 2.1-2.5 1.2-1.9 1.8-4.5M168.2 391.6l.7-2.4.9-3.4M170.3 383.7l4.2-16.7 1.5-4.2.5-.8 1.2-1.2M177.7 360.8l.8.3.8 1M179.4 362.2l1.3 2.9 2.3 6.1 1 1.9 1.3 1.4 1.3.2 1.3-.7 1.5-1.8 1.6-2.6 4-7.6M195.1 361.8l4.2-7.8 3-5 3.4-5 4.8-6.4M210.8 337.2l10.8-14.1M131.8 387.4l1.3-5.7.4-1.4M145.2 379.1l1.2-.7.8-1.2 2.2-4.2M149.6 372.7l1.4-2.2.8-.7.9-.1.7.5.8.9 1.6 3.2M156.8 376.6l1 2.2 1 1.4.7.5M160.5 380.8l.5-.4 1.1-1.4 1.6-3.4 3.1-9.3M166.9 365.7l2.9-9.1 3.3-9.1 3-5.9 1.6-2.5 1.9-2.4M179.7 336.6l2.6-2.9M182.7 333.3l5.6-5.7 4.3-4.7M193 322.4l5-5.9M140.9 379.5l1.5 2.5 1.9 4M145.2 387.7l.8 1.3.9.8.9.3M148.2 390l1.3-.9 2.9-4.2 1.2-1.2.8-.2.9.4M164.4 386.6l1-3.4M167.1 376.2l1.6-6.6M170.6 362.2l1.2-4.1M174.3 351.4l.5-1M176.5 347.7l1.3-1.5 1.6-1.2M179.7 344.8l5.7-2.8 1.9-1.3 1.9-1.8 5.5-6.1 11.1-14.2M108.9 286.4l.8.1.9 1.2 1.1 2.3 1.4 4.6 4.6 18.1M118.7 315.9l1.3 3.6 1 2 1 1M132.4 304.7l1-.2.8.4M135.2 305.7l2 2.9 2.1 4.2M140.5 315l2 3.4 1.2 1.5 1.3 1.1M145.7 321.3l.9.2 1.9-.3 4.4-2.5 2-1 1.3-.3 1.1 0 1.9.5M159.5 318l1.6.9 4.4 3.5 3.1 2.1M168.9 324.7l2 .8 1.9.4 6.8.4 2.3.3 2.2.5 1.9.6 9.2 3.9 2.1.7 13.7 3.3 17.5 5.6M114.1 384.3l.5.4 1.9 2M116.5 386.7l1.9 2.7 2.1 3.3M121.2 393.7l1.6 1.8 1 .5.5 0 1.2-.7.4-.6 1.4-3M127.7 390.3l4.4-17.6 1.7-4.9 1.1-1.8 1.3-1.1 1.8-1 .8-.7.8-1.1.8-1.6M140.9 359.3l1.1-3.7 1.6-6.6M144.6 344.7l.9-4.2M146.9 334.9l.9-3.1.9-2.4M150.5 326.4l1.3-.5.3.1 1.1.7 1.5 1.6M155.3 329.2l2.1 3 1.4 1.6M159 334l1.3.9.8.3 1.1.1 1.5-.5 2-1.5 2.4-2.6 8.2-10.7 6.5-8M123.7 413.9l.9-.5M125.3 412.7l1.1-1.6M140.6 372.1l1-1.5 1.1-2.5.9-2.5 1.6-6.2M145.3 358.7l.7-2.9.9-3.7M147.1 351.4l.6-2.7.8-2.9M148.8 345l.6-1.6.9-1.8M150.6 341.2l.7-.6 1.2.1.9 1.2.9 1.6M154.6 344.2l1.3 3 1.3 3.2M158 351.9l.6 1 1.3 1.6 1.3.4 1.4-.5M163.3 353.8l2.2-3.2 7.2-13.7 3.8-6.2 5.3-6.9 8.6-9.7M106.7 288.1l.9-.2.9.9 1 2.3 1.2 4 2.2 9.4M114.6 312.5l2.3 10.3.8 3M118.3 327.6l1 2.7 1 1.4M132.5 305.4l.8.9M134.4 308.1l1.1 2.4 3.4 9.3 2 4.9 1.3 2.3 1 1.2 1 .6.9.2.9-.2 1.6-1.1M148 327.4l3.4-3.9 2.1-1.9 1.3-.7 1.1-.2 1 .1 1 .4.9.5 1.6 1.4M160.9 323.6l3.3 3.8 2.1 2.1 2 1.3 1.4.7 2.9.4 6.9-.7 3.6.5 3 1.2 8.2 4.1 2.2.8 13.9 3.1 14.8 5M98.1 390.7l1.1-1.4M100.7 386.6l1.8-4.5 1.6-5.2M120.7 353.7l1.3 1.1 1 .2 1.2-.7 3-4 .8-.8.8-.4.8.1.9.7.8 1.2 3.6 7.2M135.3 358.9l.9 1.3.9.7.9.1M138.8 360.4l.7-1 1.4-3.1 1.4-4 2.8-9.8M150.6 326.3l2.5-4.5 2.1-2.8 2.4-2.4 2.8-2.3M160.5 314.2l4.4-3.6 3.1-2.8M104.9 373.6l.1-.2M105.7 371l2.6-8.3 1.7-4.2 1.7-2.8 1.7-1 .3-.1 2 1.3.4.4 1.7 2.5 3.4 6.2 1 1.2.9.8.9.2.9-.3.9-.9 3.7-5.9 1.2-1 1 .1.8.6M153.4 324.8l1.5-.7M155 324.1l5.5-.9 2.3-.9M163 322.2l1.3-.8 1.3-.9M166.1 320.1l3.8-3.7 5.4-6.1M102.2 305.4l.3-1.7M103.1 300.5l.8-3.3.4-1.2M104.7 295.2l.9-.8.9.3 1 1.7 1.2 3.4 2.3 9.6 4.1 19.3 1.9 7.5M130.7 305.1l.9 1.3 1.5 3.4M133.7 311.8l3.8 14 1.8 6 1.3 3.1 1.2 2 .8.7 1 .2.9-.4 1.7-2M152.1 325.2l1.3-1.3 1.1-.5 1-.1 1 .4M157.5 324.5l2 2.5 2.9 4.8M162.9 332.5l2.1 3 1.3 1.3 1.1.9 1.9.7M169.4 338.4l1 0 2.1-.4 5.2-1.9 2.2-.2 1.1.1 2.1.5 2 1 4.7 3.2 3.5 2.1 2.3.9 3.5.8M199.9 344.6l7.5 1 2.3.6 12.2 4.6M89.1 382.8l.7.1M90.2 383l3.1 1.2 4.9 2.8 1.9.6M104 385.1l1.3-2.9M105.9 380.4l1.3-4.5.9-4.2M117.9 349.3l1.1-.6 1.2-1.7 1.4-3.6 1.1-3.8M123.2 337.5l2.6-9.9.7-2.1.9-1.5.9-.8M128.4 323.2l.9.1 1.3 1.4M130.8 324.9l1.7 3.4 1.7 3.8M134.5 332.7l1.3 2.2 1.4 1.9 1.4.7 1.4-.4M140.2 337l1.2-1.2 1.4-2.1 5.1-10.1M148 323.3l2.8-5.4 2.9-4.4 2.9-3.9 4.1-4.3M93.1 317.9l.4.3M95.6 319.5l.1.1M98.6 318.3l.9-1.6 3.6-8.1.8-1 .9-.4.7.4M105.7 307.8l1.1 1.7 1.1 2.6 2.6 9.5M110.6 322l2.5 10.2.3 1.4M128.4 305.4l.3.1 1 1.2 1.1 2.5 2.2 8.5M133.3 319.1l2.2 10.7 1.9 8.4M137.7 339.3l1.3 4.3 1.1 2.4 1 1.3.6.2M142 347.5l.9-.5 1-1.4 1-2.2M153.1 325.1l1-.2 1 .4 1 .9 1 1.5 1.1 2.2 3.4 7.9 2 4.3 1.7 2.4M166 345.1l1.1.6.9.3 1-.1 2.3-1.1 3.7-2.8 2.3-1.4 1.8-.5 1.9.2 1 .4 2.1 1.2 4.7 4.4 2.2 1.8 1.4.9 2.2 1 2.9.6M197.8 350.6l7.5.1 2.7.5 3.2 1 7.3 3.5M72.5 374.6l2.3-3.4 2.4-4.6M78.6 363.7l2.4-6.4 1.8-5.4M83 351.4l3-8.8M86.5 341.3l1.1-2.6 1.7-2.6 1-.9.8-.3 1.6.3 1.8 1.6 1.2 1.8 4.4 7.1M100.6 346.3l1.5 1.3.9.2.9-.5.9-1 .8-1.4 2.5-5.2 1.1-1.7 1.2-.7M110.8 337.3l.6.2M132.6 304.9l1.5.1 3.9.7 2.1-.1 1.7-.4 1.6-.8 3-2.1M80 371.1l3.9-5.7 2.1-2.1 2-1.2M88.5 362l1.5 0 2 .9 1.3 1.1 2.8 3.3 2 3M98.3 370.6l1.9 2.6M101.3 374.3l1.3.7.9 0 .6-.4M112.9 344.8l1.1-1.5 2.2-1.8 1.6-2M118.6 338l.8-2.2.8-2.7M121.6 326.6l.8-3.6M123.5 317.8l.6-2.8M125.2 310.8l.1-.2 1.6-3.7M127.1 306.6l1.7-1 1.5.8 1.5 2M132 308.6l4.1 6.4 1.7 1.8 1.6.9 1.6 0 1.9-.8 2.1-1.8 2.4-2.8 6-7.7M88.6 323.3l1.4-.3M95.1 322.8l1.3.4 1.8.4M98.3 323.6l1.2-.1 1-.4 2.6-1.1 1-.2.7.2M105.1 322.1l1.3 1.1.7.9 1.5 2.9.9 2.2M110.9 332.9l1.2 3.5M123.9 315.4l1-3.5 1-1.9.7-.6 1.2.8 1.1 2.2 1.1 4 1.5 6.4 4.5 23.7 1.5 5.8M138.5 355.2l1 1.7.9.5.9-.6M152.7 325.4l1 .4 1 1.2M156.8 331.9l1.3 4.2 1.5 5.1M160.2 343.3l2 6.1 1.8 3.6M164.6 353.7l1 .8 1 .2 1-.2 1.1-.7 1.2-1.2 5.3-6.6M176.2 345l1.5-1 1.2-.3 1.1.1 1.8.9M182.1 344.9l2.1 2.3 4.7 6.2 2.4 2.4 1.2.7 1.1.5 2.1.4 1.9-.1 4.5-.8 2.4-.3 1.5 0 2.5.5M209.5 357.1l2.2 1 3.3 2M64.7 373.3l2.8-1.4M67.5 371.9l6-3M73.9 368.6l1.9-1.5.4-.4M90 323.7l.2-.5M94.1 321.8l1.1 1.4M96.3 324.9l1 1.9 1.1 2.1M98.4 328.9l1.1 1.8.9 1.4M100.8 332.6l.6.5.9.5 1 0 1.1-.7 2.2-2.2M107.3 330.2l1-.2.8.2.9.8M111.3 332.9l.6 1 .9 1.8M113.9 338l.7 1.4M132.3 303.6l1-1.2 2.1-2 3.9-2.6M84.2 331.1l1.8 4.2M98.3 328.4l2.9 1.8 1.4.7M103.2 331.1l2.7.8M106.5 332.1l1.9 1.4M109.9 335.1l.9 1.2M119.1 336.2l.5-1.6M121 330.1l.7-2.5M122.1 326.1l1.1-3 .9-1.9.9-1.1 1 0 1 1.3 1.2 2.7.7 2.1M129.7 329.3l6 28.7 1.1 3.8 1 2.2M151.1 325.8l1.1.2 1 1.3 1 2.5 1.2 3.8 1.3 5.5 2.9 13.8M160.8 357.4l1.3 3.9 1.1 2.1.8.9M164.2 364.5l1 .3 1-.5 1.1-1.1 1.4-2.3 5.4-10.4M175.1 349l1.5-1.8 1.3-.7 1.1-.1.7.3M180.1 346.9l1 .9 2.2 3.2 3.4 6.8 2.2 3.7 1.4 1.7 1.1 1 1.1.6 1.1.3 2.2-.2 5.4-2.4 2.6-.9 1.5-.2 1.3 0 2.3.7M208.9 362.1l2.7 1.5M56.4 366.5l1.2-1.1 1.2-1.1M59.2 364l1.7-1.2 3.1-1.8 1.8-.6 2.9-.3M68.9 360.1l3.1.7 5.7 2.4M98.6 328.3l.1 0 1.2-.4M100.4 327.3l.6-1 .9-2M102 324l.7-2 .7-2.5M103.5 318.9l.6-2 .7-2.6M105.1 313.3l1.2-3.3.6-.9 1-.9 1 .1 1.1 1 1.3 2.1 3.9 7.5 1.6 2.2 1.5.9 1.2-.1 1.6-1.4M121.2 320.4l1.3-2M122.7 317.9l1.2-2.2M128.8 304.9l3.6-6.4M49.4 363.7l5-6.2M54.5 357.4l6-8.2 2.8-3.4 2.3-2.1 2.2-1.1 2-.2 2.1.8.7.4 1.4 1.3 2.1 2.4 4.2 5.5M95.4 323.1l1.2-1.1M97.1 321.5l1.2-1.6.8-1.6 1.4-4.6M100.6 313.3l.6-2.7.7-3.3M102.5 304l1.4-7.2M104.1 296.2l.7-2.8 1.2-3.3 1.3-1.8.5-.2 1.2.1.6.5 1.2 1.4 2 3.3M112.9 293.5l2.4 4.1 2.3 3 1.5 1.3 1.6.4 1.7-.4M122.4 301.9l1-.5.9-.8M124.5 300.5l1.1-1.2M78.4 324.6l4.5 17.5M99.5 330.5l.7 1.1M100.7 332.5l1.9 3 1.7 1.9 2.1 1.3 1 .2M107.7 339l2.8.5 4.5 1.8 1.4.3M117.1 341.6l1.6-.8M119.1 340.5l4-4.2M123.4 336.1l.9-.5 1.1.2 1.1.9 1.4 2.4 2.3 6.7 2.7 10.5M133.9 359.7l1.1 3.7M148.4 330.1l1.1-1.7.9-.3M150.6 328.1l1 1.1 1.1 2.6 1.1 4.2 6 31.7M160.6 370.7l1.1 2.9 1 1.6 1 .4.4-.2M164.7 375l1.1-1.5 1.3-2.6 2.1-5.5M176.9 348.4l1.1-.4 1.1.4 1 1.2 1.1 1.8 1.1 2.6 2 5.9M185.6 363.9l2.1 5.3 1.4 2.4 1.1 1.4 1.1.7 1.1.3 1.1-.1 1.7-.9 5.2-4.3 2.6-1.9 1.7-.6 1.3-.2 2.1.5M72.2 317.9l2.9 9.3 6.6 24.7M94.4 322.1l1 1.6.4.8M96.6 326.3l4.7 14.5M102 342.9l2.1 4.8M104.4 348.4l1.4 1.9.7.5M106.9 350.9l1 0 .8-.4M108.8 350.5l.9-.7.9-.8M118.5 348.3l2.1.6 1.5.2M122.6 349.1l1 0 1.1.1M124.8 349.2l1.2.4 1.3.9 1 1 1.4 2.1 2.2 4.4M132 358.3l1.1 2.1M144.1 347.4l.2-.7M145.5 342.2l1.5-4.1.8-1.4 1.1-.8 1 .4 1.1 1.9 1.2 3.7 1.4 6.2 4.2 24.8 1.5 7M160.2 382.7l1 2 1 .8 1-.5 1.3-1.9M165.6 380.3l1.6-5.1M177 348.8l1.1.4 1.1 1.3 1 2.4M180.4 353.4l.9 3 3.3 13.8 1.9 7.5 1.3 3.4 1 1.7M189 383l1 1 1.1.2 1.2-.3 1.2-.9 1.4-1.5 5.7-7.9 1.7-1.9 2.1-1.4M67.1 322.8l.4.3 1.1 1.1.5 1 2.4 5.6 5.8 19 3.1 9M89.7 324.2l.9-1.7M91.3 322.2l.2 0 1.1 1.2 1.1 2.5 2.2 7.1M96.9 336.7l5.6 22 1.5 4.5 1.2 2.3.6.7M120.4 352.9l1 1M121.5 354.1l2.6 2.2 2.2 1.1 3.6 1.4 1.2.7 2.6 2M135.2 362.7l1.1.5M136.4 363.3l1.4.2.8-.3 1.5-1.2.9-1.3 2.5-4.5M143.8 355.7l2.4-4.1.9-.8 1.1-.3.6.2M149.3 351.1l1.2 2 .8 2M151.9 357.2l1.9 7.7M154.2 366.8l2.1 10.9 0 .2M157.6 383.8l1.1 4M165.8 382.5l2.8-10.9 1.4-5.5M174.7 351.9l1.2-1.4M176.4 350.4l.7.1 1.1 1.4 1 2.7 1.8 7.8M181.5 365.2l1.9 11.4 1.4 7.8M185.3 386.7l1.2 4.6 1.1 2.6 1.1 1.4.4.2.7.1 1.1-.5 1.3-1.3 2.6-4.3M195.5 388.1l3.1-6.4 1.6-3.1M63.4 333.3l.9-.4.9.2 1 .9 1.2 1.7 1.1 2.1M69 338.7l2.7 6.7 2.5 6.9M74.4 353l1.7 4.3 1.3 2.9 1.1 2M87.3 331.7l.8-1.9.8-.7 1.2.6 1.1 2.1 1.4 3.7 2.1 7.4 5.6 23.5 1.6 6 1.3 3.6M119.1 351.3l1.2 2.9M120.4 354.4l2.6 6.4 1.3 2.6 1.2 2 1.1 1.2 1.3.8M128 367.4l1.2.2 3.9-.5 1.4.1 5.6 1.5M140.6 368.7l1.4-.1 1-.2M143.2 368.3l3.2-1.1 1.1-.1 1.2.4 1.9 1.9 1.9 3.7.7 1.6M154.8 379.6l.9 2.9M170.1 367.6l.3-1.3M171.9 361.8l1.4-3.6 1.3-2 .6-.4M175.8 355.7l1.1.9 1.1 2.5 1.1 4.3 1.7 9.7M182.2 383.3l1.8 12.2 1 5.1M185.2 401.3l1 3.5 1.1 1.8 1.1.6 1.1-.5 1.3-1.7 1.5-2.9 3-7.4M58 344.7l2-2 .9-.5.9-.1.9.2 1 .7 1.2 1.2 1.9 2.9 7.5 14.9 1.1 1.6 1 1 .9.4M84.2 344.6l.8-2.7.9-1.6.9-.6 1 .3.7.8M88.9 341.5l1.4 2.9 1.7 5.1 2 7.2M94.9 360.2l4.6 17.3 1.4 3.8 1.1 2.4M113.2 344.2l1.1.2 1.1 1.5.4 1M116.6 348.7l1.3 4.3 1.1 4.1M119.6 359.2l2.4 9.7M122.2 369.7l2.5 8.3 1.5 3.3 1.1 1.4M127.4 382.8l1.1.4 1.3-.5 1.7-2 2.6-3.8M142.5 376.1l3.5 1.9 4.9 1.7 2.4 1.8 2.2 2.6M163.1 388.9l.1-.1M165.7 384.9l6-13.8 1.3-2 1.2-1 1 0M175.3 368.2l1.2 1.4 1.5 4.2 1 4.4 1.8 10.5M181 390.2l1.8 12.4 1.1 6.1M184 409.1l1 4 1.1 2.4 1 1 1.2-.2 1.6-2.1M52.6 352.7l4.7-2.2 1.8-.2 1.9.8 1.2.9 1.4 1.6 2.4 3.3 3.6 5.6M70 363.1l2.3 2.9 1 .8.9.4 1.1 0M79 361.6l.5-1.2M80.7 357l1.1-2.7.9-1.8.9-1.1.9-.5 1 .3 1.1 1 1.4 2.3 1.6 3.6 7.3 22.3 1.3 3.5 1 2M99.4 386.1l1 1.3M102.3 387l1-2.2.1-.3M104.4 380.7l1.6-9.5M109.8 351.2l1-1.9 1-.5 1.1.9 1.2 2.4 1.4 4.3 1.7 6.8 5.5 24.9M122.8 388.4l1.5 5.3 1.3 3.2.7 1.1M126.7 398.5l1 .3 1-.8.3-.5M136.7 375.6l1.5-1.6.8-.3M144.3 379.7l2.6 4.2 2.6 2.9 2.1 1 4.5 1.1 5.6 2.5 1.4.4M164.2 391.8l1.8-.6.8-.5 4.3-3.7 1.2-.8 1.2-.4 1 .1M174.7 386l1.3 1.1 1.3 2.3M177.5 389.9l2.2 7.4 3.4 15 1 4M185.2 419l.9 1.4M47.1 358.4l3.1-.1 4.4-.6 1.6.2 2 .8 2.5 1.9 7.4 8 1.1 1 1.7 1M71.1 370.7l1 .1 1.1-.2 1.2-.7 1.9-2.2 3-4.3 1-1.1 1.3-.8.6-.1 1 .3 1.1.8 1.2 1.5 1.6 2.7 2.7 5.9 4.3 10.6 1.3 2.7 1.2 1.9 1.5 1.5M99.6 389.1l1.1-1.4 1.1-2.9 1.8-7.2M107.6 361.3l1-1.8 1-.7.6.1.5.4 1.2 1.8 1.4 3.5 2.4 8.7 6.1 26.8M122.2 401.5l1.3 4 1.2 2.4 1 1 1.1-.2 1-1.6M130.2 398.7l1.7-8.2M132.4 388l2.3-10.1 1.4-4.6M139.7 371.2l1.1 1.8.1.2M142 375.9l1.3 3.9.3 1.1M144.9 385.2l2.4 8.2 1.8 4.6.7 1.3 1.5 2 1.3.7 1.1.1 1.2-.4 2.2-1.3M157.2 400.4l1.3-.8 1.4-.5M160.1 399l2.6 0 4.1 1.4M166.8 400.5l2.5.7 4.8.6M174.2 401.8l1.7.6 1.1.7 1.4 1.6 1.2 1.8M180.8 408.8l1.3 2.8" stroke="#000" stroke-opacity="0.45" stroke-width="0.32" fill="none"/>
<text x="138.7" y="265.9" font-size="9.9" text-anchor="middle" font-weight="bold" >Im(<tspan font-style="italic">q</tspan>(<tspan font-style="italic">x</tspan>, <tspan font-style="italic">t</tspan>))</text>
<text x="131.2" y="249.2" font-size="16.6" text-anchor="middle" font-weight="normal" style="font-family:'Liberation Serif',serif"><tspan font-weight="bold">(a)</tspan> Surface plot</text>
<text x="407.2" y="249.2" font-size="16.6" text-anchor="middle" font-weight="normal" style="font-family:'Liberation Serif',serif"><tspan font-weight="bold">(b)</tspan> Contour plot</text>
<text x="699.4" y="249.2" font-size="16.6" text-anchor="middle" font-weight="normal" style="font-family:'Liberation Serif',serif"><tspan font-weight="bold">(c)</tspan> 2D plot</text>
<text x="131.2" y="480.6" font-size="16.6" text-anchor="middle" font-weight="normal" style="font-family:'Liberation Serif',serif"><tspan font-weight="bold">(d)</tspan> Surface plot</text>
<text x="407.2" y="480.6" font-size="16.6" text-anchor="middle" font-weight="normal" style="font-family:'Liberation Serif',serif"><tspan font-weight="bold">(e)</tspan> Contour plot</text>
<text x="699.4" y="480.6" font-size="16.6" text-anchor="middle" font-weight="normal" style="font-family:'Liberation Serif',serif"><tspan font-weight="bold">(f)</tspan> 2D plot</text>
</svg>
</body></html>
